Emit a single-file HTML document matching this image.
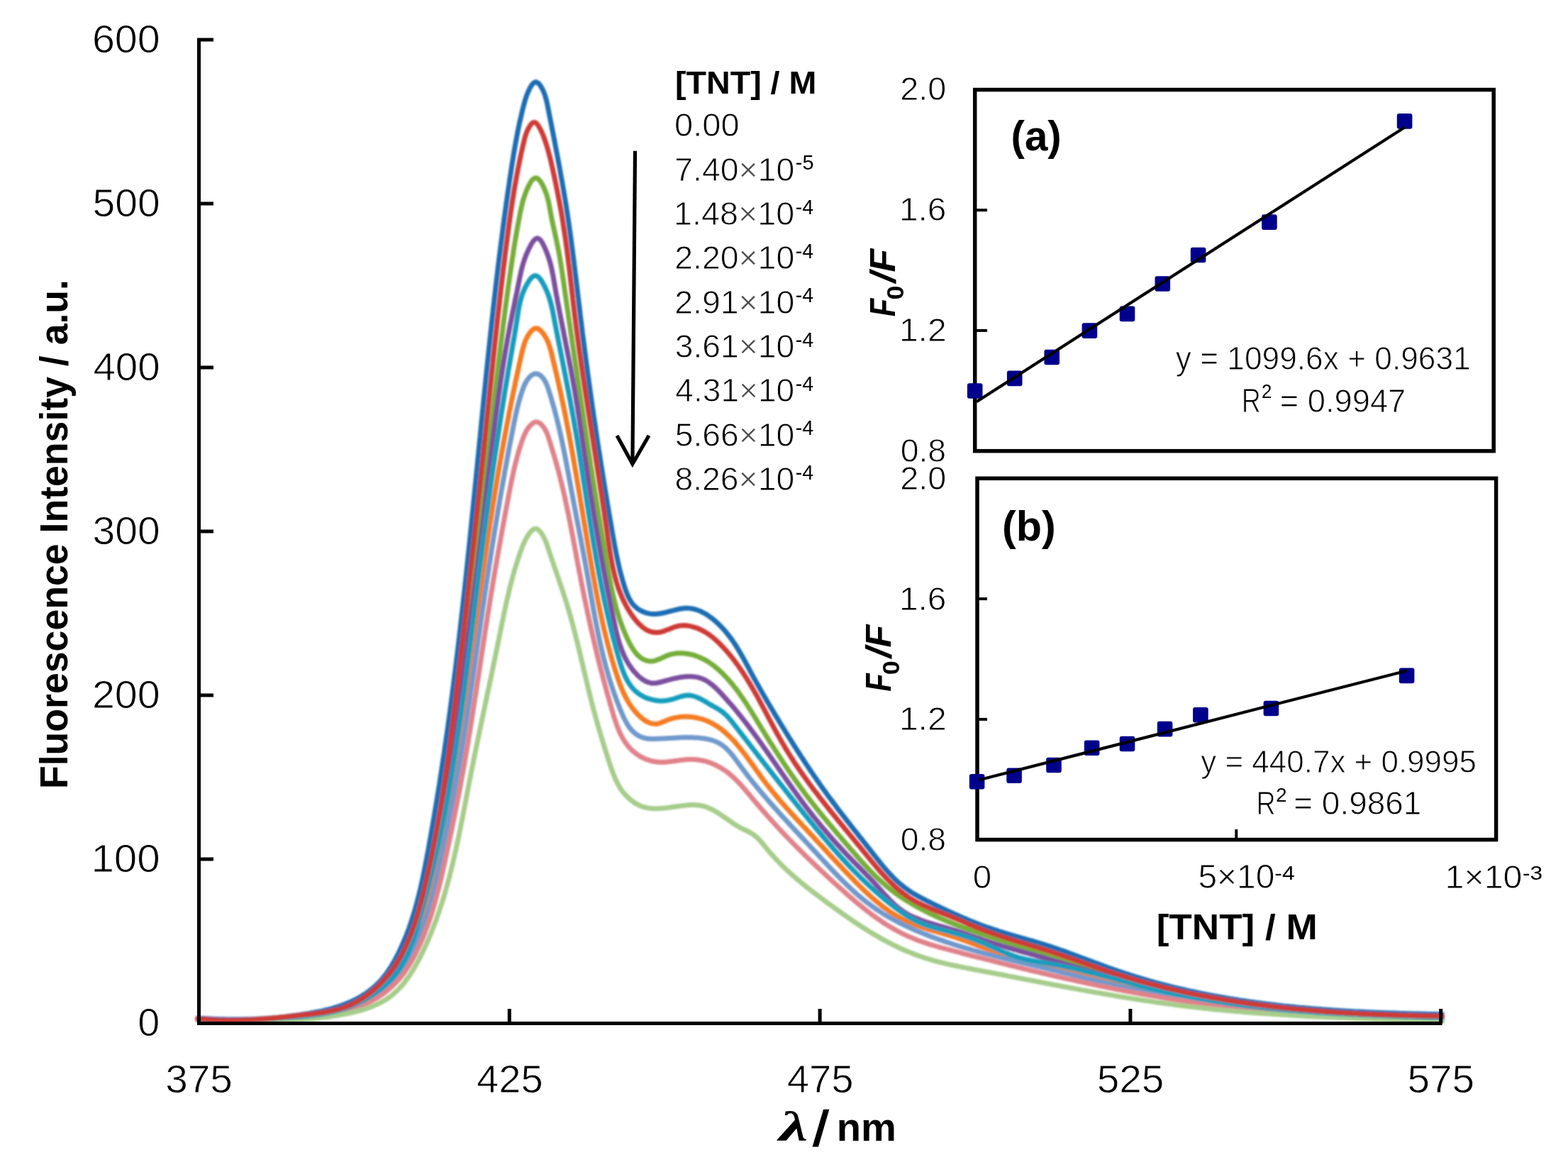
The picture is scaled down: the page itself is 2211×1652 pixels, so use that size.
<!DOCTYPE html><html><head><meta charset="utf-8"><title>Fluorescence quenching by TNT</title>
<style>html,body{margin:0;padding:0;background:#fff;}svg{display:block;}</style></head><body>
<svg xmlns="http://www.w3.org/2000/svg" width="2211" height="1652" viewBox="0 0 2211 1652" font-family="'Liberation Sans', Arial, sans-serif">
<defs><filter id="soft" x="-2%" y="-2%" width="104%" height="104%"><feGaussianBlur stdDeviation="0.8"/></filter><filter id="soft2" x="-2%" y="-2%" width="104%" height="104%"><feGaussianBlur stdDeviation="0.8"/></filter></defs>
<rect width="2211" height="1652" fill="#fff"/>
<g fill="none" stroke-width="7" stroke-linejoin="round" stroke-linecap="round" filter="url(#soft)">
<path d="M279.0,1435.1C280.3,1435.2 281.6,1435.3 283.0,1435.4C284.3,1435.5 285.6,1435.5 286.9,1435.6C288.3,1435.7 289.6,1435.8 290.9,1435.9C292.3,1436.0 293.6,1436.0 294.9,1436.1C296.3,1436.2 297.6,1436.2 298.9,1436.3C300.3,1436.4 301.6,1436.4 302.9,1436.5C304.3,1436.5 305.6,1436.6 306.9,1436.6C308.3,1436.7 309.6,1436.7 310.9,1436.7C312.3,1436.8 313.6,1436.8 314.9,1436.8C316.3,1436.9 317.6,1436.9 318.9,1436.9C320.3,1437.0 321.6,1437.0 322.9,1437.0C324.3,1437.0 325.6,1437.0 326.9,1437.0C328.3,1437.0 329.6,1437.0 331.0,1437.0C332.3,1437.0 333.6,1437.0 335.0,1437.0C336.3,1437.0 337.6,1437.0 339.0,1437.0C340.3,1436.9 341.6,1436.9 343.0,1436.9C344.3,1436.9 345.6,1436.8 347.0,1436.8C348.3,1436.8 349.6,1436.7 351.0,1436.7C352.3,1436.6 353.6,1436.6 355.0,1436.6C356.3,1436.5 357.6,1436.4 359.0,1436.4C360.3,1436.3 361.6,1436.3 363.0,1436.2C364.3,1436.1 365.6,1436.1 367.0,1436.0C368.3,1435.9 369.6,1435.8 371.0,1435.7C372.3,1435.7 373.6,1435.6 375.0,1435.5C376.3,1435.4 377.6,1435.3 378.9,1435.2C380.3,1435.1 381.6,1435.0 382.9,1434.9C384.3,1434.8 385.6,1434.7 386.9,1434.6C388.3,1434.4 389.6,1434.3 390.9,1434.2C392.2,1434.1 393.6,1433.9 394.9,1433.8C396.2,1433.7 397.6,1433.5 398.9,1433.4C400.2,1433.3 401.5,1433.1 402.9,1433.0C404.2,1432.8 405.5,1432.7 406.8,1432.5C408.2,1432.3 409.5,1432.2 410.8,1432.0C412.1,1431.9 413.5,1431.7 414.8,1431.5C416.1,1431.3 417.4,1431.2 418.7,1431.0C420.1,1430.8 421.4,1430.6 422.7,1430.4C424.0,1430.2 425.4,1430.0 426.7,1429.8C428.0,1429.6 429.3,1429.4 430.6,1429.2C431.9,1429.0 433.3,1428.8 434.6,1428.6C435.9,1428.4 437.2,1428.2 438.5,1427.9C439.8,1427.7 441.2,1427.5 442.5,1427.2C443.8,1427.0 445.1,1426.8 446.4,1426.5C447.7,1426.3 449.0,1426.0 450.3,1425.7C451.6,1425.5 452.9,1425.2 454.3,1424.9C455.6,1424.6 456.9,1424.3 458.2,1424.0C459.5,1423.7 460.8,1423.4 462.0,1423.1C463.3,1422.8 464.6,1422.4 465.9,1422.1C467.2,1421.8 468.5,1421.4 469.8,1421.0C471.1,1420.7 472.4,1420.3 473.6,1419.9C474.9,1419.5 476.2,1419.1 477.4,1418.7C478.7,1418.3 480.0,1417.9 481.2,1417.4C482.5,1417.0 483.8,1416.5 485.0,1416.1C486.2,1415.6 487.5,1415.1 488.7,1414.6C490.0,1414.1 491.2,1413.6 492.4,1413.1C493.6,1412.5 494.9,1412.0 496.1,1411.4C497.3,1410.9 498.5,1410.3 499.7,1409.7C500.9,1409.1 502.1,1408.5 503.2,1407.9C504.4,1407.2 505.6,1406.6 506.7,1405.9C507.9,1405.3 509.0,1404.6 510.2,1403.9C511.3,1403.2 512.5,1402.5 513.6,1401.7C514.7,1401.0 515.8,1400.3 516.9,1399.5C518.0,1398.7 519.1,1398.0 520.1,1397.2C521.2,1396.4 522.3,1395.5 523.3,1394.7C524.3,1393.9 525.4,1393.0 526.4,1392.2C527.4,1391.3 528.4,1390.4 529.4,1389.5C530.4,1388.6 531.4,1387.7 532.3,1386.8C533.3,1385.8 534.2,1384.9 535.1,1383.9C536.0,1383.0 536.9,1382.0 537.8,1381.0C538.7,1380.0 539.6,1379.0 540.4,1377.9C541.3,1376.9 542.1,1375.9 542.9,1374.8C543.8,1373.8 544.5,1372.7 545.3,1371.6C546.1,1370.5 546.9,1369.4 547.6,1368.3C548.4,1367.2 549.1,1366.1 549.8,1365.0C550.6,1363.9 551.3,1362.7 552.0,1361.6C552.7,1360.5 553.3,1359.3 554.0,1358.2C554.7,1357.0 555.3,1355.8 556.0,1354.7C556.6,1353.5 557.3,1352.3 557.9,1351.2C558.5,1350.0 559.2,1348.8 559.8,1347.6C560.4,1346.4 561.0,1345.2 561.6,1344.1C562.2,1342.9 562.8,1341.7 563.3,1340.5C563.9,1339.3 564.5,1338.1 565.1,1336.8C565.6,1335.6 566.2,1334.4 566.7,1333.2C567.3,1332.0 567.8,1330.8 568.4,1329.5C568.9,1328.3 569.4,1327.1 569.9,1325.9C570.4,1324.6 571.0,1323.4 571.5,1322.2C572.0,1320.9 572.5,1319.7 573.0,1318.5C573.4,1317.2 573.9,1316.0 574.4,1314.7C574.9,1313.5 575.3,1312.2 575.8,1311.0C576.3,1309.7 576.7,1308.5 577.2,1307.2C577.6,1306.0 578.1,1304.7 578.5,1303.4C578.9,1302.2 579.4,1300.9 579.8,1299.6C580.2,1298.4 580.6,1297.1 581.0,1295.8C581.4,1294.6 581.8,1293.3 582.2,1292.0C582.6,1290.7 583.0,1289.5 583.4,1288.2C583.8,1286.9 584.2,1285.6 584.6,1284.4C584.9,1283.1 585.3,1281.8 585.7,1280.5C586.0,1279.2 586.4,1277.9 586.8,1276.7C587.1,1275.4 587.5,1274.1 587.8,1272.8C588.2,1271.5 588.5,1270.2 588.8,1268.9C589.2,1267.6 589.5,1266.3 589.8,1265.1C590.2,1263.8 590.5,1262.5 590.8,1261.2C591.1,1259.9 591.4,1258.6 591.7,1257.3C592.1,1256.0 592.4,1254.7 592.7,1253.4C593.0,1252.1 593.3,1250.8 593.6,1249.5C593.9,1248.2 594.1,1246.9 594.4,1245.6C594.7,1244.3 595.0,1243.0 595.3,1241.7C595.6,1240.4 595.9,1239.1 596.1,1237.7C596.4,1236.4 596.7,1235.1 597.0,1233.8C597.2,1232.5 597.5,1231.2 597.8,1229.9C598.0,1228.6 598.3,1227.3 598.5,1226.0C598.8,1224.7 599.1,1223.4 599.3,1222.1C599.6,1220.7 599.8,1219.4 600.1,1218.1C600.3,1216.8 600.6,1215.5 600.8,1214.2C601.1,1212.9 601.3,1211.6 601.6,1210.3C601.8,1209.0 602.1,1207.6 602.3,1206.3C602.6,1205.0 602.8,1203.7 603.1,1202.4C603.3,1201.1 603.5,1199.8 603.8,1198.5C604.0,1197.1 604.3,1195.8 604.5,1194.5C604.7,1193.2 605.0,1191.9 605.2,1190.6C605.5,1189.3 605.7,1188.0 605.9,1186.6C606.2,1185.3 606.4,1184.0 606.6,1182.7C606.9,1181.4 607.1,1180.1 607.3,1178.8C607.6,1177.4 607.8,1176.1 608.0,1174.8C608.3,1173.5 608.5,1172.2 608.7,1170.9C609.0,1169.6 609.2,1168.2 609.4,1166.9C609.7,1165.6 609.9,1164.3 610.1,1163.0C610.3,1161.7 610.6,1160.4 610.8,1159.0C611.0,1157.7 611.2,1156.4 611.5,1155.1C611.7,1153.8 611.9,1152.5 612.1,1151.2C612.4,1149.8 612.6,1148.5 612.8,1147.2C613.0,1145.9 613.2,1144.6 613.5,1143.3C613.7,1141.9 613.9,1140.6 614.1,1139.3C614.3,1138.0 614.6,1136.7 614.8,1135.4C615.0,1134.0 615.2,1132.7 615.4,1131.4C615.6,1130.1 615.9,1128.8 616.1,1127.5C616.3,1126.1 616.5,1124.8 616.7,1123.5C616.9,1122.2 617.1,1120.9 617.4,1119.6C617.6,1118.2 617.8,1116.9 618.0,1115.6C618.2,1114.3 618.4,1113.0 618.6,1111.6C618.8,1110.3 619.0,1109.0 619.3,1107.7C619.5,1106.4 619.7,1105.1 619.9,1103.7C620.1,1102.4 620.3,1101.1 620.5,1099.8C620.7,1098.5 620.9,1097.1 621.1,1095.8C621.3,1094.5 621.5,1093.2 621.7,1091.9C621.9,1090.6 622.1,1089.2 622.3,1087.9C622.5,1086.6 622.7,1085.3 622.9,1084.0C623.1,1082.6 623.3,1081.3 623.5,1080.0C623.7,1078.7 623.9,1077.4 624.1,1076.0C624.3,1074.7 624.5,1073.4 624.7,1072.1C624.9,1070.8 625.1,1069.4 625.3,1068.1C625.5,1066.8 625.7,1065.5 625.9,1064.2C626.1,1062.8 626.3,1061.5 626.5,1060.2C626.7,1058.9 626.9,1057.6 627.1,1056.2C627.2,1054.9 627.4,1053.6 627.6,1052.3C627.8,1051.0 628.0,1049.6 628.2,1048.3C628.4,1047.0 628.6,1045.7 628.8,1044.4C629.0,1043.0 629.1,1041.7 629.3,1040.4C629.5,1039.1 629.7,1037.8 629.9,1036.4C630.1,1035.1 630.3,1033.8 630.5,1032.5C630.6,1031.1 630.8,1029.8 631.0,1028.5C631.2,1027.2 631.4,1025.9 631.6,1024.5C631.7,1023.2 631.9,1021.9 632.1,1020.6C632.3,1019.2 632.5,1017.9 632.7,1016.6C632.8,1015.3 633.0,1014.0 633.2,1012.6C633.4,1011.3 633.6,1010.0 633.7,1008.7C633.9,1007.4 634.1,1006.0 634.3,1004.7C634.4,1003.4 634.6,1002.1 634.8,1000.7C635.0,999.4 635.2,998.1 635.3,996.8C635.5,995.4 635.7,994.1 635.9,992.8C636.0,991.5 636.2,990.2 636.4,988.8C636.6,987.5 636.7,986.2 636.9,984.9C637.1,983.5 637.2,982.2 637.4,980.9C637.6,979.6 637.8,978.2 637.9,976.9C638.1,975.6 638.3,974.3 638.4,973.0C638.6,971.6 638.8,970.3 639.0,969.0C639.1,967.7 639.3,966.3 639.5,965.0C639.6,963.7 639.8,962.4 640.0,961.0C640.1,959.7 640.3,958.4 640.5,957.1C640.6,955.7 640.8,954.4 641.0,953.1C641.1,951.8 641.3,950.5 641.5,949.1C641.6,947.8 641.8,946.5 642.0,945.2C642.1,943.8 642.3,942.5 642.4,941.2C642.6,939.9 642.8,938.5 642.9,937.2C643.1,935.9 643.3,934.6 643.4,933.2C643.6,931.9 643.7,930.6 643.9,929.3C644.1,927.9 644.2,926.6 644.4,925.3C644.5,924.0 644.7,922.6 644.9,921.3C645.0,920.0 645.2,918.7 645.3,917.3C645.5,916.0 645.6,914.7 645.8,913.4C646.0,912.0 646.1,910.7 646.3,909.4C646.4,908.1 646.6,906.7 646.7,905.4C646.9,904.1 647.1,902.8 647.2,901.4C647.4,900.1 647.5,898.8 647.7,897.5C647.8,896.1 648.0,894.8 648.1,893.5C648.3,892.2 648.4,890.8 648.6,889.5C648.8,888.2 648.9,886.9 649.1,885.5C649.2,884.2 649.4,882.9 649.5,881.6C649.7,880.2 649.8,878.9 650.0,877.6C650.1,876.2 650.3,874.9 650.4,873.6C650.6,872.3 650.7,870.9 650.9,869.6C651.0,868.3 651.2,867.0 651.3,865.6C651.5,864.3 651.6,863.0 651.8,861.7C651.9,860.3 652.1,859.0 652.2,857.7C652.4,856.4 652.5,855.0 652.6,853.7C652.8,852.4 652.9,851.1 653.1,849.7C653.2,848.4 653.4,847.1 653.5,845.7C653.7,844.4 653.8,843.1 654.0,841.8C654.1,840.4 654.3,839.1 654.4,837.8C654.5,836.5 654.7,835.1 654.8,833.8C655.0,832.5 655.1,831.2 655.3,829.8C655.4,828.5 655.6,827.2 655.7,825.9C655.8,824.5 656.0,823.2 656.1,821.9C656.3,820.5 656.4,819.2 656.6,817.9C656.7,816.6 656.8,815.2 657.0,813.9C657.1,812.6 657.3,811.3 657.4,809.9C657.5,808.6 657.7,807.3 657.8,805.9C658.0,804.6 658.1,803.3 658.2,802.0C658.4,800.6 658.5,799.3 658.7,798.0C658.8,796.7 658.9,795.3 659.1,794.0C659.2,792.7 659.4,791.4 659.5,790.0C659.6,788.7 659.8,787.4 659.9,786.0C660.1,784.7 660.2,783.4 660.3,782.1C660.5,780.7 660.6,779.4 660.7,778.1C660.9,776.8 661.0,775.4 661.2,774.1C661.3,772.8 661.4,771.4 661.6,770.1C661.7,768.8 661.8,767.5 662.0,766.1C662.1,764.8 662.3,763.5 662.4,762.2C662.5,760.8 662.7,759.5 662.8,758.2C662.9,756.8 663.1,755.5 663.2,754.2C663.3,752.9 663.5,751.5 663.6,750.2C663.7,748.9 663.9,747.5 664.0,746.2C664.2,744.9 664.3,743.6 664.4,742.2C664.6,740.9 664.7,739.6 664.8,738.3C665.0,736.9 665.1,735.6 665.2,734.3C665.4,732.9 665.5,731.6 665.6,730.3C665.8,729.0 665.9,727.6 666.0,726.3C666.2,725.0 666.3,723.7 666.4,722.3C666.6,721.0 666.7,719.7 666.8,718.3C667.0,717.0 667.1,715.7 667.2,714.4C667.4,713.0 667.5,711.7 667.6,710.4C667.8,709.0 667.9,707.7 668.0,706.4C668.2,705.1 668.3,703.7 668.4,702.4C668.6,701.1 668.7,699.8 668.8,698.4C668.9,697.1 669.1,695.8 669.2,694.4C669.3,693.1 669.5,691.8 669.6,690.5C669.7,689.1 669.9,687.8 670.0,686.5C670.1,685.1 670.3,683.8 670.4,682.5C670.5,681.2 670.7,679.8 670.8,678.5C670.9,677.2 671.1,675.9 671.2,674.5C671.3,673.2 671.4,671.9 671.6,670.5C671.7,669.2 671.8,667.9 672.0,666.6C672.1,665.2 672.2,663.9 672.4,662.6C672.5,661.2 672.6,659.9 672.8,658.6C672.9,657.3 673.0,655.9 673.1,654.6C673.3,653.3 673.4,651.9 673.5,650.6C673.7,649.3 673.8,648.0 673.9,646.6C674.1,645.3 674.2,644.0 674.3,642.7C674.5,641.3 674.6,640.0 674.7,638.7C674.8,637.3 675.0,636.0 675.1,634.7C675.2,633.4 675.4,632.0 675.5,630.7C675.6,629.4 675.8,628.0 675.9,626.7C676.0,625.4 676.2,624.1 676.3,622.7C676.4,621.4 676.5,620.1 676.7,618.7C676.8,617.4 676.9,616.1 677.1,614.8C677.2,613.4 677.3,612.1 677.5,610.8C677.6,609.5 677.7,608.1 677.9,606.8C678.0,605.5 678.1,604.1 678.2,602.8C678.4,601.5 678.5,600.2 678.6,598.8C678.8,597.5 678.9,596.2 679.0,594.8C679.2,593.5 679.3,592.2 679.4,590.9C679.6,589.5 679.7,588.2 679.8,586.9C680.0,585.6 680.1,584.2 680.2,582.9C680.3,581.6 680.5,580.2 680.6,578.9C680.7,577.6 680.9,576.3 681.0,574.9C681.1,573.6 681.3,572.3 681.4,570.9C681.5,569.6 681.7,568.3 681.8,567.0C681.9,565.6 682.1,564.3 682.2,563.0C682.3,561.7 682.5,560.3 682.6,559.0C682.7,557.7 682.9,556.3 683.0,555.0C683.1,553.7 683.3,552.4 683.4,551.0C683.5,549.7 683.7,548.4 683.8,547.0C683.9,545.7 684.1,544.4 684.2,543.1C684.3,541.7 684.5,540.4 684.6,539.1C684.7,537.8 684.9,536.4 685.0,535.1C685.1,533.8 685.3,532.4 685.4,531.1C685.5,529.8 685.7,528.5 685.8,527.1C686.0,525.8 686.1,524.5 686.2,523.2C686.4,521.8 686.5,520.5 686.6,519.2C686.8,517.8 686.9,516.5 687.0,515.2C687.2,513.9 687.3,512.5 687.4,511.2C687.6,509.9 687.7,508.5 687.9,507.2C688.0,505.9 688.1,504.6 688.3,503.2C688.4,501.9 688.5,500.6 688.7,499.3C688.8,497.9 689.0,496.6 689.1,495.3C689.2,493.9 689.4,492.6 689.5,491.3C689.7,490.0 689.8,488.6 689.9,487.3C690.1,486.0 690.2,484.7 690.4,483.3C690.5,482.0 690.6,480.7 690.8,479.4C690.9,478.0 691.1,476.7 691.2,475.4C691.3,474.0 691.5,472.7 691.6,471.4C691.8,470.1 691.9,468.7 692.1,467.4C692.2,466.1 692.3,464.8 692.5,463.4C692.6,462.1 692.8,460.8 692.9,459.5C693.1,458.1 693.2,456.8 693.3,455.5C693.5,454.1 693.6,452.8 693.8,451.5C693.9,450.2 694.1,448.8 694.2,447.5C694.4,446.2 694.5,444.9 694.7,443.5C694.8,442.2 694.9,440.9 695.1,439.6C695.2,438.2 695.4,436.9 695.5,435.6C695.7,434.2 695.8,432.9 696.0,431.6C696.1,430.3 696.3,428.9 696.4,427.6C696.6,426.3 696.7,425.0 696.9,423.6C697.0,422.3 697.2,421.0 697.3,419.7C697.5,418.3 697.6,417.0 697.8,415.7C697.9,414.4 698.1,413.0 698.2,411.7C698.4,410.4 698.5,409.1 698.7,407.7C698.8,406.4 699.0,405.1 699.1,403.8C699.3,402.4 699.5,401.1 699.6,399.8C699.8,398.5 699.9,397.1 700.1,395.8C700.2,394.5 700.4,393.2 700.5,391.8C700.7,390.5 700.9,389.2 701.0,387.9C701.2,386.5 701.3,385.2 701.5,383.9C701.6,382.6 701.8,381.2 702.0,379.9C702.1,378.6 702.3,377.3 702.4,375.9C702.6,374.6 702.8,373.3 702.9,372.0C703.1,370.6 703.2,369.3 703.4,368.0C703.6,366.7 703.7,365.3 703.9,364.0C704.0,362.7 704.2,361.4 704.4,360.0C704.5,358.7 704.7,357.4 704.9,356.1C705.0,354.7 705.2,353.4 705.4,352.1C705.5,350.8 705.7,349.4 705.9,348.1C706.0,346.8 706.2,345.5 706.4,344.1C706.5,342.8 706.7,341.5 706.9,340.2C707.0,338.8 707.2,337.5 707.4,336.2C707.5,334.9 707.7,333.6 707.9,332.2C708.1,330.9 708.2,329.6 708.4,328.3C708.6,326.9 708.7,325.6 708.9,324.3C709.1,323.0 709.3,321.6 709.4,320.3C709.6,319.0 709.8,317.7 710.0,316.4C710.1,315.0 710.3,313.7 710.5,312.4C710.7,311.1 710.8,309.7 711.0,308.4C711.2,307.1 711.4,305.8 711.5,304.5C711.7,303.1 711.9,301.8 712.1,300.5C712.3,299.2 712.4,297.8 712.6,296.5C712.8,295.2 713.0,293.9 713.2,292.6C713.4,291.2 713.5,289.9 713.7,288.6C713.9,287.3 714.1,285.9 714.3,284.6C714.5,283.3 714.6,282.0 714.8,280.7C715.0,279.3 715.2,278.0 715.4,276.7C715.6,275.4 715.8,274.1 715.9,272.7C716.1,271.4 716.3,270.1 716.5,268.8C716.7,267.4 716.9,266.1 717.1,264.8C717.3,263.5 717.5,262.2 717.7,260.8C717.9,259.5 718.0,258.2 718.2,256.9C718.4,255.6 718.6,254.2 718.8,252.9C719.0,251.6 719.2,250.3 719.4,249.0C719.6,247.6 719.8,246.3 720.0,245.0C720.2,243.7 720.4,242.4 720.6,241.0C720.8,239.7 721.0,238.4 721.2,237.1C721.4,235.8 721.6,234.4 721.8,233.1C722.0,231.8 722.2,230.5 722.4,229.2C722.6,227.9 722.8,226.5 723.1,225.2C723.3,223.9 723.5,222.6 723.7,221.3C723.9,220.0 724.1,218.6 724.3,217.3C724.6,216.0 724.8,214.7 725.0,213.4C725.2,212.1 725.4,210.7 725.7,209.4C725.9,208.1 726.1,206.8 726.4,205.5C726.6,204.2 726.8,202.9 727.1,201.5C727.3,200.2 727.5,198.9 727.8,197.6C728.0,196.3 728.3,195.0 728.5,193.7C728.7,192.4 729.0,191.0 729.3,189.7C729.5,188.4 729.8,187.1 730.0,185.8C730.3,184.5 730.5,183.2 730.8,181.9C731.1,180.6 731.3,179.3 731.6,178.0C731.9,176.7 732.2,175.3 732.4,174.0C732.7,172.7 733.0,171.4 733.3,170.1C733.6,168.8 733.9,167.5 734.2,166.2C734.5,164.9 734.8,163.6 735.1,162.3C735.4,161.0 735.7,159.7 736.0,158.4C736.3,157.1 736.6,155.8 736.9,154.5C737.2,153.2 737.6,151.9 737.9,150.7C738.2,149.4 738.6,148.1 738.9,146.8C739.3,145.5 739.6,144.2 740.0,142.9C740.3,141.6 740.7,140.4 741.1,139.1C741.5,137.8 742.0,136.6 742.4,135.3C742.9,134.0 743.4,132.8 743.9,131.6C744.4,130.3 744.9,129.1 745.5,127.9C746.0,126.7 746.6,125.5 747.2,124.3C747.9,123.1 748.5,121.9 749.2,120.8C750.0,119.7 750.7,118.5 751.7,117.7C752.6,116.8 753.9,115.8 755.0,115.6C756.2,115.5 757.6,116.3 758.7,117.0C759.8,117.7 760.6,118.9 761.4,119.9C762.2,121.0 762.9,122.1 763.5,123.3C764.2,124.4 764.8,125.6 765.4,126.8C766.0,128.0 766.5,129.3 767.0,130.5C767.5,131.7 768.0,133.0 768.4,134.2C768.9,135.5 769.3,136.8 769.6,138.1C770.0,139.3 770.3,140.6 770.6,141.9C770.9,143.2 771.2,144.5 771.5,145.8C771.8,147.1 772.0,148.5 772.3,149.8C772.5,151.1 772.8,152.4 773.1,153.7C773.3,155.0 773.6,156.3 773.8,157.6C774.1,158.9 774.4,160.2 774.6,161.5C774.9,162.9 775.1,164.2 775.4,165.5C775.6,166.8 775.9,168.1 776.2,169.4C776.4,170.7 776.7,172.0 776.9,173.3C777.2,174.6 777.5,175.9 777.7,177.3C778.0,178.6 778.2,179.9 778.5,181.2C778.7,182.5 779.0,183.8 779.3,185.1C779.5,186.4 779.8,187.7 780.0,189.0C780.3,190.4 780.5,191.7 780.8,193.0C781.0,194.3 781.3,195.6 781.6,196.9C781.8,198.2 782.1,199.5 782.3,200.8C782.6,202.1 782.8,203.5 783.1,204.8C783.3,206.1 783.6,207.4 783.8,208.7C784.1,210.0 784.3,211.3 784.6,212.6C784.8,213.9 785.1,215.2 785.3,216.6C785.6,217.9 785.8,219.2 786.1,220.5C786.3,221.8 786.6,223.1 786.8,224.4C787.1,225.7 787.3,227.0 787.5,228.4C787.8,229.7 788.0,231.0 788.3,232.3C788.5,233.6 788.8,234.9 789.0,236.2C789.2,237.5 789.5,238.9 789.7,240.2C790.0,241.5 790.2,242.8 790.4,244.1C790.7,245.4 790.9,246.7 791.1,248.1C791.4,249.4 791.6,250.7 791.8,252.0C792.1,253.3 792.3,254.6 792.5,255.9C792.8,257.2 793.0,258.6 793.2,259.9C793.5,261.2 793.7,262.5 793.9,263.8C794.1,265.1 794.4,266.5 794.6,267.8C794.8,269.1 795.0,270.4 795.3,271.7C795.5,273.0 795.7,274.3 795.9,275.7C796.1,277.0 796.4,278.3 796.6,279.6C796.8,280.9 797.0,282.2 797.2,283.6C797.4,284.9 797.6,286.2 797.9,287.5C798.1,288.8 798.3,290.1 798.5,291.5C798.7,292.8 798.9,294.1 799.1,295.4C799.3,296.7 799.5,298.1 799.7,299.4C799.9,300.7 800.1,302.0 800.3,303.3C800.5,304.7 800.7,306.0 800.9,307.3C801.1,308.6 801.3,309.9 801.5,311.3C801.7,312.6 801.9,313.9 802.1,315.2C802.3,316.5 802.5,317.9 802.6,319.2C802.8,320.5 803.0,321.8 803.2,323.1C803.4,324.5 803.6,325.8 803.8,327.1C803.9,328.4 804.1,329.7 804.3,331.1C804.5,332.4 804.7,333.7 804.9,335.0C805.0,336.4 805.2,337.7 805.4,339.0C805.6,340.3 805.7,341.7 805.9,343.0C806.1,344.3 806.3,345.6 806.4,346.9C806.6,348.3 806.8,349.6 806.9,350.9C807.1,352.2 807.3,353.6 807.5,354.9C807.6,356.2 807.8,357.5 808.0,358.9C808.1,360.2 808.3,361.5 808.5,362.8C808.6,364.1 808.8,365.5 809.0,366.8C809.1,368.1 809.3,369.4 809.5,370.8C809.6,372.1 809.8,373.4 809.9,374.7C810.1,376.1 810.3,377.4 810.4,378.7C810.6,380.0 810.8,381.4 810.9,382.7C811.1,384.0 811.2,385.3 811.4,386.7C811.6,388.0 811.7,389.3 811.9,390.6C812.0,392.0 812.2,393.3 812.4,394.6C812.5,395.9 812.7,397.3 812.8,398.6C813.0,399.9 813.1,401.2 813.3,402.6C813.5,403.9 813.6,405.2 813.8,406.5C813.9,407.9 814.1,409.2 814.2,410.5C814.4,411.8 814.6,413.2 814.7,414.5C814.9,415.8 815.0,417.1 815.2,418.5C815.3,419.8 815.5,421.1 815.7,422.4C815.8,423.8 816.0,425.1 816.1,426.4C816.3,427.7 816.4,429.1 816.6,430.4C816.8,431.7 816.9,433.0 817.1,434.4C817.2,435.7 817.4,437.0 817.6,438.3C817.7,439.7 817.9,441.0 818.0,442.3C818.2,443.6 818.3,445.0 818.5,446.3C818.7,447.6 818.8,448.9 819.0,450.3C819.2,451.6 819.3,452.9 819.5,454.2C819.6,455.6 819.8,456.9 820.0,458.2C820.1,459.5 820.3,460.9 820.5,462.2C820.6,463.5 820.8,464.8 820.9,466.2C821.1,467.5 821.3,468.8 821.4,470.1C821.6,471.5 821.8,472.8 821.9,474.1C822.1,475.4 822.3,476.7 822.4,478.1C822.6,479.4 822.8,480.7 822.9,482.0C823.1,483.4 823.3,484.7 823.5,486.0C823.6,487.3 823.8,488.7 824.0,490.0C824.1,491.3 824.3,492.6 824.5,494.0C824.6,495.3 824.8,496.6 825.0,497.9C825.2,499.2 825.3,500.6 825.5,501.9C825.7,503.2 825.9,504.5 826.0,505.9C826.2,507.2 826.4,508.5 826.6,509.8C826.7,511.2 826.9,512.5 827.1,513.8C827.3,515.1 827.4,516.4 827.6,517.8C827.8,519.1 828.0,520.4 828.1,521.7C828.3,523.1 828.5,524.4 828.7,525.7C828.9,527.0 829.0,528.3 829.2,529.7C829.4,531.0 829.6,532.3 829.8,533.6C829.9,535.0 830.1,536.3 830.3,537.6C830.5,538.9 830.7,540.2 830.8,541.6C831.0,542.9 831.2,544.2 831.4,545.5C831.6,546.9 831.8,548.2 831.9,549.5C832.1,550.8 832.3,552.1 832.5,553.5C832.7,554.8 832.9,556.1 833.1,557.4C833.2,558.7 833.4,560.1 833.6,561.4C833.8,562.7 834.0,564.0 834.2,565.4C834.4,566.7 834.6,568.0 834.7,569.3C834.9,570.6 835.1,572.0 835.3,573.3C835.5,574.6 835.7,575.9 835.9,577.2C836.1,578.6 836.3,579.9 836.5,581.2C836.6,582.5 836.8,583.8 837.0,585.2C837.2,586.5 837.4,587.8 837.6,589.1C837.8,590.4 838.0,591.8 838.2,593.1C838.4,594.4 838.6,595.7 838.8,597.0C839.0,598.4 839.2,599.7 839.4,601.0C839.6,602.3 839.7,603.6 839.9,605.0C840.1,606.3 840.3,607.6 840.5,608.9C840.7,610.2 840.9,611.6 841.1,612.9C841.3,614.2 841.5,615.5 841.7,616.8C841.9,618.2 842.1,619.5 842.3,620.8C842.5,622.1 842.7,623.4 842.9,624.8C843.1,626.1 843.3,627.4 843.5,628.7C843.7,630.0 843.9,631.4 844.1,632.7C844.3,634.0 844.5,635.3 844.8,636.6C845.0,637.9 845.2,639.3 845.4,640.6C845.6,641.9 845.8,643.2 846.0,644.5C846.2,645.9 846.4,647.2 846.6,648.5C846.8,649.8 847.0,651.1 847.2,652.4C847.4,653.8 847.6,655.1 847.8,656.4C848.0,657.7 848.3,659.0 848.5,660.4C848.7,661.7 848.9,663.0 849.1,664.3C849.3,665.6 849.5,666.9 849.7,668.3C849.9,669.6 850.1,670.9 850.4,672.2C850.6,673.5 850.8,674.9 851.0,676.2C851.2,677.5 851.4,678.8 851.6,680.1C851.8,681.4 852.1,682.8 852.3,684.1C852.5,685.4 852.7,686.7 852.9,688.0C853.1,689.3 853.3,690.7 853.6,692.0C853.8,693.3 854.0,694.6 854.2,695.9C854.4,697.2 854.6,698.6 854.9,699.9C855.1,701.2 855.3,702.5 855.5,703.8C855.7,705.1 856.0,706.5 856.2,707.8C856.4,709.1 856.6,710.4 856.8,711.7C857.1,713.0 857.3,714.4 857.5,715.7C857.7,717.0 857.9,718.3 858.2,719.6C858.4,720.9 858.6,722.2 858.8,723.6C859.1,724.9 859.3,726.2 859.5,727.5C859.7,728.8 860.0,730.1 860.2,731.5C860.4,732.8 860.6,734.1 860.9,735.4C861.1,736.7 861.3,738.0 861.5,739.3C861.8,740.7 862.0,742.0 862.2,743.3C862.4,744.6 862.7,745.9 862.9,747.2C863.1,748.6 863.3,749.9 863.6,751.2C863.8,752.5 864.0,753.8 864.3,755.1C864.5,756.4 864.7,757.8 865.0,759.1C865.2,760.4 865.4,761.7 865.7,763.0C865.9,764.3 866.1,765.6 866.4,766.9C866.6,768.3 866.9,769.6 867.1,770.9C867.4,772.2 867.6,773.5 867.9,774.8C868.1,776.1 868.4,777.4 868.6,778.7C868.9,780.1 869.1,781.4 869.4,782.7C869.7,784.0 869.9,785.3 870.2,786.6C870.5,787.9 870.8,789.2 871.1,790.5C871.3,791.8 871.6,793.1 871.9,794.4C872.2,795.7 872.5,797.0 872.8,798.3C873.1,799.6 873.4,800.9 873.7,802.2C874.1,803.5 874.4,804.8 874.7,806.1C875.0,807.4 875.4,808.7 875.7,810.0C876.1,811.3 876.4,812.5 876.8,813.8C877.1,815.1 877.5,816.4 877.8,817.7C878.2,819.0 878.6,820.3 879.0,821.5C879.3,822.8 879.7,824.1 880.1,825.4C880.5,826.6 880.9,827.9 881.3,829.2C881.8,830.4 882.2,831.7 882.6,833.0C883.1,834.2 883.6,835.5 884.1,836.7C884.6,837.9 885.1,839.2 885.6,840.4C886.2,841.6 886.8,842.8 887.4,844.0C888.0,845.2 888.7,846.3 889.4,847.4C890.1,848.6 890.9,849.7 891.7,850.7C892.5,851.8 893.4,852.8 894.3,853.8C895.2,854.7 896.2,855.6 897.2,856.5C898.2,857.3 899.3,858.1 900.4,858.9C901.5,859.6 902.7,860.3 903.9,860.9C905.0,861.5 906.3,862.1 907.5,862.6C908.7,863.1 910.0,863.6 911.3,863.9C912.6,864.3 913.9,864.6 915.2,864.9C916.5,865.1 917.8,865.3 919.1,865.4C920.5,865.5 921.8,865.6 923.1,865.5C924.5,865.5 925.8,865.4 927.1,865.3C928.4,865.2 929.8,865.0 931.1,864.8C932.4,864.6 933.7,864.3 935.0,864.0C936.3,863.8 937.6,863.5 938.9,863.1C940.2,862.8 941.5,862.5 942.8,862.2C944.1,861.8 945.4,861.5 946.7,861.1C948.0,860.8 949.2,860.4 950.5,860.1C951.8,859.8 953.1,859.4 954.4,859.2C955.7,858.9 957.0,858.6 958.3,858.3C959.7,858.1 961.0,857.9 962.3,857.7C963.6,857.5 965.0,857.4 966.3,857.3C967.6,857.3 969.0,857.2 970.3,857.3C971.6,857.3 972.9,857.5 974.3,857.7C975.6,857.8 976.9,858.1 978.2,858.4C979.5,858.7 980.8,859.1 982.1,859.5C983.3,859.9 984.6,860.3 985.8,860.8C987.1,861.3 988.3,861.9 989.5,862.5C990.7,863.0 991.9,863.7 993.0,864.3C994.2,865.0 995.3,865.6 996.5,866.3C997.6,867.1 998.7,867.8 999.8,868.6C1000.9,869.3 1002.0,870.1 1003.0,870.9C1004.1,871.7 1005.1,872.6 1006.2,873.4C1007.2,874.2 1008.2,875.1 1009.2,876.0C1010.2,876.9 1011.2,877.8 1012.2,878.7C1013.1,879.6 1014.1,880.5 1015.0,881.5C1016.0,882.4 1016.9,883.4 1017.8,884.4C1018.8,885.3 1019.7,886.3 1020.6,887.3C1021.4,888.3 1022.3,889.3 1023.2,890.3C1024.0,891.3 1024.9,892.4 1025.7,893.4C1026.6,894.4 1027.4,895.5 1028.2,896.6C1029.0,897.6 1029.8,898.7 1030.6,899.8C1031.4,900.8 1032.2,901.9 1032.9,903.0C1033.7,904.1 1034.4,905.2 1035.2,906.3C1035.9,907.4 1036.7,908.5 1037.4,909.7C1038.1,910.8 1038.8,911.9 1039.5,913.1C1040.2,914.2 1040.9,915.3 1041.6,916.5C1042.3,917.6 1043.0,918.8 1043.6,919.9C1044.3,921.1 1045.0,922.2 1045.6,923.4C1046.3,924.5 1047.0,925.7 1047.6,926.9C1048.3,928.0 1048.9,929.2 1049.5,930.4C1050.2,931.5 1050.8,932.7 1051.5,933.9C1052.1,935.1 1052.7,936.2 1053.4,937.4C1054.0,938.6 1054.6,939.8 1055.3,940.9C1055.9,942.1 1056.5,943.3 1057.1,944.5C1057.8,945.6 1058.4,946.8 1059.0,948.0C1059.7,949.2 1060.3,950.4 1060.9,951.5C1061.6,952.7 1062.2,953.9 1062.8,955.0C1063.5,956.2 1064.1,957.4 1064.8,958.6C1065.4,959.7 1066.1,960.9 1066.7,962.1C1067.4,963.2 1068.0,964.4 1068.7,965.5C1069.3,966.7 1070.0,967.9 1070.6,969.0C1071.3,970.2 1071.9,971.4 1072.6,972.5C1073.2,973.7 1073.9,974.8 1074.6,976.0C1075.2,977.2 1075.9,978.3 1076.6,979.5C1077.2,980.6 1077.9,981.8 1078.6,982.9C1079.2,984.1 1079.9,985.3 1080.6,986.4C1081.2,987.6 1081.9,988.7 1082.6,989.9C1083.3,991.0 1083.9,992.2 1084.6,993.3C1085.3,994.5 1086.0,995.6 1086.7,996.8C1087.3,997.9 1088.0,999.1 1088.7,1000.2C1089.4,1001.3 1090.1,1002.5 1090.8,1003.6C1091.4,1004.8 1092.1,1005.9 1092.8,1007.1C1093.5,1008.2 1094.2,1009.4 1094.9,1010.5C1095.6,1011.6 1096.3,1012.8 1097.0,1013.9C1097.6,1015.1 1098.3,1016.2 1099.0,1017.3C1099.7,1018.5 1100.4,1019.6 1101.1,1020.8C1101.8,1021.9 1102.5,1023.0 1103.2,1024.2C1103.9,1025.3 1104.6,1026.4 1105.3,1027.6C1106.0,1028.7 1106.7,1029.9 1107.4,1031.0C1108.1,1032.1 1108.8,1033.3 1109.5,1034.4C1110.2,1035.5 1110.9,1036.7 1111.6,1037.8C1112.3,1038.9 1113.0,1040.1 1113.7,1041.2C1114.4,1042.3 1115.2,1043.5 1115.9,1044.6C1116.6,1045.7 1117.3,1046.8 1118.0,1048.0C1118.7,1049.1 1119.4,1050.2 1120.1,1051.4C1120.9,1052.5 1121.6,1053.6 1122.3,1054.7C1123.0,1055.9 1123.7,1057.0 1124.4,1058.1C1125.2,1059.2 1125.9,1060.4 1126.6,1061.5C1127.3,1062.6 1128.1,1063.7 1128.8,1064.8C1129.5,1066.0 1130.2,1067.1 1131.0,1068.2C1131.7,1069.3 1132.4,1070.4 1133.1,1071.5C1133.9,1072.7 1134.6,1073.8 1135.3,1074.9C1136.1,1076.0 1136.8,1077.1 1137.6,1078.2C1138.3,1079.3 1139.0,1080.5 1139.8,1081.6C1140.5,1082.7 1141.3,1083.8 1142.0,1084.9C1142.7,1086.0 1143.5,1087.1 1144.2,1088.2C1145.0,1089.3 1145.7,1090.4 1146.5,1091.5C1147.2,1092.6 1148.0,1093.7 1148.7,1094.8C1149.5,1095.9 1150.3,1097.0 1151.0,1098.1C1151.8,1099.2 1152.5,1100.3 1153.3,1101.4C1154.1,1102.5 1154.8,1103.6 1155.6,1104.7C1156.4,1105.8 1157.1,1106.9 1157.9,1108.0C1158.7,1109.1 1159.4,1110.1 1160.2,1111.2C1161.0,1112.3 1161.8,1113.4 1162.5,1114.5C1163.3,1115.6 1164.1,1116.7 1164.9,1117.7C1165.7,1118.8 1166.4,1119.9 1167.2,1121.0C1168.0,1122.1 1168.8,1123.1 1169.6,1124.2C1170.4,1125.3 1171.2,1126.4 1172.0,1127.4C1172.8,1128.5 1173.6,1129.6 1174.4,1130.6C1175.2,1131.7 1176.0,1132.8 1176.8,1133.8C1177.6,1134.9 1178.4,1136.0 1179.2,1137.0C1180.0,1138.1 1180.8,1139.2 1181.6,1140.2C1182.4,1141.3 1183.2,1142.3 1184.0,1143.4C1184.9,1144.5 1185.7,1145.5 1186.5,1146.6C1187.3,1147.6 1188.1,1148.7 1188.9,1149.7C1189.7,1150.8 1190.6,1151.8 1191.4,1152.9C1192.2,1153.9 1193.0,1155.0 1193.8,1156.1C1194.7,1157.1 1195.5,1158.2 1196.3,1159.2C1197.1,1160.3 1198.0,1161.3 1198.8,1162.4C1199.6,1163.4 1200.4,1164.5 1201.3,1165.5C1202.1,1166.5 1202.9,1167.6 1203.7,1168.6C1204.6,1169.7 1205.4,1170.7 1206.2,1171.8C1207.0,1172.8 1207.9,1173.9 1208.7,1174.9C1209.5,1176.0 1210.4,1177.0 1211.2,1178.1C1212.0,1179.1 1212.8,1180.2 1213.7,1181.2C1214.5,1182.2 1215.3,1183.3 1216.2,1184.3C1217.0,1185.4 1217.8,1186.4 1218.6,1187.5C1219.5,1188.5 1220.3,1189.6 1221.1,1190.6C1221.9,1191.7 1222.8,1192.7 1223.6,1193.8C1224.4,1194.8 1225.3,1195.9 1226.1,1196.9C1226.9,1198.0 1227.7,1199.0 1228.6,1200.1C1229.4,1201.1 1230.2,1202.2 1231.0,1203.2C1231.8,1204.3 1232.7,1205.3 1233.5,1206.4C1234.3,1207.4 1235.1,1208.5 1236.0,1209.5C1236.8,1210.5 1237.6,1211.6 1238.5,1212.6C1239.3,1213.7 1240.1,1214.7 1241.0,1215.8C1241.8,1216.8 1242.6,1217.8 1243.5,1218.9C1244.3,1219.9 1245.2,1220.9 1246.0,1221.9C1246.9,1223.0 1247.8,1224.0 1248.6,1225.0C1249.5,1226.0 1250.4,1227.0 1251.3,1228.0C1252.2,1229.0 1253.0,1230.0 1254.0,1231.0C1254.9,1232.0 1255.8,1232.9 1256.7,1233.9C1257.6,1234.9 1258.5,1235.8 1259.5,1236.8C1260.4,1237.7 1261.3,1238.7 1262.3,1239.6C1263.3,1240.5 1264.2,1241.5 1265.2,1242.4C1266.2,1243.3 1267.2,1244.2 1268.2,1245.0C1269.2,1245.9 1270.2,1246.8 1271.2,1247.6C1272.3,1248.5 1273.3,1249.3 1274.4,1250.1C1275.4,1251.0 1276.5,1251.8 1277.6,1252.5C1278.6,1253.3 1279.7,1254.1 1280.8,1254.8C1281.9,1255.6 1283.0,1256.3 1284.2,1257.1C1285.3,1257.8 1286.4,1258.5 1287.6,1259.2C1288.7,1259.9 1289.8,1260.6 1291.0,1261.2C1292.2,1261.9 1293.3,1262.6 1294.5,1263.2C1295.6,1263.9 1296.8,1264.5 1298.0,1265.1C1299.2,1265.8 1300.3,1266.4 1301.5,1267.0C1302.7,1267.6 1303.9,1268.2 1305.1,1268.8C1306.3,1269.4 1307.5,1270.0 1308.7,1270.6C1309.9,1271.2 1311.1,1271.8 1312.2,1272.4C1313.4,1273.0 1314.6,1273.6 1315.8,1274.2C1317.0,1274.8 1318.2,1275.4 1319.4,1276.0C1320.6,1276.5 1321.8,1277.1 1323.0,1277.7C1324.2,1278.3 1325.4,1278.9 1326.6,1279.4C1327.9,1280.0 1329.1,1280.6 1330.3,1281.1C1331.5,1281.7 1332.7,1282.3 1333.9,1282.8C1335.1,1283.4 1336.3,1284.0 1337.5,1284.5C1338.7,1285.1 1339.9,1285.7 1341.2,1286.2C1342.4,1286.8 1343.6,1287.3 1344.8,1287.9C1346.0,1288.4 1347.2,1289.0 1348.5,1289.5C1349.7,1290.0 1350.9,1290.6 1352.1,1291.1C1353.3,1291.7 1354.6,1292.2 1355.8,1292.7C1357.0,1293.2 1358.2,1293.8 1359.5,1294.3C1360.7,1294.8 1361.9,1295.3 1363.2,1295.8C1364.4,1296.4 1365.6,1296.9 1366.9,1297.4C1368.1,1297.9 1369.3,1298.4 1370.6,1298.9C1371.8,1299.4 1373.0,1299.9 1374.3,1300.4C1375.5,1300.9 1376.8,1301.3 1378.0,1301.8C1379.3,1302.3 1380.5,1302.8 1381.7,1303.3C1383.0,1303.7 1384.2,1304.2 1385.5,1304.7C1386.7,1305.1 1388.0,1305.6 1389.3,1306.0C1390.5,1306.5 1391.8,1306.9 1393.0,1307.4C1394.3,1307.8 1395.5,1308.3 1396.8,1308.7C1398.1,1309.1 1399.3,1309.6 1400.6,1310.0C1401.9,1310.4 1403.1,1310.8 1404.4,1311.2C1405.7,1311.6 1406.9,1312.0 1408.2,1312.5C1409.5,1312.9 1410.8,1313.3 1412.0,1313.7C1413.3,1314.0 1414.6,1314.4 1415.9,1314.8C1417.1,1315.2 1418.4,1315.6 1419.7,1316.0C1421.0,1316.4 1422.2,1316.7 1423.5,1317.1C1424.8,1317.5 1426.1,1317.9 1427.4,1318.2C1428.6,1318.6 1429.9,1319.0 1431.2,1319.4C1432.5,1319.7 1433.8,1320.1 1435.1,1320.5C1436.3,1320.8 1437.6,1321.2 1438.9,1321.6C1440.2,1321.9 1441.5,1322.3 1442.8,1322.7C1444.0,1323.0 1445.3,1323.4 1446.6,1323.8C1447.9,1324.1 1449.2,1324.5 1450.5,1324.9C1451.7,1325.2 1453.0,1325.6 1454.3,1326.0C1455.6,1326.3 1456.9,1326.7 1458.1,1327.1C1459.4,1327.5 1460.7,1327.9 1462.0,1328.2C1463.3,1328.6 1464.5,1329.0 1465.8,1329.4C1467.1,1329.8 1468.4,1330.2 1469.6,1330.5C1470.9,1330.9 1472.2,1331.3 1473.5,1331.7C1474.7,1332.1 1476.0,1332.5 1477.3,1332.9C1478.6,1333.4 1479.8,1333.8 1481.1,1334.2C1482.4,1334.6 1483.6,1335.0 1484.9,1335.4C1486.2,1335.9 1487.4,1336.3 1488.7,1336.7C1489.9,1337.2 1491.2,1337.6 1492.5,1338.0C1493.7,1338.5 1495.0,1338.9 1496.2,1339.4C1497.5,1339.8 1498.8,1340.2 1500.0,1340.7C1501.3,1341.1 1502.5,1341.6 1503.8,1342.0C1505.0,1342.5 1506.3,1343.0 1507.6,1343.4C1508.8,1343.9 1510.1,1344.3 1511.3,1344.8C1512.6,1345.2 1513.8,1345.7 1515.1,1346.2C1516.3,1346.6 1517.6,1347.1 1518.8,1347.6C1520.1,1348.0 1521.3,1348.5 1522.6,1349.0C1523.8,1349.4 1525.1,1349.9 1526.3,1350.4C1527.6,1350.8 1528.8,1351.3 1530.1,1351.8C1531.3,1352.3 1532.6,1352.7 1533.8,1353.2C1535.1,1353.7 1536.3,1354.1 1537.6,1354.6C1538.8,1355.1 1540.1,1355.5 1541.3,1356.0C1542.6,1356.5 1543.8,1356.9 1545.1,1357.4C1546.3,1357.9 1547.6,1358.3 1548.8,1358.8C1550.1,1359.3 1551.3,1359.7 1552.6,1360.2C1553.8,1360.7 1555.1,1361.1 1556.3,1361.6C1557.6,1362.0 1558.8,1362.5 1560.1,1362.9C1561.3,1363.4 1562.6,1363.9 1563.8,1364.3C1565.1,1364.8 1566.4,1365.2 1567.6,1365.6C1568.9,1366.1 1570.1,1366.5 1571.4,1367.0C1572.7,1367.4 1573.9,1367.9 1575.2,1368.3C1576.4,1368.7 1577.7,1369.2 1579.0,1369.6C1580.2,1370.0 1581.5,1370.4 1582.8,1370.9C1584.0,1371.3 1585.3,1371.7 1586.6,1372.1C1587.8,1372.5 1589.1,1372.9 1590.4,1373.3C1591.6,1373.8 1592.9,1374.2 1594.2,1374.6C1595.4,1375.0 1596.7,1375.4 1598.0,1375.8C1599.3,1376.2 1600.5,1376.6 1601.8,1377.0C1603.1,1377.4 1604.4,1377.7 1605.6,1378.1C1606.9,1378.5 1608.2,1378.9 1609.5,1379.3C1610.8,1379.7 1612.0,1380.0 1613.3,1380.4C1614.6,1380.8 1615.9,1381.2 1617.2,1381.5C1618.4,1381.9 1619.7,1382.3 1621.0,1382.6C1622.3,1383.0 1623.6,1383.4 1624.9,1383.7C1626.2,1384.1 1627.4,1384.4 1628.7,1384.8C1630.0,1385.1 1631.3,1385.5 1632.6,1385.8C1633.9,1386.2 1635.2,1386.5 1636.5,1386.9C1637.7,1387.2 1639.0,1387.5 1640.3,1387.9C1641.6,1388.2 1642.9,1388.5 1644.2,1388.9C1645.5,1389.2 1646.8,1389.5 1648.1,1389.9C1649.4,1390.2 1650.7,1390.5 1652.0,1390.8C1653.3,1391.1 1654.6,1391.5 1655.9,1391.8C1657.2,1392.1 1658.5,1392.4 1659.8,1392.7C1661.1,1393.0 1662.3,1393.3 1663.6,1393.6C1664.9,1393.9 1666.2,1394.2 1667.5,1394.5C1668.8,1394.8 1670.2,1395.1 1671.5,1395.4C1672.8,1395.7 1674.1,1396.0 1675.4,1396.3C1676.7,1396.6 1678.0,1396.9 1679.3,1397.2C1680.6,1397.4 1681.9,1397.7 1683.2,1398.0C1684.5,1398.3 1685.8,1398.6 1687.1,1398.8C1688.4,1399.1 1689.7,1399.4 1691.0,1399.6C1692.3,1399.9 1693.6,1400.2 1694.9,1400.4C1696.2,1400.7 1697.6,1401.0 1698.9,1401.2C1700.2,1401.5 1701.5,1401.7 1702.8,1402.0C1704.1,1402.2 1705.4,1402.5 1706.7,1402.7C1708.0,1403.0 1709.3,1403.2 1710.7,1403.5C1712.0,1403.7 1713.3,1404.0 1714.6,1404.2C1715.9,1404.5 1717.2,1404.7 1718.5,1404.9C1719.8,1405.2 1721.2,1405.4 1722.5,1405.6C1723.8,1405.9 1725.1,1406.1 1726.4,1406.3C1727.7,1406.5 1729.0,1406.8 1730.4,1407.0C1731.7,1407.2 1733.0,1407.4 1734.3,1407.7C1735.6,1407.9 1736.9,1408.1 1738.3,1408.3C1739.6,1408.5 1740.9,1408.7 1742.2,1408.9C1743.5,1409.1 1744.9,1409.3 1746.2,1409.6C1747.5,1409.8 1748.8,1410.0 1750.1,1410.2C1751.4,1410.4 1752.8,1410.6 1754.1,1410.8C1755.4,1411.0 1756.7,1411.1 1758.0,1411.3C1759.4,1411.5 1760.7,1411.7 1762.0,1411.9C1763.3,1412.1 1764.7,1412.3 1766.0,1412.5C1767.3,1412.7 1768.6,1412.8 1769.9,1413.0C1771.3,1413.2 1772.6,1413.4 1773.9,1413.6C1775.2,1413.7 1776.6,1413.9 1777.9,1414.1C1779.2,1414.2 1780.5,1414.4 1781.8,1414.6C1783.2,1414.8 1784.5,1414.9 1785.8,1415.1C1787.1,1415.3 1788.5,1415.4 1789.8,1415.6C1791.1,1415.7 1792.4,1415.9 1793.8,1416.1C1795.1,1416.2 1796.4,1416.4 1797.7,1416.5C1799.1,1416.7 1800.4,1416.8 1801.7,1417.0C1803.0,1417.1 1804.4,1417.3 1805.7,1417.4C1807.0,1417.6 1808.3,1417.7 1809.7,1417.9C1811.0,1418.0 1812.3,1418.1 1813.7,1418.3C1815.0,1418.4 1816.3,1418.6 1817.6,1418.7C1819.0,1418.8 1820.3,1419.0 1821.6,1419.1C1822.9,1419.2 1824.3,1419.4 1825.6,1419.5C1826.9,1419.6 1828.3,1419.8 1829.6,1419.9C1830.9,1420.0 1832.2,1420.1 1833.6,1420.3C1834.9,1420.4 1836.2,1420.5 1837.6,1420.6C1838.9,1420.7 1840.2,1420.9 1841.5,1421.0C1842.9,1421.1 1844.2,1421.2 1845.5,1421.3C1846.9,1421.4 1848.2,1421.6 1849.5,1421.7C1850.9,1421.8 1852.2,1421.9 1853.5,1422.0C1854.8,1422.1 1856.2,1422.2 1857.5,1422.3C1858.8,1422.4 1860.2,1422.5 1861.5,1422.6C1862.8,1422.7 1864.2,1422.8 1865.5,1422.9C1866.8,1423.0 1868.1,1423.1 1869.5,1423.2C1870.8,1423.3 1872.1,1423.4 1873.5,1423.5C1874.8,1423.6 1876.1,1423.7 1877.5,1423.8C1878.8,1423.9 1880.1,1424.0 1881.5,1424.1C1882.8,1424.1 1884.1,1424.2 1885.5,1424.3C1886.8,1424.4 1888.1,1424.5 1889.4,1424.6C1890.8,1424.7 1892.1,1424.7 1893.4,1424.8C1894.8,1424.9 1896.1,1425.0 1897.4,1425.1C1898.8,1425.1 1900.1,1425.2 1901.4,1425.3C1902.8,1425.4 1904.1,1425.4 1905.4,1425.5C1906.8,1425.6 1908.1,1425.7 1909.4,1425.7C1910.8,1425.8 1912.1,1425.9 1913.4,1425.9C1914.8,1426.0 1916.1,1426.1 1917.4,1426.1C1918.8,1426.2 1920.1,1426.3 1921.4,1426.3C1922.8,1426.4 1924.1,1426.5 1925.4,1426.5C1926.8,1426.6 1928.1,1426.7 1929.4,1426.7C1930.8,1426.8 1932.1,1426.8 1933.4,1426.9C1934.8,1427.0 1936.1,1427.0 1937.4,1427.1C1938.8,1427.1 1940.1,1427.2 1941.4,1427.2C1942.8,1427.3 1944.1,1427.3 1945.4,1427.4C1946.8,1427.4 1948.1,1427.5 1949.4,1427.5C1950.8,1427.6 1952.1,1427.7 1953.4,1427.7C1954.8,1427.7 1956.1,1427.8 1957.4,1427.8C1958.8,1427.9 1960.1,1427.9 1961.4,1428.0C1962.8,1428.0 1964.1,1428.1 1965.4,1428.1C1966.8,1428.2 1968.1,1428.2 1969.4,1428.2C1970.8,1428.3 1972.1,1428.3 1973.4,1428.4C1974.8,1428.4 1976.1,1428.5 1977.4,1428.5C1978.8,1428.5 1980.1,1428.6 1981.4,1428.6C1982.8,1428.6 1984.1,1428.7 1985.4,1428.7C1986.8,1428.8 1988.1,1428.8 1989.4,1428.8C1990.8,1428.9 1992.1,1428.9 1993.4,1428.9C1994.8,1429.0 1996.1,1429.0 1997.4,1429.0C1998.8,1429.1 2000.1,1429.1 2001.4,1429.1C2002.8,1429.1 2004.1,1429.2 2005.4,1429.2C2006.8,1429.2 2008.1,1429.3 2009.4,1429.3C2010.8,1429.3 2012.1,1429.4 2013.4,1429.4C2014.8,1429.4 2016.1,1429.4 2017.4,1429.5C2018.8,1429.5 2020.1,1429.5 2021.4,1429.5C2022.8,1429.6 2024.1,1429.6 2025.4,1429.6C2026.8,1429.6 2028.1,1429.7 2029.5,1429.7C2030.8,1429.7 2032.1,1429.7 2033.5,1429.8" stroke="#1b6db4"/>
<path d="M278.9,1436.2C280.2,1436.4 281.5,1436.6 282.9,1436.8C284.2,1437.0 285.5,1437.1 286.8,1437.3C288.1,1437.5 289.5,1437.6 290.8,1437.7C292.1,1437.9 293.5,1438.0 294.8,1438.1C296.1,1438.2 297.4,1438.3 298.8,1438.4C300.1,1438.5 301.4,1438.6 302.8,1438.7C304.1,1438.8 305.4,1438.8 306.8,1438.9C308.1,1438.9 309.4,1439.0 310.8,1439.0C312.1,1439.0 313.4,1439.1 314.8,1439.1C316.1,1439.1 317.4,1439.1 318.8,1439.1C320.1,1439.1 321.4,1439.1 322.8,1439.1C324.1,1439.1 325.4,1439.0 326.8,1439.0C328.1,1439.0 329.4,1439.0 330.8,1438.9C332.1,1438.9 333.4,1438.8 334.8,1438.8C336.1,1438.7 337.4,1438.6 338.7,1438.6C340.1,1438.5 341.4,1438.4 342.7,1438.4C344.1,1438.3 345.4,1438.2 346.7,1438.1C348.1,1438.0 349.4,1437.9 350.7,1437.9C352.1,1437.8 353.4,1437.7 354.7,1437.6C356.0,1437.5 357.4,1437.4 358.7,1437.3C360.0,1437.2 361.4,1437.0 362.7,1436.9C364.0,1436.8 365.3,1436.7 366.7,1436.6C368.0,1436.5 369.3,1436.4 370.7,1436.3C372.0,1436.1 373.3,1436.0 374.6,1435.9C376.0,1435.8 377.3,1435.7 378.6,1435.6C380.0,1435.4 381.3,1435.3 382.6,1435.2C383.9,1435.1 385.3,1435.0 386.6,1434.9C387.9,1434.8 389.3,1434.6 390.6,1434.5C391.9,1434.4 393.2,1434.3 394.6,1434.2C395.9,1434.1 397.2,1434.0 398.6,1433.9C399.9,1433.8 401.2,1433.7 402.6,1433.6C403.9,1433.5 405.2,1433.4 406.5,1433.3C407.9,1433.3 409.2,1433.2 410.5,1433.1C411.9,1433.0 413.2,1432.9 414.5,1432.8C415.9,1432.7 417.2,1432.6 418.5,1432.5C419.9,1432.5 421.2,1432.4 422.5,1432.3C423.8,1432.2 425.2,1432.1 426.5,1432.0C427.8,1431.9 429.2,1431.8 430.5,1431.6C431.8,1431.5 433.1,1431.4 434.5,1431.3C435.8,1431.2 437.1,1431.0 438.5,1430.9C439.8,1430.8 441.1,1430.6 442.4,1430.5C443.8,1430.3 445.1,1430.2 446.4,1430.0C447.7,1429.8 449.0,1429.6 450.4,1429.4C451.7,1429.3 453.0,1429.1 454.3,1428.8C455.6,1428.6 457.0,1428.4 458.3,1428.2C459.6,1427.9 460.9,1427.7 462.2,1427.4C463.5,1427.1 464.8,1426.9 466.1,1426.6C467.4,1426.3 468.7,1426.0 470.0,1425.6C471.3,1425.3 472.6,1425.0 473.9,1424.6C475.1,1424.3 476.4,1423.9 477.7,1423.5C479.0,1423.1 480.2,1422.7 481.5,1422.3C482.8,1421.8 484.0,1421.4 485.3,1420.9C486.5,1420.5 487.8,1420.0 489.0,1419.5C490.2,1419.0 491.5,1418.5 492.7,1417.9C493.9,1417.4 495.1,1416.8 496.3,1416.3C497.5,1415.7 498.7,1415.1 499.9,1414.5C501.1,1413.9 502.3,1413.3 503.5,1412.7C504.6,1412.0 505.8,1411.4 507.0,1410.7C508.1,1410.0 509.3,1409.4 510.4,1408.7C511.5,1408.0 512.7,1407.3 513.8,1406.6C514.9,1405.8 516.0,1405.1 517.1,1404.3C518.2,1403.6 519.3,1402.8 520.4,1402.1C521.5,1401.3 522.6,1400.5 523.6,1399.7C524.7,1398.9 525.7,1398.1 526.8,1397.2C527.8,1396.4 528.9,1395.5 529.9,1394.7C530.9,1393.8 531.9,1393.0 532.9,1392.1C533.9,1391.2 534.9,1390.3 535.9,1389.4C536.9,1388.5 537.8,1387.6 538.8,1386.6C539.7,1385.7 540.7,1384.8 541.6,1383.8C542.5,1382.8 543.4,1381.9 544.4,1380.9C545.3,1379.9 546.2,1378.9 547.0,1377.9C547.9,1376.9 548.8,1375.9 549.6,1374.9C550.5,1373.9 551.3,1372.8 552.2,1371.8C553.0,1370.7 553.8,1369.7 554.6,1368.6C555.4,1367.5 556.2,1366.5 557.0,1365.4C557.7,1364.3 558.5,1363.2 559.2,1362.1C560.0,1361.0 560.7,1359.9 561.5,1358.8C562.2,1357.7 562.9,1356.5 563.6,1355.4C564.3,1354.3 565.0,1353.1 565.7,1352.0C566.3,1350.8 567.0,1349.7 567.6,1348.5C568.3,1347.3 568.9,1346.2 569.6,1345.0C570.2,1343.8 570.8,1342.6 571.4,1341.4C572.0,1340.3 572.6,1339.1 573.2,1337.9C573.8,1336.7 574.4,1335.5 574.9,1334.2C575.5,1333.0 576.0,1331.8 576.6,1330.6C577.1,1329.4 577.7,1328.2 578.2,1326.9C578.7,1325.7 579.2,1324.5 579.7,1323.3C580.2,1322.0 580.7,1320.8 581.2,1319.5C581.7,1318.3 582.2,1317.1 582.7,1315.8C583.1,1314.6 583.6,1313.3 584.1,1312.1C584.5,1310.8 585.0,1309.6 585.4,1308.3C585.8,1307.0 586.3,1305.8 586.7,1304.5C587.1,1303.2 587.5,1302.0 588.0,1300.7C588.4,1299.4 588.8,1298.2 589.2,1296.9C589.6,1295.6 590.0,1294.4 590.3,1293.1C590.7,1291.8 591.1,1290.5 591.5,1289.2C591.9,1288.0 592.2,1286.7 592.6,1285.4C593.0,1284.1 593.3,1282.8 593.7,1281.5C594.0,1280.3 594.4,1279.0 594.7,1277.7C595.1,1276.4 595.4,1275.1 595.8,1273.8C596.1,1272.5 596.4,1271.2 596.8,1270.0C597.1,1268.7 597.4,1267.4 597.7,1266.1C598.1,1264.8 598.4,1263.5 598.7,1262.2C599.0,1260.9 599.3,1259.6 599.7,1258.3C600.0,1257.0 600.3,1255.7 600.6,1254.4C600.9,1253.1 601.2,1251.8 601.5,1250.5C601.8,1249.2 602.1,1247.9 602.4,1246.6C602.7,1245.3 603.0,1244.0 603.3,1242.7C603.6,1241.4 603.9,1240.1 604.2,1238.8C604.5,1237.5 604.8,1236.2 605.1,1234.9C605.4,1233.6 605.7,1232.3 606.0,1231.0C606.3,1229.7 606.5,1228.4 606.8,1227.1C607.1,1225.8 607.4,1224.5 607.7,1223.2C608.0,1221.9 608.2,1220.6 608.5,1219.3C608.8,1218.0 609.1,1216.7 609.4,1215.4C609.6,1214.1 609.9,1212.8 610.2,1211.5C610.4,1210.2 610.7,1208.9 611.0,1207.6C611.3,1206.2 611.5,1204.9 611.8,1203.6C612.1,1202.3 612.3,1201.0 612.6,1199.7C612.9,1198.4 613.1,1197.1 613.4,1195.8C613.6,1194.5 613.9,1193.2 614.2,1191.9C614.4,1190.6 614.7,1189.3 614.9,1187.9C615.2,1186.6 615.4,1185.3 615.7,1184.0C616.0,1182.7 616.2,1181.4 616.5,1180.1C616.7,1178.8 617.0,1177.5 617.2,1176.2C617.4,1174.8 617.7,1173.5 617.9,1172.2C618.2,1170.9 618.4,1169.6 618.7,1168.3C618.9,1167.0 619.2,1165.7 619.4,1164.4C619.6,1163.0 619.9,1161.7 620.1,1160.4C620.3,1159.1 620.6,1157.8 620.8,1156.5C621.1,1155.2 621.3,1153.9 621.5,1152.5C621.8,1151.2 622.0,1149.9 622.2,1148.6C622.4,1147.3 622.7,1146.0 622.9,1144.7C623.1,1143.4 623.4,1142.0 623.6,1140.7C623.8,1139.4 624.0,1138.1 624.3,1136.8C624.5,1135.5 624.7,1134.2 624.9,1132.8C625.1,1131.5 625.4,1130.2 625.6,1128.9C625.8,1127.6 626.0,1126.3 626.2,1124.9C626.4,1123.6 626.7,1122.3 626.9,1121.0C627.1,1119.7 627.3,1118.4 627.5,1117.1C627.7,1115.7 627.9,1114.4 628.2,1113.1C628.4,1111.8 628.6,1110.5 628.8,1109.2C629.0,1107.8 629.2,1106.5 629.4,1105.2C629.6,1103.9 629.8,1102.6 630.0,1101.2C630.2,1099.9 630.4,1098.6 630.6,1097.3C630.8,1096.0 631.0,1094.7 631.2,1093.3C631.4,1092.0 631.6,1090.7 631.8,1089.4C632.0,1088.1 632.2,1086.7 632.4,1085.4C632.6,1084.1 632.8,1082.8 633.0,1081.5C633.2,1080.2 633.4,1078.8 633.6,1077.5C633.8,1076.2 634.0,1074.9 634.2,1073.6C634.4,1072.2 634.6,1070.9 634.8,1069.6C635.0,1068.3 635.2,1067.0 635.3,1065.6C635.5,1064.3 635.7,1063.0 635.9,1061.7C636.1,1060.4 636.3,1059.0 636.5,1057.7C636.7,1056.4 636.8,1055.1 637.0,1053.8C637.2,1052.4 637.4,1051.1 637.6,1049.8C637.8,1048.5 638.0,1047.2 638.1,1045.8C638.3,1044.5 638.5,1043.2 638.7,1041.9C638.9,1040.6 639.1,1039.2 639.2,1037.9C639.4,1036.6 639.6,1035.3 639.8,1033.9C640.0,1032.6 640.1,1031.3 640.3,1030.0C640.5,1028.7 640.7,1027.3 640.9,1026.0C641.0,1024.7 641.2,1023.4 641.4,1022.1C641.6,1020.7 641.7,1019.4 641.9,1018.1C642.1,1016.8 642.3,1015.4 642.4,1014.1C642.6,1012.8 642.8,1011.5 643.0,1010.2C643.1,1008.8 643.3,1007.5 643.5,1006.2C643.7,1004.9 643.8,1003.5 644.0,1002.2C644.2,1000.9 644.4,999.6 644.5,998.3C644.7,996.9 644.9,995.6 645.0,994.3C645.2,993.0 645.4,991.6 645.6,990.3C645.7,989.0 645.9,987.7 646.1,986.4C646.2,985.0 646.4,983.7 646.6,982.4C646.8,981.1 646.9,979.7 647.1,978.4C647.3,977.1 647.4,975.8 647.6,974.5C647.8,973.1 647.9,971.8 648.1,970.5C648.3,969.2 648.5,967.8 648.6,966.5C648.8,965.2 649.0,963.9 649.1,962.6C649.3,961.2 649.5,959.9 649.6,958.6C649.8,957.3 650.0,955.9 650.1,954.6C650.3,953.3 650.5,952.0 650.6,950.6C650.8,949.3 651.0,948.0 651.1,946.7C651.3,945.4 651.5,944.0 651.7,942.7C651.8,941.4 652.0,940.1 652.2,938.7C652.3,937.4 652.5,936.1 652.7,934.8C652.8,933.5 653.0,932.1 653.2,930.8C653.3,929.5 653.5,928.2 653.7,926.8C653.8,925.5 654.0,924.2 654.2,922.9C654.3,921.5 654.5,920.2 654.7,918.9C654.8,917.6 655.0,916.3 655.2,914.9C655.3,913.6 655.5,912.3 655.7,911.0C655.9,909.6 656.0,908.3 656.2,907.0C656.4,905.7 656.5,904.3 656.7,903.0C656.9,901.7 657.0,900.4 657.2,899.1C657.4,897.7 657.5,896.4 657.7,895.1C657.9,893.8 658.0,892.4 658.2,891.1C658.4,889.8 658.5,888.5 658.7,887.2C658.9,885.8 659.0,884.5 659.2,883.2C659.4,881.9 659.5,880.5 659.7,879.2C659.9,877.9 660.0,876.6 660.2,875.2C660.4,873.9 660.5,872.6 660.7,871.3C660.9,870.0 661.0,868.6 661.2,867.3C661.4,866.0 661.5,864.7 661.7,863.3C661.9,862.0 662.0,860.7 662.2,859.4C662.3,858.0 662.5,856.7 662.7,855.4C662.8,854.1 663.0,852.8 663.2,851.4C663.3,850.1 663.5,848.8 663.7,847.5C663.8,846.1 664.0,844.8 664.2,843.5C664.3,842.2 664.5,840.8 664.7,839.5C664.8,838.2 665.0,836.9 665.2,835.6C665.3,834.2 665.5,832.9 665.6,831.6C665.8,830.3 666.0,828.9 666.1,827.6C666.3,826.3 666.5,825.0 666.6,823.6C666.8,822.3 667.0,821.0 667.1,819.7C667.3,818.3 667.4,817.0 667.6,815.7C667.8,814.4 667.9,813.1 668.1,811.7C668.3,810.4 668.4,809.1 668.6,807.8C668.7,806.4 668.9,805.1 669.1,803.8C669.2,802.5 669.4,801.1 669.6,799.8C669.7,798.5 669.9,797.2 670.0,795.8C670.2,794.5 670.4,793.2 670.5,791.9C670.7,790.6 670.9,789.2 671.0,787.9C671.2,786.6 671.3,785.3 671.5,783.9C671.7,782.6 671.8,781.3 672.0,780.0C672.1,778.6 672.3,777.3 672.5,776.0C672.6,774.7 672.8,773.3 672.9,772.0C673.1,770.7 673.3,769.4 673.4,768.1C673.6,766.7 673.7,765.4 673.9,764.1C674.1,762.8 674.2,761.4 674.4,760.1C674.5,758.8 674.7,757.5 674.9,756.1C675.0,754.8 675.2,753.5 675.3,752.2C675.5,750.8 675.6,749.5 675.8,748.2C676.0,746.9 676.1,745.5 676.3,744.2C676.4,742.9 676.6,741.6 676.7,740.2C676.9,738.9 677.1,737.6 677.2,736.3C677.4,735.0 677.5,733.6 677.7,732.3C677.8,731.0 678.0,729.7 678.2,728.3C678.3,727.0 678.5,725.7 678.6,724.4C678.8,723.0 678.9,721.7 679.1,720.4C679.2,719.1 679.4,717.7 679.6,716.4C679.7,715.1 679.9,713.8 680.0,712.4C680.2,711.1 680.3,709.8 680.5,708.5C680.6,707.1 680.8,705.8 680.9,704.5C681.1,703.2 681.3,701.8 681.4,700.5C681.6,699.2 681.7,697.9 681.9,696.5C682.0,695.2 682.2,693.9 682.3,692.6C682.5,691.2 682.6,689.9 682.8,688.6C682.9,687.3 683.1,685.9 683.2,684.6C683.4,683.3 683.5,682.0 683.7,680.6C683.8,679.3 684.0,678.0 684.1,676.7C684.3,675.3 684.4,674.0 684.6,672.7C684.7,671.4 684.9,670.0 685.1,668.7C685.2,667.4 685.4,666.1 685.5,664.7C685.7,663.4 685.8,662.1 686.0,660.8C686.1,659.4 686.3,658.1 686.4,656.8C686.6,655.5 686.7,654.1 686.9,652.8C687.0,651.5 687.2,650.2 687.3,648.8C687.5,647.5 687.6,646.2 687.7,644.9C687.9,643.5 688.0,642.2 688.2,640.9C688.3,639.6 688.5,638.2 688.6,636.9C688.8,635.6 688.9,634.3 689.1,632.9C689.2,631.6 689.4,630.3 689.5,629.0C689.7,627.6 689.8,626.3 690.0,625.0C690.1,623.7 690.3,622.3 690.4,621.0C690.6,619.7 690.7,618.4 690.9,617.0C691.0,615.7 691.2,614.4 691.3,613.1C691.5,611.7 691.6,610.4 691.8,609.1C691.9,607.8 692.1,606.4 692.2,605.1C692.4,603.8 692.5,602.5 692.7,601.1C692.8,599.8 693.0,598.5 693.1,597.2C693.3,595.8 693.4,594.5 693.6,593.2C693.7,591.9 693.9,590.5 694.0,589.2C694.2,587.9 694.3,586.6 694.5,585.2C694.6,583.9 694.8,582.6 694.9,581.3C695.1,579.9 695.2,578.6 695.4,577.3C695.5,576.0 695.7,574.6 695.8,573.3C696.0,572.0 696.1,570.7 696.3,569.3C696.4,568.0 696.6,566.7 696.7,565.4C696.9,564.0 697.0,562.7 697.2,561.4C697.3,560.1 697.5,558.8 697.6,557.4C697.8,556.1 697.9,554.8 698.1,553.5C698.3,552.1 698.4,550.8 698.6,549.5C698.7,548.2 698.9,546.8 699.0,545.5C699.2,544.2 699.3,542.9 699.5,541.5C699.6,540.2 699.8,538.9 699.9,537.6C700.1,536.2 700.3,534.9 700.4,533.6C700.6,532.3 700.7,530.9 700.9,529.6C701.0,528.3 701.2,527.0 701.3,525.6C701.5,524.3 701.7,523.0 701.8,521.7C702.0,520.3 702.1,519.0 702.3,517.7C702.4,516.4 702.6,515.0 702.8,513.7C702.9,512.4 703.1,511.1 703.2,509.7C703.4,508.4 703.5,507.1 703.7,505.8C703.9,504.5 704.0,503.1 704.2,501.8C704.3,500.5 704.5,499.2 704.7,497.8C704.8,496.5 705.0,495.2 705.1,493.9C705.3,492.5 705.5,491.2 705.6,489.9C705.8,488.6 705.9,487.2 706.1,485.9C706.3,484.6 706.4,483.3 706.6,482.0C706.8,480.6 706.9,479.3 707.1,478.0C707.3,476.7 707.4,475.3 707.6,474.0C707.8,472.7 707.9,471.4 708.1,470.0C708.2,468.7 708.4,467.4 708.6,466.1C708.7,464.7 708.9,463.4 709.1,462.1C709.2,460.8 709.4,459.5 709.6,458.1C709.8,456.8 709.9,455.5 710.1,454.2C710.3,452.8 710.4,451.5 710.6,450.2C710.8,448.9 710.9,447.6 711.1,446.2C711.3,444.9 711.5,443.6 711.6,442.3C711.8,440.9 712.0,439.6 712.1,438.3C712.3,437.0 712.5,435.7 712.7,434.3C712.8,433.0 713.0,431.7 713.2,430.4C713.4,429.0 713.5,427.7 713.7,426.4C713.9,425.1 714.1,423.8 714.3,422.4C714.4,421.1 714.6,419.8 714.8,418.5C715.0,417.2 715.1,415.8 715.3,414.5C715.5,413.2 715.7,411.9 715.9,410.5C716.0,409.2 716.2,407.9 716.4,406.6C716.6,405.3 716.8,403.9 717.0,402.6C717.1,401.3 717.3,400.0 717.5,398.7C717.7,397.3 717.9,396.0 718.1,394.7C718.2,393.4 718.4,392.1 718.6,390.7C718.8,389.4 719.0,388.1 719.2,386.8C719.4,385.5 719.6,384.1 719.8,382.8C719.9,381.5 720.1,380.2 720.3,378.9C720.5,377.5 720.7,376.2 720.9,374.9C721.1,373.6 721.3,372.3 721.5,370.9C721.7,369.6 721.9,368.3 722.1,367.0C722.3,365.7 722.5,364.3 722.7,363.0C722.9,361.7 723.1,360.4 723.3,359.1C723.5,357.8 723.7,356.4 723.9,355.1C724.1,353.8 724.3,352.5 724.5,351.2C724.7,349.9 724.9,348.5 725.1,347.2C725.4,345.9 725.6,344.6 725.8,343.3C726.0,342.0 726.2,340.6 726.4,339.3C726.7,338.0 726.9,336.7 727.1,335.4C727.3,334.1 727.5,332.7 727.8,331.4C728.0,330.1 728.2,328.8 728.4,327.5C728.7,326.2 728.9,324.9 729.1,323.5C729.4,322.2 729.6,320.9 729.8,319.6C730.1,318.3 730.3,317.0 730.5,315.7C730.8,314.4 731.0,313.1 731.3,311.7C731.5,310.4 731.8,309.1 732.0,307.8C732.3,306.5 732.5,305.2 732.8,303.9C733.0,302.6 733.3,301.3 733.5,300.0C733.8,298.7 734.1,297.3 734.3,296.0C734.6,294.7 734.9,293.4 735.2,292.1C735.5,290.8 735.8,289.5 736.1,288.2C736.4,286.9 736.8,285.6 737.1,284.4C737.5,283.1 737.8,281.8 738.2,280.5C738.6,279.2 739.0,278.0 739.4,276.7C739.9,275.4 740.3,274.2 740.8,272.9C741.2,271.7 741.7,270.4 742.2,269.2C742.7,268.0 743.2,266.7 743.8,265.5C744.3,264.3 744.9,263.1 745.5,261.9C746.1,260.7 746.7,259.5 747.3,258.4C748.0,257.2 748.7,256.1 749.5,255.0C750.3,254.0 751.2,252.8 752.2,252.1C753.3,251.4 754.7,250.7 755.9,250.8C757.1,250.9 758.4,251.8 759.4,252.7C760.4,253.5 761.2,254.6 762.0,255.7C762.8,256.7 763.5,257.9 764.1,259.1C764.8,260.2 765.4,261.4 766.0,262.6C766.6,263.8 767.1,265.0 767.6,266.2C768.2,267.5 768.7,268.7 769.1,269.9C769.6,271.2 770.1,272.5 770.5,273.7C770.9,275.0 771.3,276.3 771.7,277.5C772.1,278.8 772.4,280.1 772.7,281.4C773.1,282.7 773.4,284.0 773.7,285.3C773.9,286.6 774.2,287.9 774.5,289.2C774.7,290.5 774.9,291.8 775.2,293.1C775.4,294.5 775.6,295.8 775.9,297.1C776.1,298.4 776.3,299.7 776.6,301.0C776.8,302.3 777.1,303.6 777.3,304.9C777.6,306.3 777.8,307.6 778.1,308.9C778.4,310.2 778.6,311.5 778.9,312.8C779.2,314.1 779.5,315.4 779.7,316.7C780.0,318.0 780.3,319.3 780.6,320.6C780.9,321.9 781.2,323.2 781.5,324.5C781.8,325.8 782.0,327.1 782.3,328.4C782.6,329.7 782.9,331.0 783.2,332.3C783.5,333.6 783.8,334.9 784.1,336.2C784.3,337.5 784.6,338.8 784.9,340.1C785.2,341.4 785.5,342.7 785.7,344.1C786.0,345.4 786.3,346.7 786.5,348.0C786.8,349.3 787.1,350.6 787.3,351.9C787.6,353.2 787.8,354.5 788.1,355.8C788.3,357.1 788.5,358.5 788.8,359.8C789.0,361.1 789.2,362.4 789.5,363.7C789.7,365.0 789.9,366.3 790.1,367.6C790.3,369.0 790.5,370.3 790.8,371.6C791.0,372.9 791.2,374.2 791.4,375.5C791.6,376.9 791.8,378.2 792.0,379.5C792.2,380.8 792.4,382.1 792.6,383.5C792.8,384.8 793.0,386.1 793.2,387.4C793.4,388.7 793.5,390.1 793.7,391.4C793.9,392.7 794.1,394.0 794.3,395.3C794.5,396.7 794.7,398.0 794.9,399.3C795.1,400.6 795.3,401.9 795.4,403.3C795.6,404.6 795.8,405.9 796.0,407.2C796.2,408.5 796.4,409.9 796.6,411.2C796.8,412.5 797.0,413.8 797.1,415.1C797.3,416.5 797.5,417.8 797.7,419.1C797.9,420.4 798.1,421.7 798.3,423.1C798.5,424.4 798.7,425.7 798.9,427.0C799.1,428.3 799.2,429.7 799.4,431.0C799.6,432.3 799.8,433.6 800.0,434.9C800.2,436.2 800.4,437.6 800.6,438.9C800.8,440.2 801.0,441.5 801.2,442.8C801.3,444.2 801.5,445.5 801.7,446.8C801.9,448.1 802.1,449.4 802.3,450.8C802.5,452.1 802.7,453.4 802.9,454.7C803.1,456.0 803.3,457.4 803.5,458.7C803.7,460.0 803.8,461.3 804.0,462.6C804.2,464.0 804.4,465.3 804.6,466.6C804.8,467.9 805.0,469.2 805.2,470.6C805.4,471.9 805.6,473.2 805.8,474.5C806.0,475.8 806.2,477.2 806.4,478.5C806.5,479.8 806.7,481.1 806.9,482.4C807.1,483.7 807.3,485.1 807.5,486.4C807.7,487.7 807.9,489.0 808.1,490.3C808.3,491.7 808.5,493.0 808.7,494.3C808.9,495.6 809.1,496.9 809.3,498.3C809.5,499.6 809.7,500.9 809.8,502.2C810.0,503.5 810.2,504.9 810.4,506.2C810.6,507.5 810.8,508.8 811.0,510.1C811.2,511.5 811.4,512.8 811.6,514.1C811.8,515.4 812.0,516.7 812.2,518.0C812.4,519.4 812.6,520.7 812.8,522.0C813.0,523.3 813.2,524.6 813.4,526.0C813.6,527.3 813.7,528.6 813.9,529.9C814.1,531.2 814.3,532.6 814.5,533.9C814.7,535.2 814.9,536.5 815.1,537.8C815.3,539.2 815.5,540.5 815.7,541.8C815.9,543.1 816.1,544.4 816.3,545.7C816.5,547.1 816.7,548.4 816.9,549.7C817.1,551.0 817.3,552.3 817.5,553.7C817.7,555.0 817.9,556.3 818.1,557.6C818.3,558.9 818.5,560.3 818.7,561.6C818.8,562.9 819.0,564.2 819.2,565.5C819.4,566.8 819.6,568.2 819.8,569.5C820.0,570.8 820.2,572.1 820.4,573.4C820.6,574.8 820.8,576.1 821.0,577.4C821.2,578.7 821.4,580.0 821.6,581.4C821.8,582.7 822.0,584.0 822.2,585.3C822.4,586.6 822.6,587.9 822.8,589.3C823.0,590.6 823.2,591.9 823.4,593.2C823.6,594.5 823.8,595.9 824.0,597.2C824.2,598.5 824.4,599.8 824.6,601.1C824.8,602.5 825.0,603.8 825.2,605.1C825.4,606.4 825.6,607.7 825.8,609.0C826.0,610.4 826.2,611.7 826.4,613.0C826.6,614.3 826.8,615.6 827.0,617.0C827.2,618.3 827.4,619.6 827.6,620.9C827.8,622.2 828.0,623.5 828.2,624.9C828.4,626.2 828.6,627.5 828.8,628.8C829.0,630.1 829.2,631.5 829.4,632.8C829.6,634.1 829.8,635.4 830.0,636.7C830.2,638.0 830.4,639.4 830.6,640.7C830.8,642.0 831.0,643.3 831.2,644.6C831.4,646.0 831.6,647.3 831.8,648.6C832.0,649.9 832.2,651.2 832.4,652.5C832.6,653.9 832.8,655.2 833.0,656.5C833.3,657.8 833.5,659.1 833.7,660.4C833.9,661.8 834.1,663.1 834.3,664.4C834.5,665.7 834.7,667.0 834.9,668.4C835.1,669.7 835.3,671.0 835.5,672.3C835.7,673.6 835.9,674.9 836.1,676.3C836.3,677.6 836.6,678.9 836.8,680.2C837.0,681.5 837.2,682.8 837.4,684.2C837.6,685.5 837.8,686.8 838.0,688.1C838.2,689.4 838.4,690.7 838.6,692.1C838.8,693.4 839.1,694.7 839.3,696.0C839.5,697.3 839.7,698.6 839.9,700.0C840.1,701.3 840.3,702.6 840.5,703.9C840.7,705.2 841.0,706.5 841.2,707.9C841.4,709.2 841.6,710.5 841.8,711.8C842.0,713.1 842.2,714.4 842.5,715.8C842.7,717.1 842.9,718.4 843.1,719.7C843.3,721.0 843.5,722.3 843.7,723.7C844.0,725.0 844.2,726.3 844.4,727.6C844.6,728.9 844.8,730.2 845.0,731.5C845.3,732.9 845.5,734.2 845.7,735.5C845.9,736.8 846.1,738.1 846.4,739.4C846.6,740.8 846.8,742.1 847.0,743.4C847.2,744.7 847.4,746.0 847.7,747.3C847.9,748.6 848.1,750.0 848.3,751.3C848.6,752.6 848.8,753.9 849.0,755.2C849.2,756.5 849.4,757.8 849.7,759.2C849.9,760.5 850.1,761.8 850.3,763.1C850.6,764.4 850.8,765.7 851.0,767.0C851.2,768.4 851.5,769.7 851.7,771.0C851.9,772.3 852.1,773.6 852.4,774.9C852.6,776.2 852.8,777.6 853.1,778.9C853.3,780.2 853.5,781.5 853.7,782.8C854.0,784.1 854.2,785.4 854.4,786.8C854.7,788.1 854.9,789.4 855.1,790.7C855.4,792.0 855.6,793.3 855.8,794.6C856.0,795.9 856.3,797.3 856.5,798.6C856.7,799.9 857.0,801.2 857.2,802.5C857.4,803.8 857.7,805.1 857.9,806.5C858.2,807.8 858.4,809.1 858.6,810.4C858.9,811.7 859.1,813.0 859.4,814.3C859.6,815.6 859.9,816.9 860.1,818.3C860.4,819.6 860.6,820.9 860.9,822.2C861.1,823.5 861.4,824.8 861.6,826.1C861.9,827.4 862.2,828.7 862.5,830.0C862.7,831.3 863.0,832.6 863.3,833.9C863.6,835.2 863.8,836.5 864.1,837.8C864.4,839.1 864.7,840.4 865.0,841.7C865.3,843.0 865.6,844.3 866.0,845.6C866.3,846.9 866.6,848.2 866.9,849.5C867.2,850.8 867.6,852.1 867.9,853.4C868.3,854.7 868.6,856.0 869.0,857.2C869.3,858.5 869.7,859.8 870.1,861.1C870.4,862.4 870.8,863.7 871.2,864.9C871.6,866.2 872.0,867.5 872.4,868.8C872.8,870.0 873.2,871.3 873.6,872.6C874.0,873.8 874.5,875.1 874.9,876.3C875.4,877.6 875.8,878.9 876.3,880.1C876.7,881.4 877.2,882.6 877.7,883.9C878.1,885.1 878.6,886.3 879.1,887.6C879.6,888.8 880.1,890.0 880.6,891.3C881.2,892.5 881.7,893.7 882.2,895.0C882.8,896.2 883.3,897.4 883.9,898.6C884.4,899.8 885.0,901.0 885.6,902.2C886.1,903.4 886.7,904.6 887.3,905.8C887.9,907.0 888.6,908.2 889.2,909.3C889.9,910.5 890.5,911.7 891.2,912.8C891.9,913.9 892.6,915.1 893.4,916.2C894.1,917.3 894.9,918.4 895.7,919.4C896.5,920.5 897.4,921.5 898.3,922.5C899.2,923.4 900.2,924.4 901.2,925.3C902.2,926.1 903.2,927.0 904.3,927.7C905.4,928.5 906.6,929.2 907.8,929.7C909.0,930.3 910.2,930.8 911.5,931.2C912.8,931.5 914.1,931.8 915.4,932.0C916.7,932.1 918.1,932.1 919.4,932.0C920.7,931.9 922.0,931.6 923.3,931.3C924.6,931.0 925.9,930.6 927.1,930.1C928.4,929.6 929.6,929.1 930.8,928.5C932.0,928.0 933.2,927.4 934.5,926.9C935.7,926.3 936.9,925.7 938.1,925.2C939.3,924.7 940.5,924.1 941.8,923.7C943.1,923.2 944.3,922.8 945.6,922.5C946.9,922.1 948.2,921.8 949.5,921.6C950.8,921.3 952.1,921.1 953.5,921.0C954.8,920.8 956.1,920.8 957.4,920.7C958.8,920.7 960.1,920.7 961.4,920.7C962.8,920.8 964.1,920.9 965.4,921.0C966.8,921.1 968.1,921.3 969.4,921.5C970.7,921.7 972.0,922.0 973.3,922.3C974.6,922.5 975.9,922.9 977.2,923.2C978.5,923.6 979.8,924.0 981.0,924.4C982.3,924.8 983.6,925.3 984.8,925.8C986.0,926.3 987.3,926.8 988.5,927.4C989.7,927.9 990.9,928.5 992.1,929.1C993.2,929.7 994.4,930.4 995.6,931.0C996.7,931.7 997.9,932.4 999.0,933.1C1000.1,933.8 1001.2,934.6 1002.3,935.4C1003.4,936.1 1004.5,936.9 1005.5,937.7C1006.6,938.5 1007.6,939.3 1008.7,940.2C1009.7,941.0 1010.7,941.9 1011.7,942.8C1012.7,943.6 1013.7,944.5 1014.7,945.4C1015.7,946.3 1016.7,947.2 1017.6,948.2C1018.6,949.1 1019.5,950.0 1020.5,951.0C1021.4,951.9 1022.3,952.9 1023.2,953.9C1024.2,954.8 1025.1,955.8 1026.0,956.8C1026.9,957.8 1027.7,958.8 1028.6,959.8C1029.5,960.8 1030.4,961.8 1031.2,962.8C1032.1,963.9 1032.9,964.9 1033.7,965.9C1034.6,967.0 1035.4,968.0 1036.2,969.1C1037.1,970.1 1037.9,971.2 1038.7,972.2C1039.5,973.3 1040.3,974.4 1041.1,975.5C1041.8,976.5 1042.6,977.6 1043.4,978.7C1044.2,979.8 1044.9,980.9 1045.7,982.0C1046.5,983.1 1047.2,984.2 1048.0,985.3C1048.7,986.4 1049.5,987.5 1050.2,988.6C1050.9,989.7 1051.7,990.8 1052.4,991.9C1053.1,993.0 1053.9,994.2 1054.6,995.3C1055.3,996.4 1056.0,997.5 1056.7,998.7C1057.4,999.8 1058.1,1000.9 1058.9,1002.0C1059.6,1003.2 1060.3,1004.3 1061.0,1005.4C1061.7,1006.6 1062.4,1007.7 1063.1,1008.8C1063.8,1010.0 1064.5,1011.1 1065.2,1012.3C1065.9,1013.4 1066.5,1014.5 1067.2,1015.7C1067.9,1016.8 1068.6,1017.9 1069.3,1019.1C1070.0,1020.2 1070.7,1021.4 1071.4,1022.5C1072.1,1023.6 1072.8,1024.8 1073.5,1025.9C1074.2,1027.1 1074.9,1028.2 1075.6,1029.3C1076.3,1030.5 1077.0,1031.6 1077.7,1032.7C1078.4,1033.9 1079.1,1035.0 1079.8,1036.1C1080.5,1037.3 1081.2,1038.4 1081.9,1039.5C1082.6,1040.7 1083.3,1041.8 1084.0,1042.9C1084.7,1044.1 1085.4,1045.2 1086.1,1046.3C1086.8,1047.4 1087.6,1048.6 1088.3,1049.7C1089.0,1050.8 1089.7,1051.9 1090.4,1053.1C1091.1,1054.2 1091.8,1055.3 1092.6,1056.4C1093.3,1057.6 1094.0,1058.7 1094.7,1059.8C1095.5,1060.9 1096.2,1062.1 1096.9,1063.2C1097.6,1064.3 1098.4,1065.4 1099.1,1066.5C1099.8,1067.6 1100.5,1068.8 1101.3,1069.9C1102.0,1071.0 1102.7,1072.1 1103.5,1073.2C1104.2,1074.3 1105.0,1075.4 1105.7,1076.5C1106.4,1077.7 1107.2,1078.8 1107.9,1079.9C1108.7,1081.0 1109.4,1082.1 1110.2,1083.2C1110.9,1084.3 1111.7,1085.4 1112.4,1086.5C1113.2,1087.6 1113.9,1088.7 1114.7,1089.8C1115.4,1090.9 1116.2,1092.0 1116.9,1093.1C1117.7,1094.2 1118.5,1095.3 1119.2,1096.4C1120.0,1097.5 1120.8,1098.5 1121.5,1099.6C1122.3,1100.7 1123.1,1101.8 1123.8,1102.9C1124.6,1104.0 1125.4,1105.1 1126.2,1106.1C1127.0,1107.2 1127.7,1108.3 1128.5,1109.4C1129.3,1110.5 1130.1,1111.5 1130.9,1112.6C1131.7,1113.7 1132.5,1114.8 1133.2,1115.8C1134.0,1116.9 1134.8,1118.0 1135.6,1119.1C1136.4,1120.1 1137.2,1121.2 1138.0,1122.3C1138.8,1123.3 1139.6,1124.4 1140.5,1125.4C1141.3,1126.5 1142.1,1127.6 1142.9,1128.6C1143.7,1129.7 1144.5,1130.7 1145.3,1131.8C1146.2,1132.8 1147.0,1133.9 1147.8,1134.9C1148.6,1136.0 1149.5,1137.0 1150.3,1138.1C1151.1,1139.1 1151.9,1140.2 1152.8,1141.2C1153.6,1142.2 1154.4,1143.3 1155.3,1144.3C1156.1,1145.4 1157.0,1146.4 1157.8,1147.4C1158.6,1148.5 1159.5,1149.5 1160.3,1150.5C1161.2,1151.6 1162.0,1152.6 1162.9,1153.6C1163.7,1154.6 1164.6,1155.7 1165.4,1156.7C1166.3,1157.7 1167.1,1158.8 1168.0,1159.8C1168.8,1160.8 1169.7,1161.8 1170.5,1162.8C1171.4,1163.9 1172.2,1164.9 1173.1,1165.9C1174.0,1166.9 1174.8,1167.9 1175.7,1169.0C1176.5,1170.0 1177.4,1171.0 1178.3,1172.0C1179.1,1173.0 1180.0,1174.1 1180.9,1175.1C1181.7,1176.1 1182.6,1177.1 1183.5,1178.1C1184.3,1179.1 1185.2,1180.1 1186.1,1181.1C1186.9,1182.2 1187.8,1183.2 1188.7,1184.2C1189.5,1185.2 1190.4,1186.2 1191.3,1187.2C1192.2,1188.2 1193.0,1189.2 1193.9,1190.2C1194.8,1191.2 1195.6,1192.3 1196.5,1193.3C1197.4,1194.3 1198.3,1195.3 1199.1,1196.3C1200.0,1197.3 1200.9,1198.3 1201.8,1199.3C1202.6,1200.3 1203.5,1201.3 1204.4,1202.3C1205.3,1203.3 1206.1,1204.3 1207.0,1205.3C1207.9,1206.3 1208.8,1207.3 1209.6,1208.3C1210.5,1209.3 1211.4,1210.3 1212.3,1211.3C1213.2,1212.3 1214.1,1213.3 1215.0,1214.3C1215.9,1215.3 1216.8,1216.3 1217.6,1217.3C1218.5,1218.3 1219.4,1219.3 1220.3,1220.2C1221.3,1221.2 1222.2,1222.2 1223.1,1223.2C1224.0,1224.1 1224.9,1225.1 1225.8,1226.1C1226.7,1227.0 1227.7,1228.0 1228.6,1229.0C1229.5,1229.9 1230.5,1230.9 1231.4,1231.8C1232.3,1232.8 1233.3,1233.7 1234.2,1234.6C1235.2,1235.6 1236.1,1236.5 1237.1,1237.4C1238.1,1238.3 1239.0,1239.3 1240.0,1240.2C1241.0,1241.1 1242.0,1242.0 1243.0,1242.9C1244.0,1243.8 1244.9,1244.6 1246.0,1245.5C1247.0,1246.4 1248.0,1247.3 1249.0,1248.1C1250.0,1249.0 1251.0,1249.9 1252.1,1250.7C1253.1,1251.5 1254.1,1252.4 1255.2,1253.2C1256.2,1254.0 1257.3,1254.9 1258.3,1255.7C1259.4,1256.5 1260.5,1257.3 1261.5,1258.1C1262.6,1258.9 1263.7,1259.6 1264.8,1260.4C1265.9,1261.2 1266.9,1262.0 1268.0,1262.7C1269.1,1263.5 1270.2,1264.2 1271.3,1265.0C1272.5,1265.7 1273.6,1266.4 1274.7,1267.2C1275.8,1267.9 1276.9,1268.6 1278.1,1269.3C1279.2,1270.0 1280.3,1270.7 1281.5,1271.4C1282.6,1272.1 1283.7,1272.8 1284.9,1273.5C1286.0,1274.2 1287.2,1274.8 1288.3,1275.5C1289.5,1276.2 1290.7,1276.8 1291.8,1277.5C1293.0,1278.1 1294.1,1278.8 1295.3,1279.4C1296.5,1280.1 1297.7,1280.7 1298.8,1281.3C1300.0,1281.9 1301.2,1282.6 1302.4,1283.2C1303.6,1283.8 1304.8,1284.4 1306.0,1285.0C1307.1,1285.6 1308.3,1286.2 1309.5,1286.8C1310.7,1287.3 1311.9,1287.9 1313.1,1288.5C1314.3,1289.1 1315.5,1289.6 1316.8,1290.2C1318.0,1290.8 1319.2,1291.3 1320.4,1291.9C1321.6,1292.4 1322.8,1293.0 1324.0,1293.5C1325.3,1294.1 1326.5,1294.6 1327.7,1295.1C1328.9,1295.7 1330.1,1296.2 1331.4,1296.7C1332.6,1297.2 1333.8,1297.8 1335.1,1298.3C1336.3,1298.8 1337.5,1299.3 1338.8,1299.8C1340.0,1300.3 1341.2,1300.8 1342.5,1301.3C1343.7,1301.8 1344.9,1302.3 1346.2,1302.8C1347.4,1303.3 1348.7,1303.8 1349.9,1304.2C1351.1,1304.7 1352.4,1305.2 1353.6,1305.7C1354.9,1306.1 1356.1,1306.6 1357.4,1307.1C1358.6,1307.5 1359.9,1308.0 1361.1,1308.5C1362.4,1308.9 1363.6,1309.4 1364.9,1309.8C1366.1,1310.3 1367.4,1310.7 1368.7,1311.2C1369.9,1311.6 1371.2,1312.1 1372.4,1312.5C1373.7,1313.0 1374.9,1313.4 1376.2,1313.8C1377.5,1314.3 1378.7,1314.7 1380.0,1315.1C1381.2,1315.6 1382.5,1316.0 1383.8,1316.4C1385.0,1316.9 1386.3,1317.3 1387.6,1317.7C1388.8,1318.1 1390.1,1318.6 1391.4,1319.0C1392.6,1319.4 1393.9,1319.8 1395.2,1320.2C1396.4,1320.6 1397.7,1321.1 1399.0,1321.5C1400.2,1321.9 1401.5,1322.3 1402.8,1322.7C1404.0,1323.1 1405.3,1323.5 1406.6,1323.9C1407.8,1324.3 1409.1,1324.8 1410.4,1325.2C1411.7,1325.6 1412.9,1326.0 1414.2,1326.4C1415.5,1326.8 1416.7,1327.2 1418.0,1327.6C1419.3,1328.0 1420.5,1328.4 1421.8,1328.8C1423.1,1329.2 1424.4,1329.6 1425.6,1330.0C1426.9,1330.4 1428.2,1330.8 1429.4,1331.2C1430.7,1331.6 1432.0,1332.0 1433.3,1332.4C1434.5,1332.8 1435.8,1333.2 1437.1,1333.6C1438.3,1334.0 1439.6,1334.4 1440.9,1334.8C1442.2,1335.2 1443.4,1335.6 1444.7,1336.1C1446.0,1336.5 1447.2,1336.9 1448.5,1337.3C1449.8,1337.7 1451.0,1338.1 1452.3,1338.5C1453.6,1338.9 1454.9,1339.3 1456.1,1339.7C1457.4,1340.1 1458.7,1340.5 1459.9,1341.0C1461.2,1341.4 1462.5,1341.8 1463.7,1342.2C1465.0,1342.6 1466.3,1343.0 1467.5,1343.4C1468.8,1343.8 1470.1,1344.2 1471.3,1344.7C1472.6,1345.1 1473.9,1345.5 1475.1,1345.9C1476.4,1346.3 1477.7,1346.7 1479.0,1347.1C1480.2,1347.5 1481.5,1347.9 1482.8,1348.4C1484.0,1348.8 1485.3,1349.2 1486.6,1349.6C1487.8,1350.0 1489.1,1350.4 1490.4,1350.8C1491.6,1351.2 1492.9,1351.7 1494.2,1352.1C1495.4,1352.5 1496.7,1352.9 1498.0,1353.3C1499.2,1353.7 1500.5,1354.1 1501.8,1354.5C1503.1,1354.9 1504.3,1355.4 1505.6,1355.8C1506.9,1356.2 1508.1,1356.6 1509.4,1357.0C1510.7,1357.4 1511.9,1357.8 1513.2,1358.2C1514.5,1358.6 1515.7,1359.0 1517.0,1359.4C1518.3,1359.8 1519.6,1360.2 1520.8,1360.6C1522.1,1361.1 1523.4,1361.5 1524.6,1361.9C1525.9,1362.3 1527.2,1362.7 1528.5,1363.1C1529.7,1363.5 1531.0,1363.9 1532.3,1364.3C1533.5,1364.7 1534.8,1365.1 1536.1,1365.5C1537.4,1365.9 1538.6,1366.3 1539.9,1366.7C1541.2,1367.1 1542.4,1367.4 1543.7,1367.8C1545.0,1368.2 1546.3,1368.6 1547.5,1369.0C1548.8,1369.4 1550.1,1369.8 1551.4,1370.2C1552.6,1370.6 1553.9,1371.0 1555.2,1371.4C1556.5,1371.7 1557.8,1372.1 1559.0,1372.5C1560.3,1372.9 1561.6,1373.3 1562.9,1373.7C1564.1,1374.0 1565.4,1374.4 1566.7,1374.8C1568.0,1375.2 1569.3,1375.5 1570.5,1375.9C1571.8,1376.3 1573.1,1376.7 1574.4,1377.0C1575.7,1377.4 1576.9,1377.8 1578.2,1378.1C1579.5,1378.5 1580.8,1378.9 1582.1,1379.2C1583.4,1379.6 1584.6,1380.0 1585.9,1380.3C1587.2,1380.7 1588.5,1381.0 1589.8,1381.4C1591.1,1381.8 1592.3,1382.1 1593.6,1382.5C1594.9,1382.8 1596.2,1383.2 1597.5,1383.5C1598.8,1383.9 1600.1,1384.2 1601.4,1384.5C1602.6,1384.9 1603.9,1385.2 1605.2,1385.6C1606.5,1385.9 1607.8,1386.2 1609.1,1386.6C1610.4,1386.9 1611.7,1387.2 1613.0,1387.6C1614.3,1387.9 1615.5,1388.2 1616.8,1388.6C1618.1,1388.9 1619.4,1389.2 1620.7,1389.5C1622.0,1389.8 1623.3,1390.2 1624.6,1390.5C1625.9,1390.8 1627.2,1391.1 1628.5,1391.4C1629.8,1391.7 1631.1,1392.0 1632.4,1392.4C1633.7,1392.7 1635.0,1393.0 1636.3,1393.3C1637.6,1393.6 1638.9,1393.9 1640.2,1394.2C1641.5,1394.5 1642.8,1394.8 1644.1,1395.1C1645.4,1395.3 1646.7,1395.6 1648.0,1395.9C1649.3,1396.2 1650.6,1396.5 1651.9,1396.8C1653.2,1397.1 1654.5,1397.4 1655.8,1397.6C1657.1,1397.9 1658.4,1398.2 1659.7,1398.5C1661.0,1398.8 1662.3,1399.0 1663.6,1399.3C1664.9,1399.6 1666.2,1399.8 1667.5,1400.1C1668.8,1400.4 1670.2,1400.6 1671.5,1400.9C1672.8,1401.2 1674.1,1401.4 1675.4,1401.7C1676.7,1402.0 1678.0,1402.2 1679.3,1402.5C1680.6,1402.7 1681.9,1403.0 1683.2,1403.2C1684.5,1403.5 1685.9,1403.7 1687.2,1404.0C1688.5,1404.2 1689.8,1404.5 1691.1,1404.7C1692.4,1405.0 1693.7,1405.2 1695.0,1405.4C1696.3,1405.7 1697.7,1405.9 1699.0,1406.2C1700.3,1406.4 1701.6,1406.6 1702.9,1406.9C1704.2,1407.1 1705.5,1407.3 1706.8,1407.6C1708.2,1407.8 1709.5,1408.0 1710.8,1408.2C1712.1,1408.5 1713.4,1408.7 1714.7,1408.9C1716.0,1409.1 1717.4,1409.3 1718.7,1409.6C1720.0,1409.8 1721.3,1410.0 1722.6,1410.2C1723.9,1410.4 1725.3,1410.6 1726.6,1410.8C1727.9,1411.0 1729.2,1411.2 1730.5,1411.5C1731.8,1411.7 1733.2,1411.9 1734.5,1412.1C1735.8,1412.3 1737.1,1412.5 1738.4,1412.7C1739.8,1412.9 1741.1,1413.1 1742.4,1413.3C1743.7,1413.4 1745.0,1413.6 1746.4,1413.8C1747.7,1414.0 1749.0,1414.2 1750.3,1414.4C1751.6,1414.6 1753.0,1414.8 1754.3,1415.0C1755.6,1415.1 1756.9,1415.3 1758.2,1415.5C1759.6,1415.7 1760.9,1415.9 1762.2,1416.0C1763.5,1416.2 1764.8,1416.4 1766.2,1416.6C1767.5,1416.7 1768.8,1416.9 1770.1,1417.1C1771.5,1417.2 1772.8,1417.4 1774.1,1417.6C1775.4,1417.7 1776.7,1417.9 1778.1,1418.1C1779.4,1418.2 1780.7,1418.4 1782.0,1418.6C1783.4,1418.7 1784.7,1418.9 1786.0,1419.0C1787.3,1419.2 1788.7,1419.3 1790.0,1419.5C1791.3,1419.6 1792.6,1419.8 1794.0,1420.0C1795.3,1420.1 1796.6,1420.2 1797.9,1420.4C1799.3,1420.5 1800.6,1420.7 1801.9,1420.8C1803.2,1421.0 1804.6,1421.1 1805.9,1421.3C1807.2,1421.4 1808.5,1421.5 1809.9,1421.7C1811.2,1421.8 1812.5,1422.0 1813.8,1422.1C1815.2,1422.2 1816.5,1422.4 1817.8,1422.5C1819.2,1422.6 1820.5,1422.7 1821.8,1422.9C1823.1,1423.0 1824.5,1423.1 1825.8,1423.3C1827.1,1423.4 1828.4,1423.5 1829.8,1423.6C1831.1,1423.8 1832.4,1423.9 1833.8,1424.0C1835.1,1424.1 1836.4,1424.2 1837.7,1424.3C1839.1,1424.5 1840.4,1424.6 1841.7,1424.7C1843.1,1424.8 1844.4,1424.9 1845.7,1425.0C1847.0,1425.1 1848.4,1425.3 1849.7,1425.4C1851.0,1425.5 1852.4,1425.6 1853.7,1425.7C1855.0,1425.8 1856.3,1425.9 1857.7,1426.0C1859.0,1426.1 1860.3,1426.2 1861.7,1426.3C1863.0,1426.4 1864.3,1426.5 1865.7,1426.6C1867.0,1426.7 1868.3,1426.8 1869.6,1426.9C1871.0,1427.0 1872.3,1427.1 1873.6,1427.2C1875.0,1427.3 1876.3,1427.4 1877.6,1427.4C1879.0,1427.5 1880.3,1427.6 1881.6,1427.7C1882.9,1427.8 1884.3,1427.9 1885.6,1428.0C1886.9,1428.1 1888.3,1428.1 1889.6,1428.2C1890.9,1428.3 1892.3,1428.4 1893.6,1428.5C1894.9,1428.5 1896.3,1428.6 1897.6,1428.7C1898.9,1428.8 1900.2,1428.9 1901.6,1428.9C1902.9,1429.0 1904.2,1429.1 1905.6,1429.2C1906.9,1429.2 1908.2,1429.3 1909.6,1429.4C1910.9,1429.4 1912.2,1429.5 1913.6,1429.6C1914.9,1429.6 1916.2,1429.7 1917.6,1429.8C1918.9,1429.8 1920.2,1429.9 1921.6,1430.0C1922.9,1430.0 1924.2,1430.1 1925.5,1430.2C1926.9,1430.2 1928.2,1430.3 1929.5,1430.4C1930.9,1430.4 1932.2,1430.5 1933.5,1430.5C1934.9,1430.6 1936.2,1430.6 1937.5,1430.7C1938.9,1430.8 1940.2,1430.8 1941.5,1430.9C1942.9,1430.9 1944.2,1431.0 1945.5,1431.0C1946.9,1431.1 1948.2,1431.1 1949.5,1431.2C1950.9,1431.2 1952.2,1431.3 1953.5,1431.3C1954.9,1431.4 1956.2,1431.4 1957.5,1431.5C1958.9,1431.5 1960.2,1431.5 1961.5,1431.6C1962.9,1431.6 1964.2,1431.7 1965.5,1431.7C1966.9,1431.8 1968.2,1431.8 1969.5,1431.8C1970.9,1431.9 1972.2,1431.9 1973.5,1432.0C1974.8,1432.0 1976.2,1432.0 1977.5,1432.1C1978.8,1432.1 1980.2,1432.1 1981.5,1432.2C1982.8,1432.2 1984.2,1432.2 1985.5,1432.3C1986.8,1432.3 1988.2,1432.3 1989.5,1432.4C1990.8,1432.4 1992.2,1432.4 1993.5,1432.5C1994.8,1432.5 1996.2,1432.5 1997.5,1432.6C1998.8,1432.6 2000.2,1432.6 2001.5,1432.6C2002.8,1432.7 2004.2,1432.7 2005.5,1432.7C2006.8,1432.7 2008.2,1432.8 2009.5,1432.8C2010.8,1432.8 2012.2,1432.8 2013.5,1432.9C2014.8,1432.9 2016.2,1432.9 2017.5,1432.9C2018.8,1432.9 2020.2,1433.0 2021.5,1433.0C2022.8,1433.0 2024.2,1433.0 2025.5,1433.0C2026.8,1433.1 2028.2,1433.1 2029.5,1433.1C2030.8,1433.1 2032.2,1433.1 2033.5,1433.1" stroke="#76ae3a"/>
<path d="M279.0,1436.5C280.3,1436.7 281.6,1436.9 283.0,1437.0C284.3,1437.2 285.6,1437.3 286.9,1437.5C288.3,1437.6 289.6,1437.7 290.9,1437.9C292.2,1438.0 293.6,1438.1 294.9,1438.2C296.2,1438.3 297.6,1438.4 298.9,1438.5C300.2,1438.5 301.6,1438.6 302.9,1438.7C304.2,1438.7 305.6,1438.8 306.9,1438.8C308.2,1438.9 309.6,1438.9 310.9,1439.0C312.2,1439.0 313.6,1439.0 314.9,1439.0C316.2,1439.1 317.6,1439.1 318.9,1439.1C320.2,1439.1 321.6,1439.1 322.9,1439.1C324.2,1439.1 325.6,1439.0 326.9,1439.0C328.3,1439.0 329.6,1439.0 330.9,1438.9C332.3,1438.9 333.6,1438.9 334.9,1438.8C336.3,1438.8 337.6,1438.7 338.9,1438.7C340.3,1438.6 341.6,1438.6 342.9,1438.5C344.3,1438.5 345.6,1438.4 346.9,1438.3C348.3,1438.3 349.6,1438.2 350.9,1438.1C352.3,1438.0 353.6,1437.9 354.9,1437.9C356.2,1437.8 357.6,1437.7 358.9,1437.6C360.2,1437.5 361.6,1437.4 362.9,1437.3C364.2,1437.2 365.6,1437.1 366.9,1437.0C368.2,1436.9 369.6,1436.8 370.9,1436.7C372.2,1436.6 373.6,1436.5 374.9,1436.4C376.2,1436.3 377.5,1436.2 378.9,1436.1C380.2,1436.0 381.5,1435.9 382.9,1435.8C384.2,1435.7 385.5,1435.6 386.9,1435.5C388.2,1435.4 389.5,1435.2 390.8,1435.1C392.2,1435.0 393.5,1434.9 394.8,1434.8C396.2,1434.7 397.5,1434.6 398.8,1434.5C400.2,1434.4 401.5,1434.3 402.8,1434.2C404.2,1434.1 405.5,1434.0 406.8,1433.9C408.1,1433.8 409.5,1433.7 410.8,1433.6C412.1,1433.5 413.5,1433.4 414.8,1433.3C416.1,1433.2 417.5,1433.1 418.8,1433.0C420.1,1432.9 421.4,1432.8 422.8,1432.7C424.1,1432.5 425.4,1432.4 426.8,1432.3C428.1,1432.2 429.4,1432.1 430.8,1431.9C432.1,1431.8 433.4,1431.7 434.7,1431.5C436.1,1431.4 437.4,1431.2 438.7,1431.1C440.0,1430.9 441.4,1430.8 442.7,1430.6C444.0,1430.4 445.3,1430.2 446.7,1430.1C448.0,1429.9 449.3,1429.7 450.6,1429.5C451.9,1429.3 453.3,1429.1 454.6,1428.8C455.9,1428.6 457.2,1428.4 458.5,1428.1C459.8,1427.9 461.1,1427.6 462.4,1427.4C463.7,1427.1 465.1,1426.8 466.4,1426.5C467.7,1426.2 469.0,1425.9 470.3,1425.6C471.5,1425.3 472.8,1425.0 474.1,1424.6C475.4,1424.3 476.7,1423.9 478.0,1423.5C479.3,1423.1 480.5,1422.8 481.8,1422.4C483.1,1421.9 484.3,1421.5 485.6,1421.1C486.9,1420.7 488.1,1420.2 489.4,1419.7C490.6,1419.3 491.9,1418.8 493.1,1418.3C494.4,1417.8 495.6,1417.3 496.8,1416.8C498.0,1416.2 499.3,1415.7 500.5,1415.1C501.7,1414.6 502.9,1414.0 504.1,1413.4C505.3,1412.9 506.5,1412.3 507.7,1411.6C508.9,1411.0 510.0,1410.4 511.2,1409.8C512.4,1409.1 513.5,1408.5 514.7,1407.8C515.9,1407.1 517.0,1406.4 518.1,1405.8C519.3,1405.1 520.4,1404.3 521.5,1403.6C522.6,1402.9 523.7,1402.1 524.8,1401.4C525.9,1400.6 527.0,1399.9 528.1,1399.1C529.2,1398.3 530.3,1397.5 531.3,1396.7C532.4,1395.8 533.4,1395.0 534.5,1394.2C535.5,1393.3 536.5,1392.5 537.5,1391.6C538.5,1390.7 539.5,1389.8 540.5,1388.9C541.5,1388.0 542.4,1387.1 543.4,1386.2C544.4,1385.2 545.3,1384.3 546.2,1383.3C547.1,1382.4 548.1,1381.4 548.9,1380.4C549.8,1379.4 550.7,1378.4 551.6,1377.4C552.4,1376.4 553.3,1375.3 554.1,1374.3C554.9,1373.2 555.8,1372.2 556.5,1371.1C557.3,1370.0 558.1,1368.9 558.9,1367.9C559.7,1366.8 560.4,1365.7 561.1,1364.5C561.9,1363.4 562.6,1362.3 563.3,1361.2C564.0,1360.0 564.7,1358.9 565.4,1357.7C566.0,1356.6 566.7,1355.4 567.3,1354.3C568.0,1353.1 568.6,1351.9 569.2,1350.7C569.9,1349.6 570.5,1348.4 571.1,1347.2C571.7,1346.0 572.3,1344.8 572.8,1343.6C573.4,1342.4 574.0,1341.2 574.5,1339.9C575.1,1338.7 575.6,1337.5 576.1,1336.3C576.7,1335.1 577.2,1333.8 577.7,1332.6C578.2,1331.4 578.7,1330.1 579.2,1328.9C579.7,1327.7 580.2,1326.4 580.7,1325.2C581.2,1323.9 581.6,1322.7 582.1,1321.4C582.6,1320.2 583.0,1318.9 583.5,1317.7C583.9,1316.4 584.4,1315.2 584.8,1313.9C585.3,1312.6 585.7,1311.4 586.1,1310.1C586.6,1308.8 587.0,1307.6 587.4,1306.3C587.8,1305.0 588.2,1303.8 588.6,1302.5C589.1,1301.2 589.5,1300.0 589.9,1298.7C590.3,1297.4 590.7,1296.2 591.1,1294.9C591.5,1293.6 591.9,1292.3 592.3,1291.1C592.7,1289.8 593.1,1288.5 593.4,1287.2C593.8,1286.0 594.2,1284.7 594.6,1283.4C595.0,1282.1 595.4,1280.8 595.7,1279.6C596.1,1278.3 596.5,1277.0 596.9,1275.7C597.2,1274.4 597.6,1273.1 598.0,1271.9C598.3,1270.6 598.7,1269.3 599.0,1268.0C599.4,1266.7 599.8,1265.4 600.1,1264.2C600.5,1262.9 600.8,1261.6 601.2,1260.3C601.5,1259.0 601.9,1257.7 602.2,1256.4C602.5,1255.1 602.9,1253.8 603.2,1252.5C603.6,1251.3 603.9,1250.0 604.2,1248.7C604.6,1247.4 604.9,1246.1 605.2,1244.8C605.5,1243.5 605.9,1242.2 606.2,1240.9C606.5,1239.6 606.8,1238.3 607.1,1237.0C607.5,1235.7 607.8,1234.4 608.1,1233.1C608.4,1231.8 608.7,1230.5 609.0,1229.2C609.3,1227.9 609.6,1226.6 609.9,1225.3C610.2,1224.0 610.5,1222.7 610.8,1221.4C611.1,1220.1 611.4,1218.8 611.7,1217.5C612.0,1216.2 612.3,1214.9 612.6,1213.6C612.9,1212.3 613.1,1211.0 613.4,1209.7C613.7,1208.4 614.0,1207.1 614.3,1205.8C614.6,1204.5 614.8,1203.2 615.1,1201.9C615.4,1200.6 615.7,1199.3 615.9,1198.0C616.2,1196.7 616.5,1195.3 616.7,1194.0C617.0,1192.7 617.3,1191.4 617.5,1190.1C617.8,1188.8 618.0,1187.5 618.3,1186.2C618.6,1184.9 618.8,1183.6 619.1,1182.3C619.3,1180.9 619.6,1179.6 619.8,1178.3C620.1,1177.0 620.3,1175.7 620.6,1174.4C620.8,1173.1 621.1,1171.8 621.3,1170.5C621.6,1169.1 621.8,1167.8 622.0,1166.5C622.3,1165.2 622.5,1163.9 622.8,1162.6C623.0,1161.3 623.2,1160.0 623.5,1158.6C623.7,1157.3 623.9,1156.0 624.2,1154.7C624.4,1153.4 624.6,1152.1 624.8,1150.8C625.1,1149.4 625.3,1148.1 625.5,1146.8C625.7,1145.5 626.0,1144.2 626.2,1142.9C626.4,1141.5 626.6,1140.2 626.8,1138.9C627.1,1137.6 627.3,1136.3 627.5,1135.0C627.7,1133.6 627.9,1132.3 628.1,1131.0C628.3,1129.7 628.6,1128.4 628.8,1127.1C629.0,1125.7 629.2,1124.4 629.4,1123.1C629.6,1121.8 629.8,1120.5 630.0,1119.1C630.2,1117.8 630.4,1116.5 630.6,1115.2C630.8,1113.9 631.0,1112.5 631.2,1111.2C631.4,1109.9 631.6,1108.6 631.8,1107.3C632.0,1106.0 632.2,1104.6 632.4,1103.3C632.6,1102.0 632.8,1100.7 633.0,1099.4C633.2,1098.0 633.4,1096.7 633.6,1095.4C633.8,1094.1 634.0,1092.7 634.2,1091.4C634.3,1090.1 634.5,1088.8 634.7,1087.5C634.9,1086.1 635.1,1084.8 635.3,1083.5C635.5,1082.2 635.7,1080.9 635.8,1079.5C636.0,1078.2 636.2,1076.9 636.4,1075.6C636.6,1074.2 636.8,1072.9 637.0,1071.6C637.1,1070.3 637.3,1069.0 637.5,1067.6C637.7,1066.3 637.9,1065.0 638.0,1063.7C638.2,1062.3 638.4,1061.0 638.6,1059.7C638.8,1058.4 638.9,1057.1 639.1,1055.7C639.3,1054.4 639.5,1053.1 639.7,1051.8C639.8,1050.4 640.0,1049.1 640.2,1047.8C640.4,1046.5 640.5,1045.2 640.7,1043.8C640.9,1042.5 641.1,1041.2 641.2,1039.9C641.4,1038.5 641.6,1037.2 641.8,1035.9C641.9,1034.6 642.1,1033.2 642.3,1031.9C642.5,1030.6 642.6,1029.3 642.8,1028.0C643.0,1026.6 643.2,1025.3 643.3,1024.0C643.5,1022.7 643.7,1021.3 643.9,1020.0C644.0,1018.7 644.2,1017.4 644.4,1016.0C644.6,1014.7 644.7,1013.4 644.9,1012.1C645.1,1010.8 645.2,1009.4 645.4,1008.1C645.6,1006.8 645.8,1005.5 645.9,1004.1C646.1,1002.8 646.3,1001.5 646.5,1000.2C646.6,998.8 646.8,997.5 647.0,996.2C647.2,994.9 647.3,993.6 647.5,992.2C647.7,990.9 647.9,989.6 648.0,988.3C648.2,986.9 648.4,985.6 648.6,984.3C648.7,983.0 648.9,981.6 649.1,980.3C649.3,979.0 649.4,977.7 649.6,976.4C649.8,975.0 650.0,973.7 650.2,972.4C650.3,971.1 650.5,969.7 650.7,968.4C650.9,967.1 651.0,965.8 651.2,964.4C651.4,963.1 651.6,961.8 651.7,960.5C651.9,959.2 652.1,957.8 652.3,956.5C652.5,955.2 652.6,953.9 652.8,952.5C653.0,951.2 653.2,949.9 653.3,948.6C653.5,947.3 653.7,945.9 653.9,944.6C654.1,943.3 654.2,942.0 654.4,940.6C654.6,939.3 654.8,938.0 654.9,936.7C655.1,935.3 655.3,934.0 655.5,932.7C655.7,931.4 655.8,930.1 656.0,928.7C656.2,927.4 656.4,926.1 656.5,924.8C656.7,923.4 656.9,922.1 657.1,920.8C657.3,919.5 657.4,918.2 657.6,916.8C657.8,915.5 658.0,914.2 658.1,912.9C658.3,911.5 658.5,910.2 658.7,908.9C658.9,907.6 659.0,906.3 659.2,904.9C659.4,903.6 659.6,902.3 659.7,901.0C659.9,899.6 660.1,898.3 660.3,897.0C660.5,895.7 660.6,894.3 660.8,893.0C661.0,891.7 661.2,890.4 661.3,889.1C661.5,887.7 661.7,886.4 661.9,885.1C662.1,883.8 662.2,882.4 662.4,881.1C662.6,879.8 662.8,878.5 662.9,877.2C663.1,875.8 663.3,874.5 663.5,873.2C663.6,871.9 663.8,870.5 664.0,869.2C664.2,867.9 664.4,866.6 664.5,865.2C664.7,863.9 664.9,862.6 665.1,861.3C665.2,860.0 665.4,858.6 665.6,857.3C665.8,856.0 665.9,854.7 666.1,853.3C666.3,852.0 666.5,850.7 666.6,849.4C666.8,848.0 667.0,846.7 667.2,845.4C667.3,844.1 667.5,842.8 667.7,841.4C667.9,840.1 668.0,838.8 668.2,837.5C668.4,836.1 668.6,834.8 668.7,833.5C668.9,832.2 669.1,830.8 669.2,829.5C669.4,828.2 669.6,826.9 669.8,825.6C669.9,824.2 670.1,822.9 670.3,821.6C670.5,820.3 670.6,818.9 670.8,817.6C671.0,816.3 671.1,815.0 671.3,813.6C671.5,812.3 671.7,811.0 671.8,809.7C672.0,808.3 672.2,807.0 672.3,805.7C672.5,804.4 672.7,803.1 672.8,801.7C673.0,800.4 673.2,799.1 673.4,797.8C673.5,796.4 673.7,795.1 673.9,793.8C674.0,792.5 674.2,791.1 674.4,789.8C674.5,788.5 674.7,787.2 674.9,785.8C675.0,784.5 675.2,783.2 675.4,781.9C675.5,780.5 675.7,779.2 675.9,777.9C676.0,776.6 676.2,775.2 676.4,773.9C676.5,772.6 676.7,771.3 676.9,769.9C677.0,768.6 677.2,767.3 677.3,766.0C677.5,764.7 677.7,763.3 677.8,762.0C678.0,760.7 678.2,759.4 678.3,758.0C678.5,756.7 678.7,755.4 678.8,754.1C679.0,752.7 679.1,751.4 679.3,750.1C679.5,748.8 679.6,747.4 679.8,746.1C679.9,744.8 680.1,743.5 680.3,742.1C680.4,740.8 680.6,739.5 680.7,738.2C680.9,736.8 681.0,735.5 681.2,734.2C681.4,732.9 681.5,731.5 681.7,730.2C681.8,728.9 682.0,727.6 682.1,726.2C682.3,724.9 682.5,723.6 682.6,722.3C682.8,720.9 682.9,719.6 683.1,718.3C683.2,717.0 683.4,715.6 683.6,714.3C683.7,713.0 683.9,711.6 684.0,710.3C684.2,709.0 684.3,707.7 684.5,706.3C684.6,705.0 684.8,703.7 685.0,702.4C685.1,701.0 685.3,699.7 685.4,698.4C685.6,697.1 685.7,695.7 685.9,694.4C686.0,693.1 686.2,691.8 686.3,690.4C686.5,689.1 686.7,687.8 686.8,686.5C687.0,685.1 687.1,683.8 687.3,682.5C687.4,681.2 687.6,679.8 687.7,678.5C687.9,677.2 688.1,675.9 688.2,674.5C688.4,673.2 688.5,671.9 688.7,670.6C688.8,669.2 689.0,667.9 689.1,666.6C689.3,665.3 689.5,663.9 689.6,662.6C689.8,661.3 689.9,660.0 690.1,658.6C690.2,657.3 690.4,656.0 690.6,654.7C690.7,653.3 690.9,652.0 691.0,650.7C691.2,649.4 691.3,648.0 691.5,646.7C691.7,645.4 691.8,644.1 692.0,642.7C692.1,641.4 692.3,640.1 692.5,638.8C692.6,637.4 692.8,636.1 692.9,634.8C693.1,633.5 693.3,632.1 693.4,630.8C693.6,629.5 693.7,628.2 693.9,626.8C694.1,625.5 694.2,624.2 694.4,622.9C694.6,621.5 694.7,620.2 694.9,618.9C695.1,617.6 695.2,616.2 695.4,614.9C695.6,613.6 695.7,612.3 695.9,610.9C696.1,609.6 696.2,608.3 696.4,607.0C696.6,605.6 696.7,604.3 696.9,603.0C697.1,601.7 697.2,600.3 697.4,599.0C697.6,597.7 697.7,596.4 697.9,595.1C698.1,593.7 698.3,592.4 698.4,591.1C698.6,589.8 698.8,588.4 699.0,587.1C699.1,585.8 699.3,584.5 699.5,583.1C699.7,581.8 699.8,580.5 700.0,579.2C700.2,577.9 700.4,576.5 700.5,575.2C700.7,573.9 700.9,572.6 701.1,571.2C701.3,569.9 701.5,568.6 701.6,567.3C701.8,566.0 702.0,564.6 702.2,563.3C702.4,562.0 702.6,560.7 702.7,559.3C702.9,558.0 703.1,556.7 703.3,555.4C703.5,554.1 703.7,552.7 703.9,551.4C704.1,550.1 704.3,548.8 704.5,547.5C704.6,546.1 704.8,544.8 705.0,543.5C705.2,542.2 705.4,540.9 705.6,539.5C705.8,538.2 706.0,536.9 706.2,535.6C706.4,534.3 706.6,532.9 706.8,531.6C707.0,530.3 707.2,529.0 707.4,527.7C707.6,526.3 707.8,525.0 708.0,523.7C708.2,522.4 708.4,521.1 708.7,519.7C708.9,518.4 709.1,517.1 709.3,515.8C709.5,514.5 709.7,513.2 709.9,511.8C710.1,510.5 710.3,509.2 710.6,507.9C710.8,506.6 711.0,505.3 711.2,503.9C711.4,502.6 711.7,501.3 711.9,500.0C712.1,498.7 712.3,497.4 712.5,496.0C712.8,494.7 713.0,493.4 713.2,492.1C713.4,490.8 713.7,489.5 713.9,488.1C714.1,486.8 714.4,485.5 714.6,484.2C714.8,482.9 715.1,481.6 715.3,480.3C715.5,478.9 715.8,477.6 716.0,476.3C716.2,475.0 716.5,473.7 716.7,472.4C717.0,471.1 717.2,469.8 717.4,468.4C717.7,467.1 717.9,465.8 718.2,464.5C718.4,463.2 718.7,461.9 718.9,460.6C719.2,459.3 719.4,458.0 719.7,456.6C719.9,455.3 720.2,454.0 720.5,452.7C720.7,451.4 721.0,450.1 721.2,448.8C721.5,447.5 721.8,446.2 722.0,444.9C722.3,443.6 722.5,442.2 722.8,440.9C723.1,439.6 723.3,438.3 723.6,437.0C723.9,435.7 724.1,434.4 724.4,433.1C724.7,431.8 725.0,430.5 725.2,429.2C725.5,427.9 725.8,426.6 726.0,425.2C726.3,423.9 726.6,422.6 726.8,421.3C727.1,420.0 727.4,418.7 727.6,417.4C727.9,416.1 728.2,414.8 728.5,413.5C728.7,412.2 729.0,410.9 729.3,409.6C729.5,408.3 729.8,406.9 730.0,405.6C730.3,404.3 730.6,403.0 730.8,401.7C731.1,400.4 731.3,399.1 731.6,397.8C731.9,396.5 732.1,395.2 732.4,393.9C732.6,392.5 732.9,391.2 733.2,389.9C733.4,388.6 733.7,387.3 734.0,386.0C734.3,384.7 734.6,383.4 734.9,382.1C735.2,380.8 735.5,379.5 735.8,378.2C736.2,376.9 736.5,375.6 736.9,374.4C737.2,373.1 737.6,371.8 738.0,370.5C738.4,369.2 738.8,368.0 739.2,366.7C739.7,365.4 740.1,364.2 740.6,362.9C741.0,361.7 741.5,360.4 742.0,359.2C742.5,358.0 743.0,356.7 743.6,355.5C744.1,354.3 744.7,353.1 745.2,351.9C745.8,350.7 746.4,349.5 747.0,348.3C747.6,347.1 748.2,345.9 748.9,344.7C749.5,343.6 750.2,342.4 751.0,341.3C751.7,340.2 752.5,339.1 753.4,338.2C754.4,337.3 755.5,336.2 756.7,335.9C757.9,335.7 759.4,336.3 760.4,336.9C761.5,337.6 762.3,338.8 763.1,339.8C763.9,340.9 764.6,342.1 765.2,343.2C765.9,344.4 766.4,345.6 767.0,346.8C767.6,348.0 768.2,349.2 768.7,350.5C769.2,351.7 769.7,352.9 770.2,354.1C770.8,355.4 771.2,356.6 771.7,357.9C772.2,359.1 772.6,360.4 773.1,361.6C773.5,362.9 773.9,364.2 774.3,365.4C774.7,366.7 775.1,368.0 775.5,369.3C775.8,370.6 776.2,371.9 776.5,373.1C776.8,374.4 777.1,375.7 777.5,377.0C777.8,378.3 778.0,379.6 778.3,380.9C778.6,382.2 778.9,383.6 779.1,384.9C779.4,386.2 779.6,387.5 779.9,388.8C780.1,390.1 780.3,391.4 780.6,392.7C780.8,394.1 781.0,395.4 781.3,396.7C781.5,398.0 781.7,399.3 781.9,400.6C782.2,401.9 782.4,403.3 782.6,404.6C782.9,405.9 783.1,407.2 783.3,408.5C783.5,409.8 783.8,411.1 784.0,412.5C784.3,413.8 784.5,415.1 784.7,416.4C785.0,417.7 785.2,419.0 785.5,420.3C785.7,421.6 785.9,423.0 786.2,424.3C786.4,425.6 786.7,426.9 786.9,428.2C787.2,429.5 787.4,430.8 787.7,432.1C787.9,433.5 788.2,434.8 788.4,436.1C788.7,437.4 788.9,438.7 789.2,440.0C789.4,441.3 789.7,442.6 789.9,443.9C790.2,445.2 790.4,446.6 790.7,447.9C791.0,449.2 791.2,450.5 791.5,451.8C791.7,453.1 792.0,454.4 792.2,455.7C792.5,457.0 792.7,458.3 793.0,459.7C793.3,461.0 793.5,462.3 793.8,463.6C794.0,464.9 794.3,466.2 794.6,467.5C794.8,468.8 795.1,470.1 795.3,471.4C795.6,472.7 795.8,474.1 796.1,475.4C796.4,476.7 796.6,478.0 796.9,479.3C797.1,480.6 797.4,481.9 797.7,483.2C797.9,484.5 798.2,485.8 798.4,487.2C798.7,488.5 798.9,489.8 799.2,491.1C799.5,492.4 799.7,493.7 800.0,495.0C800.2,496.3 800.5,497.6 800.7,498.9C801.0,500.2 801.3,501.6 801.5,502.9C801.8,504.2 802.0,505.5 802.3,506.8C802.5,508.1 802.8,509.4 803.0,510.7C803.3,512.0 803.5,513.4 803.8,514.7C804.0,516.0 804.3,517.3 804.5,518.6C804.8,519.9 805.0,521.2 805.3,522.5C805.5,523.8 805.8,525.2 806.0,526.5C806.2,527.8 806.5,529.1 806.7,530.4C807.0,531.7 807.2,533.0 807.5,534.3C807.7,535.7 807.9,537.0 808.2,538.3C808.4,539.6 808.6,540.9 808.9,542.2C809.1,543.5 809.3,544.9 809.6,546.2C809.8,547.5 810.0,548.8 810.3,550.1C810.5,551.4 810.7,552.7 810.9,554.1C811.2,555.4 811.4,556.7 811.6,558.0C811.8,559.3 812.0,560.6 812.3,562.0C812.5,563.3 812.7,564.6 812.9,565.9C813.1,567.2 813.3,568.5 813.6,569.9C813.8,571.2 814.0,572.5 814.2,573.8C814.4,575.1 814.6,576.4 814.8,577.8C815.0,579.1 815.2,580.4 815.4,581.7C815.7,583.0 815.9,584.4 816.1,585.7C816.3,587.0 816.5,588.3 816.7,589.6C816.9,590.9 817.1,592.3 817.3,593.6C817.5,594.9 817.7,596.2 817.9,597.5C818.1,598.9 818.3,600.2 818.5,601.5C818.7,602.8 818.9,604.1 819.1,605.5C819.3,606.8 819.5,608.1 819.7,609.4C819.9,610.7 820.1,612.1 820.3,613.4C820.4,614.7 820.6,616.0 820.8,617.3C821.0,618.7 821.2,620.0 821.4,621.3C821.6,622.6 821.8,623.9 822.0,625.3C822.2,626.6 822.4,627.9 822.6,629.2C822.8,630.5 823.0,631.9 823.2,633.2C823.4,634.5 823.6,635.8 823.8,637.1C824.0,638.5 824.1,639.8 824.3,641.1C824.5,642.4 824.7,643.7 824.9,645.1C825.1,646.4 825.3,647.7 825.5,649.0C825.7,650.3 825.9,651.7 826.1,653.0C826.3,654.3 826.5,655.6 826.7,656.9C826.9,658.3 827.1,659.6 827.3,660.9C827.5,662.2 827.7,663.5 827.9,664.9C828.1,666.2 828.3,667.5 828.5,668.8C828.7,670.1 828.9,671.5 829.1,672.8C829.3,674.1 829.5,675.4 829.7,676.7C829.9,678.1 830.1,679.4 830.3,680.7C830.5,682.0 830.7,683.3 831.0,684.7C831.2,686.0 831.4,687.3 831.6,688.6C831.8,689.9 832.0,691.2 832.2,692.6C832.4,693.9 832.6,695.2 832.8,696.5C833.0,697.8 833.2,699.2 833.5,700.5C833.7,701.8 833.9,703.1 834.1,704.4C834.3,705.7 834.5,707.1 834.7,708.4C834.9,709.7 835.1,711.0 835.4,712.3C835.6,713.6 835.8,715.0 836.0,716.3C836.2,717.6 836.4,718.9 836.7,720.2C836.9,721.5 837.1,722.9 837.3,724.2C837.5,725.5 837.7,726.8 838.0,728.1C838.2,729.4 838.4,730.8 838.6,732.1C838.8,733.4 839.1,734.7 839.3,736.0C839.5,737.3 839.7,738.7 840.0,740.0C840.2,741.3 840.4,742.6 840.6,743.9C840.9,745.2 841.1,746.6 841.3,747.9C841.5,749.2 841.8,750.5 842.0,751.8C842.2,753.1 842.4,754.4 842.7,755.8C842.9,757.1 843.1,758.4 843.4,759.7C843.6,761.0 843.8,762.3 844.0,763.6C844.3,765.0 844.5,766.3 844.7,767.6C845.0,768.9 845.2,770.2 845.4,771.5C845.7,772.8 845.9,774.2 846.2,775.5C846.4,776.8 846.6,778.1 846.9,779.4C847.1,780.7 847.3,782.0 847.6,783.4C847.8,784.7 848.1,786.0 848.3,787.3C848.5,788.6 848.8,789.9 849.0,791.2C849.3,792.5 849.5,793.9 849.8,795.2C850.0,796.5 850.2,797.8 850.5,799.1C850.7,800.4 851.0,801.7 851.2,803.0C851.5,804.3 851.7,805.7 852.0,807.0C852.2,808.3 852.5,809.6 852.7,810.9C853.0,812.2 853.2,813.5 853.5,814.8C853.7,816.1 854.0,817.5 854.2,818.8C854.5,820.1 854.7,821.4 855.0,822.7C855.2,824.0 855.5,825.3 855.8,826.6C856.0,827.9 856.3,829.2 856.5,830.6C856.8,831.9 857.0,833.2 857.3,834.5C857.6,835.8 857.8,837.1 858.1,838.4C858.4,839.7 858.6,841.0 858.9,842.3C859.1,843.6 859.4,844.9 859.7,846.3C859.9,847.6 860.2,848.9 860.5,850.2C860.7,851.5 861.0,852.8 861.3,854.1C861.5,855.4 861.8,856.7 862.1,858.0C862.4,859.3 862.6,860.6 862.9,861.9C863.2,863.3 863.4,864.6 863.7,865.9C864.0,867.2 864.3,868.5 864.5,869.8C864.8,871.1 865.1,872.4 865.4,873.7C865.7,875.0 865.9,876.3 866.2,877.6C866.5,878.9 866.8,880.2 867.1,881.5C867.4,882.8 867.6,884.1 867.9,885.4C868.2,886.7 868.5,888.0 868.8,889.3C869.1,890.6 869.5,891.9 869.8,893.2C870.1,894.5 870.4,895.8 870.8,897.1C871.1,898.4 871.5,899.7 871.8,901.0C872.2,902.3 872.5,903.5 872.9,904.8C873.3,906.1 873.7,907.4 874.1,908.6C874.5,909.9 875.0,911.2 875.4,912.4C875.8,913.7 876.3,914.9 876.8,916.2C877.2,917.4 877.7,918.7 878.2,919.9C878.8,921.1 879.3,922.4 879.8,923.6C880.4,924.8 881.0,926.0 881.5,927.2C882.1,928.4 882.8,929.6 883.4,930.8C884.0,931.9 884.7,933.1 885.4,934.2C886.1,935.4 886.8,936.5 887.5,937.6C888.2,938.8 889.0,939.9 889.8,940.9C890.5,942.0 891.3,943.1 892.2,944.1C893.0,945.2 893.9,946.2 894.7,947.2C895.6,948.2 896.5,949.2 897.5,950.1C898.4,951.1 899.3,952.0 900.3,953.0C901.3,953.9 902.3,954.7 903.3,955.6C904.4,956.4 905.4,957.2 906.6,958.0C907.7,958.7 908.8,959.4 910.0,960.0C911.2,960.6 912.4,961.2 913.6,961.6C914.9,962.1 916.2,962.5 917.5,962.7C918.8,962.9 920.1,963.0 921.5,963.0C922.8,963.1 924.1,962.9 925.5,962.7C926.8,962.6 928.1,962.3 929.4,962.0C930.7,961.7 932.0,961.3 933.3,961.0C934.6,960.7 935.8,960.3 937.1,959.9C938.4,959.5 939.7,959.2 941.0,958.8C942.3,958.5 943.6,958.1 944.9,957.8C946.1,957.5 947.4,957.1 948.7,956.8C950.0,956.5 951.3,956.2 952.6,956.0C954.0,955.7 955.3,955.4 956.6,955.2C957.9,954.9 959.2,954.7 960.5,954.5C961.8,954.3 963.2,954.2 964.5,954.0C965.8,953.9 967.2,953.8 968.5,953.7C969.8,953.6 971.2,953.6 972.5,953.6C973.8,953.6 975.2,953.6 976.5,953.7C977.8,953.8 979.1,953.9 980.5,954.1C981.8,954.3 983.1,954.6 984.4,954.9C985.7,955.2 987.0,955.6 988.2,956.0C989.5,956.5 990.7,957.0 991.9,957.5C993.2,958.1 994.3,958.7 995.5,959.3C996.7,960.0 997.8,960.7 998.9,961.4C1000.0,962.2 1001.1,963.0 1002.2,963.8C1003.2,964.6 1004.3,965.4 1005.3,966.3C1006.3,967.1 1007.3,968.0 1008.3,968.9C1009.3,969.8 1010.3,970.7 1011.2,971.7C1012.2,972.6 1013.1,973.5 1014.0,974.5C1015.0,975.5 1015.9,976.4 1016.8,977.4C1017.7,978.4 1018.6,979.3 1019.5,980.3C1020.4,981.3 1021.3,982.3 1022.2,983.3C1023.1,984.3 1024.0,985.3 1024.9,986.3C1025.8,987.3 1026.7,988.3 1027.5,989.3C1028.4,990.3 1029.3,991.3 1030.2,992.3C1031.0,993.3 1031.9,994.3 1032.8,995.3C1033.6,996.4 1034.5,997.4 1035.4,998.4C1036.2,999.4 1037.1,1000.5 1037.9,1001.5C1038.8,1002.5 1039.6,1003.5 1040.4,1004.6C1041.3,1005.6 1042.1,1006.6 1043.0,1007.7C1043.8,1008.7 1044.6,1009.8 1045.5,1010.8C1046.3,1011.9 1047.1,1012.9 1047.9,1014.0C1048.8,1015.0 1049.6,1016.1 1050.4,1017.1C1051.2,1018.2 1052.0,1019.2 1052.9,1020.3C1053.7,1021.3 1054.5,1022.4 1055.3,1023.5C1056.1,1024.5 1056.9,1025.6 1057.7,1026.7C1058.5,1027.7 1059.3,1028.8 1060.1,1029.9C1060.9,1030.9 1061.7,1032.0 1062.5,1033.1C1063.3,1034.2 1064.1,1035.2 1064.8,1036.3C1065.6,1037.4 1066.4,1038.5 1067.2,1039.5C1068.0,1040.6 1068.8,1041.7 1069.6,1042.8C1070.3,1043.9 1071.1,1045.0 1071.9,1046.0C1072.7,1047.1 1073.4,1048.2 1074.2,1049.3C1075.0,1050.4 1075.8,1051.5 1076.5,1052.6C1077.3,1053.7 1078.1,1054.7 1078.8,1055.8C1079.6,1056.9 1080.4,1058.0 1081.1,1059.1C1081.9,1060.2 1082.7,1061.3 1083.4,1062.4C1084.2,1063.5 1085.0,1064.6 1085.7,1065.7C1086.5,1066.8 1087.3,1067.9 1088.0,1069.0C1088.8,1070.1 1089.5,1071.2 1090.3,1072.2C1091.1,1073.3 1091.8,1074.4 1092.6,1075.5C1093.4,1076.6 1094.1,1077.7 1094.9,1078.8C1095.6,1079.9 1096.4,1081.0 1097.2,1082.1C1097.9,1083.2 1098.7,1084.3 1099.4,1085.4C1100.2,1086.5 1101.0,1087.6 1101.7,1088.7C1102.5,1089.8 1103.2,1090.9 1104.0,1092.0C1104.8,1093.1 1105.5,1094.2 1106.3,1095.3C1107.0,1096.4 1107.8,1097.5 1108.6,1098.6C1109.3,1099.7 1110.1,1100.7 1110.9,1101.8C1111.6,1102.9 1112.4,1104.0 1113.2,1105.1C1113.9,1106.2 1114.7,1107.3 1115.5,1108.4C1116.3,1109.5 1117.0,1110.6 1117.8,1111.7C1118.6,1112.7 1119.3,1113.8 1120.1,1114.9C1120.9,1116.0 1121.7,1117.1 1122.5,1118.2C1123.2,1119.2 1124.0,1120.3 1124.8,1121.4C1125.6,1122.5 1126.4,1123.6 1127.2,1124.6C1127.9,1125.7 1128.7,1126.8 1129.5,1127.9C1130.3,1128.9 1131.1,1130.0 1131.9,1131.1C1132.7,1132.2 1133.5,1133.2 1134.3,1134.3C1135.1,1135.4 1135.9,1136.4 1136.7,1137.5C1137.5,1138.6 1138.3,1139.6 1139.1,1140.7C1140.0,1141.7 1140.8,1142.8 1141.6,1143.9C1142.4,1144.9 1143.2,1146.0 1144.0,1147.0C1144.9,1148.1 1145.7,1149.1 1146.5,1150.2C1147.3,1151.2 1148.2,1152.2 1149.0,1153.3C1149.9,1154.3 1150.7,1155.4 1151.5,1156.4C1152.4,1157.4 1153.2,1158.5 1154.1,1159.5C1154.9,1160.5 1155.8,1161.6 1156.6,1162.6C1157.5,1163.6 1158.3,1164.6 1159.2,1165.7C1160.0,1166.7 1160.9,1167.7 1161.8,1168.7C1162.6,1169.7 1163.5,1170.8 1164.4,1171.8C1165.2,1172.8 1166.1,1173.8 1167.0,1174.8C1167.8,1175.8 1168.7,1176.8 1169.6,1177.8C1170.5,1178.8 1171.4,1179.8 1172.2,1180.8C1173.1,1181.8 1174.0,1182.8 1174.9,1183.8C1175.8,1184.8 1176.7,1185.8 1177.6,1186.8C1178.5,1187.8 1179.4,1188.8 1180.3,1189.8C1181.2,1190.8 1182.1,1191.7 1183.0,1192.7C1183.9,1193.7 1184.8,1194.7 1185.7,1195.7C1186.6,1196.6 1187.5,1197.6 1188.4,1198.6C1189.3,1199.6 1190.2,1200.5 1191.2,1201.5C1192.1,1202.5 1193.0,1203.5 1193.9,1204.4C1194.8,1205.4 1195.8,1206.4 1196.7,1207.3C1197.6,1208.3 1198.5,1209.2 1199.5,1210.2C1200.4,1211.2 1201.3,1212.1 1202.2,1213.1C1203.2,1214.0 1204.1,1215.0 1205.0,1215.9C1206.0,1216.9 1206.9,1217.8 1207.9,1218.8C1208.8,1219.7 1209.7,1220.7 1210.7,1221.6C1211.6,1222.6 1212.5,1223.5 1213.5,1224.5C1214.4,1225.4 1215.3,1226.4 1216.3,1227.3C1217.2,1228.3 1218.2,1229.2 1219.1,1230.2C1220.0,1231.2 1221.0,1232.1 1221.9,1233.1C1222.8,1234.0 1223.7,1235.0 1224.7,1235.9C1225.6,1236.9 1226.5,1237.9 1227.5,1238.8C1228.4,1239.8 1229.3,1240.7 1230.2,1241.7C1231.1,1242.7 1232.0,1243.7 1233.0,1244.6C1233.9,1245.6 1234.8,1246.6 1235.7,1247.6C1236.6,1248.6 1237.5,1249.5 1238.4,1250.5C1239.3,1251.5 1240.2,1252.5 1241.1,1253.5C1241.9,1254.5 1242.8,1255.5 1243.7,1256.5C1244.6,1257.5 1245.5,1258.5 1246.4,1259.5C1247.3,1260.5 1248.2,1261.5 1249.1,1262.4C1250.0,1263.4 1250.9,1264.4 1251.8,1265.4C1252.7,1266.4 1253.6,1267.3 1254.5,1268.3C1255.5,1269.2 1256.4,1270.2 1257.4,1271.1C1258.3,1272.1 1259.3,1273.0 1260.2,1273.9C1261.2,1274.8 1262.2,1275.7 1263.2,1276.6C1264.2,1277.5 1265.2,1278.4 1266.2,1279.2C1267.3,1280.1 1268.3,1280.9 1269.4,1281.7C1270.5,1282.5 1271.5,1283.3 1272.6,1284.0C1273.7,1284.8 1274.9,1285.5 1276.0,1286.2C1277.1,1286.9 1278.3,1287.6 1279.4,1288.3C1280.6,1288.9 1281.8,1289.5 1283.0,1290.2C1284.1,1290.8 1285.3,1291.4 1286.5,1291.9C1287.8,1292.5 1289.0,1293.1 1290.2,1293.6C1291.4,1294.1 1292.6,1294.6 1293.9,1295.1C1295.1,1295.6 1296.4,1296.1 1297.6,1296.6C1298.9,1297.1 1300.1,1297.5 1301.4,1298.0C1302.6,1298.4 1303.9,1298.8 1305.2,1299.3C1306.4,1299.7 1307.7,1300.1 1309.0,1300.5C1310.2,1300.9 1311.5,1301.3 1312.8,1301.7C1314.1,1302.1 1315.4,1302.4 1316.6,1302.8C1317.9,1303.2 1319.2,1303.5 1320.5,1303.9C1321.8,1304.3 1323.1,1304.6 1324.3,1305.0C1325.6,1305.4 1326.9,1305.7 1328.2,1306.1C1329.5,1306.4 1330.8,1306.8 1332.1,1307.2C1333.3,1307.5 1334.6,1307.9 1335.9,1308.3C1337.2,1308.6 1338.5,1309.0 1339.7,1309.4C1341.0,1309.7 1342.3,1310.1 1343.6,1310.5C1344.9,1310.9 1346.1,1311.3 1347.4,1311.7C1348.7,1312.1 1349.9,1312.5 1351.2,1312.9C1352.5,1313.4 1353.7,1313.8 1355.0,1314.2C1356.3,1314.6 1357.5,1315.1 1358.8,1315.5C1360.1,1316.0 1361.3,1316.4 1362.6,1316.8C1363.8,1317.3 1365.1,1317.7 1366.4,1318.2C1367.6,1318.6 1368.9,1319.1 1370.1,1319.5C1371.4,1319.9 1372.6,1320.4 1373.9,1320.8C1375.2,1321.3 1376.4,1321.7 1377.7,1322.1C1379.0,1322.6 1380.2,1323.0 1381.5,1323.4C1382.7,1323.8 1384.0,1324.3 1385.3,1324.7C1386.5,1325.1 1387.8,1325.5 1389.1,1325.9C1390.4,1326.3 1391.6,1326.7 1392.9,1327.1C1394.2,1327.5 1395.4,1328.0 1396.7,1328.3C1398.0,1328.7 1399.3,1329.1 1400.5,1329.5C1401.8,1329.9 1403.1,1330.3 1404.4,1330.7C1405.6,1331.1 1406.9,1331.5 1408.2,1331.9C1409.5,1332.3 1410.8,1332.6 1412.0,1333.0C1413.3,1333.4 1414.6,1333.8 1415.9,1334.1C1417.2,1334.5 1418.4,1334.9 1419.7,1335.3C1421.0,1335.6 1422.3,1336.0 1423.6,1336.4C1424.9,1336.7 1426.1,1337.1 1427.4,1337.5C1428.7,1337.8 1430.0,1338.2 1431.3,1338.6C1432.6,1338.9 1433.8,1339.3 1435.1,1339.7C1436.4,1340.0 1437.7,1340.4 1439.0,1340.8C1440.3,1341.1 1441.5,1341.5 1442.8,1341.8C1444.1,1342.2 1445.4,1342.6 1446.7,1342.9C1448.0,1343.3 1449.3,1343.6 1450.5,1344.0C1451.8,1344.4 1453.1,1344.7 1454.4,1345.1C1455.7,1345.5 1457.0,1345.8 1458.2,1346.2C1459.5,1346.5 1460.8,1346.9 1462.1,1347.3C1463.4,1347.6 1464.7,1348.0 1465.9,1348.4C1467.2,1348.7 1468.5,1349.1 1469.8,1349.5C1471.1,1349.8 1472.4,1350.2 1473.6,1350.6C1474.9,1350.9 1476.2,1351.3 1477.5,1351.7C1478.8,1352.0 1480.1,1352.4 1481.3,1352.8C1482.6,1353.2 1483.9,1353.5 1485.2,1353.9C1486.5,1354.3 1487.7,1354.7 1489.0,1355.0C1490.3,1355.4 1491.6,1355.8 1492.9,1356.1C1494.2,1356.5 1495.4,1356.9 1496.7,1357.3C1498.0,1357.6 1499.3,1358.0 1500.6,1358.4C1501.8,1358.8 1503.1,1359.1 1504.4,1359.5C1505.7,1359.9 1507.0,1360.3 1508.2,1360.6C1509.5,1361.0 1510.8,1361.4 1512.1,1361.8C1513.4,1362.2 1514.6,1362.5 1515.9,1362.9C1517.2,1363.3 1518.5,1363.7 1519.8,1364.0C1521.0,1364.4 1522.3,1364.8 1523.6,1365.2C1524.9,1365.5 1526.2,1365.9 1527.5,1366.3C1528.7,1366.7 1530.0,1367.0 1531.3,1367.4C1532.6,1367.8 1533.9,1368.1 1535.1,1368.5C1536.4,1368.9 1537.7,1369.3 1539.0,1369.6C1540.3,1370.0 1541.5,1370.4 1542.8,1370.8C1544.1,1371.1 1545.4,1371.5 1546.7,1371.9C1548.0,1372.2 1549.2,1372.6 1550.5,1373.0C1551.8,1373.3 1553.1,1373.7 1554.4,1374.1C1555.7,1374.4 1556.9,1374.8 1558.2,1375.2C1559.5,1375.5 1560.8,1375.9 1562.1,1376.3C1563.4,1376.6 1564.6,1377.0 1565.9,1377.3C1567.2,1377.7 1568.5,1378.1 1569.8,1378.4C1571.1,1378.8 1572.4,1379.1 1573.6,1379.5C1574.9,1379.9 1576.2,1380.2 1577.5,1380.6C1578.8,1380.9 1580.1,1381.3 1581.4,1381.6C1582.6,1382.0 1583.9,1382.3 1585.2,1382.7C1586.5,1383.0 1587.8,1383.4 1589.1,1383.7C1590.4,1384.1 1591.7,1384.4 1593.0,1384.8C1594.2,1385.1 1595.5,1385.4 1596.8,1385.8C1598.1,1386.1 1599.4,1386.5 1600.7,1386.8C1602.0,1387.1 1603.3,1387.5 1604.6,1387.8C1605.9,1388.1 1607.2,1388.5 1608.5,1388.8C1609.7,1389.1 1611.0,1389.5 1612.3,1389.8C1613.6,1390.1 1614.9,1390.4 1616.2,1390.8C1617.5,1391.1 1618.8,1391.4 1620.1,1391.7C1621.4,1392.0 1622.7,1392.3 1624.0,1392.7C1625.3,1393.0 1626.6,1393.3 1627.9,1393.6C1629.2,1393.9 1630.5,1394.2 1631.8,1394.5C1633.1,1394.8 1634.4,1395.1 1635.7,1395.4C1637.0,1395.7 1638.3,1396.0 1639.6,1396.3C1640.9,1396.6 1642.2,1396.9 1643.5,1397.2C1644.8,1397.5 1646.1,1397.8 1647.4,1398.1C1648.7,1398.4 1650.0,1398.6 1651.3,1398.9C1652.6,1399.2 1653.9,1399.5 1655.2,1399.8C1656.5,1400.0 1657.8,1400.3 1659.1,1400.6C1660.5,1400.9 1661.8,1401.1 1663.1,1401.4C1664.4,1401.7 1665.7,1401.9 1667.0,1402.2C1668.3,1402.5 1669.6,1402.7 1670.9,1403.0C1672.2,1403.2 1673.5,1403.5 1674.8,1403.7C1676.2,1404.0 1677.5,1404.3 1678.8,1404.5C1680.1,1404.8 1681.4,1405.0 1682.7,1405.2C1684.0,1405.5 1685.3,1405.7 1686.6,1406.0C1688.0,1406.2 1689.3,1406.5 1690.6,1406.7C1691.9,1406.9 1693.2,1407.2 1694.5,1407.4C1695.8,1407.6 1697.2,1407.9 1698.5,1408.1C1699.8,1408.3 1701.1,1408.5 1702.4,1408.8C1703.7,1409.0 1705.1,1409.2 1706.4,1409.4C1707.7,1409.6 1709.0,1409.9 1710.3,1410.1C1711.6,1410.3 1713.0,1410.5 1714.3,1410.7C1715.6,1410.9 1716.9,1411.1 1718.2,1411.3C1719.5,1411.5 1720.9,1411.8 1722.2,1412.0C1723.5,1412.2 1724.8,1412.4 1726.1,1412.6C1727.5,1412.8 1728.8,1413.0 1730.1,1413.1C1731.4,1413.3 1732.7,1413.5 1734.1,1413.7C1735.4,1413.9 1736.7,1414.1 1738.0,1414.3C1739.3,1414.5 1740.7,1414.7 1742.0,1414.9C1743.3,1415.0 1744.6,1415.2 1746.0,1415.4C1747.3,1415.6 1748.6,1415.8 1749.9,1415.9C1751.2,1416.1 1752.6,1416.3 1753.9,1416.5C1755.2,1416.6 1756.5,1416.8 1757.9,1417.0C1759.2,1417.1 1760.5,1417.3 1761.8,1417.5C1763.2,1417.6 1764.5,1417.8 1765.8,1418.0C1767.1,1418.1 1768.5,1418.3 1769.8,1418.4C1771.1,1418.6 1772.4,1418.8 1773.8,1418.9C1775.1,1419.1 1776.4,1419.2 1777.7,1419.4C1779.1,1419.5 1780.4,1419.7 1781.7,1419.8C1783.0,1420.0 1784.4,1420.1 1785.7,1420.3C1787.0,1420.4 1788.3,1420.6 1789.7,1420.7C1791.0,1420.8 1792.3,1421.0 1793.7,1421.1C1795.0,1421.3 1796.3,1421.4 1797.6,1421.5C1799.0,1421.7 1800.3,1421.8 1801.6,1421.9C1802.9,1422.1 1804.3,1422.2 1805.6,1422.3C1806.9,1422.5 1808.3,1422.6 1809.6,1422.7C1810.9,1422.8 1812.2,1423.0 1813.6,1423.1C1814.9,1423.2 1816.2,1423.3 1817.6,1423.5C1818.9,1423.6 1820.2,1423.7 1821.6,1423.8C1822.9,1423.9 1824.2,1424.1 1825.5,1424.2C1826.9,1424.3 1828.2,1424.4 1829.5,1424.5C1830.9,1424.6 1832.2,1424.7 1833.5,1424.8C1834.8,1425.0 1836.2,1425.1 1837.5,1425.2C1838.8,1425.3 1840.2,1425.4 1841.5,1425.5C1842.8,1425.6 1844.2,1425.7 1845.5,1425.8C1846.8,1425.9 1848.2,1426.0 1849.5,1426.1C1850.8,1426.2 1852.1,1426.3 1853.5,1426.4C1854.8,1426.5 1856.1,1426.6 1857.5,1426.7C1858.8,1426.8 1860.1,1426.9 1861.5,1427.0C1862.8,1427.1 1864.1,1427.1 1865.5,1427.2C1866.8,1427.3 1868.1,1427.4 1869.5,1427.5C1870.8,1427.6 1872.1,1427.7 1873.4,1427.8C1874.8,1427.9 1876.1,1427.9 1877.4,1428.0C1878.8,1428.1 1880.1,1428.2 1881.4,1428.3C1882.8,1428.3 1884.1,1428.4 1885.4,1428.5C1886.8,1428.6 1888.1,1428.7 1889.4,1428.7C1890.8,1428.8 1892.1,1428.9 1893.4,1429.0C1894.8,1429.0 1896.1,1429.1 1897.4,1429.2C1898.8,1429.3 1900.1,1429.3 1901.4,1429.4C1902.8,1429.5 1904.1,1429.5 1905.4,1429.6C1906.8,1429.7 1908.1,1429.8 1909.4,1429.8C1910.8,1429.9 1912.1,1430.0 1913.4,1430.0C1914.8,1430.1 1916.1,1430.1 1917.4,1430.2C1918.8,1430.3 1920.1,1430.3 1921.4,1430.4C1922.8,1430.5 1924.1,1430.5 1925.4,1430.6C1926.8,1430.6 1928.1,1430.7 1929.4,1430.8C1930.8,1430.8 1932.1,1430.9 1933.4,1430.9C1934.8,1431.0 1936.1,1431.1 1937.4,1431.1C1938.8,1431.2 1940.1,1431.2 1941.4,1431.3C1942.8,1431.3 1944.1,1431.4 1945.4,1431.4C1946.8,1431.5 1948.1,1431.5 1949.4,1431.6C1950.8,1431.6 1952.1,1431.7 1953.4,1431.7C1954.8,1431.8 1956.1,1431.8 1957.4,1431.9C1958.8,1431.9 1960.1,1432.0 1961.4,1432.0C1962.8,1432.1 1964.1,1432.1 1965.4,1432.2C1966.8,1432.2 1968.1,1432.3 1969.4,1432.3C1970.8,1432.4 1972.1,1432.4 1973.4,1432.4C1974.8,1432.5 1976.1,1432.5 1977.4,1432.6C1978.8,1432.6 1980.1,1432.7 1981.4,1432.7C1982.8,1432.7 1984.1,1432.8 1985.4,1432.8C1986.8,1432.9 1988.1,1432.9 1989.4,1433.0C1990.8,1433.0 1992.1,1433.0 1993.4,1433.1C1994.8,1433.1 1996.1,1433.2 1997.4,1433.2C1998.8,1433.2 2000.1,1433.3 2001.4,1433.3C2002.8,1433.3 2004.1,1433.4 2005.4,1433.4C2006.8,1433.5 2008.1,1433.5 2009.4,1433.5C2010.8,1433.6 2012.1,1433.6 2013.4,1433.6C2014.8,1433.7 2016.1,1433.7 2017.4,1433.7C2018.8,1433.8 2020.1,1433.8 2021.5,1433.8C2022.8,1433.9 2024.1,1433.9 2025.5,1433.9C2026.8,1434.0 2028.1,1434.0 2029.5,1434.0C2030.8,1434.1 2032.1,1434.1 2033.5,1434.1" stroke="#7b4f9f"/>
<path d="M279.0,1436.9C280.3,1437.1 281.7,1437.3 283.0,1437.4C284.3,1437.6 285.6,1437.7 287.0,1437.9C288.3,1438.0 289.6,1438.2 290.9,1438.3C292.3,1438.4 293.6,1438.5 294.9,1438.6C296.3,1438.7 297.6,1438.8 298.9,1438.9C300.3,1439.0 301.6,1439.1 302.9,1439.1C304.2,1439.2 305.6,1439.2 306.9,1439.3C308.2,1439.3 309.6,1439.4 310.9,1439.4C312.2,1439.4 313.6,1439.5 314.9,1439.5C316.2,1439.5 317.6,1439.5 318.9,1439.5C320.2,1439.5 321.6,1439.5 322.9,1439.5C324.2,1439.5 325.6,1439.5 326.9,1439.4C328.2,1439.4 329.6,1439.4 330.9,1439.3C332.2,1439.3 333.6,1439.3 334.9,1439.2C336.2,1439.2 337.6,1439.1 338.9,1439.1C340.2,1439.0 341.6,1439.0 342.9,1438.9C344.2,1438.8 345.6,1438.8 346.9,1438.7C348.2,1438.6 349.6,1438.5 350.9,1438.5C352.2,1438.4 353.6,1438.3 354.9,1438.2C356.2,1438.1 357.6,1438.0 358.9,1437.9C360.2,1437.9 361.5,1437.8 362.9,1437.7C364.2,1437.6 365.5,1437.5 366.9,1437.4C368.2,1437.3 369.5,1437.2 370.9,1437.1C372.2,1437.0 373.5,1436.9 374.8,1436.8C376.2,1436.7 377.5,1436.6 378.8,1436.5C380.2,1436.4 381.5,1436.3 382.8,1436.2C384.2,1436.1 385.5,1436.0 386.8,1435.9C388.1,1435.8 389.5,1435.7 390.8,1435.6C392.1,1435.5 393.5,1435.4 394.8,1435.3C396.1,1435.2 397.5,1435.1 398.8,1435.0C400.1,1434.9 401.4,1434.8 402.8,1434.7C404.1,1434.6 405.4,1434.5 406.8,1434.5C408.1,1434.4 409.4,1434.3 410.8,1434.2C412.1,1434.1 413.4,1434.0 414.8,1433.9C416.1,1433.9 417.4,1433.8 418.7,1433.7C420.1,1433.6 421.4,1433.5 422.7,1433.4C424.1,1433.3 425.4,1433.2 426.7,1433.1C428.1,1433.0 429.4,1432.9 430.7,1432.8C432.0,1432.7 433.4,1432.6 434.7,1432.5C436.0,1432.3 437.4,1432.2 438.7,1432.1C440.0,1432.0 441.3,1431.8 442.7,1431.7C444.0,1431.5 445.3,1431.4 446.6,1431.2C448.0,1431.1 449.3,1430.9 450.6,1430.7C451.9,1430.5 453.2,1430.3 454.6,1430.1C455.9,1429.9 457.2,1429.7 458.5,1429.5C459.8,1429.3 461.1,1429.1 462.5,1428.8C463.8,1428.6 465.1,1428.3 466.4,1428.0C467.7,1427.8 469.0,1427.5 470.3,1427.2C471.6,1426.9 472.9,1426.6 474.2,1426.3C475.5,1426.0 476.8,1425.6 478.1,1425.3C479.3,1424.9 480.6,1424.5 481.9,1424.2C483.2,1423.8 484.5,1423.4 485.7,1423.0C487.0,1422.6 488.3,1422.1 489.5,1421.7C490.8,1421.3 492.0,1420.8 493.3,1420.3C494.5,1419.9 495.8,1419.4 497.0,1418.9C498.2,1418.4 499.5,1417.9 500.7,1417.3C501.9,1416.8 503.1,1416.3 504.4,1415.7C505.6,1415.2 506.8,1414.6 508.0,1414.0C509.2,1413.4 510.4,1412.8 511.5,1412.2C512.7,1411.6 513.9,1411.0 515.1,1410.3C516.2,1409.7 517.4,1409.0 518.6,1408.4C519.7,1407.7 520.9,1407.0 522.0,1406.3C523.1,1405.6 524.3,1404.9 525.4,1404.2C526.5,1403.4 527.6,1402.7 528.7,1402.0C529.8,1401.2 530.9,1400.4 532.0,1399.6C533.0,1398.9 534.1,1398.1 535.2,1397.2C536.2,1396.4 537.3,1395.6 538.3,1394.8C539.3,1393.9 540.4,1393.1 541.4,1392.2C542.4,1391.3 543.4,1390.4 544.4,1389.5C545.3,1388.6 546.3,1387.7 547.3,1386.8C548.2,1385.8 549.1,1384.9 550.1,1383.9C551.0,1383.0 551.9,1382.0 552.8,1381.0C553.7,1380.0 554.6,1379.0 555.4,1378.0C556.3,1376.9 557.1,1375.9 557.9,1374.9C558.8,1373.8 559.6,1372.8 560.4,1371.7C561.1,1370.6 561.9,1369.5 562.7,1368.4C563.4,1367.3 564.2,1366.2 564.9,1365.1C565.6,1364.0 566.3,1362.8 567.0,1361.7C567.7,1360.6 568.4,1359.4 569.1,1358.3C569.7,1357.1 570.4,1355.9 571.0,1354.8C571.7,1353.6 572.3,1352.4 572.9,1351.2C573.5,1350.0 574.1,1348.9 574.7,1347.7C575.3,1346.5 575.8,1345.3 576.4,1344.0C577.0,1342.8 577.5,1341.6 578.0,1340.4C578.6,1339.2 579.1,1338.0 579.6,1336.7C580.2,1335.5 580.7,1334.3 581.2,1333.0C581.7,1331.8 582.1,1330.5 582.6,1329.3C583.1,1328.1 583.6,1326.8 584.1,1325.6C584.5,1324.3 585.0,1323.1 585.4,1321.8C585.9,1320.6 586.3,1319.3 586.8,1318.0C587.2,1316.8 587.6,1315.5 588.1,1314.3C588.5,1313.0 588.9,1311.7 589.3,1310.5C589.8,1309.2 590.2,1307.9 590.6,1306.7C591.0,1305.4 591.4,1304.1 591.8,1302.9C592.2,1301.6 592.6,1300.3 593.0,1299.0C593.4,1297.8 593.8,1296.5 594.2,1295.2C594.6,1294.0 595.0,1292.7 595.4,1291.4C595.8,1290.1 596.2,1288.9 596.6,1287.6C597.0,1286.3 597.4,1285.0 597.7,1283.7C598.1,1282.5 598.5,1281.2 598.9,1279.9C599.3,1278.6 599.6,1277.4 600.0,1276.1C600.4,1274.8 600.8,1273.5 601.1,1272.2C601.5,1271.0 601.9,1269.7 602.2,1268.4C602.6,1267.1 603.0,1265.8 603.3,1264.5C603.7,1263.3 604.1,1262.0 604.4,1260.7C604.8,1259.4 605.1,1258.1 605.5,1256.8C605.9,1255.6 606.2,1254.3 606.6,1253.0C606.9,1251.7 607.3,1250.4 607.6,1249.1C608.0,1247.8 608.3,1246.5 608.6,1245.3C609.0,1244.0 609.3,1242.7 609.7,1241.4C610.0,1240.1 610.4,1238.8 610.7,1237.5C611.0,1236.2 611.4,1234.9 611.7,1233.6C612.0,1232.4 612.4,1231.1 612.7,1229.8C613.0,1228.5 613.3,1227.2 613.7,1225.9C614.0,1224.6 614.3,1223.3 614.6,1222.0C615.0,1220.7 615.3,1219.4 615.6,1218.1C615.9,1216.8 616.2,1215.5 616.5,1214.2C616.9,1212.9 617.2,1211.6 617.5,1210.4C617.8,1209.1 618.1,1207.8 618.4,1206.5C618.7,1205.2 619.0,1203.9 619.3,1202.6C619.6,1201.3 619.9,1200.0 620.2,1198.7C620.5,1197.4 620.8,1196.1 621.1,1194.8C621.4,1193.5 621.7,1192.2 622.0,1190.9C622.3,1189.6 622.6,1188.3 622.9,1187.0C623.2,1185.7 623.5,1184.4 623.8,1183.1C624.1,1181.8 624.3,1180.5 624.6,1179.2C624.9,1177.8 625.2,1176.5 625.5,1175.2C625.8,1173.9 626.0,1172.6 626.3,1171.3C626.6,1170.0 626.9,1168.7 627.2,1167.4C627.4,1166.1 627.7,1164.8 628.0,1163.5C628.2,1162.2 628.5,1160.9 628.8,1159.6C629.1,1158.3 629.3,1157.0 629.6,1155.7C629.9,1154.4 630.1,1153.1 630.4,1151.7C630.6,1150.4 630.9,1149.1 631.2,1147.8C631.4,1146.5 631.7,1145.2 631.9,1143.9C632.2,1142.6 632.5,1141.3 632.7,1140.0C633.0,1138.7 633.2,1137.4 633.5,1136.0C633.7,1134.7 634.0,1133.4 634.2,1132.1C634.5,1130.8 634.7,1129.5 635.0,1128.2C635.2,1126.9 635.5,1125.6 635.7,1124.3C636.0,1122.9 636.2,1121.6 636.4,1120.3C636.7,1119.0 636.9,1117.7 637.2,1116.4C637.4,1115.1 637.6,1113.8 637.9,1112.4C638.1,1111.1 638.4,1109.8 638.6,1108.5C638.8,1107.2 639.1,1105.9 639.3,1104.6C639.5,1103.3 639.8,1101.9 640.0,1100.6C640.2,1099.3 640.4,1098.0 640.7,1096.7C640.9,1095.4 641.1,1094.1 641.4,1092.7C641.6,1091.4 641.8,1090.1 642.0,1088.8C642.2,1087.5 642.5,1086.2 642.7,1084.9C642.9,1083.5 643.1,1082.2 643.4,1080.9C643.6,1079.6 643.8,1078.3 644.0,1077.0C644.2,1075.6 644.4,1074.3 644.7,1073.0C644.9,1071.7 645.1,1070.4 645.3,1069.1C645.5,1067.7 645.7,1066.4 645.9,1065.1C646.1,1063.8 646.4,1062.5 646.6,1061.2C646.8,1059.8 647.0,1058.5 647.2,1057.2C647.4,1055.9 647.6,1054.6 647.8,1053.3C648.0,1051.9 648.2,1050.6 648.4,1049.3C648.6,1048.0 648.8,1046.7 649.0,1045.4C649.2,1044.0 649.4,1042.7 649.6,1041.4C649.8,1040.1 650.0,1038.8 650.2,1037.4C650.4,1036.1 650.6,1034.8 650.8,1033.5C651.0,1032.2 651.2,1030.8 651.4,1029.5C651.6,1028.2 651.8,1026.9 652.0,1025.6C652.2,1024.2 652.4,1022.9 652.6,1021.6C652.8,1020.3 653.0,1019.0 653.2,1017.7C653.3,1016.3 653.5,1015.0 653.7,1013.7C653.9,1012.4 654.1,1011.1 654.3,1009.7C654.5,1008.4 654.7,1007.1 654.9,1005.8C655.0,1004.5 655.2,1003.1 655.4,1001.8C655.6,1000.5 655.8,999.2 656.0,997.8C656.2,996.5 656.3,995.2 656.5,993.9C656.7,992.6 656.9,991.2 657.1,989.9C657.3,988.6 657.4,987.3 657.6,986.0C657.8,984.6 658.0,983.3 658.2,982.0C658.4,980.7 658.5,979.4 658.7,978.0C658.9,976.7 659.1,975.4 659.2,974.1C659.4,972.7 659.6,971.4 659.8,970.1C660.0,968.8 660.1,967.5 660.3,966.1C660.5,964.8 660.7,963.5 660.8,962.2C661.0,960.8 661.2,959.5 661.4,958.2C661.6,956.9 661.7,955.6 661.9,954.2C662.1,952.9 662.3,951.6 662.4,950.3C662.6,948.9 662.8,947.6 662.9,946.3C663.1,945.0 663.3,943.7 663.5,942.3C663.6,941.0 663.8,939.7 664.0,938.4C664.2,937.0 664.3,935.7 664.5,934.4C664.7,933.1 664.8,931.8 665.0,930.4C665.2,929.1 665.4,927.8 665.5,926.5C665.7,925.1 665.9,923.8 666.0,922.5C666.2,921.2 666.4,919.9 666.6,918.5C666.7,917.2 666.9,915.9 667.1,914.6C667.2,913.2 667.4,911.9 667.6,910.6C667.8,909.3 667.9,908.0 668.1,906.6C668.3,905.3 668.4,904.0 668.6,902.7C668.8,901.3 668.9,900.0 669.1,898.7C669.3,897.4 669.5,896.0 669.6,894.7C669.8,893.4 670.0,892.1 670.1,890.8C670.3,889.4 670.5,888.1 670.6,886.8C670.8,885.5 671.0,884.1 671.2,882.8C671.3,881.5 671.5,880.2 671.7,878.9C671.8,877.5 672.0,876.2 672.2,874.9C672.3,873.6 672.5,872.2 672.7,870.9C672.9,869.6 673.0,868.3 673.2,866.9C673.4,865.6 673.5,864.3 673.7,863.0C673.9,861.7 674.1,860.3 674.2,859.0C674.4,857.7 674.6,856.4 674.7,855.0C674.9,853.7 675.1,852.4 675.3,851.1C675.4,849.8 675.6,848.4 675.8,847.1C675.9,845.8 676.1,844.5 676.3,843.1C676.5,841.8 676.6,840.5 676.8,839.2C677.0,837.9 677.2,836.5 677.3,835.2C677.5,833.9 677.7,832.6 677.9,831.2C678.0,829.9 678.2,828.6 678.4,827.3C678.6,826.0 678.7,824.6 678.9,823.3C679.1,822.0 679.3,820.7 679.5,819.3C679.6,818.0 679.8,816.7 680.0,815.4C680.2,814.1 680.3,812.7 680.5,811.4C680.7,810.1 680.9,808.8 681.1,807.5C681.2,806.1 681.4,804.8 681.6,803.5C681.8,802.2 682.0,800.8 682.2,799.5C682.3,798.2 682.5,796.9 682.7,795.6C682.9,794.2 683.1,792.9 683.3,791.6C683.4,790.3 683.6,789.0 683.8,787.6C684.0,786.3 684.2,785.0 684.4,783.7C684.6,782.4 684.7,781.0 684.9,779.7C685.1,778.4 685.3,777.1 685.5,775.8C685.7,774.4 685.9,773.1 686.1,771.8C686.3,770.5 686.5,769.2 686.6,767.8C686.8,766.5 687.0,765.2 687.2,763.9C687.4,762.6 687.6,761.2 687.8,759.9C688.0,758.6 688.2,757.3 688.4,756.0C688.6,754.6 688.8,753.3 689.0,752.0C689.2,750.7 689.4,749.4 689.6,748.0C689.8,746.7 690.0,745.4 690.2,744.1C690.4,742.8 690.5,741.4 690.7,740.1C690.9,738.8 691.1,737.5 691.3,736.2C691.6,734.9 691.8,733.5 692.0,732.2C692.2,730.9 692.4,729.6 692.6,728.3C692.8,726.9 693.0,725.6 693.2,724.3C693.4,723.0 693.6,721.7 693.8,720.4C694.0,719.0 694.2,717.7 694.4,716.4C694.6,715.1 694.8,713.8 695.0,712.5C695.2,711.1 695.4,709.8 695.7,708.5C695.9,707.2 696.1,705.9 696.3,704.6C696.5,703.2 696.7,701.9 696.9,700.6C697.1,699.3 697.3,698.0 697.6,696.7C697.8,695.3 698.0,694.0 698.2,692.7C698.4,691.4 698.6,690.1 698.9,688.8C699.1,687.4 699.3,686.1 699.5,684.8C699.7,683.5 699.9,682.2 700.2,680.9C700.4,679.5 700.6,678.2 700.8,676.9C701.0,675.6 701.3,674.3 701.5,673.0C701.7,671.7 701.9,670.3 702.1,669.0C702.4,667.7 702.6,666.4 702.8,665.1C703.0,663.8 703.3,662.5 703.5,661.1C703.7,659.8 703.9,658.5 704.2,657.2C704.4,655.9 704.6,654.6 704.9,653.3C705.1,651.9 705.3,650.6 705.5,649.3C705.8,648.0 706.0,646.7 706.2,645.4C706.5,644.1 706.7,642.7 706.9,641.4C707.2,640.1 707.4,638.8 707.6,637.5C707.9,636.2 708.1,634.9 708.3,633.6C708.6,632.2 708.8,630.9 709.1,629.6C709.3,628.3 709.5,627.0 709.8,625.7C710.0,624.4 710.2,623.1 710.5,621.7C710.7,620.4 711.0,619.1 711.2,617.8C711.5,616.5 711.7,615.2 711.9,613.9C712.2,612.6 712.4,611.3 712.7,609.9C712.9,608.6 713.2,607.3 713.4,606.0C713.7,604.7 713.9,603.4 714.2,602.1C714.4,600.8 714.6,599.5 714.9,598.1C715.1,596.8 715.4,595.5 715.7,594.2C715.9,592.9 716.2,591.6 716.4,590.3C716.7,589.0 716.9,587.7 717.2,586.4C717.4,585.1 717.7,583.7 717.9,582.4C718.2,581.1 718.4,579.8 718.7,578.5C719.0,577.2 719.2,575.9 719.5,574.6C719.7,573.3 720.0,572.0 720.3,570.7C720.5,569.4 720.8,568.0 721.0,566.7C721.3,565.4 721.6,564.1 721.8,562.8C722.1,561.5 722.4,560.2 722.6,558.9C722.9,557.6 723.2,556.3 723.4,555.0C723.7,553.7 724.0,552.4 724.2,551.1C724.5,549.7 724.8,548.4 725.1,547.1C725.3,545.8 725.6,544.5 725.9,543.2C726.1,541.9 726.4,540.6 726.7,539.3C727.0,538.0 727.2,536.7 727.5,535.4C727.8,534.1 728.1,532.8 728.3,531.5C728.6,530.2 728.9,528.9 729.2,527.6C729.5,526.3 729.7,525.0 730.0,523.7C730.3,522.3 730.6,521.0 730.9,519.7C731.2,518.4 731.4,517.1 731.7,515.8C732.0,514.5 732.3,513.2 732.6,511.9C732.9,510.6 733.2,509.3 733.4,508.0C733.7,506.7 734.0,505.4 734.3,504.1C734.6,502.8 734.9,501.5 735.2,500.2C735.5,498.9 735.8,497.6 736.1,496.3C736.4,495.0 736.7,493.7 737.0,492.4C737.3,491.1 737.7,489.8 738.1,488.6C738.4,487.3 738.8,486.0 739.3,484.7C739.7,483.5 740.1,482.2 740.6,481.0C741.2,479.8 741.7,478.5 742.3,477.3C742.8,476.1 743.5,474.9 744.1,473.8C744.8,472.6 745.5,471.5 746.3,470.4C747.0,469.3 747.8,468.2 748.7,467.2C749.6,466.2 750.5,465.2 751.6,464.5C752.6,463.7 753.9,462.9 755.1,462.8C756.4,462.6 757.8,463.0 759.0,463.5C760.2,464.0 761.2,465.0 762.2,465.9C763.2,466.7 764.1,467.8 764.9,468.8C765.8,469.8 766.6,470.9 767.3,472.0C768.0,473.1 768.7,474.3 769.4,475.4C770.1,476.6 770.7,477.8 771.3,479.0C771.9,480.2 772.4,481.4 772.9,482.6C773.4,483.9 773.9,485.1 774.3,486.4C774.7,487.6 775.1,488.9 775.5,490.2C775.9,491.5 776.3,492.7 776.6,494.0C776.9,495.3 777.3,496.6 777.6,497.9C777.9,499.2 778.2,500.5 778.5,501.8C778.9,503.1 779.2,504.4 779.5,505.7C779.8,507.0 780.1,508.3 780.4,509.6C780.7,510.9 781.0,512.2 781.4,513.5C781.7,514.8 782.0,516.1 782.3,517.3C782.6,518.6 782.9,519.9 783.2,521.2C783.5,522.5 783.8,523.8 784.1,525.1C784.4,526.4 784.7,527.7 785.0,529.0C785.3,530.3 785.6,531.6 785.9,532.9C786.2,534.2 786.5,535.5 786.8,536.8C787.1,538.1 787.4,539.4 787.7,540.7C788.0,542.0 788.3,543.3 788.5,544.6C788.8,545.9 789.1,547.2 789.4,548.6C789.7,549.9 790.0,551.2 790.3,552.5C790.5,553.8 790.8,555.1 791.1,556.4C791.4,557.7 791.7,559.0 791.9,560.3C792.2,561.6 792.5,562.9 792.8,564.2C793.0,565.5 793.3,566.8 793.6,568.1C793.9,569.4 794.1,570.7 794.4,572.0C794.7,573.3 794.9,574.6 795.2,576.0C795.5,577.3 795.7,578.6 796.0,579.9C796.3,581.2 796.5,582.5 796.8,583.8C797.1,585.1 797.3,586.4 797.6,587.7C797.8,589.0 798.1,590.3 798.3,591.6C798.6,593.0 798.9,594.3 799.1,595.6C799.4,596.9 799.6,598.2 799.9,599.5C800.1,600.8 800.4,602.1 800.6,603.4C800.9,604.7 801.1,606.0 801.4,607.4C801.6,608.7 801.9,610.0 802.1,611.3C802.4,612.6 802.6,613.9 802.9,615.2C803.1,616.5 803.3,617.8 803.6,619.2C803.8,620.5 804.1,621.8 804.3,623.1C804.6,624.4 804.8,625.7 805.0,627.0C805.3,628.3 805.5,629.6 805.7,631.0C806.0,632.3 806.2,633.6 806.5,634.9C806.7,636.2 806.9,637.5 807.2,638.8C807.4,640.1 807.6,641.5 807.9,642.8C808.1,644.1 808.3,645.4 808.6,646.7C808.8,648.0 809.0,649.3 809.3,650.7C809.5,652.0 809.7,653.3 809.9,654.6C810.2,655.9 810.4,657.2 810.6,658.5C810.9,659.9 811.1,661.2 811.3,662.5C811.5,663.8 811.8,665.1 812.0,666.4C812.2,667.7 812.4,669.1 812.7,670.4C812.9,671.7 813.1,673.0 813.3,674.3C813.6,675.6 813.8,676.9 814.0,678.3C814.2,679.6 814.5,680.9 814.7,682.2C814.9,683.5 815.1,684.8 815.3,686.1C815.6,687.5 815.8,688.8 816.0,690.1C816.2,691.4 816.4,692.7 816.7,694.0C816.9,695.4 817.1,696.7 817.3,698.0C817.5,699.3 817.8,700.6 818.0,701.9C818.2,703.2 818.4,704.6 818.6,705.9C818.9,707.2 819.1,708.5 819.3,709.8C819.5,711.1 819.7,712.5 820.0,713.8C820.2,715.1 820.4,716.4 820.6,717.7C820.8,719.0 821.1,720.3 821.3,721.7C821.5,723.0 821.7,724.3 821.9,725.6C822.1,726.9 822.4,728.2 822.6,729.6C822.8,730.9 823.0,732.2 823.2,733.5C823.5,734.8 823.7,736.1 823.9,737.4C824.1,738.8 824.3,740.1 824.6,741.4C824.8,742.7 825.0,744.0 825.2,745.3C825.4,746.7 825.7,748.0 825.9,749.3C826.1,750.6 826.3,751.9 826.5,753.2C826.8,754.5 827.0,755.9 827.2,757.2C827.4,758.5 827.6,759.8 827.9,761.1C828.1,762.4 828.3,763.8 828.5,765.1C828.7,766.4 829.0,767.7 829.2,769.0C829.4,770.3 829.6,771.6 829.9,773.0C830.1,774.3 830.3,775.6 830.5,776.9C830.8,778.2 831.0,779.5 831.2,780.8C831.4,782.2 831.7,783.5 831.9,784.8C832.1,786.1 832.3,787.4 832.6,788.7C832.8,790.0 833.0,791.4 833.3,792.7C833.5,794.0 833.7,795.3 833.9,796.6C834.2,797.9 834.4,799.2 834.6,800.6C834.9,801.9 835.1,803.2 835.3,804.5C835.6,805.8 835.8,807.1 836.0,808.4C836.3,809.7 836.5,811.1 836.7,812.4C837.0,813.7 837.2,815.0 837.5,816.3C837.7,817.6 837.9,818.9 838.2,820.2C838.4,821.6 838.7,822.9 838.9,824.2C839.1,825.5 839.4,826.8 839.6,828.1C839.9,829.4 840.1,830.7 840.4,832.0C840.6,833.4 840.9,834.7 841.1,836.0C841.4,837.3 841.6,838.6 841.9,839.9C842.1,841.2 842.4,842.5 842.6,843.8C842.9,845.1 843.1,846.4 843.4,847.8C843.7,849.1 843.9,850.4 844.2,851.7C844.5,853.0 844.7,854.3 845.0,855.6C845.3,856.9 845.5,858.2 845.8,859.5C846.1,860.8 846.3,862.1 846.6,863.4C846.9,864.7 847.2,866.0 847.5,867.3C847.7,868.6 848.0,870.0 848.3,871.3C848.6,872.6 848.9,873.9 849.2,875.2C849.4,876.5 849.7,877.8 850.0,879.1C850.3,880.4 850.6,881.7 850.9,883.0C851.2,884.3 851.5,885.6 851.8,886.9C852.1,888.2 852.4,889.5 852.7,890.8C853.0,892.1 853.4,893.4 853.7,894.7C854.0,895.9 854.3,897.2 854.6,898.5C854.9,899.8 855.3,901.1 855.6,902.4C855.9,903.7 856.3,905.0 856.6,906.3C856.9,907.6 857.2,908.9 857.6,910.2C857.9,911.5 858.3,912.7 858.6,914.0C859.0,915.3 859.3,916.6 859.7,917.9C860.0,919.2 860.4,920.5 860.7,921.8C861.1,923.0 861.4,924.3 861.8,925.6C862.2,926.9 862.5,928.2 862.9,929.5C863.3,930.7 863.7,932.0 864.0,933.3C864.4,934.6 864.8,935.8 865.2,937.1C865.6,938.4 866.0,939.7 866.3,941.0C866.7,942.2 867.1,943.5 867.5,944.8C867.9,946.0 868.3,947.3 868.8,948.6C869.2,949.9 869.6,951.1 870.0,952.4C870.4,953.7 870.8,954.9 871.3,956.2C871.7,957.4 872.1,958.7 872.6,960.0C873.0,961.2 873.5,962.5 873.9,963.7C874.4,965.0 874.9,966.2 875.4,967.5C875.8,968.7 876.3,969.9 876.9,971.2C877.4,972.4 877.9,973.6 878.4,974.8C879.0,976.1 879.5,977.3 880.1,978.5C880.7,979.7 881.3,980.9 881.9,982.1C882.5,983.3 883.1,984.4 883.7,985.6C884.4,986.8 885.1,987.9 885.7,989.1C886.4,990.2 887.1,991.4 887.8,992.5C888.6,993.6 889.3,994.7 890.1,995.8C890.9,996.9 891.6,998.0 892.5,999.0C893.3,1000.1 894.1,1001.1 895.0,1002.1C895.8,1003.2 896.7,1004.2 897.6,1005.1C898.5,1006.1 899.4,1007.1 900.4,1008.0C901.3,1009.0 902.3,1009.9 903.3,1010.8C904.3,1011.7 905.3,1012.5 906.3,1013.3C907.4,1014.2 908.5,1014.9 909.6,1015.7C910.7,1016.4 911.9,1017.1 913.1,1017.6C914.3,1018.2 915.5,1018.8 916.8,1019.2C918.0,1019.6 919.3,1019.9 920.6,1020.1C921.9,1020.3 923.3,1020.4 924.6,1020.4C925.9,1020.3 927.3,1020.1 928.6,1019.8C929.9,1019.5 931.1,1019.0 932.4,1018.6C933.6,1018.1 934.9,1017.6 936.1,1017.1C937.3,1016.5 938.5,1016.0 939.8,1015.5C941.0,1015.0 942.2,1014.5 943.5,1014.0C944.7,1013.6 946.0,1013.2 947.3,1012.8C948.6,1012.4 949.9,1012.1 951.2,1011.8C952.5,1011.5 953.8,1011.3 955.1,1011.1C956.4,1010.8 957.7,1010.7 959.1,1010.5C960.4,1010.4 961.7,1010.3 963.1,1010.2C964.4,1010.1 965.7,1010.1 967.1,1010.1C968.4,1010.1 969.7,1010.2 971.1,1010.2C972.4,1010.3 973.7,1010.4 975.0,1010.6C976.4,1010.7 977.7,1010.9 979.0,1011.1C980.3,1011.3 981.6,1011.6 982.9,1011.8C984.2,1012.1 985.5,1012.4 986.8,1012.8C988.1,1013.1 989.4,1013.5 990.7,1013.9C991.9,1014.3 993.2,1014.7 994.4,1015.2C995.7,1015.7 996.9,1016.2 998.2,1016.7C999.4,1017.2 1000.6,1017.8 1001.8,1018.4C1003.0,1019.0 1004.2,1019.6 1005.3,1020.3C1006.5,1020.9 1007.6,1021.6 1008.8,1022.3C1009.9,1023.0 1011.0,1023.7 1012.1,1024.4C1013.2,1025.2 1014.3,1025.9 1015.4,1026.7C1016.5,1027.5 1017.6,1028.3 1018.6,1029.2C1019.6,1030.0 1020.7,1030.8 1021.7,1031.7C1022.7,1032.6 1023.7,1033.4 1024.7,1034.3C1025.7,1035.2 1026.7,1036.1 1027.6,1037.1C1028.6,1038.0 1029.5,1038.9 1030.5,1039.9C1031.4,1040.8 1032.3,1041.8 1033.3,1042.7C1034.2,1043.7 1035.1,1044.7 1036.0,1045.7C1036.9,1046.7 1037.7,1047.7 1038.6,1048.7C1039.5,1049.7 1040.3,1050.7 1041.2,1051.7C1042.1,1052.8 1042.9,1053.8 1043.7,1054.8C1044.6,1055.9 1045.4,1056.9 1046.2,1058.0C1047.1,1059.0 1047.9,1060.1 1048.7,1061.1C1049.5,1062.2 1050.3,1063.2 1051.1,1064.3C1051.9,1065.4 1052.7,1066.4 1053.5,1067.5C1054.3,1068.6 1055.1,1069.6 1055.9,1070.7C1056.7,1071.8 1057.4,1072.9 1058.2,1074.0C1059.0,1075.0 1059.8,1076.1 1060.6,1077.2C1061.3,1078.3 1062.1,1079.4 1062.9,1080.5C1063.7,1081.6 1064.4,1082.6 1065.2,1083.7C1066.0,1084.8 1066.8,1085.9 1067.5,1087.0C1068.3,1088.1 1069.1,1089.2 1069.9,1090.2C1070.6,1091.3 1071.4,1092.4 1072.2,1093.5C1073.0,1094.6 1073.8,1095.6 1074.6,1096.7C1075.4,1097.8 1076.2,1098.9 1076.9,1099.9C1077.7,1101.0 1078.5,1102.1 1079.4,1103.1C1080.2,1104.2 1081.0,1105.2 1081.8,1106.3C1082.6,1107.4 1083.4,1108.4 1084.3,1109.5C1085.1,1110.5 1085.9,1111.5 1086.7,1112.6C1087.6,1113.6 1088.4,1114.7 1089.3,1115.7C1090.1,1116.7 1090.9,1117.8 1091.8,1118.8C1092.6,1119.8 1093.5,1120.8 1094.3,1121.9C1095.2,1122.9 1096.1,1123.9 1096.9,1124.9C1097.8,1125.9 1098.7,1127.0 1099.5,1128.0C1100.4,1129.0 1101.3,1130.0 1102.1,1131.0C1103.0,1132.0 1103.9,1133.0 1104.8,1134.0C1105.7,1135.0 1106.5,1136.0 1107.4,1137.0C1108.3,1138.0 1109.2,1139.0 1110.1,1140.0C1111.0,1141.0 1111.9,1142.0 1112.8,1143.0C1113.7,1144.0 1114.6,1144.9 1115.4,1145.9C1116.3,1146.9 1117.2,1147.9 1118.1,1148.9C1119.0,1149.9 1119.9,1150.9 1120.9,1151.8C1121.8,1152.8 1122.7,1153.8 1123.6,1154.8C1124.5,1155.8 1125.4,1156.7 1126.3,1157.7C1127.2,1158.7 1128.1,1159.7 1129.0,1160.6C1129.9,1161.6 1130.8,1162.6 1131.7,1163.6C1132.6,1164.5 1133.6,1165.5 1134.5,1166.5C1135.4,1167.5 1136.3,1168.4 1137.2,1169.4C1138.1,1170.4 1139.0,1171.4 1139.9,1172.3C1140.8,1173.3 1141.7,1174.3 1142.6,1175.3C1143.6,1176.2 1144.5,1177.2 1145.4,1178.2C1146.3,1179.2 1147.2,1180.2 1148.1,1181.1C1149.0,1182.1 1149.9,1183.1 1150.8,1184.1C1151.7,1185.1 1152.6,1186.0 1153.5,1187.0C1154.4,1188.0 1155.3,1189.0 1156.2,1190.0C1157.1,1190.9 1158.0,1191.9 1159.0,1192.9C1159.9,1193.9 1160.8,1194.8 1161.7,1195.8C1162.6,1196.8 1163.5,1197.8 1164.4,1198.8C1165.3,1199.7 1166.2,1200.7 1167.1,1201.7C1168.0,1202.7 1168.9,1203.7 1169.8,1204.6C1170.7,1205.6 1171.6,1206.6 1172.5,1207.6C1173.5,1208.5 1174.4,1209.5 1175.3,1210.5C1176.2,1211.5 1177.1,1212.4 1178.0,1213.4C1178.9,1214.4 1179.8,1215.4 1180.7,1216.3C1181.7,1217.3 1182.6,1218.3 1183.5,1219.2C1184.4,1220.2 1185.3,1221.2 1186.2,1222.2C1187.1,1223.1 1188.1,1224.1 1189.0,1225.1C1189.9,1226.0 1190.8,1227.0 1191.7,1228.0C1192.7,1228.9 1193.6,1229.9 1194.5,1230.8C1195.4,1231.8 1196.4,1232.8 1197.3,1233.7C1198.2,1234.7 1199.1,1235.6 1200.1,1236.6C1201.0,1237.6 1201.9,1238.5 1202.9,1239.5C1203.8,1240.4 1204.7,1241.4 1205.7,1242.3C1206.6,1243.3 1207.5,1244.2 1208.5,1245.2C1209.4,1246.1 1210.4,1247.1 1211.3,1248.0C1212.3,1248.9 1213.2,1249.9 1214.2,1250.8C1215.1,1251.7 1216.1,1252.7 1217.0,1253.6C1218.0,1254.5 1219.0,1255.4 1219.9,1256.3C1220.9,1257.3 1221.9,1258.2 1222.8,1259.1C1223.8,1260.0 1224.8,1260.9 1225.8,1261.8C1226.8,1262.7 1227.8,1263.6 1228.8,1264.5C1229.8,1265.4 1230.8,1266.2 1231.8,1267.1C1232.8,1268.0 1233.8,1268.9 1234.8,1269.7C1235.8,1270.6 1236.8,1271.4 1237.9,1272.3C1238.9,1273.1 1239.9,1274.0 1241.0,1274.8C1242.0,1275.6 1243.1,1276.5 1244.1,1277.3C1245.2,1278.1 1246.2,1278.9 1247.3,1279.7C1248.4,1280.5 1249.5,1281.3 1250.5,1282.0C1251.6,1282.8 1252.7,1283.6 1253.8,1284.4C1254.9,1285.1 1256.0,1285.9 1257.1,1286.6C1258.3,1287.3 1259.4,1288.0 1260.5,1288.8C1261.6,1289.5 1262.8,1290.2 1263.9,1290.8C1265.1,1291.5 1266.2,1292.2 1267.4,1292.9C1268.5,1293.5 1269.7,1294.2 1270.9,1294.8C1272.0,1295.4 1273.2,1296.0 1274.4,1296.6C1275.6,1297.2 1276.8,1297.8 1278.0,1298.4C1279.2,1299.0 1280.4,1299.5 1281.6,1300.1C1282.9,1300.6 1284.1,1301.1 1285.3,1301.6C1286.6,1302.1 1287.8,1302.6 1289.0,1303.1C1290.3,1303.6 1291.5,1304.1 1292.8,1304.5C1294.0,1305.0 1295.3,1305.4 1296.6,1305.9C1297.8,1306.3 1299.1,1306.7 1300.3,1307.2C1301.6,1307.6 1302.9,1308.0 1304.1,1308.4C1305.4,1308.8 1306.7,1309.2 1308.0,1309.6C1309.2,1310.0 1310.5,1310.4 1311.8,1310.8C1313.1,1311.1 1314.3,1311.5 1315.6,1311.9C1316.9,1312.3 1318.2,1312.6 1319.5,1313.0C1320.8,1313.4 1322.0,1313.8 1323.3,1314.1C1324.6,1314.5 1325.9,1314.9 1327.2,1315.2C1328.4,1315.6 1329.7,1316.0 1331.0,1316.3C1332.3,1316.7 1333.6,1317.1 1334.8,1317.5C1336.1,1317.9 1337.4,1318.2 1338.7,1318.6C1340.0,1319.0 1341.2,1319.4 1342.5,1319.8C1343.8,1320.2 1345.0,1320.6 1346.3,1321.0C1347.6,1321.4 1348.8,1321.8 1350.1,1322.3C1351.4,1322.7 1352.6,1323.1 1353.9,1323.6C1355.2,1324.0 1356.4,1324.4 1357.7,1324.9C1358.9,1325.3 1360.2,1325.8 1361.4,1326.2C1362.7,1326.7 1363.9,1327.1 1365.2,1327.6C1366.4,1328.1 1367.7,1328.5 1368.9,1329.0C1370.2,1329.5 1371.4,1329.9 1372.7,1330.4C1373.9,1330.9 1375.2,1331.3 1376.4,1331.8C1377.7,1332.3 1378.9,1332.8 1380.2,1333.2C1381.4,1333.7 1382.7,1334.2 1383.9,1334.7C1385.2,1335.1 1386.4,1335.6 1387.7,1336.1C1388.9,1336.5 1390.2,1337.0 1391.4,1337.5C1392.7,1337.9 1393.9,1338.4 1395.2,1338.9C1396.4,1339.3 1397.7,1339.8 1398.9,1340.2C1400.2,1340.7 1401.4,1341.1 1402.7,1341.6C1403.9,1342.0 1405.2,1342.5 1406.5,1342.9C1407.7,1343.3 1409.0,1343.8 1410.2,1344.2C1411.5,1344.6 1412.8,1345.0 1414.0,1345.4C1415.3,1345.8 1416.6,1346.2 1417.9,1346.6C1419.1,1347.0 1420.4,1347.4 1421.7,1347.8C1423.0,1348.2 1424.3,1348.5 1425.5,1348.9C1426.8,1349.3 1428.1,1349.6 1429.4,1350.0C1430.7,1350.3 1432.0,1350.7 1433.3,1351.0C1434.6,1351.3 1435.8,1351.7 1437.1,1352.0C1438.4,1352.3 1439.7,1352.6 1441.0,1352.9C1442.3,1353.2 1443.6,1353.6 1444.9,1353.9C1446.2,1354.2 1447.5,1354.5 1448.8,1354.8C1450.1,1355.1 1451.4,1355.4 1452.7,1355.7C1454.0,1355.9 1455.3,1356.2 1456.6,1356.5C1457.9,1356.8 1459.2,1357.1 1460.5,1357.4C1461.8,1357.7 1463.1,1358.0 1464.4,1358.3C1465.7,1358.5 1467.0,1358.8 1468.3,1359.1C1469.6,1359.4 1470.9,1359.7 1472.2,1360.0C1473.5,1360.3 1474.8,1360.6 1476.2,1360.9C1477.5,1361.1 1478.8,1361.4 1480.1,1361.7C1481.4,1362.0 1482.7,1362.3 1484.0,1362.6C1485.3,1362.9 1486.6,1363.2 1487.8,1363.5C1489.1,1363.8 1490.4,1364.1 1491.7,1364.5C1493.0,1364.8 1494.3,1365.1 1495.6,1365.4C1496.9,1365.7 1498.2,1366.0 1499.5,1366.3C1500.8,1366.6 1502.1,1366.9 1503.4,1367.2C1504.7,1367.6 1506.0,1367.9 1507.3,1368.2C1508.6,1368.5 1509.9,1368.8 1511.2,1369.2C1512.5,1369.5 1513.8,1369.8 1515.1,1370.1C1516.4,1370.4 1517.7,1370.8 1519.0,1371.1C1520.2,1371.4 1521.5,1371.7 1522.8,1372.0C1524.1,1372.4 1525.4,1372.7 1526.7,1373.0C1528.0,1373.3 1529.3,1373.7 1530.6,1374.0C1531.9,1374.3 1533.2,1374.7 1534.5,1375.0C1535.8,1375.3 1537.1,1375.6 1538.4,1376.0C1539.6,1376.3 1540.9,1376.6 1542.2,1377.0C1543.5,1377.3 1544.8,1377.6 1546.1,1377.9C1547.4,1378.3 1548.7,1378.6 1550.0,1378.9C1551.3,1379.3 1552.6,1379.6 1553.9,1379.9C1555.2,1380.2 1556.4,1380.6 1557.7,1380.9C1559.0,1381.2 1560.3,1381.6 1561.6,1381.9C1562.9,1382.2 1564.2,1382.5 1565.5,1382.9C1566.8,1383.2 1568.1,1383.5 1569.4,1383.8C1570.7,1384.2 1572.0,1384.5 1573.3,1384.8C1574.5,1385.2 1575.8,1385.5 1577.1,1385.8C1578.4,1386.1 1579.7,1386.4 1581.0,1386.8C1582.3,1387.1 1583.6,1387.4 1584.9,1387.7C1586.2,1388.1 1587.5,1388.4 1588.8,1388.7C1590.1,1389.0 1591.4,1389.3 1592.7,1389.7C1594.0,1390.0 1595.3,1390.3 1596.6,1390.6C1597.8,1390.9 1599.1,1391.2 1600.4,1391.5C1601.7,1391.9 1603.0,1392.2 1604.3,1392.5C1605.6,1392.8 1606.9,1393.1 1608.2,1393.4C1609.5,1393.7 1610.8,1394.0 1612.1,1394.3C1613.4,1394.6 1614.7,1394.9 1616.0,1395.2C1617.3,1395.5 1618.6,1395.8 1619.9,1396.1C1621.2,1396.4 1622.5,1396.7 1623.8,1397.0C1625.1,1397.3 1626.4,1397.6 1627.7,1397.9C1629.0,1398.1 1630.3,1398.4 1631.6,1398.7C1632.9,1399.0 1634.2,1399.3 1635.5,1399.6C1636.8,1399.8 1638.2,1400.1 1639.5,1400.4C1640.8,1400.7 1642.1,1400.9 1643.4,1401.2C1644.7,1401.5 1646.0,1401.8 1647.3,1402.0C1648.6,1402.3 1649.9,1402.6 1651.2,1402.8C1652.5,1403.1 1653.8,1403.3 1655.1,1403.6C1656.4,1403.8 1657.8,1404.1 1659.1,1404.4C1660.4,1404.6 1661.7,1404.9 1663.0,1405.1C1664.3,1405.3 1665.6,1405.6 1666.9,1405.8C1668.2,1406.1 1669.6,1406.3 1670.9,1406.6C1672.2,1406.8 1673.5,1407.0 1674.8,1407.3C1676.1,1407.5 1677.4,1407.7 1678.7,1408.0C1680.1,1408.2 1681.4,1408.4 1682.7,1408.6C1684.0,1408.9 1685.3,1409.1 1686.6,1409.3C1687.9,1409.5 1689.3,1409.8 1690.6,1410.0C1691.9,1410.2 1693.2,1410.4 1694.5,1410.6C1695.8,1410.8 1697.2,1411.0 1698.5,1411.2C1699.8,1411.5 1701.1,1411.7 1702.4,1411.9C1703.7,1412.1 1705.1,1412.3 1706.4,1412.5C1707.7,1412.7 1709.0,1412.9 1710.3,1413.1C1711.7,1413.3 1713.0,1413.5 1714.3,1413.7C1715.6,1413.8 1716.9,1414.0 1718.3,1414.2C1719.6,1414.4 1720.9,1414.6 1722.2,1414.8C1723.5,1415.0 1724.9,1415.2 1726.2,1415.3C1727.5,1415.5 1728.8,1415.7 1730.1,1415.9C1731.5,1416.1 1732.8,1416.2 1734.1,1416.4C1735.4,1416.6 1736.8,1416.8 1738.1,1416.9C1739.4,1417.1 1740.7,1417.3 1742.0,1417.4C1743.4,1417.6 1744.7,1417.8 1746.0,1417.9C1747.3,1418.1 1748.7,1418.2 1750.0,1418.4C1751.3,1418.6 1752.6,1418.7 1754.0,1418.9C1755.3,1419.0 1756.6,1419.2 1757.9,1419.3C1759.3,1419.5 1760.6,1419.7 1761.9,1419.8C1763.2,1420.0 1764.6,1420.1 1765.9,1420.2C1767.2,1420.4 1768.5,1420.5 1769.9,1420.7C1771.2,1420.8 1772.5,1421.0 1773.8,1421.1C1775.2,1421.2 1776.5,1421.4 1777.8,1421.5C1779.1,1421.7 1780.5,1421.8 1781.8,1421.9C1783.1,1422.1 1784.5,1422.2 1785.8,1422.3C1787.1,1422.5 1788.4,1422.6 1789.8,1422.7C1791.1,1422.8 1792.4,1423.0 1793.7,1423.1C1795.1,1423.2 1796.4,1423.3 1797.7,1423.5C1799.1,1423.6 1800.4,1423.7 1801.7,1423.8C1803.0,1423.9 1804.4,1424.1 1805.7,1424.2C1807.0,1424.3 1808.4,1424.4 1809.7,1424.5C1811.0,1424.6 1812.3,1424.8 1813.7,1424.9C1815.0,1425.0 1816.3,1425.1 1817.7,1425.2C1819.0,1425.3 1820.3,1425.4 1821.6,1425.5C1823.0,1425.6 1824.3,1425.7 1825.6,1425.8C1827.0,1425.9 1828.3,1426.0 1829.6,1426.1C1831.0,1426.2 1832.3,1426.3 1833.6,1426.4C1834.9,1426.5 1836.3,1426.6 1837.6,1426.7C1838.9,1426.8 1840.3,1426.9 1841.6,1427.0C1842.9,1427.1 1844.3,1427.2 1845.6,1427.3C1846.9,1427.4 1848.2,1427.5 1849.6,1427.6C1850.9,1427.7 1852.2,1427.8 1853.6,1427.8C1854.9,1427.9 1856.2,1428.0 1857.6,1428.1C1858.9,1428.2 1860.2,1428.3 1861.6,1428.4C1862.9,1428.4 1864.2,1428.5 1865.5,1428.6C1866.9,1428.7 1868.2,1428.8 1869.5,1428.9C1870.9,1428.9 1872.2,1429.0 1873.5,1429.1C1874.9,1429.2 1876.2,1429.2 1877.5,1429.3C1878.9,1429.4 1880.2,1429.5 1881.5,1429.5C1882.9,1429.6 1884.2,1429.7 1885.5,1429.8C1886.8,1429.8 1888.2,1429.9 1889.5,1430.0C1890.8,1430.1 1892.2,1430.1 1893.5,1430.2C1894.8,1430.3 1896.2,1430.3 1897.5,1430.4C1898.8,1430.5 1900.2,1430.5 1901.5,1430.6C1902.8,1430.7 1904.2,1430.7 1905.5,1430.8C1906.8,1430.9 1908.2,1430.9 1909.5,1431.0C1910.8,1431.1 1912.2,1431.1 1913.5,1431.2C1914.8,1431.2 1916.2,1431.3 1917.5,1431.4C1918.8,1431.4 1920.1,1431.5 1921.5,1431.5C1922.8,1431.6 1924.1,1431.7 1925.5,1431.7C1926.8,1431.8 1928.1,1431.8 1929.5,1431.9C1930.8,1431.9 1932.1,1432.0 1933.5,1432.1C1934.8,1432.1 1936.1,1432.2 1937.5,1432.2C1938.8,1432.3 1940.1,1432.3 1941.5,1432.4C1942.8,1432.4 1944.1,1432.5 1945.5,1432.5C1946.8,1432.6 1948.1,1432.7 1949.5,1432.7C1950.8,1432.8 1952.1,1432.8 1953.5,1432.9C1954.8,1432.9 1956.1,1433.0 1957.5,1433.0C1958.8,1433.1 1960.1,1433.1 1961.5,1433.2C1962.8,1433.2 1964.1,1433.3 1965.5,1433.3C1966.8,1433.4 1968.1,1433.4 1969.5,1433.4C1970.8,1433.5 1972.1,1433.5 1973.5,1433.6C1974.8,1433.6 1976.1,1433.7 1977.4,1433.7C1978.8,1433.8 1980.1,1433.8 1981.4,1433.9C1982.8,1433.9 1984.1,1434.0 1985.4,1434.0C1986.8,1434.1 1988.1,1434.1 1989.4,1434.1C1990.8,1434.2 1992.1,1434.2 1993.4,1434.3C1994.8,1434.3 1996.1,1434.4 1997.4,1434.4C1998.8,1434.5 2000.1,1434.5 2001.4,1434.5C2002.8,1434.6 2004.1,1434.6 2005.4,1434.7C2006.8,1434.7 2008.1,1434.8 2009.4,1434.8C2010.8,1434.9 2012.1,1434.9 2013.4,1434.9C2014.8,1435.0 2016.1,1435.0 2017.4,1435.1C2018.8,1435.1 2020.1,1435.2 2021.4,1435.2C2022.8,1435.2 2024.1,1435.3 2025.4,1435.3C2026.8,1435.4 2028.1,1435.4 2029.4,1435.5C2030.8,1435.5 2032.1,1435.5 2033.4,1435.6" stroke="#f57b20"/>
<path d="M278.9,1437.8C280.3,1437.8 281.6,1437.9 282.9,1437.9C284.3,1437.9 285.6,1437.9 286.9,1437.9C288.3,1438.0 289.6,1438.0 290.9,1438.0C292.3,1438.0 293.6,1438.1 294.9,1438.1C296.3,1438.1 297.6,1438.1 298.9,1438.1C300.3,1438.2 301.6,1438.2 302.9,1438.2C304.3,1438.2 305.6,1438.2 307.0,1438.3C308.3,1438.3 309.6,1438.3 311.0,1438.3C312.3,1438.3 313.6,1438.3 315.0,1438.4C316.3,1438.4 317.6,1438.4 319.0,1438.4C320.3,1438.4 321.6,1438.4 323.0,1438.4C324.3,1438.4 325.6,1438.4 327.0,1438.5C328.3,1438.5 329.6,1438.5 331.0,1438.5C332.3,1438.5 333.7,1438.5 335.0,1438.5C336.3,1438.5 337.7,1438.5 339.0,1438.5C340.3,1438.5 341.7,1438.5 343.0,1438.5C344.3,1438.4 345.7,1438.4 347.0,1438.4C348.3,1438.4 349.7,1438.4 351.0,1438.4C352.3,1438.4 353.7,1438.3 355.0,1438.3C356.3,1438.3 357.7,1438.3 359.0,1438.3C360.4,1438.2 361.7,1438.2 363.0,1438.2C364.4,1438.1 365.7,1438.1 367.0,1438.1C368.4,1438.0 369.7,1438.0 371.0,1437.9C372.4,1437.9 373.7,1437.9 375.0,1437.8C376.4,1437.8 377.7,1437.7 379.0,1437.7C380.4,1437.6 381.7,1437.5 383.0,1437.5C384.4,1437.4 385.7,1437.4 387.0,1437.3C388.4,1437.2 389.7,1437.1 391.0,1437.1C392.4,1437.0 393.7,1436.9 395.0,1436.8C396.4,1436.7 397.7,1436.7 399.0,1436.6C400.4,1436.5 401.7,1436.4 403.0,1436.3C404.4,1436.2 405.7,1436.1 407.0,1436.0C408.3,1435.9 409.7,1435.8 411.0,1435.6C412.3,1435.5 413.7,1435.4 415.0,1435.3C416.3,1435.2 417.7,1435.0 419.0,1434.9C420.3,1434.8 421.6,1434.6 423.0,1434.5C424.3,1434.3 425.6,1434.2 427.0,1434.0C428.3,1433.9 429.6,1433.7 430.9,1433.6C432.3,1433.4 433.6,1433.2 434.9,1433.1C436.2,1432.9 437.5,1432.7 438.9,1432.5C440.2,1432.4 441.5,1432.2 442.8,1432.0C444.2,1431.8 445.5,1431.6 446.8,1431.4C448.1,1431.2 449.4,1431.0 450.8,1430.8C452.1,1430.6 453.4,1430.3 454.7,1430.1C456.0,1429.9 457.3,1429.7 458.7,1429.4C460.0,1429.2 461.3,1429.0 462.6,1428.7C463.9,1428.5 465.2,1428.2 466.5,1428.0C467.8,1427.7 469.1,1427.4 470.5,1427.2C471.8,1426.9 473.1,1426.6 474.4,1426.3C475.7,1426.0 477.0,1425.7 478.3,1425.4C479.6,1425.1 480.9,1424.8 482.2,1424.5C483.5,1424.1 484.8,1423.8 486.0,1423.5C487.3,1423.1 488.6,1422.8 489.9,1422.4C491.2,1422.0 492.5,1421.6 493.7,1421.2C495.0,1420.8 496.3,1420.4 497.5,1420.0C498.8,1419.6 500.1,1419.2 501.3,1418.7C502.6,1418.3 503.8,1417.8 505.1,1417.3C506.3,1416.8 507.6,1416.3 508.8,1415.8C510.0,1415.3 511.3,1414.8 512.5,1414.2C513.7,1413.7 514.9,1413.1 516.1,1412.5C517.3,1412.0 518.5,1411.4 519.7,1410.7C520.9,1410.1 522.0,1409.5 523.2,1408.8C524.4,1408.2 525.5,1407.5 526.7,1406.8C527.8,1406.1 528.9,1405.4 530.0,1404.6C531.1,1403.9 532.2,1403.1 533.3,1402.4C534.4,1401.6 535.5,1400.8 536.5,1400.0C537.6,1399.1 538.6,1398.3 539.6,1397.4C540.7,1396.6 541.7,1395.7 542.7,1394.8C543.6,1393.9 544.6,1393.0 545.6,1392.1C546.5,1391.1 547.5,1390.2 548.4,1389.2C549.3,1388.3 550.3,1387.3 551.2,1386.3C552.1,1385.3 552.9,1384.3 553.8,1383.3C554.7,1382.3 555.5,1381.3 556.4,1380.2C557.2,1379.2 558.1,1378.2 558.9,1377.1C559.7,1376.1 560.5,1375.0 561.3,1373.9C562.1,1372.8 562.9,1371.8 563.6,1370.7C564.4,1369.6 565.2,1368.5 565.9,1367.4C566.7,1366.3 567.4,1365.2 568.1,1364.0C568.8,1362.9 569.6,1361.8 570.3,1360.6C571.0,1359.5 571.7,1358.4 572.3,1357.2C573.0,1356.1 573.7,1354.9 574.4,1353.8C575.0,1352.6 575.7,1351.4 576.3,1350.3C577.0,1349.1 577.6,1347.9 578.3,1346.8C578.9,1345.6 579.5,1344.4 580.1,1343.2C580.7,1342.0 581.4,1340.8 581.9,1339.7C582.5,1338.5 583.1,1337.3 583.7,1336.1C584.3,1334.9 584.9,1333.7 585.4,1332.4C586.0,1331.2 586.6,1330.0 587.1,1328.8C587.7,1327.6 588.2,1326.4 588.8,1325.2C589.3,1323.9 589.8,1322.7 590.3,1321.5C590.9,1320.2 591.4,1319.0 591.9,1317.8C592.4,1316.5 592.9,1315.3 593.4,1314.1C593.9,1312.8 594.4,1311.6 594.8,1310.3C595.3,1309.1 595.8,1307.8 596.3,1306.6C596.7,1305.3 597.2,1304.1 597.6,1302.8C598.1,1301.6 598.5,1300.3 599.0,1299.1C599.4,1297.8 599.9,1296.5 600.3,1295.3C600.7,1294.0 601.1,1292.7 601.5,1291.5C602.0,1290.2 602.4,1288.9 602.8,1287.7C603.2,1286.4 603.6,1285.1 604.0,1283.8C604.4,1282.6 604.8,1281.3 605.1,1280.0C605.5,1278.7 605.9,1277.4 606.3,1276.2C606.6,1274.9 607.0,1273.6 607.4,1272.3C607.7,1271.0 608.1,1269.7 608.4,1268.5C608.8,1267.2 609.2,1265.9 609.5,1264.6C609.8,1263.3 610.2,1262.0 610.5,1260.7C610.9,1259.4 611.2,1258.1 611.5,1256.8C611.8,1255.5 612.2,1254.2 612.5,1253.0C612.8,1251.7 613.1,1250.4 613.4,1249.1C613.8,1247.8 614.1,1246.5 614.4,1245.2C614.7,1243.9 615.0,1242.6 615.3,1241.3C615.6,1240.0 615.9,1238.7 616.2,1237.4C616.5,1236.1 616.8,1234.8 617.1,1233.5C617.4,1232.2 617.7,1230.9 618.0,1229.5C618.2,1228.2 618.5,1226.9 618.8,1225.6C619.1,1224.3 619.4,1223.0 619.7,1221.7C619.9,1220.4 620.2,1219.1 620.5,1217.8C620.8,1216.5 621.0,1215.2 621.3,1213.9C621.6,1212.6 621.9,1211.3 622.1,1210.0C622.4,1208.7 622.7,1207.3 623.0,1206.0C623.2,1204.7 623.5,1203.4 623.8,1202.1C624.0,1200.8 624.3,1199.5 624.6,1198.2C624.8,1196.9 625.1,1195.6 625.4,1194.3C625.6,1193.0 625.9,1191.7 626.2,1190.3C626.4,1189.0 626.7,1187.7 627.0,1186.4C627.2,1185.1 627.5,1183.8 627.8,1182.5C628.0,1181.2 628.3,1179.9 628.6,1178.6C628.8,1177.3 629.1,1176.0 629.4,1174.6C629.6,1173.3 629.9,1172.0 630.2,1170.7C630.4,1169.4 630.7,1168.1 630.9,1166.8C631.2,1165.5 631.5,1164.2 631.7,1162.9C632.0,1161.6 632.2,1160.2 632.5,1158.9C632.8,1157.6 633.0,1156.3 633.3,1155.0C633.5,1153.7 633.8,1152.4 634.1,1151.1C634.3,1149.8 634.6,1148.5 634.8,1147.1C635.1,1145.8 635.3,1144.5 635.6,1143.2C635.8,1141.9 636.1,1140.6 636.4,1139.3C636.6,1138.0 636.9,1136.7 637.1,1135.4C637.4,1134.0 637.6,1132.7 637.9,1131.4C638.1,1130.1 638.4,1128.8 638.6,1127.5C638.9,1126.2 639.1,1124.9 639.3,1123.5C639.6,1122.2 639.8,1120.9 640.1,1119.6C640.3,1118.3 640.6,1117.0 640.8,1115.7C641.1,1114.4 641.3,1113.0 641.5,1111.7C641.8,1110.4 642.0,1109.1 642.3,1107.8C642.5,1106.5 642.7,1105.2 643.0,1103.9C643.2,1102.5 643.5,1101.2 643.7,1099.9C643.9,1098.6 644.2,1097.3 644.4,1096.0C644.6,1094.7 644.9,1093.3 645.1,1092.0C645.3,1090.7 645.6,1089.4 645.8,1088.1C646.0,1086.8 646.3,1085.5 646.5,1084.1C646.7,1082.8 646.9,1081.5 647.2,1080.2C647.4,1078.9 647.6,1077.6 647.8,1076.2C648.1,1074.9 648.3,1073.6 648.5,1072.3C648.7,1071.0 649.0,1069.7 649.2,1068.3C649.4,1067.0 649.6,1065.7 649.8,1064.4C650.1,1063.1 650.3,1061.8 650.5,1060.4C650.7,1059.1 650.9,1057.8 651.2,1056.5C651.4,1055.2 651.6,1053.9 651.8,1052.5C652.0,1051.2 652.2,1049.9 652.5,1048.6C652.7,1047.3 652.9,1046.0 653.1,1044.6C653.3,1043.3 653.5,1042.0 653.7,1040.7C653.9,1039.4 654.2,1038.0 654.4,1036.7C654.6,1035.4 654.8,1034.1 655.0,1032.8C655.2,1031.4 655.4,1030.1 655.6,1028.8C655.8,1027.5 656.0,1026.2 656.2,1024.9C656.4,1023.5 656.6,1022.2 656.9,1020.9C657.1,1019.6 657.3,1018.3 657.5,1016.9C657.7,1015.6 657.9,1014.3 658.1,1013.0C658.3,1011.7 658.5,1010.3 658.7,1009.0C658.9,1007.7 659.1,1006.4 659.3,1005.1C659.5,1003.7 659.7,1002.4 659.9,1001.1C660.1,999.8 660.3,998.5 660.5,997.1C660.7,995.8 660.9,994.5 661.1,993.2C661.3,991.9 661.5,990.5 661.7,989.2C661.9,987.9 662.1,986.6 662.3,985.3C662.5,983.9 662.7,982.6 662.9,981.3C663.1,980.0 663.2,978.7 663.4,977.3C663.6,976.0 663.8,974.7 664.0,973.4C664.2,972.1 664.4,970.7 664.6,969.4C664.8,968.1 665.0,966.8 665.2,965.4C665.4,964.1 665.6,962.8 665.8,961.5C666.0,960.2 666.2,958.8 666.3,957.5C666.5,956.2 666.7,954.9 666.9,953.6C667.1,952.2 667.3,950.9 667.5,949.6C667.7,948.3 667.9,947.0 668.1,945.6C668.3,944.3 668.5,943.0 668.6,941.7C668.8,940.3 669.0,939.0 669.2,937.7C669.4,936.4 669.6,935.1 669.8,933.7C670.0,932.4 670.2,931.1 670.4,929.8C670.5,928.5 670.7,927.1 670.9,925.8C671.1,924.5 671.3,923.2 671.5,921.8C671.7,920.5 671.9,919.2 672.1,917.9C672.2,916.6 672.4,915.2 672.6,913.9C672.8,912.6 673.0,911.3 673.2,910.0C673.4,908.6 673.6,907.3 673.8,906.0C674.0,904.7 674.1,903.3 674.3,902.0C674.5,900.7 674.7,899.4 674.9,898.1C675.1,896.7 675.3,895.4 675.5,894.1C675.7,892.8 675.8,891.4 676.0,890.1C676.2,888.8 676.4,887.5 676.6,886.2C676.8,884.8 677.0,883.5 677.2,882.2C677.4,880.9 677.6,879.6 677.8,878.2C677.9,876.9 678.1,875.6 678.3,874.3C678.5,872.9 678.7,871.6 678.9,870.3C679.1,869.0 679.3,867.7 679.5,866.3C679.7,865.0 679.9,863.7 680.0,862.4C680.2,861.1 680.4,859.7 680.6,858.4C680.8,857.1 681.0,855.8 681.2,854.5C681.4,853.1 681.6,851.8 681.8,850.5C682.0,849.2 682.2,847.8 682.4,846.5C682.6,845.2 682.8,843.9 683.0,842.6C683.2,841.2 683.3,839.9 683.5,838.6C683.7,837.3 683.9,836.0 684.1,834.6C684.3,833.3 684.5,832.0 684.7,830.7C684.9,829.4 685.1,828.0 685.3,826.7C685.5,825.4 685.7,824.1 685.9,822.8C686.1,821.4 686.3,820.1 686.5,818.8C686.7,817.5 686.9,816.2 687.1,814.8C687.3,813.5 687.5,812.2 687.7,810.9C687.9,809.6 688.1,808.2 688.3,806.9C688.5,805.6 688.7,804.3 688.9,803.0C689.1,801.6 689.3,800.3 689.5,799.0C689.7,797.7 689.9,796.4 690.1,795.0C690.3,793.7 690.5,792.4 690.8,791.1C691.0,789.8 691.2,788.4 691.4,787.1C691.6,785.8 691.8,784.5 692.0,783.2C692.2,781.9 692.4,780.5 692.6,779.2C692.8,777.9 693.0,776.6 693.2,775.3C693.4,773.9 693.6,772.6 693.9,771.3C694.1,770.0 694.3,768.7 694.5,767.3C694.7,766.0 694.9,764.7 695.1,763.4C695.3,762.1 695.5,760.8 695.8,759.4C696.0,758.1 696.2,756.8 696.4,755.5C696.6,754.2 696.8,752.8 697.0,751.5C697.2,750.2 697.5,748.9 697.7,747.6C697.9,746.3 698.1,744.9 698.3,743.6C698.5,742.3 698.7,741.0 699.0,739.7C699.2,738.4 699.4,737.0 699.6,735.7C699.8,734.4 700.0,733.1 700.3,731.8C700.5,730.4 700.7,729.1 700.9,727.8C701.1,726.5 701.4,725.2 701.6,723.9C701.8,722.5 702.0,721.2 702.2,719.9C702.5,718.6 702.7,717.3 702.9,716.0C703.1,714.6 703.4,713.3 703.6,712.0C703.8,710.7 704.0,709.4 704.3,708.1C704.5,706.8 704.7,705.4 704.9,704.1C705.2,702.8 705.4,701.5 705.6,700.2C705.8,698.9 706.1,697.5 706.3,696.2C706.5,694.9 706.7,693.6 707.0,692.3C707.2,691.0 707.4,689.6 707.7,688.3C707.9,687.0 708.1,685.7 708.4,684.4C708.6,683.1 708.8,681.8 709.1,680.4C709.3,679.1 709.5,677.8 709.8,676.5C710.0,675.2 710.2,673.9 710.5,672.6C710.7,671.2 710.9,669.9 711.2,668.6C711.4,667.3 711.6,666.0 711.9,664.7C712.1,663.4 712.3,662.0 712.6,660.7C712.8,659.4 713.1,658.1 713.3,656.8C713.5,655.5 713.8,654.2 714.0,652.9C714.3,651.5 714.5,650.2 714.8,648.9C715.0,647.6 715.2,646.3 715.5,645.0C715.7,643.7 716.0,642.3 716.2,641.0C716.5,639.7 716.7,638.4 716.9,637.1C717.2,635.8 717.4,634.5 717.7,633.2C717.9,631.9 718.2,630.5 718.4,629.2C718.7,627.9 718.9,626.6 719.2,625.3C719.4,624.0 719.7,622.7 719.9,621.4C720.2,620.0 720.4,618.7 720.7,617.4C720.9,616.1 721.2,614.8 721.5,613.5C721.7,612.2 722.0,610.9 722.2,609.6C722.5,608.3 722.7,606.9 723.0,605.6C723.2,604.3 723.5,603.0 723.8,601.7C724.0,600.4 724.3,599.1 724.5,597.8C724.8,596.5 725.1,595.2 725.3,593.8C725.6,592.5 725.9,591.2 726.1,589.9C726.4,588.6 726.7,587.3 727.0,586.0C727.2,584.7 727.5,583.4 727.8,582.1C728.1,580.8 728.4,579.5 728.7,578.2C729.0,576.9 729.3,575.6 729.6,574.3C729.9,573.0 730.3,571.7 730.6,570.4C730.9,569.1 731.3,567.8 731.6,566.5C732.0,565.2 732.3,564.0 732.7,562.7C733.1,561.4 733.4,560.1 733.8,558.8C734.2,557.6 734.6,556.3 735.0,555.0C735.4,553.7 735.9,552.5 736.3,551.2C736.7,549.9 737.2,548.7 737.6,547.4C738.1,546.2 738.6,544.9 739.1,543.7C739.6,542.5 740.2,541.3 740.8,540.1C741.4,538.9 742.1,537.7 742.8,536.6C743.5,535.5 744.3,534.4 745.2,533.4C746.0,532.3 746.9,531.3 747.9,530.4C748.9,529.6 749.9,528.7 751.1,528.0C752.2,527.4 753.5,526.8 754.8,526.7C756.1,526.6 757.5,526.8 758.7,527.3C760.0,527.7 761.1,528.5 762.1,529.4C763.2,530.2 764.1,531.2 765.0,532.2C765.9,533.2 766.7,534.3 767.4,535.4C768.1,536.5 768.8,537.6 769.4,538.8C770.0,540.0 770.5,541.2 771.0,542.5C771.6,543.7 772.0,545.0 772.5,546.2C772.9,547.5 773.3,548.8 773.7,550.0C774.1,551.3 774.5,552.6 774.9,553.8C775.3,555.1 775.7,556.4 776.1,557.7C776.5,559.0 776.9,560.2 777.3,561.5C777.6,562.8 778.0,564.1 778.4,565.4C778.8,566.6 779.1,567.9 779.5,569.2C779.9,570.5 780.2,571.8 780.6,573.1C781.0,574.3 781.3,575.6 781.7,576.9C782.0,578.2 782.3,579.5 782.7,580.8C783.0,582.1 783.4,583.4 783.7,584.7C784.0,586.0 784.4,587.2 784.7,588.5C785.0,589.8 785.4,591.1 785.7,592.4C786.0,593.7 786.3,595.0 786.6,596.3C786.9,597.6 787.3,598.9 787.6,600.2C787.9,601.5 788.2,602.8 788.5,604.1C788.8,605.4 789.1,606.7 789.4,608.0C789.7,609.3 790.0,610.6 790.2,611.9C790.5,613.2 790.8,614.5 791.1,615.8C791.4,617.1 791.7,618.4 792.0,619.7C792.2,621.1 792.5,622.4 792.8,623.7C793.1,625.0 793.3,626.3 793.6,627.6C793.9,628.9 794.2,630.2 794.4,631.5C794.7,632.8 795.0,634.1 795.2,635.4C795.5,636.7 795.7,638.1 796.0,639.4C796.3,640.7 796.5,642.0 796.8,643.3C797.0,644.6 797.3,645.9 797.5,647.2C797.8,648.5 798.0,649.8 798.3,651.2C798.5,652.5 798.8,653.8 799.0,655.1C799.3,656.4 799.5,657.7 799.8,659.0C800.0,660.3 800.3,661.6 800.5,663.0C800.8,664.3 801.0,665.6 801.3,666.9C801.5,668.2 801.8,669.5 802.0,670.8C802.2,672.1 802.5,673.5 802.7,674.8C803.0,676.1 803.2,677.4 803.4,678.7C803.7,680.0 803.9,681.3 804.2,682.7C804.4,684.0 804.7,685.3 804.9,686.6C805.1,687.9 805.4,689.2 805.6,690.5C805.9,691.8 806.1,693.2 806.4,694.5C806.6,695.8 806.8,697.1 807.1,698.4C807.3,699.7 807.6,701.0 807.8,702.3C808.1,703.7 808.3,705.0 808.6,706.3C808.8,707.6 809.1,708.9 809.3,710.2C809.6,711.5 809.8,712.8 810.1,714.1C810.3,715.5 810.6,716.8 810.8,718.1C811.1,719.4 811.3,720.7 811.6,722.0C811.8,723.3 812.1,724.6 812.3,726.0C812.6,727.3 812.8,728.6 813.1,729.9C813.3,731.2 813.6,732.5 813.8,733.8C814.1,735.1 814.3,736.4 814.6,737.8C814.8,739.1 815.1,740.4 815.3,741.7C815.6,743.0 815.8,744.3 816.1,745.6C816.4,746.9 816.6,748.2 816.9,749.5C817.1,750.9 817.4,752.2 817.6,753.5C817.9,754.8 818.1,756.1 818.4,757.4C818.6,758.7 818.9,760.0 819.1,761.3C819.4,762.7 819.6,764.0 819.9,765.3C820.1,766.6 820.4,767.9 820.6,769.2C820.9,770.5 821.1,771.8 821.4,773.2C821.6,774.5 821.9,775.8 822.1,777.1C822.4,778.4 822.6,779.7 822.9,781.0C823.1,782.3 823.3,783.6 823.6,785.0C823.8,786.3 824.1,787.6 824.3,788.9C824.6,790.2 824.8,791.5 825.0,792.8C825.3,794.2 825.5,795.5 825.8,796.8C826.0,798.1 826.2,799.4 826.5,800.7C826.7,802.0 827.0,803.3 827.2,804.7C827.4,806.0 827.7,807.3 827.9,808.6C828.1,809.9 828.4,811.2 828.6,812.5C828.8,813.9 829.1,815.2 829.3,816.5C829.5,817.8 829.8,819.1 830.0,820.4C830.2,821.7 830.5,823.1 830.7,824.4C830.9,825.7 831.2,827.0 831.4,828.3C831.6,829.6 831.8,831.0 832.1,832.3C832.3,833.6 832.5,834.9 832.8,836.2C833.0,837.5 833.2,838.8 833.5,840.2C833.7,841.5 833.9,842.8 834.2,844.1C834.4,845.4 834.6,846.7 834.9,848.0C835.1,849.4 835.3,850.7 835.6,852.0C835.8,853.3 836.1,854.6 836.3,855.9C836.5,857.2 836.8,858.6 837.0,859.9C837.2,861.2 837.5,862.5 837.7,863.8C838.0,865.1 838.2,866.4 838.5,867.7C838.7,869.1 839.0,870.4 839.2,871.7C839.5,873.0 839.7,874.3 840.0,875.6C840.2,876.9 840.5,878.2 840.7,879.5C841.0,880.9 841.2,882.2 841.5,883.5C841.8,884.8 842.0,886.1 842.3,887.4C842.6,888.7 842.8,890.0 843.1,891.3C843.4,892.6 843.6,893.9 843.9,895.2C844.2,896.6 844.5,897.9 844.7,899.2C845.0,900.5 845.3,901.8 845.6,903.1C845.9,904.4 846.2,905.7 846.4,907.0C846.7,908.3 847.0,909.6 847.3,910.9C847.6,912.2 847.9,913.5 848.2,914.8C848.5,916.1 848.8,917.4 849.1,918.7C849.5,920.0 849.8,921.3 850.1,922.6C850.4,923.9 850.7,925.2 851.0,926.5C851.4,927.8 851.7,929.1 852.0,930.4C852.4,931.7 852.7,933.0 853.0,934.2C853.4,935.5 853.7,936.8 854.0,938.1C854.4,939.4 854.7,940.7 855.1,942.0C855.5,943.3 855.8,944.6 856.2,945.8C856.5,947.1 856.9,948.4 857.3,949.7C857.6,951.0 858.0,952.3 858.4,953.5C858.8,954.8 859.2,956.1 859.5,957.4C859.9,958.6 860.3,959.9 860.7,961.2C861.1,962.5 861.5,963.7 861.9,965.0C862.3,966.3 862.8,967.6 863.2,968.8C863.6,970.1 864.0,971.4 864.4,972.6C864.9,973.9 865.3,975.2 865.7,976.4C866.2,977.7 866.6,978.9 867.1,980.2C867.5,981.5 868.0,982.7 868.4,984.0C868.9,985.2 869.3,986.5 869.8,987.7C870.3,989.0 870.7,990.2 871.2,991.5C871.7,992.7 872.2,994.0 872.7,995.2C873.2,996.4 873.6,997.7 874.1,998.9C874.6,1000.2 875.1,1001.4 875.7,1002.6C876.2,1003.9 876.7,1005.1 877.2,1006.3C877.8,1007.5 878.3,1008.8 878.9,1010.0C879.4,1011.2 880.0,1012.4 880.6,1013.6C881.2,1014.8 881.8,1016.0 882.4,1017.1C883.1,1018.3 883.7,1019.5 884.4,1020.6C885.1,1021.7 885.9,1022.9 886.6,1024.0C887.4,1025.1 888.2,1026.1 889.0,1027.2C889.9,1028.2 890.7,1029.2 891.7,1030.2C892.6,1031.1 893.6,1032.1 894.6,1032.9C895.6,1033.8 896.6,1034.6 897.7,1035.4C898.8,1036.1 900.0,1036.8 901.2,1037.5C902.3,1038.1 903.6,1038.6 904.8,1039.1C906.1,1039.6 907.3,1040.0 908.6,1040.3C909.9,1040.6 911.3,1040.8 912.6,1041.0C913.9,1041.2 915.2,1041.3 916.6,1041.4C917.9,1041.5 919.2,1041.5 920.6,1041.5C921.9,1041.5 923.2,1041.5 924.6,1041.4C925.9,1041.4 927.2,1041.3 928.6,1041.3C929.9,1041.2 931.2,1041.2 932.6,1041.1C933.9,1041.0 935.2,1041.0 936.6,1040.9C937.9,1040.8 939.2,1040.8 940.6,1040.7C941.9,1040.6 943.2,1040.6 944.6,1040.5C945.9,1040.4 947.2,1040.3 948.6,1040.3C949.9,1040.2 951.2,1040.1 952.6,1040.0C953.9,1040.0 955.2,1039.9 956.6,1039.8C957.9,1039.8 959.2,1039.7 960.6,1039.6C961.9,1039.6 963.2,1039.5 964.6,1039.5C965.9,1039.5 967.2,1039.4 968.6,1039.4C969.9,1039.4 971.2,1039.4 972.6,1039.4C973.9,1039.4 975.2,1039.4 976.6,1039.5C977.9,1039.5 979.3,1039.6 980.6,1039.7C981.9,1039.7 983.2,1039.8 984.6,1039.9C985.9,1040.1 987.2,1040.2 988.6,1040.4C989.9,1040.5 991.2,1040.7 992.5,1040.9C993.8,1041.1 995.2,1041.3 996.5,1041.6C997.8,1041.8 999.1,1042.1 1000.4,1042.4C1001.7,1042.8 1003.0,1043.1 1004.3,1043.5C1005.5,1043.9 1006.8,1044.3 1008.0,1044.8C1009.3,1045.3 1010.5,1045.8 1011.7,1046.4C1012.9,1047.0 1014.1,1047.6 1015.2,1048.3C1016.4,1049.0 1017.5,1049.7 1018.6,1050.5C1019.7,1051.3 1020.7,1052.1 1021.7,1053.0C1022.8,1053.8 1023.8,1054.7 1024.7,1055.6C1025.7,1056.5 1026.6,1057.5 1027.5,1058.5C1028.5,1059.4 1029.4,1060.4 1030.2,1061.4C1031.1,1062.5 1032.0,1063.5 1032.8,1064.5C1033.6,1065.6 1034.4,1066.6 1035.3,1067.7C1036.1,1068.7 1036.9,1069.8 1037.7,1070.9C1038.5,1071.9 1039.2,1073.0 1040.0,1074.1C1040.8,1075.2 1041.6,1076.3 1042.4,1077.4C1043.2,1078.4 1044.0,1079.5 1044.7,1080.6C1045.5,1081.7 1046.3,1082.7 1047.1,1083.8C1047.9,1084.9 1048.7,1085.9 1049.5,1087.0C1050.3,1088.1 1051.1,1089.1 1052.0,1090.2C1052.8,1091.3 1053.6,1092.3 1054.4,1093.4C1055.2,1094.4 1056.0,1095.5 1056.9,1096.5C1057.7,1097.6 1058.5,1098.6 1059.3,1099.7C1060.2,1100.7 1061.0,1101.8 1061.8,1102.8C1062.7,1103.8 1063.5,1104.9 1064.4,1105.9C1065.2,1106.9 1066.1,1108.0 1066.9,1109.0C1067.7,1110.0 1068.6,1111.1 1069.4,1112.1C1070.3,1113.1 1071.2,1114.2 1072.0,1115.2C1072.9,1116.2 1073.7,1117.2 1074.6,1118.2C1075.5,1119.3 1076.3,1120.3 1077.2,1121.3C1078.1,1122.3 1078.9,1123.3 1079.8,1124.3C1080.7,1125.3 1081.5,1126.4 1082.4,1127.4C1083.3,1128.4 1084.2,1129.4 1085.0,1130.4C1085.9,1131.4 1086.8,1132.4 1087.7,1133.4C1088.6,1134.4 1089.5,1135.4 1090.3,1136.4C1091.2,1137.4 1092.1,1138.4 1093.0,1139.4C1093.9,1140.4 1094.8,1141.4 1095.7,1142.4C1096.6,1143.4 1097.5,1144.4 1098.4,1145.4C1099.2,1146.3 1100.1,1147.3 1101.0,1148.3C1101.9,1149.3 1102.8,1150.3 1103.7,1151.3C1104.6,1152.3 1105.5,1153.3 1106.4,1154.2C1107.3,1155.2 1108.2,1156.2 1109.1,1157.2C1110.0,1158.2 1111.0,1159.2 1111.9,1160.1C1112.8,1161.1 1113.7,1162.1 1114.6,1163.1C1115.5,1164.1 1116.4,1165.0 1117.3,1166.0C1118.2,1167.0 1119.1,1168.0 1120.0,1169.0C1120.9,1169.9 1121.8,1170.9 1122.8,1171.9C1123.7,1172.9 1124.6,1173.8 1125.5,1174.8C1126.4,1175.8 1127.3,1176.8 1128.2,1177.7C1129.1,1178.7 1130.0,1179.7 1130.9,1180.7C1131.9,1181.6 1132.8,1182.6 1133.7,1183.6C1134.6,1184.6 1135.5,1185.6 1136.4,1186.5C1137.3,1187.5 1138.2,1188.5 1139.1,1189.5C1140.1,1190.4 1141.0,1191.4 1141.9,1192.4C1142.8,1193.4 1143.7,1194.3 1144.6,1195.3C1145.5,1196.3 1146.4,1197.3 1147.3,1198.3C1148.2,1199.2 1149.1,1200.2 1150.1,1201.2C1151.0,1202.2 1151.9,1203.2 1152.8,1204.1C1153.7,1205.1 1154.6,1206.1 1155.5,1207.1C1156.4,1208.1 1157.3,1209.0 1158.2,1210.0C1159.1,1211.0 1160.0,1212.0 1160.9,1213.0C1161.8,1213.9 1162.7,1214.9 1163.7,1215.9C1164.6,1216.9 1165.5,1217.8 1166.4,1218.8C1167.3,1219.8 1168.2,1220.8 1169.1,1221.7C1170.0,1222.7 1171.0,1223.7 1171.9,1224.7C1172.8,1225.6 1173.7,1226.6 1174.6,1227.6C1175.6,1228.5 1176.5,1229.5 1177.4,1230.4C1178.3,1231.4 1179.3,1232.4 1180.2,1233.3C1181.1,1234.3 1182.1,1235.2 1183.0,1236.2C1183.9,1237.1 1184.9,1238.1 1185.8,1239.0C1186.7,1240.0 1187.7,1240.9 1188.6,1241.9C1189.6,1242.8 1190.5,1243.7 1191.5,1244.7C1192.5,1245.6 1193.4,1246.5 1194.4,1247.5C1195.3,1248.4 1196.3,1249.3 1197.3,1250.2C1198.2,1251.1 1199.2,1252.0 1200.2,1253.0C1201.2,1253.9 1202.2,1254.8 1203.2,1255.7C1204.1,1256.6 1205.1,1257.5 1206.1,1258.3C1207.1,1259.2 1208.1,1260.1 1209.1,1261.0C1210.2,1261.9 1211.2,1262.7 1212.2,1263.6C1213.2,1264.5 1214.2,1265.3 1215.3,1266.2C1216.3,1267.0 1217.3,1267.9 1218.4,1268.7C1219.4,1269.5 1220.4,1270.4 1221.5,1271.2C1222.5,1272.0 1223.6,1272.8 1224.7,1273.6C1225.7,1274.4 1226.8,1275.2 1227.9,1276.0C1229.0,1276.8 1230.0,1277.6 1231.1,1278.4C1232.2,1279.1 1233.3,1279.9 1234.4,1280.7C1235.5,1281.4 1236.6,1282.2 1237.7,1282.9C1238.8,1283.7 1239.9,1284.4 1241.1,1285.1C1242.2,1285.8 1243.3,1286.5 1244.5,1287.3C1245.6,1288.0 1246.7,1288.7 1247.9,1289.4C1249.0,1290.0 1250.2,1290.7 1251.3,1291.4C1252.5,1292.1 1253.6,1292.8 1254.8,1293.4C1255.9,1294.1 1257.1,1294.7 1258.3,1295.4C1259.4,1296.0 1260.6,1296.7 1261.8,1297.3C1263.0,1297.9 1264.1,1298.5 1265.3,1299.2C1266.5,1299.8 1267.7,1300.4 1268.9,1301.0C1270.1,1301.6 1271.3,1302.2 1272.5,1302.8C1273.7,1303.4 1274.9,1304.0 1276.1,1304.5C1277.3,1305.1 1278.5,1305.7 1279.7,1306.3C1280.9,1306.8 1282.1,1307.4 1283.3,1307.9C1284.5,1308.5 1285.8,1309.0 1287.0,1309.6C1288.2,1310.1 1289.4,1310.7 1290.6,1311.2C1291.9,1311.7 1293.1,1312.2 1294.3,1312.8C1295.6,1313.3 1296.8,1313.8 1298.0,1314.3C1299.3,1314.8 1300.5,1315.3 1301.7,1315.8C1303.0,1316.3 1304.2,1316.8 1305.5,1317.3C1306.7,1317.8 1307.9,1318.3 1309.2,1318.7C1310.4,1319.2 1311.7,1319.7 1312.9,1320.2C1314.2,1320.6 1315.4,1321.1 1316.7,1321.6C1317.9,1322.0 1319.2,1322.5 1320.4,1322.9C1321.7,1323.4 1323.0,1323.8 1324.2,1324.3C1325.5,1324.7 1326.7,1325.2 1328.0,1325.6C1329.3,1326.1 1330.5,1326.5 1331.8,1326.9C1333.0,1327.4 1334.3,1327.8 1335.6,1328.2C1336.8,1328.6 1338.1,1329.0 1339.4,1329.5C1340.6,1329.9 1341.9,1330.3 1343.2,1330.7C1344.5,1331.1 1345.7,1331.5 1347.0,1331.9C1348.3,1332.3 1349.5,1332.7 1350.8,1333.1C1352.1,1333.5 1353.4,1333.9 1354.7,1334.3C1355.9,1334.7 1357.2,1335.1 1358.5,1335.5C1359.8,1335.8 1361.0,1336.2 1362.3,1336.6C1363.6,1337.0 1364.9,1337.3 1366.2,1337.7C1367.5,1338.1 1368.7,1338.5 1370.0,1338.8C1371.3,1339.2 1372.6,1339.6 1373.9,1339.9C1375.2,1340.3 1376.4,1340.6 1377.7,1341.0C1379.0,1341.3 1380.3,1341.7 1381.6,1342.1C1382.9,1342.4 1384.2,1342.8 1385.5,1343.1C1386.7,1343.5 1388.0,1343.8 1389.3,1344.1C1390.6,1344.5 1391.9,1344.8 1393.2,1345.2C1394.5,1345.5 1395.8,1345.8 1397.1,1346.2C1398.4,1346.5 1399.7,1346.8 1401.0,1347.2C1402.2,1347.5 1403.5,1347.8 1404.8,1348.2C1406.1,1348.5 1407.4,1348.8 1408.7,1349.1C1410.0,1349.5 1411.3,1349.8 1412.6,1350.1C1413.9,1350.4 1415.2,1350.8 1416.5,1351.1C1417.8,1351.4 1419.1,1351.7 1420.4,1352.0C1421.7,1352.4 1423.0,1352.7 1424.3,1353.0C1425.6,1353.3 1426.9,1353.6 1428.2,1353.9C1429.5,1354.3 1430.8,1354.6 1432.1,1354.9C1433.3,1355.2 1434.6,1355.5 1435.9,1355.8C1437.2,1356.1 1438.5,1356.4 1439.8,1356.8C1441.1,1357.1 1442.4,1357.4 1443.7,1357.7C1445.0,1358.0 1446.3,1358.3 1447.6,1358.6C1448.9,1358.9 1450.2,1359.2 1451.5,1359.5C1452.8,1359.9 1454.1,1360.2 1455.4,1360.5C1456.7,1360.8 1458.0,1361.1 1459.3,1361.4C1460.6,1361.7 1461.9,1362.0 1463.2,1362.3C1464.5,1362.6 1465.8,1362.9 1467.1,1363.2C1468.4,1363.6 1469.7,1363.9 1471.0,1364.2C1472.3,1364.5 1473.6,1364.8 1474.9,1365.1C1476.2,1365.4 1477.5,1365.7 1478.8,1366.0C1480.1,1366.4 1481.4,1366.7 1482.7,1367.0C1484.0,1367.3 1485.3,1367.6 1486.6,1367.9C1487.9,1368.2 1489.2,1368.6 1490.5,1368.9C1491.8,1369.2 1493.1,1369.5 1494.4,1369.8C1495.7,1370.1 1497.0,1370.5 1498.3,1370.8C1499.6,1371.1 1500.9,1371.4 1502.1,1371.7C1503.4,1372.0 1504.7,1372.4 1506.0,1372.7C1507.3,1373.0 1508.6,1373.3 1509.9,1373.6C1511.2,1374.0 1512.5,1374.3 1513.8,1374.6C1515.1,1374.9 1516.4,1375.2 1517.7,1375.5C1519.0,1375.9 1520.3,1376.2 1521.6,1376.5C1522.9,1376.8 1524.2,1377.1 1525.5,1377.5C1526.8,1377.8 1528.1,1378.1 1529.4,1378.4C1530.7,1378.7 1532.0,1379.0 1533.3,1379.4C1534.6,1379.7 1535.9,1380.0 1537.2,1380.3C1538.5,1380.6 1539.8,1380.9 1541.1,1381.2C1542.4,1381.6 1543.6,1381.9 1544.9,1382.2C1546.2,1382.5 1547.5,1382.8 1548.8,1383.1C1550.1,1383.4 1551.4,1383.8 1552.7,1384.1C1554.0,1384.4 1555.3,1384.7 1556.6,1385.0C1557.9,1385.3 1559.2,1385.6 1560.5,1385.9C1561.8,1386.2 1563.1,1386.5 1564.4,1386.9C1565.7,1387.2 1567.0,1387.5 1568.3,1387.8C1569.6,1388.1 1570.9,1388.4 1572.2,1388.7C1573.5,1389.0 1574.8,1389.3 1576.1,1389.6C1577.4,1389.9 1578.7,1390.2 1580.0,1390.5C1581.3,1390.8 1582.6,1391.1 1583.9,1391.4C1585.2,1391.7 1586.5,1392.0 1587.8,1392.3C1589.1,1392.6 1590.4,1392.9 1591.7,1393.2C1593.0,1393.5 1594.3,1393.7 1595.6,1394.0C1597.0,1394.3 1598.3,1394.6 1599.6,1394.9C1600.9,1395.2 1602.2,1395.5 1603.5,1395.8C1604.8,1396.0 1606.1,1396.3 1607.4,1396.6C1608.7,1396.9 1610.0,1397.2 1611.3,1397.5C1612.6,1397.7 1613.9,1398.0 1615.2,1398.3C1616.5,1398.6 1617.8,1398.8 1619.1,1399.1C1620.4,1399.4 1621.8,1399.6 1623.1,1399.9C1624.4,1400.2 1625.7,1400.4 1627.0,1400.7C1628.3,1401.0 1629.6,1401.2 1630.9,1401.5C1632.2,1401.8 1633.5,1402.0 1634.8,1402.3C1636.2,1402.5 1637.5,1402.8 1638.8,1403.0C1640.1,1403.3 1641.4,1403.5 1642.7,1403.8C1644.0,1404.0 1645.3,1404.3 1646.6,1404.5C1648.0,1404.8 1649.3,1405.0 1650.6,1405.3C1651.9,1405.5 1653.2,1405.7 1654.5,1406.0C1655.8,1406.2 1657.2,1406.4 1658.5,1406.7C1659.8,1406.9 1661.1,1407.1 1662.4,1407.4C1663.7,1407.6 1665.0,1407.8 1666.4,1408.0C1667.7,1408.3 1669.0,1408.5 1670.3,1408.7C1671.6,1408.9 1672.9,1409.1 1674.3,1409.4C1675.6,1409.6 1676.9,1409.8 1678.2,1410.0C1679.5,1410.2 1680.8,1410.4 1682.2,1410.6C1683.5,1410.9 1684.8,1411.1 1686.1,1411.3C1687.4,1411.5 1688.8,1411.7 1690.1,1411.9C1691.4,1412.1 1692.7,1412.3 1694.0,1412.5C1695.4,1412.7 1696.7,1412.9 1698.0,1413.1C1699.3,1413.3 1700.6,1413.4 1702.0,1413.6C1703.3,1413.8 1704.6,1414.0 1705.9,1414.2C1707.3,1414.4 1708.6,1414.6 1709.9,1414.8C1711.2,1414.9 1712.5,1415.1 1713.9,1415.3C1715.2,1415.5 1716.5,1415.7 1717.8,1415.8C1719.2,1416.0 1720.5,1416.2 1721.8,1416.4C1723.1,1416.5 1724.5,1416.7 1725.8,1416.9C1727.1,1417.1 1728.4,1417.2 1729.8,1417.4C1731.1,1417.6 1732.4,1417.7 1733.7,1417.9C1735.1,1418.0 1736.4,1418.2 1737.7,1418.4C1739.0,1418.5 1740.4,1418.7 1741.7,1418.8C1743.0,1419.0 1744.3,1419.2 1745.7,1419.3C1747.0,1419.5 1748.3,1419.6 1749.6,1419.8C1751.0,1419.9 1752.3,1420.1 1753.6,1420.2C1754.9,1420.4 1756.3,1420.5 1757.6,1420.7C1758.9,1420.8 1760.3,1420.9 1761.6,1421.1C1762.9,1421.2 1764.2,1421.4 1765.6,1421.5C1766.9,1421.7 1768.2,1421.8 1769.5,1421.9C1770.9,1422.1 1772.2,1422.2 1773.5,1422.3C1774.9,1422.5 1776.2,1422.6 1777.5,1422.7C1778.8,1422.9 1780.2,1423.0 1781.5,1423.1C1782.8,1423.2 1784.2,1423.4 1785.5,1423.5C1786.8,1423.6 1788.1,1423.7 1789.5,1423.9C1790.8,1424.0 1792.1,1424.1 1793.5,1424.2C1794.8,1424.4 1796.1,1424.5 1797.5,1424.6C1798.8,1424.7 1800.1,1424.8 1801.4,1424.9C1802.8,1425.1 1804.1,1425.2 1805.4,1425.3C1806.8,1425.4 1808.1,1425.5 1809.4,1425.6C1810.8,1425.7 1812.1,1425.8 1813.4,1425.9C1814.8,1426.0 1816.1,1426.2 1817.4,1426.3C1818.7,1426.4 1820.1,1426.5 1821.4,1426.6C1822.7,1426.7 1824.1,1426.8 1825.4,1426.9C1826.7,1427.0 1828.1,1427.1 1829.4,1427.2C1830.7,1427.3 1832.1,1427.4 1833.4,1427.5C1834.7,1427.6 1836.1,1427.7 1837.4,1427.8C1838.7,1427.8 1840.0,1427.9 1841.4,1428.0C1842.7,1428.1 1844.0,1428.2 1845.4,1428.3C1846.7,1428.4 1848.0,1428.5 1849.4,1428.6C1850.7,1428.7 1852.0,1428.7 1853.4,1428.8C1854.7,1428.9 1856.0,1429.0 1857.4,1429.1C1858.7,1429.2 1860.0,1429.3 1861.4,1429.3C1862.7,1429.4 1864.0,1429.5 1865.4,1429.6C1866.7,1429.7 1868.0,1429.7 1869.4,1429.8C1870.7,1429.9 1872.0,1430.0 1873.4,1430.1C1874.7,1430.1 1876.0,1430.2 1877.4,1430.3C1878.7,1430.4 1880.0,1430.4 1881.4,1430.5C1882.7,1430.6 1884.0,1430.6 1885.4,1430.7C1886.7,1430.8 1888.0,1430.9 1889.4,1430.9C1890.7,1431.0 1892.0,1431.1 1893.4,1431.1C1894.7,1431.2 1896.0,1431.3 1897.4,1431.3C1898.7,1431.4 1900.0,1431.5 1901.4,1431.5C1902.7,1431.6 1904.0,1431.7 1905.4,1431.7C1906.7,1431.8 1908.0,1431.9 1909.4,1431.9C1910.7,1432.0 1912.0,1432.1 1913.4,1432.1C1914.7,1432.2 1916.0,1432.2 1917.4,1432.3C1918.7,1432.4 1920.0,1432.4 1921.4,1432.5C1922.7,1432.5 1924.0,1432.6 1925.4,1432.6C1926.7,1432.7 1928.0,1432.8 1929.4,1432.8C1930.7,1432.9 1932.0,1432.9 1933.4,1433.0C1934.7,1433.0 1936.0,1433.1 1937.4,1433.1C1938.7,1433.2 1940.0,1433.3 1941.4,1433.3C1942.7,1433.4 1944.0,1433.4 1945.4,1433.5C1946.7,1433.5 1948.0,1433.6 1949.4,1433.6C1950.7,1433.7 1952.0,1433.7 1953.4,1433.8C1954.7,1433.8 1956.0,1433.9 1957.4,1433.9C1958.7,1434.0 1960.0,1434.0 1961.4,1434.1C1962.7,1434.1 1964.0,1434.2 1965.4,1434.2C1966.7,1434.3 1968.0,1434.3 1969.4,1434.3C1970.7,1434.4 1972.1,1434.4 1973.4,1434.5C1974.7,1434.5 1976.1,1434.6 1977.4,1434.6C1978.7,1434.7 1980.1,1434.7 1981.4,1434.8C1982.7,1434.8 1984.1,1434.8 1985.4,1434.9C1986.7,1434.9 1988.1,1435.0 1989.4,1435.0C1990.7,1435.1 1992.1,1435.1 1993.4,1435.2C1994.7,1435.2 1996.1,1435.2 1997.4,1435.3C1998.7,1435.3 2000.1,1435.4 2001.4,1435.4C2002.7,1435.4 2004.1,1435.5 2005.4,1435.5C2006.7,1435.6 2008.1,1435.6 2009.4,1435.7C2010.7,1435.7 2012.1,1435.7 2013.4,1435.8C2014.8,1435.8 2016.1,1435.9 2017.4,1435.9C2018.8,1435.9 2020.1,1436.0 2021.4,1436.0C2022.8,1436.1 2024.1,1436.1 2025.4,1436.1C2026.8,1436.2 2028.1,1436.2 2029.4,1436.3C2030.8,1436.3 2032.1,1436.3 2033.4,1436.4" stroke="#7099cc"/>
<path d="M279.1,1438.0C280.4,1438.0 281.7,1438.0 283.1,1438.1C284.4,1438.1 285.8,1438.1 287.1,1438.2C288.4,1438.2 289.8,1438.2 291.1,1438.2C292.4,1438.3 293.8,1438.3 295.1,1438.3C296.4,1438.3 297.8,1438.3 299.1,1438.4C300.4,1438.4 301.8,1438.4 303.1,1438.4C304.4,1438.5 305.8,1438.5 307.1,1438.5C308.4,1438.5 309.8,1438.5 311.1,1438.5C312.4,1438.6 313.8,1438.6 315.1,1438.6C316.4,1438.6 317.8,1438.6 319.1,1438.6C320.4,1438.6 321.8,1438.6 323.1,1438.7C324.4,1438.7 325.8,1438.7 327.1,1438.7C328.4,1438.7 329.8,1438.7 331.1,1438.7C332.5,1438.7 333.8,1438.7 335.1,1438.7C336.5,1438.7 337.8,1438.7 339.1,1438.7C340.5,1438.7 341.8,1438.7 343.1,1438.7C344.5,1438.6 345.8,1438.6 347.1,1438.6C348.5,1438.6 349.8,1438.6 351.1,1438.6C352.5,1438.6 353.8,1438.5 355.1,1438.5C356.5,1438.5 357.8,1438.5 359.1,1438.4C360.5,1438.4 361.8,1438.4 363.1,1438.4C364.5,1438.3 365.8,1438.3 367.1,1438.3C368.5,1438.2 369.8,1438.2 371.1,1438.1C372.5,1438.1 373.8,1438.0 375.1,1438.0C376.5,1438.0 377.8,1437.9 379.1,1437.9C380.5,1437.8 381.8,1437.7 383.1,1437.7C384.5,1437.6 385.8,1437.6 387.1,1437.5C388.5,1437.4 389.8,1437.4 391.1,1437.3C392.5,1437.2 393.8,1437.1 395.1,1437.1C396.5,1437.0 397.8,1436.9 399.1,1436.8C400.5,1436.7 401.8,1436.6 403.1,1436.5C404.5,1436.5 405.8,1436.4 407.1,1436.3C408.5,1436.2 409.8,1436.1 411.1,1435.9C412.4,1435.8 413.8,1435.7 415.1,1435.6C416.4,1435.5 417.8,1435.4 419.1,1435.3C420.4,1435.1 421.7,1435.0 423.1,1434.9C424.4,1434.7 425.7,1434.6 427.1,1434.5C428.4,1434.3 429.7,1434.2 431.0,1434.0C432.4,1433.9 433.7,1433.7 435.0,1433.6C436.3,1433.4 437.7,1433.3 439.0,1433.1C440.3,1432.9 441.6,1432.7 443.0,1432.6C444.3,1432.4 445.6,1432.2 446.9,1432.0C448.2,1431.8 449.6,1431.6 450.9,1431.5C452.2,1431.3 453.5,1431.1 454.8,1430.9C456.2,1430.6 457.5,1430.4 458.8,1430.2C460.1,1430.0 461.4,1429.8 462.7,1429.6C464.1,1429.3 465.4,1429.1 466.7,1428.9C468.0,1428.6 469.3,1428.4 470.6,1428.1C471.9,1427.9 473.2,1427.6 474.5,1427.3C475.9,1427.1 477.2,1426.8 478.5,1426.5C479.8,1426.2 481.1,1425.9 482.4,1425.6C483.7,1425.3 485.0,1425.0 486.3,1424.7C487.5,1424.3 488.8,1424.0 490.1,1423.7C491.4,1423.3 492.7,1422.9 494.0,1422.6C495.3,1422.2 496.5,1421.8 497.8,1421.4C499.1,1421.0 500.4,1420.6 501.6,1420.2C502.9,1419.8 504.1,1419.3 505.4,1418.9C506.7,1418.4 507.9,1417.9 509.2,1417.5C510.4,1417.0 511.6,1416.5 512.9,1416.0C514.1,1415.5 515.3,1414.9 516.5,1414.4C517.8,1413.8 519.0,1413.3 520.2,1412.7C521.4,1412.1 522.6,1411.5 523.8,1410.9C524.9,1410.3 526.1,1409.7 527.3,1409.0C528.4,1408.4 529.6,1407.7 530.7,1407.0C531.9,1406.3 533.0,1405.6 534.2,1404.9C535.3,1404.2 536.4,1403.5 537.5,1402.7C538.6,1401.9 539.7,1401.2 540.8,1400.4C541.8,1399.6 542.9,1398.8 543.9,1398.0C545.0,1397.1 546.0,1396.3 547.1,1395.5C548.1,1394.6 549.1,1393.7 550.1,1392.8C551.1,1392.0 552.1,1391.1 553.1,1390.2C554.0,1389.2 555.0,1388.3 555.9,1387.4C556.9,1386.4 557.8,1385.5 558.7,1384.5C559.7,1383.5 560.6,1382.6 561.4,1381.6C562.3,1380.6 563.2,1379.6 564.1,1378.5C564.9,1377.5 565.8,1376.5 566.6,1375.4C567.4,1374.4 568.2,1373.3 569.0,1372.2C569.8,1371.2 570.6,1370.1 571.3,1369.0C572.1,1367.9 572.9,1366.8 573.6,1365.7C574.3,1364.6 575.1,1363.4 575.8,1362.3C576.5,1361.2 577.2,1360.0 577.9,1358.9C578.5,1357.8 579.2,1356.6 579.9,1355.4C580.5,1354.3 581.2,1353.1 581.8,1352.0C582.5,1350.8 583.1,1349.6 583.7,1348.4C584.4,1347.2 585.0,1346.1 585.6,1344.9C586.2,1343.7 586.8,1342.5 587.4,1341.3C588.0,1340.1 588.6,1338.9 589.1,1337.7C589.7,1336.5 590.3,1335.3 590.8,1334.1C591.4,1332.9 591.9,1331.6 592.5,1330.4C593.0,1329.2 593.6,1328.0 594.1,1326.8C594.6,1325.5 595.2,1324.3 595.7,1323.1C596.2,1321.9 596.7,1320.6 597.2,1319.4C597.7,1318.2 598.2,1316.9 598.7,1315.7C599.2,1314.4 599.7,1313.2 600.1,1311.9C600.6,1310.7 601.1,1309.4 601.5,1308.2C602.0,1306.9 602.5,1305.7 602.9,1304.4C603.4,1303.2 603.8,1301.9 604.3,1300.7C604.7,1299.4 605.1,1298.1 605.6,1296.9C606.0,1295.6 606.4,1294.3 606.8,1293.1C607.2,1291.8 607.6,1290.5 608.1,1289.3C608.5,1288.0 608.9,1286.7 609.3,1285.4C609.7,1284.2 610.0,1282.9 610.4,1281.6C610.8,1280.3 611.2,1279.1 611.6,1277.8C612.0,1276.5 612.3,1275.2 612.7,1273.9C613.1,1272.7 613.4,1271.4 613.8,1270.1C614.1,1268.8 614.5,1267.5 614.8,1266.2C615.2,1264.9 615.5,1263.6 615.9,1262.4C616.2,1261.1 616.6,1259.8 616.9,1258.5C617.2,1257.2 617.6,1255.9 617.9,1254.6C618.2,1253.3 618.6,1252.0 618.9,1250.7C619.2,1249.4 619.5,1248.1 619.9,1246.8C620.2,1245.5 620.5,1244.3 620.8,1243.0C621.1,1241.7 621.4,1240.4 621.7,1239.1C622.0,1237.8 622.3,1236.5 622.6,1235.2C622.9,1233.9 623.2,1232.6 623.5,1231.3C623.8,1230.0 624.1,1228.7 624.4,1227.4C624.7,1226.1 625.0,1224.8 625.3,1223.5C625.6,1222.2 625.9,1220.8 626.2,1219.5C626.5,1218.2 626.7,1216.9 627.0,1215.6C627.3,1214.3 627.6,1213.0 627.9,1211.7C628.2,1210.4 628.4,1209.1 628.7,1207.8C629.0,1206.5 629.3,1205.2 629.6,1203.9C629.8,1202.6 630.1,1201.3 630.4,1200.0C630.7,1198.7 631.0,1197.4 631.2,1196.1C631.5,1194.8 631.8,1193.5 632.1,1192.1C632.3,1190.8 632.6,1189.5 632.9,1188.2C633.2,1186.9 633.4,1185.6 633.7,1184.3C634.0,1183.0 634.3,1181.7 634.5,1180.4C634.8,1179.1 635.1,1177.8 635.4,1176.5C635.6,1175.2 635.9,1173.9 636.2,1172.6C636.5,1171.3 636.7,1169.9 637.0,1168.6C637.3,1167.3 637.5,1166.0 637.8,1164.7C638.1,1163.4 638.3,1162.1 638.6,1160.8C638.9,1159.5 639.2,1158.2 639.4,1156.9C639.7,1155.6 640.0,1154.3 640.2,1153.0C640.5,1151.6 640.8,1150.3 641.0,1149.0C641.3,1147.7 641.5,1146.4 641.8,1145.1C642.1,1143.8 642.3,1142.5 642.6,1141.2C642.9,1139.9 643.1,1138.6 643.4,1137.3C643.6,1135.9 643.9,1134.6 644.2,1133.3C644.4,1132.0 644.7,1130.7 644.9,1129.4C645.2,1128.1 645.4,1126.8 645.7,1125.5C645.9,1124.2 646.2,1122.9 646.5,1121.5C646.7,1120.2 647.0,1118.9 647.2,1117.6C647.5,1116.3 647.7,1115.0 648.0,1113.7C648.2,1112.4 648.5,1111.1 648.7,1109.7C649.0,1108.4 649.2,1107.1 649.4,1105.8C649.7,1104.5 649.9,1103.2 650.2,1101.9C650.4,1100.6 650.7,1099.3 650.9,1097.9C651.2,1096.6 651.4,1095.3 651.6,1094.0C651.9,1092.7 652.1,1091.4 652.3,1090.1C652.6,1088.8 652.8,1087.4 653.1,1086.1C653.3,1084.8 653.5,1083.5 653.8,1082.2C654.0,1080.9 654.2,1079.6 654.5,1078.2C654.7,1076.9 654.9,1075.6 655.2,1074.3C655.4,1073.0 655.6,1071.7 655.8,1070.4C656.1,1069.0 656.3,1067.7 656.5,1066.4C656.7,1065.1 657.0,1063.8 657.2,1062.5C657.4,1061.1 657.6,1059.8 657.9,1058.5C658.1,1057.2 658.3,1055.9 658.5,1054.6C658.8,1053.3 659.0,1051.9 659.2,1050.6C659.4,1049.3 659.6,1048.0 659.9,1046.7C660.1,1045.4 660.3,1044.0 660.5,1042.7C660.7,1041.4 660.9,1040.1 661.2,1038.8C661.4,1037.5 661.6,1036.1 661.8,1034.8C662.0,1033.5 662.2,1032.2 662.5,1030.9C662.7,1029.6 662.9,1028.2 663.1,1026.9C663.3,1025.6 663.5,1024.3 663.7,1023.0C663.9,1021.7 664.2,1020.3 664.4,1019.0C664.6,1017.7 664.8,1016.4 665.0,1015.1C665.2,1013.7 665.4,1012.4 665.6,1011.1C665.8,1009.8 666.0,1008.5 666.2,1007.2C666.5,1005.8 666.7,1004.5 666.9,1003.2C667.1,1001.9 667.3,1000.6 667.5,999.2C667.7,997.9 667.9,996.6 668.1,995.3C668.3,994.0 668.5,992.7 668.7,991.3C668.9,990.0 669.1,988.7 669.3,987.4C669.5,986.1 669.7,984.7 669.9,983.4C670.1,982.1 670.3,980.8 670.6,979.5C670.8,978.1 671.0,976.8 671.2,975.5C671.4,974.2 671.6,972.9 671.8,971.6C672.0,970.2 672.2,968.9 672.4,967.6C672.6,966.3 672.8,965.0 673.0,963.6C673.2,962.3 673.4,961.0 673.6,959.7C673.8,958.4 674.0,957.0 674.2,955.7C674.4,954.4 674.6,953.1 674.8,951.8C675.0,950.4 675.2,949.1 675.4,947.8C675.6,946.5 675.8,945.2 676.0,943.8C676.2,942.5 676.4,941.2 676.6,939.9C676.8,938.6 677.0,937.3 677.2,935.9C677.4,934.6 677.6,933.3 677.8,932.0C678.0,930.7 678.2,929.3 678.4,928.0C678.6,926.7 678.8,925.4 679.0,924.1C679.2,922.7 679.4,921.4 679.6,920.1C679.8,918.8 680.0,917.5 680.2,916.1C680.4,914.8 680.6,913.5 680.8,912.2C681.0,910.9 681.2,909.5 681.4,908.2C681.6,906.9 681.8,905.6 682.0,904.3C682.2,903.0 682.4,901.6 682.6,900.3C682.8,899.0 683.0,897.7 683.2,896.4C683.4,895.0 683.6,893.7 683.8,892.4C684.0,891.1 684.2,889.8 684.4,888.4C684.6,887.1 684.8,885.8 685.0,884.5C685.2,883.2 685.4,881.8 685.7,880.5C685.9,879.2 686.1,877.9 686.3,876.6C686.5,875.3 686.7,873.9 686.9,872.6C687.1,871.3 687.3,870.0 687.5,868.7C687.7,867.3 687.9,866.0 688.1,864.7C688.3,863.4 688.6,862.1 688.8,860.8C689.0,859.4 689.2,858.1 689.4,856.8C689.6,855.5 689.8,854.2 690.0,852.9C690.2,851.5 690.5,850.2 690.7,848.9C690.9,847.6 691.1,846.3 691.3,844.9C691.5,843.6 691.7,842.3 691.9,841.0C692.2,839.7 692.4,838.4 692.6,837.0C692.8,835.7 693.0,834.4 693.2,833.1C693.5,831.8 693.7,830.5 693.9,829.1C694.1,827.8 694.3,826.5 694.6,825.2C694.8,823.9 695.0,822.6 695.2,821.2C695.4,819.9 695.7,818.6 695.9,817.3C696.1,816.0 696.3,814.7 696.5,813.4C696.8,812.0 697.0,810.7 697.2,809.4C697.4,808.1 697.7,806.8 697.9,805.5C698.1,804.1 698.3,802.8 698.6,801.5C698.8,800.2 699.0,798.9 699.2,797.6C699.5,796.3 699.7,794.9 699.9,793.6C700.2,792.3 700.4,791.0 700.6,789.7C700.8,788.4 701.1,787.1 701.3,785.7C701.5,784.4 701.8,783.1 702.0,781.8C702.2,780.5 702.5,779.2 702.7,777.9C702.9,776.5 703.2,775.2 703.4,773.9C703.6,772.6 703.9,771.3 704.1,770.0C704.3,768.7 704.6,767.3 704.8,766.0C705.0,764.7 705.3,763.4 705.5,762.1C705.7,760.8 706.0,759.5 706.2,758.1C706.4,756.8 706.7,755.5 706.9,754.2C707.2,752.9 707.4,751.6 707.6,750.3C707.9,749.0 708.1,747.6 708.3,746.3C708.6,745.0 708.8,743.7 709.1,742.4C709.3,741.1 709.5,739.8 709.8,738.5C710.0,737.1 710.3,735.8 710.5,734.5C710.8,733.2 711.0,731.9 711.2,730.6C711.5,729.3 711.7,728.0 712.0,726.6C712.2,725.3 712.5,724.0 712.7,722.7C713.0,721.4 713.2,720.1 713.4,718.8C713.7,717.5 713.9,716.2 714.2,714.8C714.4,713.5 714.7,712.2 714.9,710.9C715.2,709.6 715.4,708.3 715.7,707.0C715.9,705.7 716.2,704.4 716.4,703.0C716.7,701.7 716.9,700.4 717.2,699.1C717.4,697.8 717.7,696.5 717.9,695.2C718.2,693.9 718.4,692.6 718.7,691.2C718.9,689.9 719.2,688.6 719.4,687.3C719.7,686.0 720.0,684.7 720.2,683.4C720.5,682.1 720.7,680.8 721.0,679.5C721.3,678.2 721.5,676.8 721.8,675.5C722.1,674.2 722.3,672.9 722.6,671.6C722.9,670.3 723.2,669.0 723.5,667.7C723.8,666.4 724.0,665.1 724.3,663.8C724.6,662.5 724.9,661.2 725.2,659.9C725.5,658.6 725.8,657.3 726.2,656.0C726.5,654.7 726.8,653.4 727.1,652.1C727.4,650.8 727.8,649.5 728.1,648.2C728.4,646.9 728.8,645.7 729.1,644.4C729.5,643.1 729.8,641.8 730.2,640.5C730.5,639.2 730.9,637.9 731.3,636.7C731.7,635.4 732.1,634.1 732.4,632.8C732.8,631.6 733.2,630.3 733.6,629.0C734.1,627.7 734.5,626.5 734.9,625.2C735.3,623.9 735.8,622.7 736.2,621.4C736.6,620.2 737.1,618.9 737.6,617.7C738.0,616.4 738.5,615.2 739.0,613.9C739.6,612.7 740.1,611.5 740.7,610.3C741.3,609.1 742.0,607.9 742.6,606.8C743.3,605.6 744.1,604.5 744.8,603.4C745.6,602.4 746.4,601.3 747.3,600.3C748.2,599.3 749.1,598.3 750.2,597.5C751.2,596.7 752.3,595.8 753.5,595.3C754.7,594.9 756.2,594.7 757.4,594.9C758.7,595.1 759.9,595.8 761.0,596.6C762.2,597.3 763.1,598.2 764.0,599.2C765.0,600.1 765.8,601.2 766.6,602.3C767.4,603.3 768.1,604.5 768.8,605.6C769.4,606.8 770.0,608.0 770.6,609.2C771.2,610.4 771.7,611.6 772.1,612.9C772.6,614.1 773.0,615.4 773.4,616.7C773.8,617.9 774.2,619.2 774.6,620.5C775.0,621.8 775.4,623.0 775.8,624.3C776.2,625.6 776.6,626.9 777.0,628.1C777.4,629.4 777.8,630.7 778.2,632.0C778.6,633.3 778.9,634.5 779.3,635.8C779.7,637.1 780.1,638.4 780.5,639.6C780.9,640.9 781.3,642.2 781.6,643.5C782.0,644.7 782.4,646.0 782.8,647.3C783.1,648.6 783.5,649.9 783.9,651.2C784.2,652.4 784.6,653.7 785.0,655.0C785.3,656.3 785.7,657.6 786.0,658.9C786.4,660.2 786.7,661.4 787.1,662.7C787.4,664.0 787.8,665.3 788.1,666.6C788.4,667.9 788.8,669.2 789.1,670.5C789.4,671.8 789.8,673.1 790.1,674.4C790.4,675.6 790.7,676.9 791.1,678.2C791.4,679.5 791.7,680.8 792.0,682.1C792.3,683.4 792.6,684.7 793.0,686.0C793.3,687.3 793.6,688.6 793.9,689.9C794.2,691.2 794.5,692.5 794.8,693.8C795.1,695.1 795.4,696.4 795.7,697.7C796.0,699.0 796.3,700.3 796.5,701.6C796.8,702.9 797.1,704.2 797.4,705.5C797.7,706.8 798.0,708.1 798.2,709.4C798.5,710.8 798.8,712.1 799.1,713.4C799.4,714.7 799.6,716.0 799.9,717.3C800.2,718.6 800.4,719.9 800.7,721.2C801.0,722.5 801.3,723.8 801.5,725.1C801.8,726.4 802.0,727.7 802.3,729.0C802.6,730.4 802.8,731.7 803.1,733.0C803.4,734.3 803.6,735.6 803.9,736.9C804.1,738.2 804.4,739.5 804.6,740.8C804.9,742.1 805.2,743.4 805.4,744.8C805.7,746.1 805.9,747.4 806.2,748.7C806.4,750.0 806.7,751.3 806.9,752.6C807.2,753.9 807.4,755.2 807.7,756.6C807.9,757.9 808.2,759.2 808.4,760.5C808.7,761.8 808.9,763.1 809.1,764.4C809.4,765.7 809.6,767.0 809.9,768.4C810.1,769.7 810.4,771.0 810.6,772.3C810.9,773.6 811.1,774.9 811.4,776.2C811.6,777.5 811.8,778.9 812.1,780.2C812.3,781.5 812.6,782.8 812.8,784.1C813.1,785.4 813.3,786.7 813.6,788.0C813.8,789.3 814.1,790.7 814.3,792.0C814.6,793.3 814.8,794.6 815.0,795.9C815.3,797.2 815.5,798.5 815.8,799.8C816.0,801.1 816.3,802.5 816.5,803.8C816.8,805.1 817.0,806.4 817.3,807.7C817.6,809.0 817.8,810.3 818.1,811.6C818.3,812.9 818.6,814.2 818.8,815.6C819.1,816.9 819.3,818.2 819.6,819.5C819.8,820.8 820.1,822.1 820.4,823.4C820.6,824.7 820.9,826.0 821.1,827.3C821.4,828.6 821.7,830.0 821.9,831.3C822.2,832.6 822.4,833.9 822.7,835.2C823.0,836.5 823.2,837.8 823.5,839.1C823.8,840.4 824.0,841.7 824.3,843.0C824.6,844.3 824.8,845.7 825.1,847.0C825.4,848.3 825.6,849.6 825.9,850.9C826.2,852.2 826.5,853.5 826.7,854.8C827.0,856.1 827.3,857.4 827.6,858.7C827.8,860.0 828.1,861.3 828.4,862.6C828.7,863.9 828.9,865.2 829.2,866.5C829.5,867.9 829.8,869.2 830.1,870.5C830.3,871.8 830.6,873.1 830.9,874.4C831.2,875.7 831.5,877.0 831.8,878.3C832.0,879.6 832.3,880.9 832.6,882.2C832.9,883.5 833.2,884.8 833.5,886.1C833.8,887.4 834.1,888.7 834.4,890.0C834.7,891.3 835.0,892.6 835.3,893.9C835.5,895.2 835.8,896.5 836.1,897.8C836.4,899.1 836.7,900.4 837.0,901.7C837.3,903.0 837.6,904.3 837.9,905.6C838.3,906.9 838.6,908.2 838.9,909.5C839.2,910.8 839.5,912.1 839.8,913.4C840.1,914.7 840.4,916.0 840.7,917.3C841.0,918.6 841.3,919.9 841.7,921.2C842.0,922.5 842.3,923.8 842.6,925.1C842.9,926.4 843.2,927.7 843.6,929.0C843.9,930.3 844.2,931.6 844.5,932.9C844.9,934.2 845.2,935.4 845.5,936.7C845.8,938.0 846.2,939.3 846.5,940.6C846.8,941.9 847.2,943.2 847.5,944.5C847.8,945.8 848.2,947.1 848.5,948.4C848.8,949.7 849.2,951.0 849.5,952.2C849.8,953.5 850.2,954.8 850.5,956.1C850.9,957.4 851.2,958.7 851.5,960.0C851.9,961.3 852.2,962.6 852.6,963.9C852.9,965.1 853.3,966.4 853.6,967.7C854.0,969.0 854.3,970.3 854.7,971.6C855.0,972.9 855.4,974.2 855.7,975.4C856.1,976.7 856.5,978.0 856.8,979.3C857.2,980.6 857.5,981.9 857.9,983.2C858.3,984.4 858.6,985.7 859.0,987.0C859.3,988.3 859.7,989.6 860.1,990.9C860.4,992.1 860.8,993.4 861.2,994.7C861.6,996.0 861.9,997.3 862.3,998.5C862.7,999.8 863.0,1001.1 863.4,1002.4C863.8,1003.7 864.2,1004.9 864.6,1006.2C864.9,1007.5 865.3,1008.8 865.7,1010.1C866.1,1011.3 866.5,1012.6 866.9,1013.9C867.3,1015.1 867.8,1016.4 868.2,1017.7C868.6,1018.9 869.1,1020.2 869.5,1021.5C870.0,1022.7 870.4,1024.0 870.9,1025.2C871.4,1026.4 871.9,1027.7 872.4,1028.9C872.9,1030.1 873.5,1031.4 874.0,1032.6C874.6,1033.8 875.2,1035.0 875.8,1036.2C876.4,1037.4 877.0,1038.6 877.6,1039.7C878.3,1040.9 878.9,1042.1 879.6,1043.2C880.3,1044.3 881.1,1045.5 881.8,1046.6C882.6,1047.6 883.3,1048.7 884.2,1049.8C885.0,1050.8 885.8,1051.9 886.7,1052.9C887.6,1053.9 888.5,1054.9 889.4,1055.8C890.4,1056.8 891.3,1057.7 892.3,1058.6C893.3,1059.5 894.4,1060.3 895.4,1061.1C896.5,1062.0 897.5,1062.8 898.6,1063.5C899.7,1064.3 900.8,1065.0 902.0,1065.7C903.1,1066.4 904.3,1067.0 905.5,1067.6C906.7,1068.2 907.9,1068.8 909.1,1069.4C910.3,1069.9 911.6,1070.4 912.8,1070.8C914.1,1071.3 915.3,1071.7 916.6,1072.1C917.9,1072.4 919.2,1072.8 920.5,1073.0C921.8,1073.3 923.1,1073.6 924.4,1073.7C925.8,1073.9 927.1,1074.1 928.4,1074.2C929.8,1074.3 931.1,1074.3 932.4,1074.4C933.8,1074.4 935.1,1074.3 936.4,1074.3C937.8,1074.2 939.1,1074.1 940.4,1074.0C941.7,1073.9 943.1,1073.7 944.4,1073.6C945.7,1073.4 947.0,1073.3 948.4,1073.1C949.7,1072.9 951.0,1072.7 952.3,1072.5C953.7,1072.3 955.0,1072.1 956.3,1071.9C957.6,1071.8 958.9,1071.6 960.3,1071.4C961.6,1071.2 962.9,1071.1 964.2,1070.9C965.6,1070.8 966.9,1070.7 968.2,1070.6C969.6,1070.5 970.9,1070.4 972.2,1070.4C973.6,1070.3 974.9,1070.3 976.2,1070.4C977.6,1070.4 978.9,1070.5 980.2,1070.6C981.6,1070.7 982.9,1070.8 984.2,1071.0C985.5,1071.2 986.8,1071.4 988.2,1071.6C989.5,1071.9 990.8,1072.1 992.1,1072.4C993.4,1072.7 994.7,1073.1 995.9,1073.4C997.2,1073.8 998.5,1074.2 999.8,1074.6C1001.0,1075.1 1002.3,1075.5 1003.5,1076.0C1004.8,1076.5 1006.0,1077.0 1007.2,1077.6C1008.4,1078.1 1009.6,1078.7 1010.8,1079.3C1012.0,1079.9 1013.2,1080.5 1014.4,1081.2C1015.5,1081.8 1016.7,1082.5 1017.8,1083.2C1019.0,1083.9 1020.1,1084.6 1021.2,1085.4C1022.3,1086.1 1023.4,1086.9 1024.5,1087.7C1025.5,1088.4 1026.6,1089.3 1027.6,1090.1C1028.7,1090.9 1029.7,1091.8 1030.7,1092.6C1031.7,1093.5 1032.7,1094.4 1033.7,1095.3C1034.7,1096.2 1035.7,1097.1 1036.7,1098.0C1037.6,1099.0 1038.6,1099.9 1039.5,1100.8C1040.4,1101.8 1041.4,1102.8 1042.3,1103.7C1043.2,1104.7 1044.1,1105.7 1045.0,1106.7C1045.9,1107.7 1046.8,1108.7 1047.7,1109.7C1048.5,1110.7 1049.4,1111.7 1050.3,1112.7C1051.2,1113.7 1052.0,1114.7 1052.9,1115.7C1053.7,1116.7 1054.6,1117.8 1055.5,1118.8C1056.3,1119.8 1057.2,1120.8 1058.0,1121.9C1058.9,1122.9 1059.7,1123.9 1060.6,1124.9C1061.4,1126.0 1062.3,1127.0 1063.1,1128.0C1064.0,1129.0 1064.9,1130.1 1065.7,1131.1C1066.6,1132.1 1067.5,1133.1 1068.3,1134.1C1069.2,1135.1 1070.1,1136.2 1070.9,1137.2C1071.8,1138.2 1072.7,1139.2 1073.5,1140.2C1074.4,1141.2 1075.3,1142.2 1076.2,1143.2C1077.0,1144.2 1077.9,1145.2 1078.8,1146.2C1079.7,1147.2 1080.6,1148.2 1081.5,1149.2C1082.3,1150.2 1083.2,1151.2 1084.1,1152.2C1085.0,1153.2 1085.9,1154.2 1086.8,1155.2C1087.7,1156.2 1088.6,1157.2 1089.5,1158.2C1090.4,1159.1 1091.3,1160.1 1092.2,1161.1C1093.1,1162.1 1094.0,1163.1 1094.9,1164.1C1095.8,1165.0 1096.7,1166.0 1097.6,1167.0C1098.5,1168.0 1099.4,1169.0 1100.3,1169.9C1101.2,1170.9 1102.2,1171.9 1103.1,1172.8C1104.0,1173.8 1104.9,1174.8 1105.8,1175.8C1106.7,1176.7 1107.7,1177.7 1108.6,1178.7C1109.5,1179.6 1110.4,1180.6 1111.4,1181.5C1112.3,1182.5 1113.2,1183.5 1114.1,1184.4C1115.1,1185.4 1116.0,1186.3 1116.9,1187.3C1117.9,1188.2 1118.8,1189.2 1119.7,1190.1C1120.7,1191.1 1121.6,1192.0 1122.6,1193.0C1123.5,1193.9 1124.4,1194.9 1125.4,1195.8C1126.3,1196.8 1127.3,1197.7 1128.2,1198.7C1129.2,1199.6 1130.1,1200.5 1131.1,1201.5C1132.0,1202.4 1133.0,1203.4 1133.9,1204.3C1134.9,1205.2 1135.8,1206.2 1136.8,1207.1C1137.7,1208.0 1138.7,1209.0 1139.6,1209.9C1140.6,1210.8 1141.5,1211.7 1142.5,1212.7C1143.5,1213.6 1144.4,1214.5 1145.4,1215.4C1146.4,1216.4 1147.3,1217.3 1148.3,1218.2C1149.2,1219.1 1150.2,1220.1 1151.2,1221.0C1152.1,1221.9 1153.1,1222.8 1154.1,1223.7C1155.1,1224.6 1156.0,1225.6 1157.0,1226.5C1158.0,1227.4 1159.0,1228.3 1159.9,1229.2C1160.9,1230.1 1161.9,1231.0 1162.9,1231.9C1163.8,1232.8 1164.8,1233.7 1165.8,1234.7C1166.8,1235.6 1167.8,1236.5 1168.7,1237.4C1169.7,1238.3 1170.7,1239.2 1171.7,1240.1C1172.7,1241.0 1173.7,1241.9 1174.6,1242.8C1175.6,1243.7 1176.6,1244.6 1177.6,1245.5C1178.6,1246.4 1179.6,1247.3 1180.6,1248.2C1181.6,1249.0 1182.6,1249.9 1183.5,1250.8C1184.5,1251.7 1185.5,1252.6 1186.5,1253.5C1187.5,1254.4 1188.5,1255.3 1189.5,1256.2C1190.5,1257.1 1191.5,1257.9 1192.5,1258.8C1193.5,1259.7 1194.5,1260.6 1195.5,1261.5C1196.5,1262.3 1197.5,1263.2 1198.5,1264.1C1199.6,1265.0 1200.6,1265.8 1201.6,1266.7C1202.6,1267.6 1203.6,1268.4 1204.6,1269.3C1205.6,1270.2 1206.7,1271.0 1207.7,1271.9C1208.7,1272.7 1209.7,1273.6 1210.8,1274.4C1211.8,1275.3 1212.8,1276.1 1213.9,1277.0C1214.9,1277.8 1215.9,1278.6 1217.0,1279.5C1218.0,1280.3 1219.1,1281.1 1220.1,1282.0C1221.2,1282.8 1222.2,1283.6 1223.3,1284.4C1224.3,1285.2 1225.4,1286.0 1226.5,1286.9C1227.5,1287.7 1228.6,1288.5 1229.7,1289.3C1230.7,1290.0 1231.8,1290.8 1232.9,1291.6C1234.0,1292.4 1235.1,1293.2 1236.1,1294.0C1237.2,1294.7 1238.3,1295.5 1239.4,1296.2C1240.5,1297.0 1241.6,1297.8 1242.7,1298.5C1243.8,1299.2 1245.0,1300.0 1246.1,1300.7C1247.2,1301.4 1248.3,1302.2 1249.4,1302.9C1250.6,1303.6 1251.7,1304.3 1252.8,1305.0C1254.0,1305.7 1255.1,1306.4 1256.3,1307.1C1257.4,1307.8 1258.6,1308.4 1259.7,1309.1C1260.9,1309.8 1262.0,1310.4 1263.2,1311.1C1264.4,1311.7 1265.5,1312.4 1266.7,1313.0C1267.9,1313.6 1269.1,1314.2 1270.3,1314.8C1271.5,1315.4 1272.6,1316.0 1273.8,1316.6C1275.0,1317.2 1276.2,1317.8 1277.5,1318.3C1278.7,1318.9 1279.9,1319.5 1281.1,1320.0C1282.3,1320.5 1283.5,1321.1 1284.8,1321.6C1286.0,1322.1 1287.2,1322.6 1288.5,1323.1C1289.7,1323.6 1291.0,1324.1 1292.2,1324.6C1293.5,1325.0 1294.7,1325.5 1296.0,1326.0C1297.2,1326.4 1298.5,1326.9 1299.7,1327.3C1301.0,1327.8 1302.2,1328.2 1303.5,1328.6C1304.8,1329.0 1306.0,1329.5 1307.3,1329.9C1308.6,1330.3 1309.9,1330.7 1311.1,1331.1C1312.4,1331.5 1313.7,1331.9 1315.0,1332.2C1316.2,1332.6 1317.5,1333.0 1318.8,1333.4C1320.1,1333.7 1321.4,1334.1 1322.6,1334.5C1323.9,1334.8 1325.2,1335.2 1326.5,1335.6C1327.8,1335.9 1329.1,1336.3 1330.4,1336.6C1331.7,1337.0 1332.9,1337.3 1334.2,1337.7C1335.5,1338.0 1336.8,1338.4 1338.1,1338.7C1339.4,1339.0 1340.7,1339.4 1342.0,1339.7C1343.3,1340.0 1344.6,1340.4 1345.8,1340.7C1347.1,1341.1 1348.4,1341.4 1349.7,1341.7C1351.0,1342.1 1352.3,1342.4 1353.6,1342.7C1354.9,1343.1 1356.2,1343.4 1357.5,1343.8C1358.8,1344.1 1360.0,1344.4 1361.3,1344.8C1362.6,1345.1 1363.9,1345.4 1365.2,1345.8C1366.5,1346.1 1367.8,1346.4 1369.1,1346.8C1370.4,1347.1 1371.7,1347.4 1373.0,1347.8C1374.3,1348.1 1375.6,1348.4 1376.8,1348.8C1378.1,1349.1 1379.4,1349.4 1380.7,1349.8C1382.0,1350.1 1383.3,1350.4 1384.6,1350.7C1385.9,1351.1 1387.2,1351.4 1388.5,1351.7C1389.8,1352.1 1391.1,1352.4 1392.4,1352.7C1393.7,1353.0 1394.9,1353.4 1396.2,1353.7C1397.5,1354.0 1398.8,1354.4 1400.1,1354.7C1401.4,1355.0 1402.7,1355.3 1404.0,1355.7C1405.3,1356.0 1406.6,1356.3 1407.9,1356.6C1409.2,1357.0 1410.5,1357.3 1411.8,1357.6C1413.1,1357.9 1414.4,1358.3 1415.7,1358.6C1416.9,1358.9 1418.2,1359.2 1419.5,1359.5C1420.8,1359.9 1422.1,1360.2 1423.4,1360.5C1424.7,1360.8 1426.0,1361.1 1427.3,1361.5C1428.6,1361.8 1429.9,1362.1 1431.2,1362.4C1432.5,1362.7 1433.8,1363.1 1435.1,1363.4C1436.4,1363.7 1437.7,1364.0 1439.0,1364.3C1440.3,1364.6 1441.6,1364.9 1442.9,1365.3C1444.2,1365.6 1445.5,1365.9 1446.8,1366.2C1448.1,1366.5 1449.4,1366.8 1450.7,1367.1C1451.9,1367.4 1453.2,1367.8 1454.5,1368.1C1455.8,1368.4 1457.1,1368.7 1458.4,1369.0C1459.7,1369.3 1461.0,1369.6 1462.3,1369.9C1463.6,1370.2 1464.9,1370.5 1466.2,1370.8C1467.5,1371.1 1468.8,1371.5 1470.1,1371.8C1471.4,1372.1 1472.7,1372.4 1474.0,1372.7C1475.3,1373.0 1476.6,1373.3 1477.9,1373.6C1479.2,1373.9 1480.5,1374.2 1481.8,1374.5C1483.1,1374.8 1484.4,1375.1 1485.7,1375.4C1487.0,1375.7 1488.3,1376.0 1489.6,1376.3C1490.9,1376.6 1492.2,1376.9 1493.5,1377.2C1494.8,1377.5 1496.1,1377.8 1497.4,1378.0C1498.7,1378.3 1500.0,1378.6 1501.3,1378.9C1502.6,1379.2 1503.9,1379.5 1505.2,1379.8C1506.5,1380.1 1507.9,1380.4 1509.2,1380.7C1510.5,1381.0 1511.8,1381.3 1513.1,1381.5C1514.4,1381.8 1515.7,1382.1 1517.0,1382.4C1518.3,1382.7 1519.6,1383.0 1520.9,1383.3C1522.2,1383.5 1523.5,1383.8 1524.8,1384.1C1526.1,1384.4 1527.4,1384.7 1528.7,1384.9C1530.0,1385.2 1531.3,1385.5 1532.6,1385.8C1533.9,1386.1 1535.2,1386.3 1536.5,1386.6C1537.8,1386.9 1539.1,1387.2 1540.5,1387.4C1541.8,1387.7 1543.1,1388.0 1544.4,1388.3C1545.7,1388.5 1547.0,1388.8 1548.3,1389.1C1549.6,1389.4 1550.9,1389.6 1552.2,1389.9C1553.5,1390.2 1554.8,1390.4 1556.1,1390.7C1557.4,1391.0 1558.7,1391.2 1560.1,1391.5C1561.4,1391.8 1562.7,1392.0 1564.0,1392.3C1565.3,1392.5 1566.6,1392.8 1567.9,1393.1C1569.2,1393.3 1570.5,1393.6 1571.8,1393.9C1573.1,1394.1 1574.5,1394.4 1575.8,1394.6C1577.1,1394.9 1578.4,1395.1 1579.7,1395.4C1581.0,1395.6 1582.3,1395.9 1583.6,1396.2C1584.9,1396.4 1586.2,1396.7 1587.6,1396.9C1588.9,1397.2 1590.2,1397.4 1591.5,1397.7C1592.8,1397.9 1594.1,1398.1 1595.4,1398.4C1596.7,1398.6 1598.0,1398.9 1599.4,1399.1C1600.7,1399.4 1602.0,1399.6 1603.3,1399.9C1604.6,1400.1 1605.9,1400.3 1607.2,1400.6C1608.5,1400.8 1609.9,1401.0 1611.2,1401.3C1612.5,1401.5 1613.8,1401.8 1615.1,1402.0C1616.4,1402.2 1617.7,1402.5 1619.1,1402.7C1620.4,1402.9 1621.7,1403.2 1623.0,1403.4C1624.3,1403.6 1625.6,1403.8 1626.9,1404.1C1628.3,1404.3 1629.6,1404.5 1630.9,1404.7C1632.2,1405.0 1633.5,1405.2 1634.8,1405.4C1636.1,1405.6 1637.5,1405.9 1638.8,1406.1C1640.1,1406.3 1641.4,1406.5 1642.7,1406.7C1644.0,1406.9 1645.4,1407.2 1646.7,1407.4C1648.0,1407.6 1649.3,1407.8 1650.6,1408.0C1651.9,1408.2 1653.3,1408.4 1654.6,1408.6C1655.9,1408.8 1657.2,1409.1 1658.5,1409.3C1659.9,1409.5 1661.2,1409.7 1662.5,1409.9C1663.8,1410.1 1665.1,1410.3 1666.5,1410.5C1667.8,1410.7 1669.1,1410.9 1670.4,1411.1C1671.7,1411.3 1673.1,1411.5 1674.4,1411.7C1675.7,1411.9 1677.0,1412.1 1678.3,1412.2C1679.7,1412.4 1681.0,1412.6 1682.3,1412.8C1683.6,1413.0 1684.9,1413.2 1686.3,1413.4C1687.6,1413.6 1688.9,1413.8 1690.2,1413.9C1691.5,1414.1 1692.9,1414.3 1694.2,1414.5C1695.5,1414.7 1696.8,1414.8 1698.2,1415.0C1699.5,1415.2 1700.8,1415.4 1702.1,1415.6C1703.4,1415.7 1704.8,1415.9 1706.1,1416.1C1707.4,1416.3 1708.7,1416.4 1710.1,1416.6C1711.4,1416.8 1712.7,1416.9 1714.0,1417.1C1715.4,1417.3 1716.7,1417.4 1718.0,1417.6C1719.3,1417.8 1720.7,1417.9 1722.0,1418.1C1723.3,1418.2 1724.6,1418.4 1726.0,1418.6C1727.3,1418.7 1728.6,1418.9 1729.9,1419.0C1731.3,1419.2 1732.6,1419.4 1733.9,1419.5C1735.2,1419.7 1736.6,1419.8 1737.9,1420.0C1739.2,1420.1 1740.5,1420.3 1741.9,1420.4C1743.2,1420.6 1744.5,1420.7 1745.8,1420.9C1747.2,1421.0 1748.5,1421.2 1749.8,1421.3C1751.1,1421.4 1752.5,1421.6 1753.8,1421.7C1755.1,1421.9 1756.4,1422.0 1757.8,1422.2C1759.1,1422.3 1760.4,1422.4 1761.8,1422.6C1763.1,1422.7 1764.4,1422.8 1765.7,1423.0C1767.1,1423.1 1768.4,1423.2 1769.7,1423.4C1771.1,1423.5 1772.4,1423.6 1773.7,1423.8C1775.0,1423.9 1776.4,1424.0 1777.7,1424.2C1779.0,1424.3 1780.3,1424.4 1781.7,1424.5C1783.0,1424.7 1784.3,1424.8 1785.7,1424.9C1787.0,1425.0 1788.3,1425.1 1789.6,1425.3C1791.0,1425.4 1792.3,1425.5 1793.6,1425.6C1795.0,1425.7 1796.3,1425.9 1797.6,1426.0C1799.0,1426.1 1800.3,1426.2 1801.6,1426.3C1802.9,1426.4 1804.3,1426.6 1805.6,1426.7C1806.9,1426.8 1808.3,1426.9 1809.6,1427.0C1810.9,1427.1 1812.3,1427.2 1813.6,1427.3C1814.9,1427.4 1816.2,1427.5 1817.6,1427.6C1818.9,1427.7 1820.2,1427.8 1821.6,1428.0C1822.9,1428.1 1824.2,1428.2 1825.6,1428.3C1826.9,1428.4 1828.2,1428.5 1829.5,1428.6C1830.9,1428.7 1832.2,1428.8 1833.5,1428.9C1834.9,1429.0 1836.2,1429.0 1837.5,1429.1C1838.9,1429.2 1840.2,1429.3 1841.5,1429.4C1842.9,1429.5 1844.2,1429.6 1845.5,1429.7C1846.8,1429.8 1848.2,1429.9 1849.5,1430.0C1850.8,1430.1 1852.2,1430.2 1853.5,1430.2C1854.8,1430.3 1856.2,1430.4 1857.5,1430.5C1858.8,1430.6 1860.2,1430.7 1861.5,1430.8C1862.8,1430.8 1864.2,1430.9 1865.5,1431.0C1866.8,1431.1 1868.2,1431.2 1869.5,1431.2C1870.8,1431.3 1872.2,1431.4 1873.5,1431.5C1874.8,1431.6 1876.1,1431.6 1877.5,1431.7C1878.8,1431.8 1880.1,1431.9 1881.5,1431.9C1882.8,1432.0 1884.1,1432.1 1885.5,1432.2C1886.8,1432.2 1888.1,1432.3 1889.5,1432.4C1890.8,1432.4 1892.1,1432.5 1893.5,1432.6C1894.8,1432.7 1896.1,1432.7 1897.5,1432.8C1898.8,1432.9 1900.1,1432.9 1901.5,1433.0C1902.8,1433.1 1904.1,1433.1 1905.5,1433.2C1906.8,1433.3 1908.1,1433.3 1909.5,1433.4C1910.8,1433.4 1912.1,1433.5 1913.5,1433.6C1914.8,1433.6 1916.1,1433.7 1917.5,1433.7C1918.8,1433.8 1920.1,1433.9 1921.5,1433.9C1922.8,1434.0 1924.1,1434.0 1925.5,1434.1C1926.8,1434.2 1928.1,1434.2 1929.5,1434.3C1930.8,1434.3 1932.1,1434.4 1933.5,1434.4C1934.8,1434.5 1936.1,1434.5 1937.5,1434.6C1938.8,1434.6 1940.1,1434.7 1941.5,1434.7C1942.8,1434.8 1944.1,1434.8 1945.5,1434.9C1946.8,1434.9 1948.1,1435.0 1949.5,1435.0C1950.8,1435.1 1952.1,1435.1 1953.5,1435.2C1954.8,1435.2 1956.1,1435.3 1957.5,1435.3C1958.8,1435.4 1960.1,1435.4 1961.5,1435.5C1962.8,1435.5 1964.1,1435.5 1965.5,1435.6C1966.8,1435.6 1968.1,1435.7 1969.5,1435.7C1970.8,1435.8 1972.1,1435.8 1973.5,1435.8C1974.8,1435.9 1976.1,1435.9 1977.5,1436.0C1978.8,1436.0 1980.1,1436.0 1981.5,1436.1C1982.8,1436.1 1984.1,1436.1 1985.5,1436.2C1986.8,1436.2 1988.1,1436.3 1989.5,1436.3C1990.8,1436.3 1992.1,1436.4 1993.5,1436.4C1994.8,1436.4 1996.1,1436.5 1997.5,1436.5C1998.8,1436.5 2000.1,1436.6 2001.5,1436.6C2002.8,1436.6 2004.1,1436.7 2005.5,1436.7C2006.8,1436.7 2008.1,1436.7 2009.5,1436.8C2010.8,1436.8 2012.2,1436.8 2013.5,1436.9C2014.8,1436.9 2016.2,1436.9 2017.5,1437.0C2018.8,1437.0 2020.2,1437.0 2021.5,1437.0C2022.8,1437.1 2024.2,1437.1 2025.5,1437.1C2026.8,1437.1 2028.2,1437.2 2029.5,1437.2C2030.8,1437.2 2032.2,1437.2 2033.5,1437.3" stroke="#e1828a"/>
<path d="M278.8,1437.7C280.1,1437.7 281.4,1437.7 282.8,1437.8C284.1,1437.8 285.4,1437.8 286.8,1437.8C288.1,1437.9 289.4,1437.9 290.8,1437.9C292.1,1437.9 293.4,1438.0 294.8,1438.0C296.1,1438.0 297.4,1438.0 298.8,1438.1C300.1,1438.1 301.4,1438.1 302.8,1438.2C304.1,1438.2 305.4,1438.2 306.8,1438.2C308.1,1438.3 309.4,1438.3 310.8,1438.3C312.1,1438.4 313.4,1438.4 314.8,1438.4C316.1,1438.4 317.4,1438.5 318.8,1438.5C320.1,1438.5 321.4,1438.6 322.8,1438.6C324.1,1438.6 325.4,1438.6 326.8,1438.7C328.1,1438.7 329.4,1438.7 330.8,1438.8C332.1,1438.8 333.4,1438.8 334.8,1438.8C336.1,1438.9 337.4,1438.9 338.8,1438.9C340.1,1438.9 341.4,1438.9 342.8,1439.0C344.1,1439.0 345.4,1439.0 346.8,1439.0C348.1,1439.0 349.4,1439.1 350.8,1439.1C352.1,1439.1 353.4,1439.1 354.8,1439.1C356.1,1439.1 357.4,1439.1 358.8,1439.1C360.1,1439.2 361.4,1439.2 362.8,1439.2C364.1,1439.2 365.4,1439.2 366.8,1439.2C368.1,1439.2 369.4,1439.2 370.8,1439.2C372.1,1439.2 373.4,1439.2 374.8,1439.1C376.1,1439.1 377.4,1439.1 378.8,1439.1C380.1,1439.1 381.4,1439.1 382.8,1439.1C384.1,1439.0 385.4,1439.0 386.8,1439.0C388.1,1439.0 389.4,1438.9 390.8,1438.9C392.1,1438.9 393.4,1438.8 394.8,1438.8C396.1,1438.8 397.4,1438.7 398.8,1438.7C400.1,1438.6 401.4,1438.6 402.8,1438.5C404.1,1438.5 405.4,1438.4 406.8,1438.4C408.1,1438.3 409.4,1438.2 410.8,1438.2C412.1,1438.1 413.4,1438.0 414.7,1438.0C416.1,1437.9 417.4,1437.8 418.7,1437.7C420.1,1437.6 421.4,1437.6 422.7,1437.5C424.1,1437.4 425.4,1437.3 426.7,1437.2C428.1,1437.1 429.4,1437.0 430.7,1436.9C432.0,1436.8 433.4,1436.6 434.7,1436.5C436.0,1436.4 437.4,1436.3 438.7,1436.2C440.0,1436.0 441.3,1435.9 442.7,1435.8C444.0,1435.6 445.3,1435.5 446.6,1435.3C448.0,1435.2 449.3,1435.0 450.6,1434.9C451.9,1434.7 453.3,1434.6 454.6,1434.4C455.9,1434.2 457.2,1434.1 458.6,1433.9C459.9,1433.7 461.2,1433.5 462.5,1433.3C463.8,1433.1 465.2,1432.9 466.5,1432.7C467.8,1432.5 469.1,1432.3 470.4,1432.1C471.7,1431.9 473.1,1431.7 474.4,1431.5C475.7,1431.3 477.0,1431.0 478.3,1430.8C479.6,1430.6 480.9,1430.3 482.3,1430.1C483.6,1429.9 484.9,1429.6 486.2,1429.3C487.5,1429.1 488.8,1428.8 490.1,1428.6C491.4,1428.3 492.7,1428.0 494.0,1427.7C495.3,1427.4 496.6,1427.1 497.9,1426.8C499.2,1426.5 500.5,1426.2 501.8,1425.9C503.1,1425.5 504.4,1425.2 505.7,1424.9C507.0,1424.5 508.3,1424.1 509.5,1423.8C510.8,1423.4 512.1,1423.0 513.4,1422.6C514.6,1422.2 515.9,1421.8 517.2,1421.4C518.4,1420.9 519.7,1420.5 520.9,1420.0C522.2,1419.6 523.4,1419.1 524.7,1418.6C525.9,1418.1 527.2,1417.6 528.4,1417.1C529.6,1416.6 530.8,1416.0 532.0,1415.5C533.2,1414.9 534.4,1414.3 535.6,1413.7C536.8,1413.1 538.0,1412.5 539.2,1411.8C540.3,1411.2 541.5,1410.5 542.6,1409.8C543.8,1409.1 544.9,1408.4 546.0,1407.7C547.1,1406.9 548.2,1406.2 549.3,1405.4C550.4,1404.6 551.4,1403.8 552.5,1403.0C553.5,1402.1 554.5,1401.3 555.5,1400.4C556.5,1399.5 557.5,1398.6 558.5,1397.7C559.5,1396.8 560.4,1395.9 561.4,1394.9C562.3,1394.0 563.2,1393.0 564.1,1392.0C565.0,1391.1 565.9,1390.1 566.8,1389.1C567.7,1388.0 568.5,1387.0 569.4,1386.0C570.2,1384.9 571.0,1383.9 571.8,1382.8C572.6,1381.8 573.4,1380.7 574.2,1379.6C575.0,1378.5 575.8,1377.5 576.5,1376.4C577.3,1375.3 578.0,1374.1 578.8,1373.0C579.5,1371.9 580.2,1370.8 580.9,1369.7C581.6,1368.5 582.3,1367.4 583.0,1366.2C583.7,1365.1 584.3,1363.9 585.0,1362.8C585.7,1361.6 586.3,1360.5 587.0,1359.3C587.6,1358.1 588.3,1357.0 588.9,1355.8C589.5,1354.6 590.1,1353.4 590.8,1352.3C591.4,1351.1 592.0,1349.9 592.6,1348.7C593.2,1347.5 593.8,1346.3 594.4,1345.1C595.0,1343.9 595.5,1342.7 596.1,1341.5C596.7,1340.3 597.3,1339.1 597.8,1337.9C598.4,1336.7 599.0,1335.5 599.5,1334.3C600.1,1333.1 600.6,1331.8 601.2,1330.6C601.7,1329.4 602.3,1328.2 602.8,1327.0C603.3,1325.8 603.9,1324.5 604.4,1323.3C604.9,1322.1 605.4,1320.9 606.0,1319.6C606.5,1318.4 607.0,1317.2 607.5,1315.9C608.0,1314.7 608.5,1313.5 609.0,1312.2C609.5,1311.0 610.0,1309.7 610.5,1308.5C611.0,1307.3 611.4,1306.0 611.9,1304.8C612.4,1303.5 612.9,1302.3 613.3,1301.0C613.8,1299.8 614.3,1298.5 614.7,1297.3C615.2,1296.0 615.6,1294.8 616.1,1293.5C616.5,1292.3 617.0,1291.0 617.4,1289.7C617.9,1288.5 618.3,1287.2 618.7,1286.0C619.2,1284.7 619.6,1283.4 620.0,1282.2C620.4,1280.9 620.9,1279.6 621.3,1278.4C621.7,1277.1 622.1,1275.8 622.5,1274.6C622.9,1273.3 623.3,1272.0 623.7,1270.8C624.1,1269.5 624.5,1268.2 624.9,1266.9C625.3,1265.7 625.7,1264.4 626.1,1263.1C626.4,1261.8 626.8,1260.5 627.2,1259.3C627.6,1258.0 627.9,1256.7 628.3,1255.4C628.7,1254.1 629.0,1252.9 629.4,1251.6C629.8,1250.3 630.1,1249.0 630.5,1247.7C630.8,1246.4 631.2,1245.1 631.5,1243.9C631.9,1242.6 632.2,1241.3 632.6,1240.0C632.9,1238.7 633.3,1237.4 633.6,1236.1C633.9,1234.8 634.3,1233.5 634.6,1232.3C634.9,1231.0 635.2,1229.7 635.6,1228.4C635.9,1227.1 636.2,1225.8 636.5,1224.5C636.9,1223.2 637.2,1221.9 637.5,1220.6C637.8,1219.3 638.1,1218.0 638.4,1216.7C638.7,1215.4 639.0,1214.1 639.3,1212.8C639.6,1211.5 639.9,1210.2 640.2,1208.9C640.5,1207.6 640.8,1206.3 641.1,1205.0C641.4,1203.7 641.7,1202.4 642.0,1201.1C642.3,1199.8 642.6,1198.5 642.9,1197.2C643.2,1195.9 643.5,1194.6 643.7,1193.3C644.0,1192.0 644.3,1190.7 644.6,1189.4C644.9,1188.1 645.1,1186.8 645.4,1185.5C645.7,1184.2 646.0,1182.9 646.2,1181.6C646.5,1180.3 646.8,1179.0 647.1,1177.6C647.3,1176.3 647.6,1175.0 647.9,1173.7C648.1,1172.4 648.4,1171.1 648.7,1169.8C648.9,1168.5 649.2,1167.2 649.4,1165.9C649.7,1164.6 650.0,1163.3 650.2,1162.0C650.5,1160.7 650.7,1159.3 651.0,1158.0C651.3,1156.7 651.5,1155.4 651.8,1154.1C652.0,1152.8 652.3,1151.5 652.5,1150.2C652.8,1148.9 653.1,1147.6 653.3,1146.3C653.6,1145.0 653.8,1143.6 654.1,1142.3C654.3,1141.0 654.6,1139.7 654.8,1138.4C655.1,1137.1 655.3,1135.8 655.6,1134.5C655.8,1133.2 656.1,1131.9 656.3,1130.5C656.6,1129.2 656.8,1127.9 657.1,1126.6C657.3,1125.3 657.6,1124.0 657.8,1122.7C658.1,1121.4 658.3,1120.1 658.6,1118.8C658.8,1117.4 659.1,1116.1 659.3,1114.8C659.6,1113.5 659.9,1112.2 660.1,1110.9C660.4,1109.6 660.6,1108.3 660.9,1107.0C661.1,1105.7 661.4,1104.4 661.6,1103.0C661.9,1101.7 662.1,1100.4 662.4,1099.1C662.6,1097.8 662.9,1096.5 663.2,1095.2C663.4,1093.9 663.7,1092.6 663.9,1091.3C664.2,1090.0 664.4,1088.6 664.7,1087.3C665.0,1086.0 665.2,1084.7 665.5,1083.4C665.7,1082.1 666.0,1080.8 666.3,1079.5C666.5,1078.2 666.8,1076.9 667.1,1075.6C667.3,1074.3 667.6,1073.0 667.8,1071.6C668.1,1070.3 668.4,1069.0 668.6,1067.7C668.9,1066.4 669.2,1065.1 669.4,1063.8C669.7,1062.5 670.0,1061.2 670.2,1059.9C670.5,1058.6 670.8,1057.3 671.0,1056.0C671.3,1054.7 671.6,1053.3 671.8,1052.0C672.1,1050.7 672.4,1049.4 672.6,1048.1C672.9,1046.8 673.2,1045.5 673.5,1044.2C673.7,1042.9 674.0,1041.6 674.3,1040.3C674.5,1039.0 674.8,1037.7 675.1,1036.4C675.4,1035.1 675.6,1033.8 675.9,1032.5C676.2,1031.1 676.4,1029.8 676.7,1028.5C677.0,1027.2 677.3,1025.9 677.5,1024.6C677.8,1023.3 678.1,1022.0 678.3,1020.7C678.6,1019.4 678.9,1018.1 679.2,1016.8C679.4,1015.5 679.7,1014.2 680.0,1012.9C680.3,1011.6 680.5,1010.3 680.8,1009.0C681.1,1007.7 681.4,1006.3 681.6,1005.0C681.9,1003.7 682.2,1002.4 682.5,1001.1C682.7,999.8 683.0,998.5 683.3,997.2C683.6,995.9 683.8,994.6 684.1,993.3C684.4,992.0 684.7,990.7 684.9,989.4C685.2,988.1 685.5,986.8 685.8,985.5C686.0,984.2 686.3,982.9 686.6,981.6C686.9,980.2 687.1,978.9 687.4,977.6C687.7,976.3 688.0,975.0 688.2,973.7C688.5,972.4 688.8,971.1 689.1,969.8C689.4,968.5 689.6,967.2 689.9,965.9C690.2,964.6 690.5,963.3 690.7,962.0C691.0,960.7 691.3,959.4 691.6,958.1C691.8,956.8 692.1,955.5 692.4,954.1C692.6,952.8 692.9,951.5 693.2,950.2C693.5,948.9 693.7,947.6 694.0,946.3C694.3,945.0 694.6,943.7 694.8,942.4C695.1,941.1 695.4,939.8 695.7,938.5C695.9,937.2 696.2,935.9 696.5,934.6C696.7,933.3 697.0,932.0 697.3,930.7C697.6,929.3 697.8,928.0 698.1,926.7C698.4,925.4 698.6,924.1 698.9,922.8C699.2,921.5 699.4,920.2 699.7,918.9C700.0,917.6 700.3,916.3 700.5,915.0C700.8,913.7 701.1,912.4 701.3,911.1C701.6,909.8 701.9,908.4 702.1,907.1C702.4,905.8 702.7,904.5 702.9,903.2C703.2,901.9 703.5,900.6 703.7,899.3C704.0,898.0 704.3,896.7 704.5,895.4C704.8,894.1 705.0,892.8 705.3,891.5C705.6,890.1 705.8,888.8 706.1,887.5C706.4,886.2 706.6,884.9 706.9,883.6C707.2,882.3 707.4,881.0 707.7,879.7C708.0,878.4 708.2,877.1 708.5,875.8C708.8,874.5 709.0,873.2 709.3,871.8C709.6,870.5 709.8,869.2 710.1,867.9C710.4,866.6 710.7,865.3 710.9,864.0C711.2,862.7 711.5,861.4 711.8,860.1C712.0,858.8 712.3,857.5 712.6,856.2C712.9,854.9 713.2,853.6 713.4,852.3C713.7,851.0 714.0,849.7 714.3,848.4C714.6,847.1 714.9,845.8 715.2,844.5C715.5,843.2 715.8,841.9 716.1,840.6C716.4,839.3 716.7,838.0 717.0,836.7C717.3,835.4 717.6,834.1 717.9,832.8C718.2,831.5 718.5,830.2 718.8,828.9C719.2,827.6 719.5,826.3 719.8,825.0C720.1,823.7 720.5,822.4 720.8,821.1C721.1,819.8 721.5,818.5 721.8,817.3C722.2,816.0 722.5,814.7 722.9,813.4C723.2,812.1 723.6,810.8 723.9,809.5C724.3,808.3 724.6,807.0 725.0,805.7C725.4,804.4 725.7,803.1 726.1,801.8C726.5,800.6 726.9,799.3 727.3,798.0C727.7,796.7 728.1,795.5 728.5,794.2C728.8,792.9 729.3,791.6 729.7,790.4C730.1,789.1 730.5,787.8 730.9,786.6C731.3,785.3 731.8,784.0 732.2,782.8C732.6,781.5 733.1,780.3 733.5,779.0C734.0,777.8 734.4,776.5 734.9,775.2C735.3,774.0 735.8,772.7 736.3,771.5C736.7,770.3 737.2,769.0 737.8,767.8C738.3,766.6 738.8,765.3 739.4,764.1C739.9,762.9 740.5,761.7 741.1,760.5C741.8,759.4 742.4,758.2 743.1,757.0C743.8,755.9 744.5,754.8 745.2,753.7C746.0,752.6 746.7,751.4 747.6,750.4C748.4,749.4 749.3,748.3 750.3,747.5C751.3,746.6 752.4,745.7 753.6,745.4C754.8,745.1 756.4,745.2 757.5,745.7C758.7,746.2 759.7,747.2 760.7,748.2C761.6,749.1 762.4,750.2 763.2,751.3C763.9,752.4 764.6,753.5 765.3,754.6C766.0,755.8 766.6,757.0 767.2,758.2C767.8,759.4 768.4,760.6 768.9,761.8C769.4,763.0 769.9,764.3 770.4,765.5C770.9,766.7 771.3,768.0 771.8,769.3C772.2,770.5 772.6,771.8 773.0,773.1C773.4,774.3 773.8,775.6 774.3,776.9C774.7,778.1 775.1,779.4 775.5,780.7C775.9,781.9 776.4,783.2 776.8,784.5C777.2,785.7 777.6,787.0 778.1,788.2C778.5,789.5 778.9,790.8 779.4,792.0C779.8,793.3 780.2,794.6 780.6,795.8C781.1,797.1 781.5,798.3 781.9,799.6C782.4,800.9 782.8,802.1 783.3,803.4C783.7,804.6 784.1,805.9 784.6,807.2C785.0,808.4 785.4,809.7 785.9,811.0C786.3,812.2 786.7,813.5 787.2,814.7C787.6,816.0 788.0,817.3 788.5,818.5C788.9,819.8 789.3,821.0 789.8,822.3C790.2,823.6 790.6,824.8 791.1,826.1C791.5,827.4 791.9,828.6 792.3,829.9C792.8,831.1 793.2,832.4 793.6,833.7C794.0,834.9 794.4,836.2 794.8,837.5C795.3,838.7 795.7,840.0 796.1,841.3C796.5,842.6 796.9,843.8 797.3,845.1C797.7,846.4 798.1,847.6 798.5,848.9C798.9,850.2 799.3,851.5 799.7,852.7C800.1,854.0 800.4,855.3 800.8,856.6C801.2,857.8 801.6,859.1 802.0,860.4C802.3,861.7 802.7,863.0 803.1,864.2C803.4,865.5 803.8,866.8 804.2,868.1C804.5,869.4 804.9,870.7 805.3,871.9C805.6,873.2 806.0,874.5 806.3,875.8C806.7,877.1 807.0,878.4 807.4,879.7C807.7,881.0 808.1,882.2 808.4,883.5C808.7,884.8 809.1,886.1 809.4,887.4C809.7,888.7 810.1,890.0 810.4,891.3C810.7,892.6 811.1,893.9 811.4,895.2C811.7,896.4 812.1,897.7 812.4,899.0C812.7,900.3 813.0,901.6 813.4,902.9C813.7,904.2 814.0,905.5 814.3,906.8C814.6,908.1 815.0,909.4 815.3,910.7C815.6,912.0 815.9,913.3 816.2,914.6C816.5,915.9 816.8,917.2 817.2,918.5C817.5,919.8 817.8,921.1 818.1,922.3C818.4,923.6 818.7,924.9 819.0,926.2C819.3,927.5 819.6,928.8 819.9,930.1C820.2,931.4 820.6,932.7 820.9,934.0C821.2,935.3 821.5,936.6 821.8,937.9C822.1,939.2 822.4,940.5 822.7,941.8C823.0,943.1 823.3,944.4 823.6,945.7C823.9,947.0 824.2,948.3 824.5,949.6C824.8,950.9 825.2,952.2 825.5,953.5C825.8,954.8 826.1,956.1 826.4,957.4C826.7,958.7 827.0,960.0 827.3,961.3C827.6,962.6 827.9,963.9 828.2,965.2C828.6,966.5 828.9,967.8 829.2,969.1C829.5,970.4 829.8,971.7 830.1,972.9C830.4,974.2 830.8,975.5 831.1,976.8C831.4,978.1 831.7,979.4 832.0,980.7C832.4,982.0 832.7,983.3 833.0,984.6C833.3,985.9 833.7,987.2 834.0,988.5C834.3,989.8 834.6,991.1 835.0,992.4C835.3,993.6 835.6,994.9 836.0,996.2C836.3,997.5 836.7,998.8 837.0,1000.1C837.3,1001.4 837.7,1002.7 838.0,1004.0C838.4,1005.3 838.7,1006.5 839.1,1007.8C839.4,1009.1 839.8,1010.4 840.1,1011.7C840.5,1013.0 840.8,1014.3 841.2,1015.5C841.6,1016.8 841.9,1018.1 842.3,1019.4C842.6,1020.7 843.0,1022.0 843.4,1023.2C843.7,1024.5 844.1,1025.8 844.5,1027.1C844.8,1028.4 845.2,1029.6 845.6,1030.9C846.0,1032.2 846.4,1033.5 846.7,1034.8C847.1,1036.0 847.5,1037.3 847.9,1038.6C848.3,1039.9 848.6,1041.2 849.0,1042.4C849.4,1043.7 849.8,1045.0 850.2,1046.3C850.6,1047.5 851.0,1048.8 851.4,1050.1C851.8,1051.4 852.2,1052.6 852.6,1053.9C852.9,1055.2 853.3,1056.5 853.7,1057.7C854.1,1059.0 854.5,1060.3 855.0,1061.5C855.4,1062.8 855.8,1064.1 856.2,1065.4C856.6,1066.6 857.0,1067.9 857.4,1069.2C857.8,1070.4 858.2,1071.7 858.6,1073.0C859.0,1074.2 859.4,1075.5 859.9,1076.8C860.3,1078.0 860.7,1079.3 861.1,1080.6C861.5,1081.8 862.0,1083.1 862.4,1084.4C862.9,1085.6 863.3,1086.9 863.8,1088.1C864.2,1089.4 864.7,1090.6 865.2,1091.9C865.7,1093.1 866.2,1094.3 866.7,1095.6C867.2,1096.8 867.7,1098.0 868.3,1099.2C868.9,1100.4 869.4,1101.6 870.0,1102.8C870.6,1104.0 871.3,1105.2 871.9,1106.4C872.6,1107.5 873.2,1108.7 873.9,1109.8C874.6,1111.0 875.4,1112.1 876.1,1113.2C876.9,1114.3 877.7,1115.3 878.5,1116.4C879.3,1117.4 880.2,1118.5 881.0,1119.5C881.9,1120.5 882.8,1121.5 883.8,1122.4C884.7,1123.4 885.7,1124.3 886.7,1125.2C887.6,1126.1 888.7,1126.9 889.7,1127.8C890.7,1128.6 891.8,1129.4 892.9,1130.2C894.0,1130.9 895.1,1131.7 896.3,1132.4C897.4,1133.0 898.6,1133.7 899.7,1134.3C900.9,1134.9 902.1,1135.5 903.4,1136.0C904.6,1136.5 905.9,1136.9 907.1,1137.4C908.4,1137.8 909.7,1138.1 911.0,1138.4C912.3,1138.7 913.6,1138.9 914.9,1139.1C916.2,1139.3 917.6,1139.5 918.9,1139.6C920.2,1139.7 921.6,1139.8 922.9,1139.8C924.2,1139.9 925.6,1139.8 926.9,1139.8C928.2,1139.8 929.6,1139.7 930.9,1139.6C932.2,1139.6 933.6,1139.5 934.9,1139.3C936.2,1139.2 937.5,1139.1 938.9,1138.9C940.2,1138.8 941.5,1138.6 942.8,1138.4C944.1,1138.2 945.5,1138.0 946.8,1137.8C948.1,1137.7 949.4,1137.5 950.7,1137.3C952.1,1137.1 953.4,1136.9 954.7,1136.7C956.0,1136.5 957.3,1136.3 958.7,1136.1C960.0,1135.9 961.3,1135.7 962.6,1135.6C964.0,1135.4 965.3,1135.3 966.6,1135.2C967.9,1135.0 969.3,1134.9 970.6,1134.8C971.9,1134.7 973.3,1134.7 974.6,1134.6C975.9,1134.6 977.3,1134.6 978.6,1134.6C979.9,1134.7 981.3,1134.7 982.6,1134.8C983.9,1134.9 985.2,1135.1 986.6,1135.3C987.9,1135.5 989.2,1135.7 990.5,1136.0C991.8,1136.3 993.1,1136.6 994.4,1137.0C995.6,1137.4 996.9,1137.9 998.1,1138.4C999.4,1138.9 1000.6,1139.4 1001.8,1140.0C1003.0,1140.5 1004.2,1141.1 1005.4,1141.7C1006.6,1142.4 1007.7,1143.0 1008.9,1143.7C1010.0,1144.4 1011.2,1145.1 1012.3,1145.8C1013.4,1146.5 1014.5,1147.2 1015.6,1148.0C1016.8,1148.7 1017.9,1149.4 1019.0,1150.2C1020.1,1150.9 1021.2,1151.7 1022.2,1152.5C1023.3,1153.2 1024.4,1154.0 1025.5,1154.8C1026.6,1155.5 1027.7,1156.3 1028.8,1157.1C1029.9,1157.8 1031.0,1158.6 1032.1,1159.3C1033.2,1160.1 1034.3,1160.8 1035.4,1161.6C1036.5,1162.3 1037.7,1163.0 1038.8,1163.7C1039.9,1164.4 1041.1,1165.1 1042.2,1165.7C1043.4,1166.4 1044.6,1167.0 1045.8,1167.6C1046.9,1168.3 1048.2,1168.8 1049.4,1169.4C1050.6,1170.0 1051.8,1170.5 1053.0,1171.1C1054.2,1171.7 1055.4,1172.3 1056.6,1172.9C1057.7,1173.5 1058.9,1174.1 1060.0,1174.8C1061.2,1175.5 1062.3,1176.3 1063.3,1177.1C1064.4,1177.9 1065.4,1178.8 1066.4,1179.6C1067.4,1180.5 1068.4,1181.4 1069.3,1182.4C1070.3,1183.3 1071.2,1184.3 1072.1,1185.3C1073.0,1186.3 1073.9,1187.3 1074.7,1188.3C1075.6,1189.3 1076.4,1190.3 1077.3,1191.4C1078.1,1192.4 1079.0,1193.4 1079.8,1194.5C1080.7,1195.5 1081.5,1196.5 1082.3,1197.6C1083.2,1198.6 1084.0,1199.6 1084.9,1200.7C1085.8,1201.7 1086.6,1202.7 1087.5,1203.7C1088.4,1204.7 1089.3,1205.7 1090.2,1206.7C1091.1,1207.7 1092.0,1208.7 1092.9,1209.6C1093.8,1210.6 1094.7,1211.6 1095.6,1212.6C1096.5,1213.5 1097.4,1214.5 1098.4,1215.5C1099.3,1216.4 1100.2,1217.4 1101.2,1218.3C1102.1,1219.3 1103.1,1220.2 1104.0,1221.1C1105.0,1222.1 1105.9,1223.0 1106.9,1223.9C1107.8,1224.8 1108.8,1225.7 1109.8,1226.7C1110.8,1227.6 1111.7,1228.5 1112.7,1229.4C1113.7,1230.3 1114.7,1231.2 1115.7,1232.1C1116.7,1232.9 1117.7,1233.8 1118.7,1234.7C1119.7,1235.6 1120.7,1236.5 1121.7,1237.3C1122.7,1238.2 1123.7,1239.1 1124.8,1239.9C1125.8,1240.8 1126.8,1241.7 1127.8,1242.5C1128.8,1243.4 1129.9,1244.2 1130.9,1245.1C1131.9,1245.9 1133.0,1246.7 1134.0,1247.6C1135.0,1248.4 1136.1,1249.2 1137.1,1250.1C1138.2,1250.9 1139.2,1251.7 1140.3,1252.6C1141.3,1253.4 1142.4,1254.2 1143.4,1255.0C1144.5,1255.8 1145.5,1256.6 1146.6,1257.5C1147.6,1258.3 1148.7,1259.1 1149.8,1259.9C1150.8,1260.7 1151.9,1261.5 1153.0,1262.3C1154.0,1263.1 1155.1,1263.9 1156.2,1264.7C1157.2,1265.5 1158.3,1266.3 1159.4,1267.1C1160.4,1267.9 1161.5,1268.7 1162.6,1269.5C1163.7,1270.3 1164.7,1271.0 1165.8,1271.8C1166.9,1272.6 1168.0,1273.4 1169.0,1274.2C1170.1,1275.0 1171.2,1275.8 1172.3,1276.6C1173.4,1277.3 1174.4,1278.1 1175.5,1278.9C1176.6,1279.7 1177.7,1280.5 1178.8,1281.2C1179.8,1282.0 1180.9,1282.8 1182.0,1283.6C1183.1,1284.4 1184.2,1285.1 1185.3,1285.9C1186.3,1286.7 1187.4,1287.5 1188.5,1288.2C1189.6,1289.0 1190.7,1289.8 1191.8,1290.5C1192.9,1291.3 1194.0,1292.1 1195.1,1292.8C1196.2,1293.6 1197.3,1294.3 1198.4,1295.1C1199.5,1295.9 1200.6,1296.6 1201.7,1297.4C1202.8,1298.1 1203.9,1298.9 1205.0,1299.6C1206.1,1300.4 1207.2,1301.1 1208.3,1301.8C1209.4,1302.6 1210.5,1303.3 1211.6,1304.0C1212.8,1304.8 1213.9,1305.5 1215.0,1306.2C1216.1,1307.0 1217.2,1307.7 1218.4,1308.4C1219.5,1309.1 1220.6,1309.8 1221.7,1310.5C1222.9,1311.2 1224.0,1311.9 1225.1,1312.7C1226.3,1313.4 1227.4,1314.0 1228.5,1314.7C1229.7,1315.4 1230.8,1316.1 1232.0,1316.8C1233.1,1317.5 1234.3,1318.2 1235.4,1318.8C1236.6,1319.5 1237.7,1320.2 1238.9,1320.8C1240.0,1321.5 1241.2,1322.2 1242.4,1322.8C1243.5,1323.5 1244.7,1324.1 1245.9,1324.7C1247.0,1325.4 1248.2,1326.0 1249.4,1326.6C1250.6,1327.3 1251.7,1327.9 1252.9,1328.5C1254.1,1329.1 1255.3,1329.7 1256.5,1330.3C1257.7,1330.9 1258.9,1331.5 1260.1,1332.1C1261.3,1332.7 1262.5,1333.3 1263.7,1333.9C1264.9,1334.5 1266.1,1335.0 1267.3,1335.6C1268.5,1336.2 1269.7,1336.7 1270.9,1337.3C1272.1,1337.8 1273.3,1338.4 1274.6,1338.9C1275.8,1339.4 1277.0,1340.0 1278.2,1340.5C1279.5,1341.0 1280.7,1341.5 1281.9,1342.0C1283.2,1342.5 1284.4,1343.0 1285.6,1343.5C1286.9,1344.0 1288.1,1344.5 1289.4,1345.0C1290.6,1345.5 1291.8,1345.9 1293.1,1346.4C1294.4,1346.9 1295.6,1347.3 1296.9,1347.8C1298.1,1348.2 1299.4,1348.6 1300.6,1349.1C1301.9,1349.5 1303.2,1349.9 1304.4,1350.3C1305.7,1350.7 1307.0,1351.1 1308.3,1351.5C1309.5,1351.9 1310.8,1352.3 1312.1,1352.7C1313.4,1353.0 1314.7,1353.4 1315.9,1353.8C1317.2,1354.1 1318.5,1354.5 1319.8,1354.8C1321.1,1355.2 1322.4,1355.5 1323.7,1355.8C1325.0,1356.2 1326.3,1356.5 1327.5,1356.8C1328.8,1357.1 1330.1,1357.5 1331.4,1357.8C1332.7,1358.1 1334.0,1358.4 1335.3,1358.7C1336.6,1359.0 1337.9,1359.3 1339.2,1359.6C1340.5,1359.9 1341.8,1360.1 1343.1,1360.4C1344.4,1360.7 1345.8,1361.0 1347.1,1361.3C1348.4,1361.5 1349.7,1361.8 1351.0,1362.1C1352.3,1362.3 1353.6,1362.6 1354.9,1362.9C1356.2,1363.1 1357.5,1363.4 1358.8,1363.6C1360.1,1363.9 1361.4,1364.2 1362.7,1364.4C1364.1,1364.7 1365.4,1364.9 1366.7,1365.2C1368.0,1365.4 1369.3,1365.7 1370.6,1365.9C1371.9,1366.2 1373.2,1366.4 1374.5,1366.7C1375.8,1366.9 1377.2,1367.2 1378.5,1367.4C1379.8,1367.7 1381.1,1367.9 1382.4,1368.2C1383.7,1368.4 1385.0,1368.7 1386.3,1368.9C1387.6,1369.2 1388.9,1369.4 1390.3,1369.7C1391.6,1369.9 1392.9,1370.2 1394.2,1370.4C1395.5,1370.7 1396.8,1370.9 1398.1,1371.2C1399.4,1371.4 1400.7,1371.7 1402.0,1371.9C1403.4,1372.2 1404.7,1372.4 1406.0,1372.7C1407.3,1372.9 1408.6,1373.2 1409.9,1373.4C1411.2,1373.7 1412.5,1373.9 1413.8,1374.2C1415.1,1374.4 1416.4,1374.7 1417.8,1374.9C1419.1,1375.2 1420.4,1375.5 1421.7,1375.7C1423.0,1376.0 1424.3,1376.2 1425.6,1376.5C1426.9,1376.7 1428.2,1377.0 1429.5,1377.2C1430.9,1377.5 1432.2,1377.7 1433.5,1378.0C1434.8,1378.2 1436.1,1378.5 1437.4,1378.7C1438.7,1379.0 1440.0,1379.2 1441.3,1379.5C1442.6,1379.7 1443.9,1380.0 1445.3,1380.3C1446.6,1380.5 1447.9,1380.8 1449.2,1381.0C1450.5,1381.3 1451.8,1381.5 1453.1,1381.8C1454.4,1382.0 1455.7,1382.3 1457.0,1382.5C1458.4,1382.8 1459.7,1383.0 1461.0,1383.3C1462.3,1383.5 1463.6,1383.8 1464.9,1384.0C1466.2,1384.3 1467.5,1384.5 1468.8,1384.8C1470.1,1385.0 1471.5,1385.3 1472.8,1385.5C1474.1,1385.8 1475.4,1386.0 1476.7,1386.3C1478.0,1386.5 1479.3,1386.8 1480.6,1387.0C1481.9,1387.3 1483.2,1387.5 1484.6,1387.8C1485.9,1388.0 1487.2,1388.3 1488.5,1388.5C1489.8,1388.7 1491.1,1389.0 1492.4,1389.2C1493.7,1389.5 1495.0,1389.7 1496.4,1390.0C1497.7,1390.2 1499.0,1390.5 1500.3,1390.7C1501.6,1391.0 1502.9,1391.2 1504.2,1391.4C1505.5,1391.7 1506.8,1391.9 1508.2,1392.2C1509.5,1392.4 1510.8,1392.7 1512.1,1392.9C1513.4,1393.1 1514.7,1393.4 1516.0,1393.6C1517.3,1393.9 1518.6,1394.1 1520.0,1394.3C1521.3,1394.6 1522.6,1394.8 1523.9,1395.1C1525.2,1395.3 1526.5,1395.5 1527.8,1395.8C1529.1,1396.0 1530.5,1396.2 1531.8,1396.5C1533.1,1396.7 1534.4,1397.0 1535.7,1397.2C1537.0,1397.4 1538.3,1397.7 1539.6,1397.9C1541.0,1398.1 1542.3,1398.4 1543.6,1398.6C1544.9,1398.8 1546.2,1399.1 1547.5,1399.3C1548.8,1399.5 1550.2,1399.7 1551.5,1400.0C1552.8,1400.2 1554.1,1400.4 1555.4,1400.7C1556.7,1400.9 1558.0,1401.1 1559.4,1401.3C1560.7,1401.6 1562.0,1401.8 1563.3,1402.0C1564.6,1402.2 1565.9,1402.5 1567.2,1402.7C1568.6,1402.9 1569.9,1403.1 1571.2,1403.4C1572.5,1403.6 1573.8,1403.8 1575.1,1404.0C1576.4,1404.2 1577.8,1404.5 1579.1,1404.7C1580.4,1404.9 1581.7,1405.1 1583.0,1405.3C1584.3,1405.5 1585.7,1405.8 1587.0,1406.0C1588.3,1406.2 1589.6,1406.4 1590.9,1406.6C1592.2,1406.8 1593.6,1407.0 1594.9,1407.2C1596.2,1407.4 1597.5,1407.7 1598.8,1407.9C1600.1,1408.1 1601.5,1408.3 1602.8,1408.5C1604.1,1408.7 1605.4,1408.9 1606.7,1409.1C1608.1,1409.3 1609.4,1409.5 1610.7,1409.7C1612.0,1409.9 1613.3,1410.1 1614.6,1410.3C1616.0,1410.5 1617.3,1410.7 1618.6,1410.9C1619.9,1411.1 1621.2,1411.3 1622.6,1411.5C1623.9,1411.7 1625.2,1411.9 1626.5,1412.1C1627.8,1412.3 1629.2,1412.5 1630.5,1412.7C1631.8,1412.8 1633.1,1413.0 1634.4,1413.2C1635.8,1413.4 1637.1,1413.6 1638.4,1413.8C1639.7,1414.0 1641.0,1414.2 1642.4,1414.3C1643.7,1414.5 1645.0,1414.7 1646.3,1414.9C1647.6,1415.1 1649.0,1415.2 1650.3,1415.4C1651.6,1415.6 1652.9,1415.8 1654.3,1415.9C1655.6,1416.1 1656.9,1416.3 1658.2,1416.5C1659.5,1416.6 1660.9,1416.8 1662.2,1417.0C1663.5,1417.2 1664.8,1417.3 1666.2,1417.5C1667.5,1417.7 1668.8,1417.8 1670.1,1418.0C1671.5,1418.1 1672.8,1418.3 1674.1,1418.5C1675.4,1418.6 1676.7,1418.8 1678.1,1418.9C1679.4,1419.1 1680.7,1419.3 1682.0,1419.4C1683.4,1419.6 1684.7,1419.7 1686.0,1419.9C1687.3,1420.0 1688.7,1420.2 1690.0,1420.3C1691.3,1420.5 1692.6,1420.6 1694.0,1420.8C1695.3,1420.9 1696.6,1421.1 1697.9,1421.2C1699.3,1421.4 1700.6,1421.5 1701.9,1421.6C1703.3,1421.8 1704.6,1421.9 1705.9,1422.1C1707.2,1422.2 1708.6,1422.3 1709.9,1422.5C1711.2,1422.6 1712.5,1422.7 1713.9,1422.9C1715.2,1423.0 1716.5,1423.1 1717.8,1423.3C1719.2,1423.4 1720.5,1423.5 1721.8,1423.6C1723.2,1423.8 1724.5,1423.9 1725.8,1424.0C1727.1,1424.1 1728.5,1424.3 1729.8,1424.4C1731.1,1424.5 1732.5,1424.6 1733.8,1424.7C1735.1,1424.9 1736.4,1425.0 1737.8,1425.1C1739.1,1425.2 1740.4,1425.3 1741.8,1425.5C1743.1,1425.6 1744.4,1425.7 1745.7,1425.8C1747.1,1425.9 1748.4,1426.0 1749.7,1426.1C1751.1,1426.2 1752.4,1426.3 1753.7,1426.5C1755.0,1426.6 1756.4,1426.7 1757.7,1426.8C1759.0,1426.9 1760.4,1427.0 1761.7,1427.1C1763.0,1427.2 1764.3,1427.3 1765.7,1427.4C1767.0,1427.5 1768.3,1427.6 1769.7,1427.7C1771.0,1427.8 1772.3,1427.9 1773.7,1428.0C1775.0,1428.1 1776.3,1428.2 1777.6,1428.3C1779.0,1428.4 1780.3,1428.5 1781.6,1428.6C1783.0,1428.7 1784.3,1428.7 1785.6,1428.8C1787.0,1428.9 1788.3,1429.0 1789.6,1429.1C1791.0,1429.2 1792.3,1429.3 1793.6,1429.4C1794.9,1429.5 1796.3,1429.5 1797.6,1429.6C1798.9,1429.7 1800.3,1429.8 1801.6,1429.9C1802.9,1430.0 1804.3,1430.1 1805.6,1430.1C1806.9,1430.2 1808.3,1430.3 1809.6,1430.4C1810.9,1430.5 1812.3,1430.5 1813.6,1430.6C1814.9,1430.7 1816.2,1430.8 1817.6,1430.9C1818.9,1430.9 1820.2,1431.0 1821.6,1431.1C1822.9,1431.2 1824.2,1431.2 1825.6,1431.3C1826.9,1431.4 1828.2,1431.5 1829.6,1431.5C1830.9,1431.6 1832.2,1431.7 1833.6,1431.8C1834.9,1431.8 1836.2,1431.9 1837.6,1432.0C1838.9,1432.0 1840.2,1432.1 1841.5,1432.2C1842.9,1432.2 1844.2,1432.3 1845.5,1432.4C1846.9,1432.4 1848.2,1432.5 1849.5,1432.6C1850.9,1432.6 1852.2,1432.7 1853.5,1432.8C1854.9,1432.8 1856.2,1432.9 1857.5,1433.0C1858.9,1433.0 1860.2,1433.1 1861.5,1433.2C1862.9,1433.2 1864.2,1433.3 1865.5,1433.3C1866.9,1433.4 1868.2,1433.5 1869.5,1433.5C1870.9,1433.6 1872.2,1433.7 1873.5,1433.7C1874.8,1433.8 1876.2,1433.8 1877.5,1433.9C1878.8,1434.0 1880.2,1434.0 1881.5,1434.1C1882.8,1434.1 1884.2,1434.2 1885.5,1434.2C1886.8,1434.3 1888.2,1434.4 1889.5,1434.4C1890.8,1434.5 1892.2,1434.5 1893.5,1434.6C1894.8,1434.6 1896.2,1434.7 1897.5,1434.8C1898.8,1434.8 1900.2,1434.9 1901.5,1434.9C1902.8,1435.0 1904.2,1435.0 1905.5,1435.1C1906.8,1435.1 1908.2,1435.2 1909.5,1435.2C1910.8,1435.3 1912.2,1435.3 1913.5,1435.4C1914.8,1435.5 1916.2,1435.5 1917.5,1435.6C1918.8,1435.6 1920.2,1435.7 1921.5,1435.7C1922.8,1435.8 1924.2,1435.8 1925.5,1435.9C1926.8,1435.9 1928.1,1436.0 1929.5,1436.0C1930.8,1436.1 1932.1,1436.1 1933.5,1436.2C1934.8,1436.2 1936.1,1436.3 1937.5,1436.3C1938.8,1436.4 1940.1,1436.4 1941.5,1436.5C1942.8,1436.5 1944.1,1436.6 1945.5,1436.6C1946.8,1436.7 1948.1,1436.7 1949.5,1436.8C1950.8,1436.8 1952.1,1436.9 1953.5,1436.9C1954.8,1437.0 1956.1,1437.0 1957.5,1437.1C1958.8,1437.1 1960.1,1437.2 1961.5,1437.2C1962.8,1437.3 1964.1,1437.3 1965.5,1437.4C1966.8,1437.4 1968.1,1437.5 1969.5,1437.5C1970.8,1437.6 1972.1,1437.6 1973.5,1437.7C1974.8,1437.7 1976.1,1437.8 1977.5,1437.8C1978.8,1437.9 1980.1,1437.9 1981.5,1438.0C1982.8,1438.0 1984.1,1438.1 1985.5,1438.1C1986.8,1438.2 1988.1,1438.2 1989.5,1438.3C1990.8,1438.3 1992.1,1438.4 1993.5,1438.4C1994.8,1438.5 1996.1,1438.5 1997.5,1438.6C1998.8,1438.6 2000.1,1438.7 2001.4,1438.7C2002.8,1438.8 2004.1,1438.8 2005.4,1438.9C2006.8,1438.9 2008.1,1439.0 2009.4,1439.1C2010.8,1439.1 2012.1,1439.2 2013.4,1439.2C2014.8,1439.3 2016.1,1439.3 2017.4,1439.4C2018.8,1439.4 2020.1,1439.5 2021.4,1439.5C2022.8,1439.6 2024.1,1439.6 2025.4,1439.7C2026.8,1439.8 2028.1,1439.8 2029.4,1439.9C2030.8,1439.9 2032.1,1440.0 2033.4,1440.0" stroke="#a6cd8b"/>
<path d="M278.9,1436.8C280.2,1436.9 281.6,1437.1 282.9,1437.2C284.2,1437.4 285.5,1437.5 286.9,1437.6C288.2,1437.8 289.5,1437.9 290.9,1438.0C292.2,1438.1 293.5,1438.2 294.8,1438.3C296.2,1438.4 297.5,1438.5 298.8,1438.5C300.2,1438.6 301.5,1438.7 302.8,1438.7C304.2,1438.8 305.5,1438.9 306.8,1438.9C308.2,1439.0 309.5,1439.0 310.8,1439.0C312.2,1439.1 313.5,1439.1 314.8,1439.1C316.2,1439.1 317.5,1439.1 318.8,1439.2C320.2,1439.2 321.5,1439.2 322.8,1439.2C324.2,1439.2 325.5,1439.1 326.8,1439.1C328.2,1439.1 329.5,1439.1 330.8,1439.1C332.2,1439.0 333.5,1439.0 334.8,1439.0C336.2,1438.9 337.5,1438.9 338.8,1438.9C340.2,1438.8 341.5,1438.8 342.8,1438.7C344.2,1438.7 345.5,1438.6 346.8,1438.5C348.2,1438.5 349.5,1438.4 350.8,1438.3C352.1,1438.3 353.5,1438.2 354.8,1438.1C356.1,1438.0 357.5,1438.0 358.8,1437.9C360.1,1437.8 361.5,1437.7 362.8,1437.6C364.1,1437.5 365.5,1437.4 366.8,1437.4C368.1,1437.3 369.4,1437.2 370.8,1437.1C372.1,1437.0 373.4,1436.9 374.8,1436.8C376.1,1436.7 377.4,1436.6 378.8,1436.5C380.1,1436.4 381.4,1436.3 382.7,1436.2C384.1,1436.1 385.4,1436.0 386.7,1435.9C388.1,1435.8 389.4,1435.7 390.7,1435.6C392.1,1435.5 393.4,1435.3 394.7,1435.2C396.0,1435.1 397.4,1435.0 398.7,1434.9C400.0,1434.8 401.4,1434.7 402.7,1434.6C404.0,1434.5 405.4,1434.4 406.7,1434.3C408.0,1434.2 409.3,1434.1 410.7,1434.0C412.0,1433.9 413.3,1433.8 414.7,1433.7C416.0,1433.6 417.3,1433.5 418.6,1433.4C420.0,1433.3 421.3,1433.1 422.6,1433.0C424.0,1432.9 425.3,1432.8 426.6,1432.7C427.9,1432.5 429.3,1432.4 430.6,1432.3C431.9,1432.1 433.2,1432.0 434.6,1431.9C435.9,1431.7 437.2,1431.6 438.6,1431.4C439.9,1431.3 441.2,1431.1 442.5,1430.9C443.8,1430.8 445.2,1430.6 446.5,1430.4C447.8,1430.2 449.1,1430.0 450.4,1429.8C451.8,1429.6 453.1,1429.4 454.4,1429.2C455.7,1429.0 457.0,1428.8 458.3,1428.5C459.7,1428.3 461.0,1428.0 462.3,1427.8C463.6,1427.5 464.9,1427.2 466.2,1427.0C467.5,1426.7 468.8,1426.4 470.1,1426.1C471.4,1425.8 472.7,1425.5 474.0,1425.1C475.3,1424.8 476.6,1424.5 477.8,1424.1C479.1,1423.7 480.4,1423.4 481.7,1423.0C483.0,1422.6 484.2,1422.2 485.5,1421.8C486.8,1421.4 488.0,1420.9 489.3,1420.5C490.5,1420.0 491.8,1419.6 493.0,1419.1C494.3,1418.6 495.5,1418.1 496.8,1417.6C498.0,1417.1 499.2,1416.6 500.4,1416.1C501.7,1415.5 502.9,1415.0 504.1,1414.4C505.3,1413.9 506.5,1413.3 507.7,1412.7C508.9,1412.1 510.1,1411.5 511.3,1410.9C512.4,1410.3 513.6,1409.6 514.8,1409.0C515.9,1408.3 517.1,1407.7 518.2,1407.0C519.4,1406.3 520.5,1405.6 521.7,1404.9C522.8,1404.2 523.9,1403.5 525.0,1402.7C526.1,1402.0 527.2,1401.3 528.3,1400.5C529.4,1399.7 530.5,1399.0 531.6,1398.2C532.7,1397.4 533.7,1396.6 534.8,1395.8C535.9,1395.0 536.9,1394.1 537.9,1393.3C539.0,1392.5 540.0,1391.6 541.0,1390.7C542.0,1389.9 543.0,1389.0 544.0,1388.1C545.0,1387.2 546.0,1386.3 546.9,1385.3C547.9,1384.4 548.8,1383.5 549.8,1382.5C550.7,1381.6 551.6,1380.6 552.5,1379.6C553.4,1378.6 554.3,1377.6 555.1,1376.6C556.0,1375.6 556.8,1374.5 557.6,1373.5C558.5,1372.4 559.3,1371.4 560.1,1370.3C560.8,1369.2 561.6,1368.1 562.4,1367.0C563.1,1365.9 563.8,1364.8 564.6,1363.7C565.3,1362.6 566.0,1361.4 566.7,1360.3C567.3,1359.1 568.0,1358.0 568.7,1356.8C569.3,1355.6 569.9,1354.5 570.6,1353.3C571.2,1352.1 571.8,1350.9 572.4,1349.7C573.0,1348.5 573.5,1347.3 574.1,1346.1C574.7,1344.9 575.2,1343.7 575.8,1342.5C576.3,1341.2 576.8,1340.0 577.3,1338.8C577.8,1337.6 578.3,1336.3 578.8,1335.1C579.3,1333.8 579.8,1332.6 580.3,1331.3C580.7,1330.1 581.2,1328.8 581.6,1327.6C582.1,1326.3 582.5,1325.1 583.0,1323.8C583.4,1322.6 583.8,1321.3 584.3,1320.0C584.7,1318.8 585.1,1317.5 585.5,1316.2C585.9,1315.0 586.3,1313.7 586.7,1312.4C587.1,1311.1 587.5,1309.9 587.9,1308.6C588.3,1307.3 588.7,1306.0 589.0,1304.8C589.4,1303.5 589.8,1302.2 590.2,1300.9C590.6,1299.6 590.9,1298.4 591.3,1297.1C591.7,1295.8 592.0,1294.5 592.4,1293.2C592.8,1292.0 593.2,1290.7 593.5,1289.4C593.9,1288.1 594.3,1286.8 594.6,1285.5C595.0,1284.3 595.3,1283.0 595.7,1281.7C596.1,1280.4 596.4,1279.1 596.8,1277.8C597.1,1276.6 597.5,1275.3 597.8,1274.0C598.2,1272.7 598.5,1271.4 598.9,1270.1C599.2,1268.8 599.6,1267.5 599.9,1266.3C600.3,1265.0 600.6,1263.7 600.9,1262.4C601.3,1261.1 601.6,1259.8 602.0,1258.5C602.3,1257.2 602.6,1255.9 603.0,1254.7C603.3,1253.4 603.6,1252.1 604.0,1250.8C604.3,1249.5 604.6,1248.2 605.0,1246.9C605.3,1245.6 605.6,1244.3 605.9,1243.0C606.3,1241.7 606.6,1240.4 606.9,1239.1C607.2,1237.8 607.5,1236.6 607.9,1235.3C608.2,1234.0 608.5,1232.7 608.8,1231.4C609.1,1230.1 609.4,1228.8 609.8,1227.5C610.1,1226.2 610.4,1224.9 610.7,1223.6C611.0,1222.3 611.3,1221.0 611.6,1219.7C611.9,1218.4 612.2,1217.1 612.5,1215.8C612.8,1214.5 613.1,1213.2 613.4,1211.9C613.7,1210.6 614.0,1209.3 614.3,1208.0C614.6,1206.7 614.9,1205.4 615.2,1204.1C615.5,1202.8 615.8,1201.5 616.1,1200.2C616.4,1198.9 616.6,1197.6 616.9,1196.3C617.2,1195.0 617.5,1193.7 617.8,1192.4C618.1,1191.1 618.4,1189.8 618.6,1188.5C618.9,1187.2 619.2,1185.9 619.5,1184.6C619.8,1183.3 620.0,1182.0 620.3,1180.7C620.6,1179.3 620.9,1178.0 621.1,1176.7C621.4,1175.4 621.7,1174.1 622.0,1172.8C622.2,1171.5 622.5,1170.2 622.8,1168.9C623.0,1167.6 623.3,1166.3 623.6,1165.0C623.8,1163.7 624.1,1162.4 624.4,1161.1C624.6,1159.8 624.9,1158.4 625.1,1157.1C625.4,1155.8 625.7,1154.5 625.9,1153.2C626.2,1151.9 626.4,1150.6 626.7,1149.3C626.9,1148.0 627.2,1146.7 627.4,1145.4C627.7,1144.0 628.0,1142.7 628.2,1141.4C628.5,1140.1 628.7,1138.8 628.9,1137.5C629.2,1136.2 629.4,1134.9 629.7,1133.6C629.9,1132.3 630.2,1130.9 630.4,1129.6C630.7,1128.3 630.9,1127.0 631.1,1125.7C631.4,1124.4 631.6,1123.1 631.9,1121.8C632.1,1120.5 632.3,1119.1 632.6,1117.8C632.8,1116.5 633.0,1115.2 633.3,1113.9C633.5,1112.6 633.7,1111.3 634.0,1109.9C634.2,1108.6 634.4,1107.3 634.7,1106.0C634.9,1104.7 635.1,1103.4 635.4,1102.1C635.6,1100.8 635.8,1099.4 636.0,1098.1C636.3,1096.8 636.5,1095.5 636.7,1094.2C636.9,1092.9 637.2,1091.6 637.4,1090.2C637.6,1088.9 637.8,1087.6 638.0,1086.3C638.3,1085.0 638.5,1083.7 638.7,1082.3C638.9,1081.0 639.1,1079.7 639.3,1078.4C639.6,1077.1 639.8,1075.8 640.0,1074.4C640.2,1073.1 640.4,1071.8 640.6,1070.5C640.8,1069.2 641.0,1067.9 641.3,1066.5C641.5,1065.2 641.7,1063.9 641.9,1062.6C642.1,1061.3 642.3,1060.0 642.5,1058.6C642.7,1057.3 642.9,1056.0 643.1,1054.7C643.3,1053.4 643.5,1052.1 643.7,1050.7C643.9,1049.4 644.1,1048.1 644.3,1046.8C644.5,1045.5 644.7,1044.1 644.9,1042.8C645.1,1041.5 645.3,1040.2 645.5,1038.9C645.7,1037.6 645.9,1036.2 646.1,1034.9C646.3,1033.6 646.5,1032.3 646.7,1031.0C646.9,1029.6 647.1,1028.3 647.3,1027.0C647.5,1025.7 647.7,1024.4 647.9,1023.0C648.1,1021.7 648.3,1020.4 648.4,1019.1C648.6,1017.8 648.8,1016.4 649.0,1015.1C649.2,1013.8 649.4,1012.5 649.6,1011.2C649.8,1009.8 650.0,1008.5 650.1,1007.2C650.3,1005.9 650.5,1004.6 650.7,1003.2C650.9,1001.9 651.1,1000.6 651.3,999.3C651.4,998.0 651.6,996.6 651.8,995.3C652.0,994.0 652.2,992.7 652.4,991.3C652.5,990.0 652.7,988.7 652.9,987.4C653.1,986.1 653.3,984.7 653.4,983.4C653.6,982.1 653.8,980.8 654.0,979.5C654.2,978.1 654.3,976.8 654.5,975.5C654.7,974.2 654.9,972.8 655.0,971.5C655.2,970.2 655.4,968.9 655.6,967.6C655.7,966.2 655.9,964.9 656.1,963.6C656.3,962.3 656.4,961.0 656.6,959.6C656.8,958.3 657.0,957.0 657.1,955.7C657.3,954.3 657.5,953.0 657.7,951.7C657.8,950.4 658.0,949.0 658.2,947.7C658.3,946.4 658.5,945.1 658.7,943.8C658.9,942.4 659.0,941.1 659.2,939.8C659.4,938.5 659.5,937.1 659.7,935.8C659.9,934.5 660.0,933.2 660.2,931.9C660.4,930.5 660.5,929.2 660.7,927.9C660.9,926.6 661.1,925.2 661.2,923.9C661.4,922.6 661.6,921.3 661.7,919.9C661.9,918.6 662.1,917.3 662.2,916.0C662.4,914.7 662.6,913.3 662.7,912.0C662.9,910.7 663.1,909.4 663.2,908.0C663.4,906.7 663.5,905.4 663.7,904.1C663.9,902.7 664.0,901.4 664.2,900.1C664.4,898.8 664.5,897.5 664.7,896.1C664.9,894.8 665.0,893.5 665.2,892.2C665.4,890.8 665.5,889.5 665.7,888.2C665.9,886.9 666.0,885.5 666.2,884.2C666.3,882.9 666.5,881.6 666.7,880.2C666.8,878.9 667.0,877.6 667.2,876.3C667.3,875.0 667.5,873.6 667.6,872.3C667.8,871.0 668.0,869.7 668.1,868.3C668.3,867.0 668.5,865.7 668.6,864.4C668.8,863.0 669.0,861.7 669.1,860.4C669.3,859.1 669.4,857.7 669.6,856.4C669.8,855.1 669.9,853.8 670.1,852.5C670.3,851.1 670.4,849.8 670.6,848.5C670.7,847.2 670.9,845.8 671.1,844.5C671.2,843.2 671.4,841.9 671.6,840.5C671.7,839.2 671.9,837.9 672.1,836.6C672.2,835.2 672.4,833.9 672.5,832.6C672.7,831.3 672.9,830.0 673.0,828.6C673.2,827.3 673.4,826.0 673.5,824.7C673.7,823.3 673.9,822.0 674.0,820.7C674.2,819.4 674.4,818.0 674.5,816.7C674.7,815.4 674.8,814.1 675.0,812.7C675.2,811.4 675.3,810.1 675.5,808.8C675.7,807.5 675.8,806.1 676.0,804.8C676.2,803.5 676.3,802.2 676.5,800.8C676.7,799.5 676.8,798.2 677.0,796.9C677.2,795.5 677.3,794.2 677.5,792.9C677.7,791.6 677.8,790.3 678.0,788.9C678.2,787.6 678.4,786.3 678.5,785.0C678.7,783.6 678.9,782.3 679.0,781.0C679.2,779.7 679.4,778.4 679.5,777.0C679.7,775.7 679.9,774.4 680.1,773.1C680.2,771.7 680.4,770.4 680.6,769.1C680.7,767.8 680.9,766.4 681.1,765.1C681.3,763.8 681.4,762.5 681.6,761.2C681.8,759.8 681.9,758.5 682.1,757.2C682.3,755.9 682.5,754.5 682.6,753.2C682.8,751.9 683.0,750.6 683.2,749.3C683.3,747.9 683.5,746.6 683.7,745.3C683.9,744.0 684.0,742.6 684.2,741.3C684.4,740.0 684.6,738.7 684.7,737.4C684.9,736.0 685.1,734.7 685.3,733.4C685.4,732.1 685.6,730.7 685.8,729.4C686.0,728.1 686.1,726.8 686.3,725.5C686.5,724.1 686.7,722.8 686.9,721.5C687.0,720.2 687.2,718.9 687.4,717.5C687.6,716.2 687.8,714.9 687.9,713.6C688.1,712.2 688.3,710.9 688.5,709.6C688.7,708.3 688.8,707.0 689.0,705.6C689.2,704.3 689.4,703.0 689.6,701.7C689.8,700.4 689.9,699.0 690.1,697.7C690.3,696.4 690.5,695.1 690.7,693.8C690.9,692.4 691.0,691.1 691.2,689.8C691.4,688.5 691.6,687.1 691.8,685.8C692.0,684.5 692.1,683.2 692.3,681.9C692.5,680.5 692.7,679.2 692.9,677.9C693.1,676.6 693.3,675.3 693.5,673.9C693.6,672.6 693.8,671.3 694.0,670.0C694.2,668.7 694.4,667.3 694.6,666.0C694.8,664.7 695.0,663.4 695.1,662.1C695.3,660.7 695.5,659.4 695.7,658.1C695.9,656.8 696.1,655.5 696.3,654.1C696.5,652.8 696.7,651.5 696.9,650.2C697.1,648.9 697.3,647.5 697.4,646.2C697.6,644.9 697.8,643.6 698.0,642.3C698.2,640.9 698.4,639.6 698.6,638.3C698.8,637.0 699.0,635.7 699.2,634.4C699.4,633.0 699.6,631.7 699.8,630.4C700.0,629.1 700.2,627.8 700.4,626.4C700.6,625.1 700.8,623.8 701.0,622.5C701.2,621.2 701.4,619.8 701.6,618.5C701.8,617.2 702.0,615.9 702.2,614.6C702.4,613.2 702.6,611.9 702.8,610.6C703.0,609.3 703.2,608.0 703.4,606.7C703.6,605.3 703.8,604.0 704.0,602.7C704.2,601.4 704.4,600.1 704.6,598.7C704.8,597.4 705.0,596.1 705.2,594.8C705.4,593.5 705.6,592.2 705.8,590.8C706.0,589.5 706.2,588.2 706.4,586.9C706.6,585.6 706.8,584.3 707.0,582.9C707.2,581.6 707.4,580.3 707.6,579.0C707.9,577.7 708.1,576.3 708.3,575.0C708.5,573.7 708.7,572.4 708.9,571.1C709.1,569.8 709.3,568.4 709.5,567.1C709.7,565.8 709.9,564.5 710.2,563.2C710.4,561.9 710.6,560.5 710.8,559.2C711.0,557.9 711.2,556.6 711.4,555.3C711.6,554.0 711.9,552.6 712.1,551.3C712.3,550.0 712.5,548.7 712.7,547.4C712.9,546.1 713.2,544.7 713.4,543.4C713.6,542.1 713.8,540.8 714.0,539.5C714.2,538.2 714.5,536.9 714.7,535.5C714.9,534.2 715.1,532.9 715.3,531.6C715.5,530.3 715.8,529.0 716.0,527.6C716.2,526.3 716.4,525.0 716.6,523.7C716.9,522.4 717.1,521.1 717.3,519.8C717.5,518.4 717.8,517.1 718.0,515.8C718.2,514.5 718.4,513.2 718.7,511.9C718.9,510.6 719.1,509.2 719.3,507.9C719.6,506.6 719.8,505.3 720.0,504.0C720.2,502.7 720.5,501.4 720.7,500.0C720.9,498.7 721.1,497.4 721.4,496.1C721.6,494.8 721.8,493.5 722.1,492.2C722.3,490.8 722.5,489.5 722.7,488.2C723.0,486.9 723.2,485.6 723.4,484.3C723.7,483.0 723.9,481.6 724.1,480.3C724.3,479.0 724.6,477.7 724.8,476.4C725.0,475.1 725.2,473.8 725.5,472.4C725.7,471.1 725.9,469.8 726.1,468.5C726.3,467.2 726.6,465.9 726.8,464.6C727.0,463.2 727.2,461.9 727.4,460.6C727.6,459.3 727.8,458.0 728.1,456.7C728.3,455.3 728.5,454.0 728.7,452.7C728.9,451.4 729.1,450.1 729.3,448.7C729.5,447.4 729.7,446.1 729.9,444.8C730.1,443.5 730.3,442.1 730.5,440.8C730.7,439.5 730.9,438.2 731.1,436.9C731.3,435.6 731.6,434.3 731.8,432.9C732.1,431.6 732.3,430.3 732.6,429.0C732.9,427.7 733.2,426.4 733.5,425.1C733.8,423.8 734.2,422.5 734.5,421.3C734.9,420.0 735.3,418.7 735.7,417.4C736.1,416.2 736.6,414.9 737.0,413.7C737.5,412.4 738.0,411.2 738.5,409.9C739.0,408.7 739.6,407.5 740.1,406.3C740.7,405.1 741.3,403.9 741.9,402.7C742.6,401.5 743.2,400.4 743.9,399.2C744.6,398.1 745.3,396.9 746.0,395.8C746.8,394.7 747.5,393.6 748.4,392.6C749.3,391.6 750.2,390.6 751.3,389.8C752.3,389.1 753.7,388.4 754.9,388.4C756.1,388.4 757.5,389.1 758.5,389.8C759.6,390.6 760.5,391.7 761.3,392.7C762.1,393.7 762.9,394.9 763.6,396.0C764.3,397.1 765.0,398.3 765.6,399.4C766.3,400.6 766.9,401.8 767.5,403.0C768.1,404.1 768.7,405.3 769.3,406.5C769.8,407.8 770.4,409.0 770.9,410.2C771.4,411.4 771.9,412.7 772.4,413.9C772.9,415.2 773.3,416.4 773.8,417.7C774.2,418.9 774.6,420.2 775.0,421.5C775.4,422.8 775.8,424.0 776.1,425.3C776.5,426.6 776.8,427.9 777.2,429.2C777.5,430.5 777.8,431.8 778.1,433.1C778.4,434.4 778.7,435.7 779.0,437.0C779.2,438.3 779.5,439.6 779.8,440.9C780.0,442.2 780.3,443.5 780.5,444.8C780.8,446.1 781.0,447.4 781.3,448.8C781.5,450.1 781.8,451.4 782.0,452.7C782.3,454.0 782.5,455.3 782.8,456.6C783.0,457.9 783.3,459.2 783.5,460.5C783.8,461.8 784.1,463.2 784.3,464.5C784.6,465.8 784.8,467.1 785.1,468.4C785.3,469.7 785.6,471.0 785.8,472.3C786.1,473.6 786.3,474.9 786.6,476.2C786.9,477.6 787.1,478.9 787.4,480.2C787.6,481.5 787.9,482.8 788.2,484.1C788.4,485.4 788.7,486.7 788.9,488.0C789.2,489.3 789.4,490.6 789.7,491.9C790.0,493.3 790.2,494.6 790.5,495.9C790.7,497.2 791.0,498.5 791.3,499.8C791.5,501.1 791.8,502.4 792.0,503.7C792.3,505.0 792.6,506.3 792.8,507.6C793.1,509.0 793.3,510.3 793.6,511.6C793.9,512.9 794.1,514.2 794.4,515.5C794.6,516.8 794.9,518.1 795.2,519.4C795.4,520.7 795.7,522.0 795.9,523.3C796.2,524.6 796.4,526.0 796.7,527.3C797.0,528.6 797.2,529.9 797.5,531.2C797.7,532.5 798.0,533.8 798.2,535.1C798.5,536.4 798.8,537.7 799.0,539.0C799.3,540.4 799.5,541.7 799.8,543.0C800.0,544.3 800.3,545.6 800.5,546.9C800.8,548.2 801.1,549.5 801.3,550.8C801.6,552.1 801.8,553.4 802.1,554.8C802.3,556.1 802.6,557.4 802.8,558.7C803.1,560.0 803.3,561.3 803.6,562.6C803.8,563.9 804.1,565.2 804.3,566.5C804.6,567.9 804.8,569.2 805.0,570.5C805.3,571.8 805.5,573.1 805.8,574.4C806.0,575.7 806.3,577.0 806.5,578.3C806.8,579.7 807.0,581.0 807.2,582.3C807.5,583.6 807.7,584.9 807.9,586.2C808.2,587.5 808.4,588.8 808.7,590.2C808.9,591.5 809.1,592.8 809.4,594.1C809.6,595.4 809.8,596.7 810.1,598.0C810.3,599.3 810.5,600.7 810.7,602.0C811.0,603.3 811.2,604.6 811.4,605.9C811.7,607.2 811.9,608.5 812.1,609.9C812.3,611.2 812.6,612.5 812.8,613.8C813.0,615.1 813.2,616.4 813.4,617.7C813.7,619.1 813.9,620.4 814.1,621.7C814.3,623.0 814.5,624.3 814.7,625.6C815.0,627.0 815.2,628.3 815.4,629.6C815.6,630.9 815.8,632.2 816.0,633.5C816.2,634.9 816.5,636.2 816.7,637.5C816.9,638.8 817.1,640.1 817.3,641.4C817.5,642.8 817.7,644.1 817.9,645.4C818.1,646.7 818.3,648.0 818.5,649.3C818.8,650.7 819.0,652.0 819.2,653.3C819.4,654.6 819.6,655.9 819.8,657.2C820.0,658.6 820.2,659.9 820.4,661.2C820.6,662.5 820.8,663.8 821.0,665.2C821.2,666.5 821.4,667.8 821.6,669.1C821.8,670.4 822.0,671.7 822.2,673.1C822.4,674.4 822.6,675.7 822.8,677.0C823.0,678.3 823.3,679.7 823.5,681.0C823.7,682.3 823.9,683.6 824.1,684.9C824.3,686.2 824.5,687.6 824.7,688.9C824.9,690.2 825.1,691.5 825.3,692.8C825.5,694.1 825.7,695.5 825.9,696.8C826.1,698.1 826.3,699.4 826.5,700.7C826.7,702.1 826.9,703.4 827.1,704.7C827.3,706.0 827.5,707.3 827.7,708.6C827.9,710.0 828.1,711.3 828.3,712.6C828.5,713.9 828.8,715.2 829.0,716.6C829.2,717.9 829.4,719.2 829.6,720.5C829.8,721.8 830.0,723.1 830.2,724.5C830.4,725.8 830.6,727.1 830.8,728.4C831.0,729.7 831.2,731.0 831.5,732.4C831.7,733.7 831.9,735.0 832.1,736.3C832.3,737.6 832.5,738.9 832.7,740.3C832.9,741.6 833.2,742.9 833.4,744.2C833.6,745.5 833.8,746.8 834.0,748.2C834.2,749.5 834.4,750.8 834.7,752.1C834.9,753.4 835.1,754.7 835.3,756.0C835.5,757.4 835.8,758.7 836.0,760.0C836.2,761.3 836.4,762.6 836.6,763.9C836.9,765.3 837.1,766.6 837.3,767.9C837.5,769.2 837.8,770.5 838.0,771.8C838.2,773.1 838.4,774.5 838.7,775.8C838.9,777.1 839.1,778.4 839.4,779.7C839.6,781.0 839.8,782.3 840.1,783.7C840.3,785.0 840.5,786.3 840.8,787.6C841.0,788.9 841.2,790.2 841.5,791.5C841.7,792.8 842.0,794.2 842.2,795.5C842.4,796.8 842.7,798.1 842.9,799.4C843.2,800.7 843.4,802.0 843.7,803.3C843.9,804.6 844.1,806.0 844.4,807.3C844.6,808.6 844.9,809.9 845.1,811.2C845.4,812.5 845.6,813.8 845.9,815.1C846.2,816.4 846.4,817.7 846.7,819.0C846.9,820.4 847.2,821.7 847.4,823.0C847.7,824.3 848.0,825.6 848.2,826.9C848.5,828.2 848.8,829.5 849.0,830.8C849.3,832.1 849.6,833.4 849.8,834.7C850.1,836.0 850.4,837.3 850.6,838.7C850.9,840.0 851.2,841.3 851.5,842.6C851.7,843.9 852.0,845.2 852.3,846.5C852.6,847.8 852.9,849.1 853.1,850.4C853.4,851.7 853.7,853.0 854.0,854.3C854.3,855.6 854.6,856.9 854.9,858.2C855.2,859.5 855.5,860.8 855.8,862.1C856.0,863.4 856.3,864.7 856.6,866.0C856.9,867.3 857.2,868.6 857.5,869.9C857.8,871.2 858.2,872.5 858.5,873.8C858.8,875.1 859.1,876.4 859.4,877.7C859.7,879.0 860.0,880.3 860.3,881.6C860.6,882.9 861.0,884.2 861.3,885.5C861.6,886.8 861.9,888.1 862.2,889.3C862.6,890.6 862.9,891.9 863.2,893.2C863.6,894.5 863.9,895.8 864.2,897.1C864.5,898.4 864.9,899.7 865.2,901.0C865.6,902.3 865.9,903.6 866.2,904.8C866.6,906.1 866.9,907.4 867.3,908.7C867.6,910.0 868.0,911.3 868.3,912.6C868.7,913.9 869.0,915.1 869.4,916.4C869.7,917.7 870.1,919.0 870.4,920.3C870.8,921.6 871.2,922.8 871.5,924.1C871.9,925.4 872.3,926.7 872.6,928.0C873.0,929.3 873.4,930.5 873.8,931.8C874.2,933.1 874.5,934.4 874.9,935.6C875.3,936.9 875.7,938.2 876.2,939.4C876.6,940.7 877.0,942.0 877.5,943.2C877.9,944.5 878.4,945.7 878.9,947.0C879.4,948.2 879.9,949.5 880.4,950.7C880.9,951.9 881.5,953.1 882.0,954.3C882.6,955.5 883.2,956.7 883.8,957.9C884.5,959.1 885.1,960.2 885.8,961.4C886.5,962.5 887.2,963.7 888.0,964.7C888.7,965.8 889.5,966.9 890.3,968.0C891.2,969.0 892.0,970.0 892.9,971.0C893.8,972.0 894.8,973.0 895.7,973.9C896.7,974.8 897.7,975.6 898.8,976.5C899.8,977.3 900.9,978.1 902.0,978.8C903.1,979.5 904.3,980.2 905.4,980.9C906.6,981.5 907.8,982.1 909.0,982.7C910.2,983.2 911.5,983.7 912.7,984.2C914.0,984.6 915.2,985.1 916.5,985.4C917.8,985.8 919.1,986.1 920.4,986.4C921.7,986.7 923.0,987.0 924.3,987.2C925.6,987.4 927.0,987.6 928.3,987.7C929.6,987.8 930.9,987.9 932.3,987.9C933.6,987.9 934.9,987.9 936.3,987.8C937.6,987.7 938.9,987.6 940.3,987.4C941.6,987.2 942.9,987.0 944.2,986.7C945.5,986.4 946.8,986.0 948.1,985.7C949.3,985.3 950.6,984.9 951.9,984.5C953.1,984.1 954.4,983.6 955.7,983.2C956.9,982.8 958.2,982.4 959.5,982.0C960.8,981.6 962.1,981.3 963.4,981.0C964.7,980.7 966.0,980.4 967.3,980.3C968.6,980.2 970.0,980.1 971.3,980.1C972.6,980.2 974.0,980.3 975.3,980.6C976.6,980.8 977.9,981.1 979.1,981.5C980.4,981.9 981.7,982.4 982.9,982.9C984.1,983.4 985.4,983.9 986.6,984.5C987.8,985.1 988.9,985.7 990.1,986.4C991.3,987.0 992.4,987.7 993.6,988.4C994.7,989.0 995.9,989.7 997.0,990.4C998.1,991.1 999.3,991.8 1000.4,992.5C1001.6,993.1 1002.7,993.8 1003.9,994.5C1005.1,995.1 1006.2,995.8 1007.4,996.4C1008.6,997.1 1009.7,997.7 1010.9,998.4C1012.0,999.1 1013.2,999.8 1014.3,1000.5C1015.4,1001.2 1016.5,1001.9 1017.6,1002.7C1018.7,1003.5 1019.7,1004.3 1020.7,1005.2C1021.8,1006.1 1022.7,1007.0 1023.7,1007.9C1024.7,1008.8 1025.6,1009.8 1026.5,1010.8C1027.4,1011.7 1028.3,1012.7 1029.1,1013.8C1030.0,1014.8 1030.8,1015.8 1031.7,1016.8C1032.5,1017.9 1033.3,1018.9 1034.2,1020.0C1035.0,1021.0 1035.8,1022.1 1036.6,1023.1C1037.4,1024.2 1038.3,1025.2 1039.1,1026.3C1039.9,1027.3 1040.7,1028.4 1041.5,1029.4C1042.4,1030.5 1043.2,1031.6 1044.0,1032.6C1044.8,1033.7 1045.6,1034.7 1046.5,1035.8C1047.3,1036.8 1048.1,1037.9 1048.9,1038.9C1049.7,1040.0 1050.5,1041.0 1051.4,1042.1C1052.2,1043.1 1053.0,1044.2 1053.8,1045.2C1054.6,1046.3 1055.5,1047.3 1056.3,1048.4C1057.1,1049.5 1057.9,1050.5 1058.7,1051.6C1059.5,1052.6 1060.4,1053.7 1061.2,1054.7C1062.0,1055.8 1062.8,1056.8 1063.6,1057.9C1064.4,1058.9 1065.3,1060.0 1066.1,1061.0C1066.9,1062.1 1067.7,1063.1 1068.5,1064.2C1069.4,1065.3 1070.2,1066.3 1071.0,1067.4C1071.8,1068.4 1072.6,1069.5 1073.4,1070.5C1074.3,1071.6 1075.1,1072.6 1075.9,1073.7C1076.7,1074.7 1077.5,1075.8 1078.4,1076.8C1079.2,1077.9 1080.0,1078.9 1080.8,1080.0C1081.6,1081.0 1082.5,1082.1 1083.3,1083.1C1084.1,1084.2 1084.9,1085.2 1085.7,1086.3C1086.6,1087.4 1087.4,1088.4 1088.2,1089.5C1089.0,1090.5 1089.8,1091.6 1090.7,1092.6C1091.5,1093.7 1092.3,1094.7 1093.1,1095.8C1094.0,1096.8 1094.8,1097.9 1095.6,1098.9C1096.4,1100.0 1097.2,1101.0 1098.1,1102.1C1098.9,1103.1 1099.7,1104.1 1100.5,1105.2C1101.4,1106.2 1102.2,1107.3 1103.0,1108.3C1103.8,1109.4 1104.7,1110.4 1105.5,1111.5C1106.3,1112.5 1107.1,1113.6 1108.0,1114.6C1108.8,1115.7 1109.6,1116.7 1110.5,1117.8C1111.3,1118.8 1112.1,1119.9 1112.9,1120.9C1113.8,1121.9 1114.6,1123.0 1115.4,1124.0C1116.3,1125.1 1117.1,1126.1 1117.9,1127.2C1118.8,1128.2 1119.6,1129.2 1120.4,1130.3C1121.2,1131.3 1122.1,1132.4 1122.9,1133.4C1123.7,1134.4 1124.6,1135.5 1125.4,1136.5C1126.3,1137.6 1127.1,1138.6 1127.9,1139.6C1128.8,1140.7 1129.6,1141.7 1130.4,1142.8C1131.3,1143.8 1132.1,1144.8 1132.9,1145.9C1133.8,1146.9 1134.6,1147.9 1135.5,1149.0C1136.3,1150.0 1137.1,1151.1 1138.0,1152.1C1138.8,1153.1 1139.7,1154.2 1140.5,1155.2C1141.4,1156.2 1142.2,1157.3 1143.0,1158.3C1143.9,1159.3 1144.7,1160.4 1145.6,1161.4C1146.4,1162.4 1147.3,1163.4 1148.1,1164.5C1149.0,1165.5 1149.8,1166.5 1150.7,1167.5C1151.5,1168.6 1152.4,1169.6 1153.2,1170.6C1154.1,1171.6 1155.0,1172.7 1155.8,1173.7C1156.7,1174.7 1157.5,1175.7 1158.4,1176.8C1159.2,1177.8 1160.1,1178.8 1161.0,1179.8C1161.8,1180.8 1162.7,1181.8 1163.6,1182.9C1164.4,1183.9 1165.3,1184.9 1166.2,1185.9C1167.0,1186.9 1167.9,1187.9 1168.8,1188.9C1169.7,1189.9 1170.5,1190.9 1171.4,1191.9C1172.3,1192.9 1173.2,1194.0 1174.0,1195.0C1174.9,1196.0 1175.8,1197.0 1176.7,1198.0C1177.6,1199.0 1178.5,1199.9 1179.3,1200.9C1180.2,1201.9 1181.1,1202.9 1182.0,1203.9C1182.9,1204.9 1183.8,1205.9 1184.7,1206.9C1185.6,1207.9 1186.5,1208.9 1187.4,1209.8C1188.3,1210.8 1189.2,1211.8 1190.1,1212.8C1191.0,1213.8 1191.9,1214.7 1192.8,1215.7C1193.8,1216.7 1194.7,1217.6 1195.6,1218.6C1196.5,1219.6 1197.4,1220.6 1198.3,1221.5C1199.3,1222.5 1200.2,1223.4 1201.1,1224.4C1202.0,1225.4 1203.0,1226.3 1203.9,1227.3C1204.8,1228.2 1205.8,1229.2 1206.7,1230.1C1207.7,1231.1 1208.6,1232.0 1209.5,1232.9C1210.5,1233.9 1211.4,1234.8 1212.4,1235.8C1213.3,1236.7 1214.3,1237.6 1215.2,1238.6C1216.2,1239.5 1217.2,1240.4 1218.1,1241.3C1219.1,1242.3 1220.1,1243.2 1221.0,1244.1C1222.0,1245.0 1223.0,1245.9 1223.9,1246.8C1224.9,1247.7 1225.9,1248.6 1226.9,1249.6C1227.9,1250.5 1228.8,1251.4 1229.8,1252.2C1230.8,1253.1 1231.8,1254.0 1232.8,1254.9C1233.8,1255.8 1234.8,1256.7 1235.8,1257.6C1236.8,1258.5 1237.8,1259.3 1238.8,1260.2C1239.8,1261.1 1240.8,1261.9 1241.8,1262.8C1242.9,1263.7 1243.9,1264.5 1244.9,1265.4C1245.9,1266.3 1247.0,1267.1 1248.0,1268.0C1249.0,1268.8 1250.0,1269.6 1251.1,1270.5C1252.1,1271.3 1253.2,1272.2 1254.2,1273.0C1255.2,1273.8 1256.3,1274.6 1257.3,1275.5C1258.4,1276.3 1259.4,1277.1 1260.5,1277.9C1261.6,1278.7 1262.6,1279.5 1263.7,1280.3C1264.8,1281.1 1265.8,1281.9 1266.9,1282.7C1268.0,1283.5 1269.1,1284.3 1270.1,1285.1C1271.2,1285.8 1272.3,1286.6 1273.4,1287.3C1274.5,1288.1 1275.6,1288.8 1276.8,1289.6C1277.9,1290.3 1279.0,1291.0 1280.1,1291.7C1281.3,1292.4 1282.4,1293.1 1283.6,1293.8C1284.7,1294.5 1285.9,1295.1 1287.0,1295.8C1288.2,1296.4 1289.4,1297.0 1290.6,1297.6C1291.8,1298.2 1293.0,1298.8 1294.2,1299.4C1295.4,1299.9 1296.6,1300.5 1297.8,1301.0C1299.0,1301.5 1300.3,1302.0 1301.5,1302.5C1302.8,1303.0 1304.0,1303.5 1305.3,1303.9C1306.5,1304.4 1307.8,1304.8 1309.1,1305.2C1310.3,1305.6 1311.6,1306.0 1312.9,1306.4C1314.1,1306.8 1315.4,1307.2 1316.7,1307.6C1318.0,1308.0 1319.3,1308.3 1320.5,1308.7C1321.8,1309.0 1323.1,1309.4 1324.4,1309.7C1325.7,1310.1 1327.0,1310.4 1328.3,1310.7C1329.6,1311.1 1330.9,1311.4 1332.2,1311.7C1333.4,1312.1 1334.7,1312.4 1336.0,1312.7C1337.3,1313.1 1338.6,1313.4 1339.9,1313.7C1341.2,1314.1 1342.5,1314.4 1343.8,1314.8C1345.1,1315.1 1346.3,1315.5 1347.6,1315.8C1348.9,1316.2 1350.2,1316.6 1351.5,1316.9C1352.8,1317.3 1354.0,1317.7 1355.3,1318.1C1356.6,1318.5 1357.9,1318.9 1359.1,1319.3C1360.4,1319.7 1361.7,1320.1 1362.9,1320.5C1364.2,1320.9 1365.5,1321.4 1366.7,1321.8C1368.0,1322.2 1369.2,1322.7 1370.5,1323.1C1371.7,1323.6 1373.0,1324.0 1374.2,1324.5C1375.5,1325.0 1376.7,1325.5 1378.0,1326.0C1379.2,1326.5 1380.4,1327.0 1381.7,1327.5C1382.9,1328.0 1384.1,1328.5 1385.4,1329.0C1386.6,1329.5 1387.8,1330.0 1389.1,1330.6C1390.3,1331.1 1391.5,1331.6 1392.7,1332.2C1393.9,1332.7 1395.2,1333.2 1396.4,1333.8C1397.6,1334.3 1398.8,1334.9 1400.0,1335.4C1401.3,1335.9 1402.5,1336.5 1403.7,1337.0C1404.9,1337.6 1406.1,1338.1 1407.4,1338.6C1408.6,1339.2 1409.8,1339.7 1411.0,1340.2C1412.3,1340.7 1413.5,1341.3 1414.7,1341.8C1416.0,1342.3 1417.2,1342.8 1418.4,1343.3C1419.7,1343.8 1420.9,1344.3 1422.2,1344.7C1423.4,1345.2 1424.6,1345.7 1425.9,1346.1C1427.2,1346.6 1428.4,1347.0 1429.7,1347.5C1430.9,1347.9 1432.2,1348.3 1433.5,1348.7C1434.7,1349.1 1436.0,1349.5 1437.3,1349.9C1438.6,1350.2 1439.9,1350.6 1441.2,1350.9C1442.5,1351.2 1443.8,1351.6 1445.1,1351.9C1446.3,1352.2 1447.7,1352.5 1449.0,1352.7C1450.3,1353.0 1451.6,1353.3 1452.9,1353.5C1454.2,1353.8 1455.5,1354.0 1456.8,1354.3C1458.1,1354.5 1459.4,1354.8 1460.7,1355.0C1462.1,1355.2 1463.4,1355.4 1464.7,1355.7C1466.0,1355.9 1467.3,1356.1 1468.6,1356.3C1469.9,1356.5 1471.3,1356.8 1472.6,1357.0C1473.9,1357.2 1475.2,1357.4 1476.5,1357.7C1477.8,1357.9 1479.1,1358.1 1480.5,1358.4C1481.8,1358.6 1483.1,1358.9 1484.4,1359.1C1485.7,1359.4 1487.0,1359.6 1488.3,1359.9C1489.6,1360.1 1490.9,1360.4 1492.2,1360.6C1493.6,1360.9 1494.9,1361.2 1496.2,1361.4C1497.5,1361.7 1498.8,1362.0 1500.1,1362.3C1501.4,1362.5 1502.7,1362.8 1504.0,1363.1C1505.3,1363.4 1506.6,1363.7 1507.9,1364.0C1509.2,1364.3 1510.5,1364.5 1511.8,1364.8C1513.1,1365.1 1514.4,1365.4 1515.7,1365.7C1517.0,1366.0 1518.3,1366.3 1519.6,1366.6C1520.9,1366.9 1522.2,1367.3 1523.5,1367.6C1524.8,1367.9 1526.1,1368.2 1527.4,1368.5C1528.7,1368.8 1530.0,1369.1 1531.3,1369.5C1532.6,1369.8 1533.9,1370.1 1535.2,1370.4C1536.4,1370.7 1537.7,1371.1 1539.0,1371.4C1540.3,1371.7 1541.6,1372.0 1542.9,1372.4C1544.2,1372.7 1545.5,1373.0 1546.8,1373.4C1548.1,1373.7 1549.4,1374.0 1550.7,1374.4C1552.0,1374.7 1553.2,1375.0 1554.5,1375.4C1555.8,1375.7 1557.1,1376.0 1558.4,1376.4C1559.7,1376.7 1561.0,1377.0 1562.3,1377.4C1563.6,1377.7 1564.9,1378.1 1566.1,1378.4C1567.4,1378.7 1568.7,1379.1 1570.0,1379.4C1571.3,1379.8 1572.6,1380.1 1573.9,1380.5C1575.2,1380.8 1576.5,1381.1 1577.7,1381.5C1579.0,1381.8 1580.3,1382.2 1581.6,1382.5C1582.9,1382.8 1584.2,1383.2 1585.5,1383.5C1586.8,1383.9 1588.1,1384.2 1589.3,1384.5C1590.6,1384.9 1591.9,1385.2 1593.2,1385.6C1594.5,1385.9 1595.8,1386.2 1597.1,1386.6C1598.4,1386.9 1599.7,1387.3 1601.0,1387.6C1602.2,1387.9 1603.5,1388.3 1604.8,1388.6C1606.1,1388.9 1607.4,1389.3 1608.7,1389.6C1610.0,1389.9 1611.3,1390.3 1612.6,1390.6C1613.9,1390.9 1615.2,1391.2 1616.5,1391.6C1617.8,1391.9 1619.0,1392.2 1620.3,1392.5C1621.6,1392.9 1622.9,1393.2 1624.2,1393.5C1625.5,1393.8 1626.8,1394.1 1628.1,1394.4C1629.4,1394.8 1630.7,1395.1 1632.0,1395.4C1633.3,1395.7 1634.6,1396.0 1635.9,1396.3C1637.2,1396.6 1638.5,1396.9 1639.8,1397.2C1641.1,1397.5 1642.4,1397.8 1643.7,1398.1C1645.0,1398.4 1646.3,1398.7 1647.6,1399.0C1648.9,1399.3 1650.2,1399.6 1651.5,1399.8C1652.8,1400.1 1654.1,1400.4 1655.4,1400.7C1656.7,1401.0 1658.0,1401.2 1659.3,1401.5C1660.6,1401.8 1661.9,1402.1 1663.2,1402.3C1664.5,1402.6 1665.9,1402.9 1667.2,1403.1C1668.5,1403.4 1669.8,1403.7 1671.1,1403.9C1672.4,1404.2 1673.7,1404.4 1675.0,1404.7C1676.3,1404.9 1677.6,1405.2 1678.9,1405.4C1680.3,1405.7 1681.6,1405.9 1682.9,1406.2C1684.2,1406.4 1685.5,1406.7 1686.8,1406.9C1688.1,1407.1 1689.4,1407.4 1690.7,1407.6C1692.1,1407.8 1693.4,1408.1 1694.7,1408.3C1696.0,1408.5 1697.3,1408.8 1698.6,1409.0C1699.9,1409.2 1701.3,1409.4 1702.6,1409.7C1703.9,1409.9 1705.2,1410.1 1706.5,1410.3C1707.8,1410.5 1709.1,1410.8 1710.5,1411.0C1711.8,1411.2 1713.1,1411.4 1714.4,1411.6C1715.7,1411.8 1717.0,1412.0 1718.4,1412.2C1719.7,1412.4 1721.0,1412.6 1722.3,1412.8C1723.6,1413.0 1725.0,1413.2 1726.3,1413.4C1727.6,1413.6 1728.9,1413.8 1730.2,1414.0C1731.6,1414.2 1732.9,1414.4 1734.2,1414.6C1735.5,1414.7 1736.8,1414.9 1738.2,1415.1C1739.5,1415.3 1740.8,1415.5 1742.1,1415.7C1743.4,1415.8 1744.8,1416.0 1746.1,1416.2C1747.4,1416.4 1748.7,1416.5 1750.1,1416.7C1751.4,1416.9 1752.7,1417.0 1754.0,1417.2C1755.3,1417.4 1756.7,1417.5 1758.0,1417.7C1759.3,1417.9 1760.6,1418.0 1762.0,1418.2C1763.3,1418.4 1764.6,1418.5 1765.9,1418.7C1767.3,1418.8 1768.6,1419.0 1769.9,1419.1C1771.2,1419.3 1772.6,1419.4 1773.9,1419.6C1775.2,1419.7 1776.5,1419.9 1777.9,1420.0C1779.2,1420.2 1780.5,1420.3 1781.8,1420.5C1783.2,1420.6 1784.5,1420.7 1785.8,1420.9C1787.1,1421.0 1788.5,1421.2 1789.8,1421.3C1791.1,1421.4 1792.5,1421.6 1793.8,1421.7C1795.1,1421.8 1796.4,1422.0 1797.8,1422.1C1799.1,1422.2 1800.4,1422.4 1801.7,1422.5C1803.1,1422.6 1804.4,1422.7 1805.7,1422.9C1807.1,1423.0 1808.4,1423.1 1809.7,1423.2C1811.0,1423.3 1812.4,1423.5 1813.7,1423.6C1815.0,1423.7 1816.3,1423.8 1817.7,1423.9C1819.0,1424.0 1820.3,1424.2 1821.7,1424.3C1823.0,1424.4 1824.3,1424.5 1825.7,1424.6C1827.0,1424.7 1828.3,1424.8 1829.6,1424.9C1831.0,1425.0 1832.3,1425.1 1833.6,1425.2C1835.0,1425.3 1836.3,1425.4 1837.6,1425.5C1838.9,1425.6 1840.3,1425.7 1841.6,1425.8C1842.9,1425.9 1844.3,1426.0 1845.6,1426.1C1846.9,1426.2 1848.3,1426.3 1849.6,1426.4C1850.9,1426.5 1852.2,1426.6 1853.6,1426.7C1854.9,1426.8 1856.2,1426.9 1857.6,1427.0C1858.9,1427.1 1860.2,1427.2 1861.6,1427.2C1862.9,1427.3 1864.2,1427.4 1865.6,1427.5C1866.9,1427.6 1868.2,1427.7 1869.5,1427.7C1870.9,1427.8 1872.2,1427.9 1873.5,1428.0C1874.9,1428.1 1876.2,1428.2 1877.5,1428.2C1878.9,1428.3 1880.2,1428.4 1881.5,1428.5C1882.9,1428.5 1884.2,1428.6 1885.5,1428.7C1886.9,1428.8 1888.2,1428.8 1889.5,1428.9C1890.8,1429.0 1892.2,1429.1 1893.5,1429.1C1894.8,1429.2 1896.2,1429.3 1897.5,1429.3C1898.8,1429.4 1900.2,1429.5 1901.5,1429.5C1902.8,1429.6 1904.2,1429.7 1905.5,1429.7C1906.8,1429.8 1908.2,1429.9 1909.5,1429.9C1910.8,1430.0 1912.2,1430.1 1913.5,1430.1C1914.8,1430.2 1916.2,1430.3 1917.5,1430.3C1918.8,1430.4 1920.1,1430.4 1921.5,1430.5C1922.8,1430.6 1924.1,1430.6 1925.5,1430.7C1926.8,1430.7 1928.1,1430.8 1929.5,1430.9C1930.8,1430.9 1932.1,1431.0 1933.5,1431.0C1934.8,1431.1 1936.1,1431.1 1937.5,1431.2C1938.8,1431.3 1940.1,1431.3 1941.5,1431.4C1942.8,1431.4 1944.1,1431.5 1945.5,1431.5C1946.8,1431.6 1948.1,1431.6 1949.5,1431.7C1950.8,1431.7 1952.1,1431.8 1953.5,1431.8C1954.8,1431.9 1956.1,1431.9 1957.5,1432.0C1958.8,1432.0 1960.1,1432.1 1961.5,1432.1C1962.8,1432.2 1964.1,1432.2 1965.5,1432.3C1966.8,1432.3 1968.1,1432.4 1969.5,1432.4C1970.8,1432.5 1972.1,1432.5 1973.4,1432.6C1974.8,1432.6 1976.1,1432.7 1977.4,1432.7C1978.8,1432.8 1980.1,1432.8 1981.4,1432.9C1982.8,1432.9 1984.1,1433.0 1985.4,1433.0C1986.8,1433.1 1988.1,1433.1 1989.4,1433.1C1990.8,1433.2 1992.1,1433.2 1993.4,1433.3C1994.8,1433.3 1996.1,1433.4 1997.4,1433.4C1998.8,1433.5 2000.1,1433.5 2001.4,1433.5C2002.8,1433.6 2004.1,1433.6 2005.4,1433.7C2006.8,1433.7 2008.1,1433.8 2009.4,1433.8C2010.8,1433.9 2012.1,1433.9 2013.4,1433.9C2014.8,1434.0 2016.1,1434.0 2017.4,1434.1C2018.8,1434.1 2020.1,1434.2 2021.4,1434.2C2022.8,1434.3 2024.1,1434.3 2025.4,1434.3C2026.8,1434.4 2028.1,1434.4 2029.4,1434.5C2030.8,1434.5 2032.1,1434.6 2033.4,1434.6" stroke="#179dbd"/>
<path d="M278.9,1435.8C280.2,1436.0 281.6,1436.1 282.9,1436.3C284.2,1436.4 285.5,1436.6 286.9,1436.7C288.2,1436.8 289.5,1436.9 290.8,1437.0C292.2,1437.1 293.5,1437.3 294.8,1437.3C296.2,1437.4 297.5,1437.5 298.8,1437.6C300.2,1437.7 301.5,1437.8 302.8,1437.8C304.1,1437.9 305.5,1438.0 306.8,1438.0C308.1,1438.1 309.5,1438.1 310.8,1438.2C312.1,1438.2 313.5,1438.2 314.8,1438.3C316.1,1438.3 317.5,1438.3 318.8,1438.3C320.1,1438.4 321.5,1438.4 322.8,1438.4C324.1,1438.4 325.5,1438.4 326.8,1438.4C328.1,1438.4 329.5,1438.4 330.8,1438.3C332.1,1438.3 333.5,1438.3 334.8,1438.3C336.1,1438.2 337.5,1438.2 338.8,1438.2C340.1,1438.1 341.5,1438.1 342.8,1438.0C344.1,1438.0 345.5,1437.9 346.8,1437.9C348.1,1437.8 349.5,1437.8 350.8,1437.7C352.1,1437.6 353.5,1437.6 354.8,1437.5C356.1,1437.4 357.5,1437.3 358.8,1437.3C360.1,1437.2 361.4,1437.1 362.8,1437.0C364.1,1436.9 365.4,1436.8 366.8,1436.7C368.1,1436.6 369.4,1436.5 370.8,1436.4C372.1,1436.3 373.4,1436.2 374.7,1436.1C376.1,1436.0 377.4,1435.9 378.7,1435.8C380.1,1435.6 381.4,1435.5 382.7,1435.4C384.0,1435.3 385.4,1435.2 386.7,1435.0C388.0,1434.9 389.4,1434.8 390.7,1434.6C392.0,1434.5 393.3,1434.4 394.7,1434.2C396.0,1434.1 397.3,1434.0 398.6,1433.8C400.0,1433.7 401.3,1433.6 402.6,1433.4C403.9,1433.3 405.3,1433.1 406.6,1433.0C407.9,1432.9 409.2,1432.7 410.6,1432.6C411.9,1432.4 413.2,1432.3 414.5,1432.1C415.9,1432.0 417.2,1431.8 418.5,1431.7C419.8,1431.5 421.2,1431.4 422.5,1431.2C423.8,1431.1 425.1,1430.9 426.5,1430.8C427.8,1430.6 429.1,1430.5 430.4,1430.3C431.8,1430.2 433.1,1430.0 434.4,1429.9C435.7,1429.7 437.1,1429.6 438.4,1429.4C439.7,1429.3 441.0,1429.1 442.4,1429.0C443.7,1428.8 445.0,1428.6 446.3,1428.5C447.7,1428.3 449.0,1428.1 450.3,1427.9C451.6,1427.7 452.9,1427.5 454.3,1427.3C455.6,1427.1 456.9,1426.9 458.2,1426.7C459.5,1426.5 460.8,1426.3 462.1,1426.0C463.5,1425.8 464.8,1425.5 466.1,1425.2C467.4,1425.0 468.7,1424.7 470.0,1424.4C471.3,1424.1 472.6,1423.8 473.9,1423.4C475.2,1423.1 476.4,1422.8 477.7,1422.4C479.0,1422.0 480.3,1421.7 481.6,1421.3C482.8,1420.9 484.1,1420.4 485.4,1420.0C486.6,1419.6 487.9,1419.1 489.1,1418.6C490.3,1418.1 491.6,1417.6 492.8,1417.1C494.0,1416.6 495.2,1416.0 496.5,1415.4C497.7,1414.9 498.9,1414.3 500.0,1413.7C501.2,1413.1 502.4,1412.4 503.6,1411.8C504.7,1411.2 505.9,1410.5 507.0,1409.8C508.2,1409.1 509.3,1408.4 510.5,1407.7C511.6,1407.0 512.7,1406.3 513.8,1405.5C514.9,1404.8 516.0,1404.0 517.1,1403.2C518.2,1402.5 519.2,1401.7 520.3,1400.9C521.4,1400.1 522.4,1399.2 523.5,1398.4C524.5,1397.6 525.5,1396.7 526.5,1395.9C527.6,1395.0 528.6,1394.1 529.6,1393.2C530.5,1392.3 531.5,1391.4 532.5,1390.5C533.5,1389.6 534.4,1388.7 535.4,1387.7C536.3,1386.8 537.3,1385.8 538.2,1384.9C539.1,1383.9 540.0,1383.0 540.9,1382.0C541.8,1381.0 542.7,1380.0 543.6,1379.0C544.5,1378.0 545.3,1377.0 546.2,1375.9C547.0,1374.9 547.9,1373.9 548.7,1372.8C549.5,1371.8 550.3,1370.7 551.1,1369.7C551.9,1368.6 552.7,1367.5 553.5,1366.4C554.3,1365.3 555.0,1364.2 555.8,1363.1C556.5,1362.0 557.3,1360.9 558.0,1359.8C558.7,1358.7 559.4,1357.6 560.1,1356.4C560.8,1355.3 561.5,1354.2 562.2,1353.0C562.9,1351.9 563.6,1350.7 564.2,1349.6C564.9,1348.4 565.5,1347.2 566.2,1346.1C566.8,1344.9 567.4,1343.7 568.0,1342.5C568.7,1341.3 569.3,1340.2 569.8,1339.0C570.4,1337.8 571.0,1336.6 571.6,1335.4C572.2,1334.2 572.7,1333.0 573.3,1331.7C573.8,1330.5 574.4,1329.3 574.9,1328.1C575.4,1326.9 576.0,1325.6 576.5,1324.4C577.0,1323.2 577.5,1321.9 578.0,1320.7C578.5,1319.5 579.0,1318.2 579.5,1317.0C579.9,1315.7 580.4,1314.5 580.9,1313.2C581.3,1312.0 581.8,1310.7 582.2,1309.5C582.7,1308.2 583.1,1307.0 583.6,1305.7C584.0,1304.4 584.4,1303.2 584.9,1301.9C585.3,1300.7 585.7,1299.4 586.1,1298.1C586.5,1296.8 586.9,1295.6 587.3,1294.3C587.7,1293.0 588.1,1291.8 588.5,1290.5C588.9,1289.2 589.2,1287.9 589.6,1286.6C590.0,1285.4 590.3,1284.1 590.7,1282.8C591.1,1281.5 591.4,1280.2 591.8,1278.9C592.1,1277.7 592.5,1276.4 592.8,1275.1C593.2,1273.8 593.5,1272.5 593.9,1271.2C594.2,1269.9 594.5,1268.6 594.9,1267.3C595.2,1266.1 595.5,1264.8 595.8,1263.5C596.2,1262.2 596.5,1260.9 596.8,1259.6C597.1,1258.3 597.4,1257.0 597.8,1255.7C598.1,1254.4 598.4,1253.1 598.7,1251.8C599.0,1250.5 599.3,1249.2 599.6,1247.9C599.9,1246.6 600.2,1245.3 600.5,1244.0C600.8,1242.7 601.1,1241.4 601.4,1240.1C601.7,1238.8 602.0,1237.5 602.3,1236.2C602.6,1234.9 602.9,1233.6 603.2,1232.3C603.5,1231.0 603.8,1229.7 604.1,1228.4C604.3,1227.1 604.6,1225.8 604.9,1224.5C605.2,1223.2 605.5,1221.9 605.8,1220.6C606.0,1219.3 606.3,1218.0 606.6,1216.7C606.9,1215.4 607.2,1214.1 607.4,1212.8C607.7,1211.5 608.0,1210.2 608.2,1208.9C608.5,1207.6 608.8,1206.2 609.1,1204.9C609.3,1203.6 609.6,1202.3 609.9,1201.0C610.1,1199.7 610.4,1198.4 610.6,1197.1C610.9,1195.8 611.2,1194.5 611.4,1193.2C611.7,1191.9 611.9,1190.6 612.2,1189.3C612.4,1187.9 612.7,1186.6 613.0,1185.3C613.2,1184.0 613.5,1182.7 613.7,1181.4C614.0,1180.1 614.2,1178.8 614.4,1177.5C614.7,1176.2 614.9,1174.8 615.2,1173.5C615.4,1172.2 615.7,1170.9 615.9,1169.6C616.1,1168.3 616.4,1167.0 616.6,1165.7C616.9,1164.4 617.1,1163.0 617.3,1161.7C617.6,1160.4 617.8,1159.1 618.0,1157.8C618.3,1156.5 618.5,1155.2 618.7,1153.8C619.0,1152.5 619.2,1151.2 619.4,1149.9C619.6,1148.6 619.9,1147.3 620.1,1146.0C620.3,1144.6 620.5,1143.3 620.8,1142.0C621.0,1140.7 621.2,1139.4 621.4,1138.1C621.6,1136.8 621.9,1135.4 622.1,1134.1C622.3,1132.8 622.5,1131.5 622.7,1130.2C622.9,1128.9 623.1,1127.5 623.4,1126.2C623.6,1124.9 623.8,1123.6 624.0,1122.3C624.2,1121.0 624.4,1119.6 624.6,1118.3C624.8,1117.0 625.0,1115.7 625.2,1114.4C625.4,1113.1 625.6,1111.7 625.8,1110.4C626.0,1109.1 626.2,1107.8 626.4,1106.5C626.7,1105.2 626.9,1103.8 627.0,1102.5C627.2,1101.2 627.4,1099.9 627.6,1098.6C627.8,1097.2 628.0,1095.9 628.2,1094.6C628.4,1093.3 628.6,1092.0 628.8,1090.6C629.0,1089.3 629.2,1088.0 629.4,1086.7C629.6,1085.4 629.8,1084.0 630.0,1082.7C630.1,1081.4 630.3,1080.1 630.5,1078.8C630.7,1077.4 630.9,1076.1 631.1,1074.8C631.3,1073.5 631.5,1072.2 631.6,1070.8C631.8,1069.5 632.0,1068.2 632.2,1066.9C632.4,1065.6 632.6,1064.2 632.7,1062.9C632.9,1061.6 633.1,1060.3 633.3,1059.0C633.5,1057.6 633.6,1056.3 633.8,1055.0C634.0,1053.7 634.2,1052.4 634.3,1051.0C634.5,1049.7 634.7,1048.4 634.9,1047.1C635.0,1045.7 635.2,1044.4 635.4,1043.1C635.6,1041.8 635.7,1040.5 635.9,1039.1C636.1,1037.8 636.3,1036.5 636.4,1035.2C636.6,1033.8 636.8,1032.5 636.9,1031.2C637.1,1029.9 637.3,1028.6 637.4,1027.2C637.6,1025.9 637.8,1024.6 637.9,1023.3C638.1,1021.9 638.3,1020.6 638.4,1019.3C638.6,1018.0 638.8,1016.6 638.9,1015.3C639.1,1014.0 639.3,1012.7 639.4,1011.4C639.6,1010.0 639.8,1008.7 639.9,1007.4C640.1,1006.1 640.3,1004.7 640.4,1003.4C640.6,1002.1 640.7,1000.8 640.9,999.4C641.1,998.1 641.2,996.8 641.4,995.5C641.6,994.1 641.7,992.8 641.9,991.5C642.0,990.2 642.2,988.9 642.4,987.5C642.5,986.2 642.7,984.9 642.8,983.6C643.0,982.2 643.2,980.9 643.3,979.6C643.5,978.3 643.6,976.9 643.8,975.6C644.0,974.3 644.1,973.0 644.3,971.6C644.4,970.3 644.6,969.0 644.7,967.7C644.9,966.3 645.1,965.0 645.2,963.7C645.4,962.4 645.5,961.1 645.7,959.7C645.8,958.4 646.0,957.1 646.2,955.8C646.3,954.4 646.5,953.1 646.6,951.8C646.8,950.5 646.9,949.1 647.1,947.8C647.3,946.5 647.4,945.2 647.6,943.8C647.7,942.5 647.9,941.2 648.0,939.9C648.2,938.5 648.3,937.2 648.5,935.9C648.7,934.6 648.8,933.2 649.0,931.9C649.1,930.6 649.3,929.3 649.4,927.9C649.6,926.6 649.7,925.3 649.9,924.0C650.1,922.6 650.2,921.3 650.4,920.0C650.5,918.7 650.7,917.4 650.8,916.0C651.0,914.7 651.1,913.4 651.3,912.1C651.5,910.7 651.6,909.4 651.8,908.1C651.9,906.8 652.1,905.4 652.2,904.1C652.4,902.8 652.5,901.5 652.7,900.1C652.8,898.8 653.0,897.5 653.2,896.2C653.3,894.8 653.5,893.5 653.6,892.2C653.8,890.9 653.9,889.5 654.1,888.2C654.2,886.9 654.4,885.6 654.5,884.2C654.7,882.9 654.8,881.6 655.0,880.3C655.2,878.9 655.3,877.6 655.5,876.3C655.6,875.0 655.8,873.6 655.9,872.3C656.1,871.0 656.2,869.7 656.4,868.3C656.5,867.0 656.7,865.7 656.8,864.4C657.0,863.0 657.1,861.7 657.3,860.4C657.4,859.1 657.6,857.8 657.8,856.4C657.9,855.1 658.1,853.8 658.2,852.5C658.4,851.1 658.5,849.8 658.7,848.5C658.8,847.2 659.0,845.8 659.1,844.5C659.3,843.2 659.4,841.9 659.6,840.5C659.7,839.2 659.9,837.9 660.0,836.6C660.2,835.2 660.3,833.9 660.5,832.6C660.6,831.3 660.8,829.9 660.9,828.6C661.1,827.3 661.2,826.0 661.4,824.6C661.5,823.3 661.7,822.0 661.8,820.7C662.0,819.3 662.1,818.0 662.3,816.7C662.4,815.4 662.6,814.0 662.7,812.7C662.9,811.4 663.0,810.1 663.2,808.7C663.3,807.4 663.5,806.1 663.6,804.8C663.8,803.4 663.9,802.1 664.1,800.8C664.2,799.5 664.4,798.1 664.5,796.8C664.7,795.5 664.8,794.2 665.0,792.8C665.1,791.5 665.3,790.2 665.4,788.9C665.6,787.5 665.7,786.2 665.9,784.9C666.0,783.6 666.2,782.2 666.3,780.9C666.5,779.6 666.6,778.3 666.8,776.9C666.9,775.6 667.1,774.3 667.2,773.0C667.4,771.6 667.5,770.3 667.7,769.0C667.8,767.7 668.0,766.3 668.1,765.0C668.2,763.7 668.4,762.4 668.5,761.0C668.7,759.7 668.8,758.4 669.0,757.1C669.1,755.7 669.3,754.4 669.4,753.1C669.6,751.8 669.7,750.4 669.9,749.1C670.0,747.8 670.2,746.5 670.3,745.1C670.4,743.8 670.6,742.5 670.7,741.2C670.9,739.8 671.0,738.5 671.2,737.2C671.3,735.8 671.5,734.5 671.6,733.2C671.8,731.9 671.9,730.5 672.0,729.2C672.2,727.9 672.3,726.6 672.5,725.2C672.6,723.9 672.8,722.6 672.9,721.3C673.1,719.9 673.2,718.6 673.4,717.3C673.5,716.0 673.6,714.6 673.8,713.3C673.9,712.0 674.1,710.7 674.2,709.3C674.4,708.0 674.5,706.7 674.6,705.4C674.8,704.0 674.9,702.7 675.1,701.4C675.2,700.1 675.4,698.7 675.5,697.4C675.7,696.1 675.8,694.8 675.9,693.4C676.1,692.1 676.2,690.8 676.4,689.5C676.5,688.1 676.7,686.8 676.8,685.5C676.9,684.1 677.1,682.8 677.2,681.5C677.4,680.2 677.5,678.8 677.6,677.5C677.8,676.2 677.9,674.9 678.1,673.5C678.2,672.2 678.4,670.9 678.5,669.6C678.6,668.2 678.8,666.9 678.9,665.6C679.1,664.3 679.2,662.9 679.3,661.6C679.5,660.3 679.6,659.0 679.8,657.6C679.9,656.3 680.0,655.0 680.2,653.7C680.3,652.3 680.5,651.0 680.6,649.7C680.7,648.3 680.9,647.0 681.0,645.7C681.2,644.4 681.3,643.0 681.4,641.7C681.6,640.4 681.7,639.1 681.9,637.7C682.0,636.4 682.1,635.1 682.3,633.8C682.4,632.4 682.5,631.1 682.7,629.8C682.8,628.5 683.0,627.1 683.1,625.8C683.2,624.5 683.4,623.2 683.5,621.8C683.7,620.5 683.8,619.2 683.9,617.8C684.1,616.5 684.2,615.2 684.3,613.9C684.5,612.5 684.6,611.2 684.8,609.9C684.9,608.6 685.0,607.2 685.2,605.9C685.3,604.6 685.4,603.3 685.6,601.9C685.7,600.6 685.9,599.3 686.0,598.0C686.1,596.6 686.3,595.3 686.4,594.0C686.5,592.6 686.7,591.3 686.8,590.0C687.0,588.7 687.1,587.3 687.2,586.0C687.4,584.7 687.5,583.4 687.6,582.0C687.8,580.7 687.9,579.4 688.0,578.1C688.2,576.7 688.3,575.4 688.5,574.1C688.6,572.8 688.7,571.4 688.9,570.1C689.0,568.8 689.1,567.4 689.3,566.1C689.4,564.8 689.6,563.5 689.7,562.1C689.8,560.8 690.0,559.5 690.1,558.2C690.2,556.8 690.4,555.5 690.5,554.2C690.7,552.9 690.8,551.5 690.9,550.2C691.1,548.9 691.2,547.6 691.3,546.2C691.5,544.9 691.6,543.6 691.8,542.2C691.9,540.9 692.0,539.6 692.2,538.3C692.3,536.9 692.5,535.6 692.6,534.3C692.7,533.0 692.9,531.6 693.0,530.3C693.1,529.0 693.3,527.7 693.4,526.3C693.6,525.0 693.7,523.7 693.8,522.4C694.0,521.0 694.1,519.7 694.3,518.4C694.4,517.1 694.5,515.7 694.7,514.4C694.8,513.1 695.0,511.7 695.1,510.4C695.2,509.1 695.4,507.8 695.5,506.4C695.7,505.1 695.8,503.8 695.9,502.5C696.1,501.1 696.2,499.8 696.4,498.5C696.5,497.2 696.6,495.8 696.8,494.5C696.9,493.2 697.1,491.9 697.2,490.5C697.4,489.2 697.5,487.9 697.6,486.6C697.8,485.2 697.9,483.9 698.1,482.6C698.2,481.3 698.4,479.9 698.5,478.6C698.6,477.3 698.8,476.0 698.9,474.6C699.1,473.3 699.2,472.0 699.4,470.6C699.5,469.3 699.6,468.0 699.8,466.7C699.9,465.3 700.1,464.0 700.2,462.7C700.4,461.4 700.5,460.0 700.7,458.7C700.8,457.4 701.0,456.1 701.1,454.7C701.2,453.4 701.4,452.1 701.5,450.8C701.7,449.4 701.8,448.1 702.0,446.8C702.1,445.5 702.3,444.1 702.4,442.8C702.6,441.5 702.7,440.2 702.9,438.8C703.0,437.5 703.2,436.2 703.3,434.9C703.5,433.5 703.6,432.2 703.8,430.9C703.9,429.6 704.1,428.2 704.2,426.9C704.4,425.6 704.5,424.3 704.7,422.9C704.8,421.6 705.0,420.3 705.1,419.0C705.3,417.6 705.4,416.3 705.6,415.0C705.7,413.7 705.9,412.3 706.0,411.0C706.2,409.7 706.4,408.4 706.5,407.0C706.7,405.7 706.8,404.4 707.0,403.1C707.1,401.7 707.3,400.4 707.4,399.1C707.6,397.8 707.7,396.5 707.9,395.1C708.1,393.8 708.2,392.5 708.4,391.2C708.5,389.8 708.7,388.5 708.9,387.2C709.0,385.9 709.2,384.5 709.3,383.2C709.5,381.9 709.6,380.6 709.8,379.2C710.0,377.9 710.1,376.6 710.3,375.3C710.4,373.9 710.6,372.6 710.8,371.3C710.9,370.0 711.1,368.7 711.3,367.3C711.4,366.0 711.6,364.7 711.8,363.4C711.9,362.0 712.1,360.7 712.2,359.4C712.4,358.1 712.6,356.7 712.7,355.4C712.9,354.1 713.1,352.8 713.2,351.5C713.4,350.1 713.6,348.8 713.7,347.5C713.9,346.2 714.1,344.8 714.2,343.5C714.4,342.2 714.6,340.9 714.8,339.5C714.9,338.2 715.1,336.9 715.3,335.6C715.4,334.3 715.6,332.9 715.8,331.6C716.0,330.3 716.1,329.0 716.3,327.6C716.5,326.3 716.7,325.0 716.8,323.7C717.0,322.4 717.2,321.0 717.4,319.7C717.6,318.4 717.7,317.1 717.9,315.8C718.1,314.4 718.3,313.1 718.5,311.8C718.6,310.5 718.8,309.1 719.0,307.8C719.2,306.5 719.4,305.2 719.6,303.9C719.8,302.5 720.0,301.2 720.1,299.9C720.3,298.6 720.5,297.3 720.7,296.0C720.9,294.6 721.1,293.3 721.3,292.0C721.5,290.7 721.7,289.4 721.9,288.0C722.1,286.7 722.3,285.4 722.5,284.1C722.7,282.8 722.9,281.5 723.1,280.1C723.3,278.8 723.5,277.5 723.8,276.2C724.0,274.9 724.2,273.5 724.4,272.2C724.6,270.9 724.8,269.6 725.0,268.3C725.3,267.0 725.5,265.7 725.7,264.3C725.9,263.0 726.2,261.7 726.4,260.4C726.6,259.1 726.8,257.8 727.1,256.5C727.3,255.1 727.5,253.8 727.8,252.5C728.0,251.2 728.2,249.9 728.5,248.6C728.7,247.3 729.0,246.0 729.2,244.6C729.5,243.3 729.7,242.0 730.0,240.7C730.2,239.4 730.5,238.1 730.7,236.8C731.0,235.5 731.2,234.2 731.5,232.9C731.7,231.6 732.0,230.3 732.3,228.9C732.5,227.6 732.8,226.3 733.1,225.0C733.3,223.7 733.6,222.4 733.9,221.1C734.2,219.8 734.4,218.5 734.7,217.2C735.0,215.9 735.3,214.6 735.6,213.3C735.9,212.0 736.2,210.7 736.5,209.4C736.8,208.1 737.0,206.8 737.3,205.5C737.6,204.2 737.9,202.9 738.3,201.6C738.6,200.3 738.9,199.0 739.2,197.7C739.5,196.4 739.8,195.1 740.2,193.8C740.6,192.5 740.9,191.3 741.4,190.0C741.8,188.7 742.2,187.5 742.7,186.2C743.2,185.0 743.7,183.8 744.3,182.6C744.9,181.4 745.5,180.2 746.2,179.0C746.9,177.9 747.6,176.7 748.4,175.7C749.3,174.7 750.1,173.5 751.3,173.0C752.3,172.5 754.0,172.4 755.0,172.8C756.2,173.2 757.1,174.5 757.9,175.5C758.8,176.5 759.4,177.7 760.1,178.8C760.8,180.0 761.4,181.2 762.0,182.3C762.6,183.5 763.2,184.7 763.8,185.9C764.3,187.2 764.9,188.4 765.4,189.6C765.9,190.8 766.4,192.1 766.8,193.3C767.3,194.6 767.8,195.8 768.2,197.1C768.6,198.4 769.0,199.6 769.5,200.9C769.9,202.2 770.3,203.4 770.7,204.7C771.1,206.0 771.4,207.3 771.8,208.5C772.2,209.8 772.6,211.1 772.9,212.4C773.3,213.7 773.6,215.0 774.0,216.2C774.3,217.5 774.6,218.8 775.0,220.1C775.3,221.4 775.6,222.7 776.0,224.0C776.3,225.3 776.6,226.6 776.9,227.9C777.2,229.2 777.5,230.5 777.8,231.8C778.1,233.1 778.4,234.4 778.7,235.7C779.0,237.0 779.3,238.3 779.6,239.6C779.9,240.9 780.1,242.2 780.4,243.5C780.7,244.8 781.0,246.1 781.3,247.4C781.5,248.7 781.8,250.0 782.1,251.3C782.4,252.6 782.6,253.9 782.9,255.2C783.2,256.5 783.5,257.8 783.7,259.1C784.0,260.4 784.3,261.8 784.5,263.1C784.8,264.4 785.1,265.7 785.3,267.0C785.6,268.3 785.9,269.6 786.1,270.9C786.4,272.2 786.6,273.5 786.9,274.8C787.1,276.1 787.4,277.4 787.7,278.8C787.9,280.1 788.2,281.4 788.4,282.7C788.7,284.0 788.9,285.3 789.1,286.6C789.4,287.9 789.6,289.2 789.9,290.5C790.1,291.9 790.3,293.2 790.6,294.5C790.8,295.8 791.0,297.1 791.3,298.4C791.5,299.7 791.7,301.0 792.0,302.4C792.2,303.7 792.4,305.0 792.6,306.3C792.8,307.6 793.1,308.9 793.3,310.3C793.5,311.6 793.7,312.9 793.9,314.2C794.1,315.5 794.3,316.8 794.5,318.2C794.7,319.5 794.9,320.8 795.1,322.1C795.3,323.4 795.5,324.7 795.7,326.1C795.9,327.4 796.1,328.7 796.3,330.0C796.5,331.3 796.7,332.7 796.9,334.0C797.1,335.3 797.3,336.6 797.5,337.9C797.6,339.3 797.8,340.6 798.0,341.9C798.2,343.2 798.4,344.5 798.5,345.9C798.7,347.2 798.9,348.5 799.1,349.8C799.3,351.2 799.4,352.5 799.6,353.8C799.8,355.1 799.9,356.4 800.1,357.8C800.3,359.1 800.5,360.4 800.6,361.7C800.8,363.1 801.0,364.4 801.1,365.7C801.3,367.0 801.5,368.3 801.6,369.7C801.8,371.0 801.9,372.3 802.1,373.6C802.3,375.0 802.4,376.3 802.6,377.6C802.7,378.9 802.9,380.3 803.1,381.6C803.2,382.9 803.4,384.2 803.5,385.6C803.7,386.9 803.9,388.2 804.0,389.5C804.2,390.9 804.3,392.2 804.5,393.5C804.6,394.8 804.8,396.1 804.9,397.5C805.1,398.8 805.3,400.1 805.4,401.4C805.6,402.8 805.7,404.1 805.9,405.4C806.0,406.7 806.2,408.1 806.3,409.4C806.5,410.7 806.6,412.0 806.8,413.4C806.9,414.7 807.1,416.0 807.3,417.3C807.4,418.7 807.6,420.0 807.7,421.3C807.9,422.6 808.0,424.0 808.2,425.3C808.3,426.6 808.5,427.9 808.6,429.3C808.8,430.6 809.0,431.9 809.1,433.2C809.3,434.6 809.4,435.9 809.6,437.2C809.7,438.5 809.9,439.9 810.1,441.2C810.2,442.5 810.4,443.8 810.5,445.1C810.7,446.5 810.9,447.8 811.0,449.1C811.2,450.4 811.4,451.8 811.5,453.1C811.7,454.4 811.9,455.7 812.0,457.1C812.2,458.4 812.4,459.7 812.5,461.0C812.7,462.3 812.9,463.7 813.0,465.0C813.2,466.3 813.4,467.6 813.6,469.0C813.7,470.3 813.9,471.6 814.1,472.9C814.2,474.2 814.4,475.6 814.6,476.9C814.8,478.2 815.0,479.5 815.1,480.9C815.3,482.2 815.5,483.5 815.7,484.8C815.8,486.1 816.0,487.5 816.2,488.8C816.4,490.1 816.6,491.4 816.7,492.7C816.9,494.1 817.1,495.4 817.3,496.7C817.5,498.0 817.7,499.3 817.9,500.7C818.0,502.0 818.2,503.3 818.4,504.6C818.6,506.0 818.8,507.3 819.0,508.6C819.2,509.9 819.3,511.2 819.5,512.6C819.7,513.9 819.9,515.2 820.1,516.5C820.3,517.8 820.5,519.1 820.7,520.5C820.9,521.8 821.1,523.1 821.3,524.4C821.4,525.7 821.6,527.1 821.8,528.4C822.0,529.7 822.2,531.0 822.4,532.3C822.6,533.7 822.8,535.0 823.0,536.3C823.2,537.6 823.4,538.9 823.6,540.3C823.8,541.6 824.0,542.9 824.2,544.2C824.4,545.5 824.6,546.8 824.8,548.2C825.0,549.5 825.2,550.8 825.4,552.1C825.6,553.4 825.8,554.8 826.0,556.1C826.2,557.4 826.4,558.7 826.6,560.0C826.8,561.3 827.0,562.7 827.2,564.0C827.4,565.3 827.6,566.6 827.8,567.9C828.0,569.3 828.2,570.6 828.4,571.9C828.6,573.2 828.8,574.5 829.0,575.8C829.2,577.2 829.4,578.5 829.6,579.8C829.8,581.1 830.1,582.4 830.3,583.8C830.5,585.1 830.7,586.4 830.9,587.7C831.1,589.0 831.3,590.3 831.5,591.7C831.7,593.0 831.9,594.3 832.1,595.6C832.3,596.9 832.5,598.2 832.7,599.6C832.9,600.9 833.2,602.2 833.4,603.5C833.6,604.8 833.8,606.1 834.0,607.5C834.2,608.8 834.4,610.1 834.6,611.4C834.8,612.7 835.0,614.0 835.2,615.4C835.4,616.7 835.6,618.0 835.9,619.3C836.1,620.6 836.3,621.9 836.5,623.3C836.7,624.6 836.9,625.9 837.1,627.2C837.3,628.5 837.5,629.9 837.7,631.2C837.9,632.5 838.2,633.8 838.4,635.1C838.6,636.4 838.8,637.8 839.0,639.1C839.2,640.4 839.4,641.7 839.6,643.0C839.8,644.3 840.0,645.7 840.2,647.0C840.4,648.3 840.7,649.6 840.9,650.9C841.1,652.2 841.3,653.6 841.5,654.9C841.7,656.2 841.9,657.5 842.1,658.8C842.3,660.1 842.5,661.5 842.7,662.8C842.9,664.1 843.1,665.4 843.4,666.7C843.6,668.0 843.8,669.4 844.0,670.7C844.2,672.0 844.4,673.3 844.6,674.6C844.8,675.9 845.0,677.3 845.2,678.6C845.4,679.9 845.6,681.2 845.8,682.5C846.0,683.9 846.2,685.2 846.4,686.5C846.6,687.8 846.8,689.1 847.0,690.4C847.3,691.8 847.5,693.1 847.7,694.4C847.9,695.7 848.1,697.0 848.3,698.3C848.5,699.7 848.7,701.0 848.9,702.3C849.1,703.6 849.3,704.9 849.5,706.3C849.7,707.6 849.9,708.9 850.1,710.2C850.3,711.5 850.5,712.8 850.7,714.2C850.9,715.5 851.1,716.8 851.3,718.1C851.5,719.4 851.7,720.8 851.9,722.1C852.1,723.4 852.3,724.7 852.5,726.0C852.7,727.4 852.8,728.7 853.0,730.0C853.2,731.3 853.4,732.6 853.6,733.9C853.8,735.3 854.0,736.6 854.2,737.9C854.4,739.2 854.6,740.5 854.8,741.9C855.0,743.2 855.2,744.5 855.4,745.8C855.5,747.1 855.7,748.5 855.9,749.8C856.1,751.1 856.3,752.4 856.5,753.7C856.7,755.1 856.9,756.4 857.1,757.7C857.3,759.0 857.4,760.3 857.6,761.7C857.8,763.0 858.0,764.3 858.2,765.6C858.4,766.9 858.6,768.3 858.8,769.6C859.0,770.9 859.2,772.2 859.4,773.5C859.6,774.8 859.8,776.2 860.0,777.5C860.2,778.8 860.5,780.1 860.7,781.4C860.9,782.7 861.1,784.1 861.3,785.4C861.6,786.7 861.8,788.0 862.1,789.3C862.3,790.6 862.5,791.9 862.8,793.2C863.0,794.6 863.3,795.9 863.6,797.2C863.8,798.5 864.1,799.8 864.4,801.1C864.7,802.4 865.0,803.7 865.3,805.0C865.6,806.3 865.9,807.6 866.2,808.9C866.5,810.2 866.8,811.5 867.2,812.8C867.5,814.0 867.9,815.3 868.2,816.6C868.6,817.9 868.9,819.2 869.3,820.5C869.7,821.7 870.1,823.0 870.5,824.3C870.9,825.6 871.3,826.8 871.7,828.1C872.2,829.3 872.6,830.6 873.1,831.9C873.5,833.1 874.0,834.4 874.5,835.6C875.0,836.8 875.5,838.1 876.0,839.3C876.5,840.5 877.0,841.8 877.5,843.0C878.1,844.2 878.6,845.4 879.2,846.6C879.8,847.8 880.4,849.0 881.0,850.2C881.6,851.4 882.2,852.6 882.8,853.8C883.5,854.9 884.1,856.1 884.8,857.3C885.4,858.4 886.1,859.6 886.8,860.7C887.5,861.8 888.2,863.0 889.0,864.1C889.7,865.2 890.4,866.3 891.2,867.4C892.0,868.5 892.8,869.6 893.6,870.6C894.4,871.7 895.2,872.7 896.0,873.8C896.9,874.8 897.7,875.8 898.6,876.8C899.5,877.8 900.4,878.8 901.4,879.7C902.3,880.7 903.3,881.6 904.3,882.5C905.3,883.3 906.3,884.2 907.4,885.0C908.5,885.8 909.6,886.5 910.7,887.2C911.8,887.9 913.0,888.5 914.2,889.1C915.5,889.6 916.7,890.1 918.0,890.5C919.3,890.8 920.6,891.1 921.9,891.3C923.2,891.5 924.5,891.6 925.9,891.6C927.2,891.6 928.5,891.4 929.9,891.2C931.2,891.0 932.5,890.7 933.8,890.3C935.0,890.0 936.3,889.5 937.6,889.1C938.8,888.6 940.0,888.1 941.3,887.6C942.5,887.2 943.8,886.6 945.0,886.2C946.2,885.7 947.5,885.2 948.7,884.7C950.0,884.2 951.2,883.8 952.5,883.4C953.8,883.0 955.1,882.6 956.4,882.3C957.7,882.1 959.0,881.8 960.3,881.7C961.6,881.6 963.0,881.5 964.3,881.5C965.6,881.6 967.0,881.7 968.3,881.8C969.6,882.0 970.9,882.2 972.3,882.4C973.6,882.6 974.9,882.9 976.2,883.3C977.4,883.6 978.7,884.0 980.0,884.4C981.3,884.8 982.5,885.3 983.8,885.7C985.0,886.2 986.2,886.8 987.4,887.3C988.6,887.9 989.8,888.5 991.0,889.1C992.2,889.8 993.3,890.4 994.5,891.1C995.6,891.8 996.7,892.5 997.9,893.2C999.0,894.0 1000.1,894.8 1001.1,895.5C1002.2,896.3 1003.3,897.1 1004.3,898.0C1005.4,898.8 1006.4,899.6 1007.4,900.5C1008.4,901.4 1009.4,902.3 1010.4,903.2C1011.4,904.1 1012.4,905.0 1013.3,905.9C1014.3,906.8 1015.2,907.7 1016.2,908.7C1017.1,909.6 1018.0,910.6 1019.0,911.6C1019.9,912.5 1020.8,913.5 1021.7,914.5C1022.6,915.5 1023.5,916.5 1024.3,917.5C1025.2,918.5 1026.1,919.5 1027.0,920.5C1027.8,921.5 1028.7,922.5 1029.5,923.6C1030.4,924.6 1031.2,925.6 1032.0,926.7C1032.9,927.7 1033.7,928.8 1034.5,929.8C1035.3,930.9 1036.1,932.0 1036.9,933.0C1037.7,934.1 1038.5,935.2 1039.3,936.2C1040.1,937.3 1040.9,938.4 1041.6,939.5C1042.4,940.6 1043.2,941.7 1043.9,942.8C1044.7,943.9 1045.4,945.0 1046.2,946.1C1046.9,947.2 1047.6,948.3 1048.4,949.4C1049.1,950.5 1049.8,951.7 1050.5,952.8C1051.3,953.9 1052.0,955.0 1052.7,956.2C1053.4,957.3 1054.1,958.4 1054.8,959.6C1055.5,960.7 1056.2,961.8 1056.9,963.0C1057.6,964.1 1058.2,965.3 1058.9,966.4C1059.6,967.6 1060.3,968.7 1060.9,969.9C1061.6,971.0 1062.3,972.2 1062.9,973.3C1063.6,974.5 1064.2,975.7 1064.9,976.8C1065.6,978.0 1066.2,979.1 1066.9,980.3C1067.5,981.5 1068.1,982.6 1068.8,983.8C1069.4,985.0 1070.1,986.1 1070.7,987.3C1071.3,988.5 1072.0,989.7 1072.6,990.8C1073.2,992.0 1073.9,993.2 1074.5,994.4C1075.1,995.5 1075.8,996.7 1076.4,997.9C1077.0,999.1 1077.7,1000.2 1078.3,1001.4C1078.9,1002.6 1079.5,1003.8 1080.2,1004.9C1080.8,1006.1 1081.4,1007.3 1082.0,1008.5C1082.7,1009.7 1083.3,1010.8 1083.9,1012.0C1084.5,1013.2 1085.2,1014.4 1085.8,1015.5C1086.4,1016.7 1087.0,1017.9 1087.7,1019.1C1088.3,1020.3 1088.9,1021.4 1089.5,1022.6C1090.2,1023.8 1090.8,1025.0 1091.4,1026.1C1092.1,1027.3 1092.7,1028.5 1093.4,1029.6C1094.0,1030.8 1094.6,1032.0 1095.3,1033.2C1095.9,1034.3 1096.6,1035.5 1097.2,1036.7C1097.9,1037.8 1098.5,1039.0 1099.2,1040.1C1099.8,1041.3 1100.5,1042.5 1101.1,1043.6C1101.8,1044.8 1102.5,1045.9 1103.1,1047.1C1103.8,1048.2 1104.5,1049.4 1105.2,1050.5C1105.8,1051.7 1106.5,1052.8 1107.2,1054.0C1107.9,1055.1 1108.6,1056.3 1109.3,1057.4C1110.0,1058.5 1110.7,1059.7 1111.4,1060.8C1112.1,1061.9 1112.8,1063.1 1113.5,1064.2C1114.2,1065.3 1114.9,1066.4 1115.6,1067.6C1116.4,1068.7 1117.1,1069.8 1117.8,1070.9C1118.5,1072.0 1119.3,1073.2 1120.0,1074.3C1120.7,1075.4 1121.5,1076.5 1122.2,1077.6C1123.0,1078.7 1123.7,1079.8 1124.5,1080.9C1125.2,1082.0 1126.0,1083.1 1126.7,1084.2C1127.5,1085.3 1128.2,1086.4 1129.0,1087.5C1129.7,1088.6 1130.5,1089.7 1131.3,1090.8C1132.0,1091.9 1132.8,1093.0 1133.6,1094.1C1134.4,1095.1 1135.1,1096.2 1135.9,1097.3C1136.7,1098.4 1137.5,1099.5 1138.3,1100.5C1139.1,1101.6 1139.8,1102.7 1140.6,1103.8C1141.4,1104.9 1142.2,1105.9 1143.0,1107.0C1143.8,1108.1 1144.6,1109.1 1145.4,1110.2C1146.2,1111.3 1147.0,1112.3 1147.8,1113.4C1148.6,1114.5 1149.4,1115.5 1150.2,1116.6C1151.0,1117.6 1151.8,1118.7 1152.7,1119.8C1153.5,1120.8 1154.3,1121.9 1155.1,1122.9C1155.9,1124.0 1156.7,1125.0 1157.5,1126.1C1158.4,1127.1 1159.2,1128.2 1160.0,1129.2C1160.8,1130.3 1161.7,1131.3 1162.5,1132.4C1163.3,1133.4 1164.1,1134.5 1165.0,1135.5C1165.8,1136.6 1166.6,1137.6 1167.5,1138.7C1168.3,1139.7 1169.1,1140.7 1170.0,1141.8C1170.8,1142.8 1171.6,1143.9 1172.5,1144.9C1173.3,1145.9 1174.1,1147.0 1175.0,1148.0C1175.8,1149.0 1176.7,1150.1 1177.5,1151.1C1178.3,1152.1 1179.2,1153.2 1180.0,1154.2C1180.9,1155.3 1181.7,1156.3 1182.5,1157.3C1183.4,1158.3 1184.2,1159.4 1185.1,1160.4C1185.9,1161.4 1186.8,1162.5 1187.6,1163.5C1188.5,1164.5 1189.3,1165.6 1190.2,1166.6C1191.0,1167.6 1191.8,1168.7 1192.7,1169.7C1193.5,1170.7 1194.4,1171.7 1195.2,1172.8C1196.1,1173.8 1196.9,1174.8 1197.8,1175.9C1198.6,1176.9 1199.5,1177.9 1200.3,1179.0C1201.2,1180.0 1202.0,1181.0 1202.9,1182.0C1203.7,1183.1 1204.6,1184.1 1205.4,1185.1C1206.3,1186.2 1207.1,1187.2 1207.9,1188.2C1208.8,1189.2 1209.6,1190.3 1210.5,1191.3C1211.3,1192.3 1212.2,1193.4 1213.0,1194.4C1213.9,1195.4 1214.7,1196.5 1215.6,1197.5C1216.4,1198.5 1217.2,1199.6 1218.1,1200.6C1218.9,1201.6 1219.8,1202.7 1220.6,1203.7C1221.5,1204.7 1222.3,1205.8 1223.1,1206.8C1224.0,1207.8 1224.8,1208.9 1225.7,1209.9C1226.5,1210.9 1227.4,1212.0 1228.2,1213.0C1229.1,1214.0 1229.9,1215.1 1230.8,1216.1C1231.6,1217.1 1232.5,1218.1 1233.3,1219.1C1234.2,1220.2 1235.0,1221.2 1235.9,1222.2C1236.8,1223.2 1237.6,1224.2 1238.5,1225.2C1239.4,1226.3 1240.2,1227.3 1241.1,1228.3C1242.0,1229.3 1242.9,1230.3 1243.8,1231.2C1244.7,1232.2 1245.6,1233.2 1246.5,1234.2C1247.4,1235.2 1248.3,1236.2 1249.2,1237.1C1250.1,1238.1 1251.0,1239.1 1252.0,1240.0C1252.9,1241.0 1253.8,1241.9 1254.8,1242.9C1255.7,1243.8 1256.7,1244.7 1257.7,1245.6C1258.6,1246.6 1259.6,1247.5 1260.6,1248.4C1261.6,1249.3 1262.5,1250.2 1263.5,1251.1C1264.5,1252.0 1265.5,1252.8 1266.6,1253.7C1267.6,1254.5 1268.6,1255.4 1269.6,1256.2C1270.7,1257.1 1271.7,1257.9 1272.8,1258.7C1273.8,1259.5 1274.9,1260.3 1276.0,1261.1C1277.1,1261.9 1278.2,1262.7 1279.3,1263.4C1280.4,1264.2 1281.5,1264.9 1282.6,1265.6C1283.7,1266.3 1284.8,1267.0 1286.0,1267.7C1287.1,1268.4 1288.3,1269.1 1289.4,1269.8C1290.6,1270.4 1291.8,1271.0 1293.0,1271.7C1294.1,1272.3 1295.3,1272.9 1296.5,1273.5C1297.7,1274.1 1298.9,1274.7 1300.1,1275.3C1301.3,1275.8 1302.5,1276.4 1303.7,1277.0C1304.9,1277.5 1306.2,1278.0 1307.4,1278.6C1308.6,1279.1 1309.8,1279.6 1311.1,1280.2C1312.3,1280.7 1313.5,1281.2 1314.7,1281.7C1316.0,1282.2 1317.2,1282.7 1318.5,1283.2C1319.7,1283.7 1320.9,1284.2 1322.2,1284.7C1323.4,1285.2 1324.7,1285.7 1325.9,1286.1C1327.1,1286.6 1328.4,1287.1 1329.6,1287.6C1330.9,1288.1 1332.1,1288.6 1333.4,1289.0C1334.6,1289.5 1335.8,1290.0 1337.1,1290.5C1338.3,1291.0 1339.6,1291.5 1340.8,1292.0C1342.0,1292.5 1343.3,1293.0 1344.5,1293.5C1345.7,1294.0 1347.0,1294.5 1348.2,1295.0C1349.4,1295.5 1350.7,1296.0 1351.9,1296.5C1353.1,1297.1 1354.3,1297.6 1355.6,1298.1C1356.8,1298.6 1358.0,1299.2 1359.2,1299.7C1360.5,1300.2 1361.7,1300.8 1362.9,1301.3C1364.1,1301.8 1365.4,1302.3 1366.6,1302.9C1367.8,1303.4 1369.0,1303.9 1370.3,1304.4C1371.5,1305.0 1372.7,1305.5 1374.0,1306.0C1375.2,1306.5 1376.4,1307.0 1377.7,1307.5C1378.9,1308.0 1380.1,1308.5 1381.4,1309.0C1382.6,1309.5 1383.9,1310.0 1385.1,1310.5C1386.3,1310.9 1387.6,1311.4 1388.8,1311.9C1390.1,1312.3 1391.3,1312.8 1392.6,1313.3C1393.8,1313.7 1395.1,1314.2 1396.4,1314.6C1397.6,1315.0 1398.9,1315.5 1400.1,1315.9C1401.4,1316.4 1402.7,1316.8 1403.9,1317.2C1405.2,1317.7 1406.4,1318.1 1407.7,1318.5C1409.0,1318.9 1410.2,1319.3 1411.5,1319.8C1412.8,1320.2 1414.0,1320.6 1415.3,1321.0C1416.6,1321.4 1417.9,1321.8 1419.1,1322.2C1420.4,1322.6 1421.7,1323.0 1422.9,1323.4C1424.2,1323.8 1425.5,1324.2 1426.8,1324.6C1428.0,1325.0 1429.3,1325.4 1430.6,1325.8C1431.9,1326.2 1433.1,1326.5 1434.4,1326.9C1435.7,1327.3 1437.0,1327.7 1438.2,1328.1C1439.5,1328.5 1440.8,1328.9 1442.1,1329.2C1443.3,1329.6 1444.6,1330.0 1445.9,1330.4C1447.2,1330.8 1448.4,1331.2 1449.7,1331.6C1451.0,1331.9 1452.3,1332.3 1453.6,1332.7C1454.8,1333.1 1456.1,1333.5 1457.4,1333.9C1458.7,1334.3 1459.9,1334.6 1461.2,1335.0C1462.5,1335.4 1463.8,1335.8 1465.0,1336.2C1466.3,1336.6 1467.6,1337.0 1468.9,1337.4C1470.1,1337.8 1471.4,1338.2 1472.7,1338.6C1473.9,1339.0 1475.2,1339.4 1476.5,1339.8C1477.8,1340.2 1479.0,1340.6 1480.3,1341.0C1481.6,1341.4 1482.8,1341.9 1484.1,1342.3C1485.4,1342.7 1486.6,1343.1 1487.9,1343.5C1489.2,1344.0 1490.4,1344.4 1491.7,1344.8C1492.9,1345.2 1494.2,1345.7 1495.5,1346.1C1496.7,1346.5 1498.0,1346.9 1499.3,1347.4C1500.5,1347.8 1501.8,1348.2 1503.0,1348.7C1504.3,1349.1 1505.6,1349.5 1506.8,1350.0C1508.1,1350.4 1509.3,1350.8 1510.6,1351.3C1511.9,1351.7 1513.1,1352.2 1514.4,1352.6C1515.6,1353.0 1516.9,1353.5 1518.2,1353.9C1519.4,1354.4 1520.7,1354.8 1521.9,1355.2C1523.2,1355.7 1524.5,1356.1 1525.7,1356.6C1527.0,1357.0 1528.2,1357.4 1529.5,1357.9C1530.7,1358.3 1532.0,1358.8 1533.3,1359.2C1534.5,1359.6 1535.8,1360.1 1537.0,1360.5C1538.3,1361.0 1539.6,1361.4 1540.8,1361.8C1542.1,1362.3 1543.3,1362.7 1544.6,1363.1C1545.9,1363.6 1547.1,1364.0 1548.4,1364.5C1549.6,1364.9 1550.9,1365.3 1552.2,1365.7C1553.4,1366.2 1554.7,1366.6 1556.0,1367.0C1557.2,1367.5 1558.5,1367.9 1559.7,1368.3C1561.0,1368.7 1562.3,1369.2 1563.5,1369.6C1564.8,1370.0 1566.1,1370.4 1567.3,1370.8C1568.6,1371.2 1569.9,1371.6 1571.1,1372.1C1572.4,1372.5 1573.7,1372.9 1575.0,1373.3C1576.2,1373.7 1577.5,1374.1 1578.8,1374.5C1580.0,1374.9 1581.3,1375.3 1582.6,1375.7C1583.9,1376.1 1585.1,1376.5 1586.4,1376.8C1587.7,1377.2 1589.0,1377.6 1590.2,1378.0C1591.5,1378.4 1592.8,1378.8 1594.1,1379.1C1595.4,1379.5 1596.6,1379.9 1597.9,1380.3C1599.2,1380.6 1600.5,1381.0 1601.8,1381.4C1603.0,1381.7 1604.3,1382.1 1605.6,1382.5C1606.9,1382.8 1608.2,1383.2 1609.5,1383.6C1610.7,1383.9 1612.0,1384.3 1613.3,1384.6C1614.6,1385.0 1615.9,1385.3 1617.2,1385.7C1618.5,1386.0 1619.7,1386.4 1621.0,1386.7C1622.3,1387.0 1623.6,1387.4 1624.9,1387.7C1626.2,1388.1 1627.5,1388.4 1628.8,1388.7C1630.1,1389.1 1631.4,1389.4 1632.7,1389.7C1633.9,1390.0 1635.2,1390.4 1636.5,1390.7C1637.8,1391.0 1639.1,1391.3 1640.4,1391.6C1641.7,1392.0 1643.0,1392.3 1644.3,1392.6C1645.6,1392.9 1646.9,1393.2 1648.2,1393.5C1649.5,1393.8 1650.8,1394.1 1652.1,1394.4C1653.4,1394.7 1654.7,1395.0 1656.0,1395.3C1657.3,1395.6 1658.6,1395.9 1659.9,1396.2C1661.2,1396.5 1662.5,1396.8 1663.8,1397.1C1665.1,1397.4 1666.4,1397.7 1667.7,1398.0C1669.0,1398.2 1670.3,1398.5 1671.6,1398.8C1672.9,1399.1 1674.2,1399.4 1675.5,1399.6C1676.8,1399.9 1678.1,1400.2 1679.4,1400.5C1680.7,1400.7 1682.0,1401.0 1683.3,1401.3C1684.7,1401.5 1686.0,1401.8 1687.3,1402.0C1688.6,1402.3 1689.9,1402.6 1691.2,1402.8C1692.5,1403.1 1693.8,1403.3 1695.1,1403.6C1696.4,1403.8 1697.7,1404.1 1699.0,1404.3C1700.4,1404.6 1701.7,1404.8 1703.0,1405.1C1704.3,1405.3 1705.6,1405.6 1706.9,1405.8C1708.2,1406.0 1709.5,1406.3 1710.9,1406.5C1712.2,1406.8 1713.5,1407.0 1714.8,1407.2C1716.1,1407.5 1717.4,1407.7 1718.7,1407.9C1720.0,1408.1 1721.4,1408.4 1722.7,1408.6C1724.0,1408.8 1725.3,1409.0 1726.6,1409.3C1727.9,1409.5 1729.2,1409.7 1730.6,1409.9C1731.9,1410.1 1733.2,1410.3 1734.5,1410.5C1735.8,1410.8 1737.1,1411.0 1738.5,1411.2C1739.8,1411.4 1741.1,1411.6 1742.4,1411.8C1743.7,1412.0 1745.1,1412.2 1746.4,1412.4C1747.7,1412.6 1749.0,1412.8 1750.3,1413.0C1751.6,1413.2 1753.0,1413.4 1754.3,1413.6C1755.6,1413.8 1756.9,1413.9 1758.2,1414.1C1759.6,1414.3 1760.9,1414.5 1762.2,1414.7C1763.5,1414.9 1764.8,1415.1 1766.2,1415.2C1767.5,1415.4 1768.8,1415.6 1770.1,1415.8C1771.5,1415.9 1772.8,1416.1 1774.1,1416.3C1775.4,1416.5 1776.7,1416.6 1778.1,1416.8C1779.4,1417.0 1780.7,1417.1 1782.0,1417.3C1783.4,1417.5 1784.7,1417.6 1786.0,1417.8C1787.3,1418.0 1788.6,1418.1 1790.0,1418.3C1791.3,1418.4 1792.6,1418.6 1793.9,1418.8C1795.3,1418.9 1796.6,1419.1 1797.9,1419.2C1799.2,1419.4 1800.6,1419.5 1801.9,1419.7C1803.2,1419.8 1804.5,1420.0 1805.9,1420.1C1807.2,1420.3 1808.5,1420.4 1809.8,1420.5C1811.2,1420.7 1812.5,1420.8 1813.8,1421.0C1815.1,1421.1 1816.5,1421.2 1817.8,1421.4C1819.1,1421.5 1820.5,1421.6 1821.8,1421.8C1823.1,1421.9 1824.4,1422.0 1825.8,1422.2C1827.1,1422.3 1828.4,1422.4 1829.7,1422.6C1831.1,1422.7 1832.4,1422.8 1833.7,1422.9C1835.1,1423.1 1836.4,1423.2 1837.7,1423.3C1839.0,1423.4 1840.4,1423.5 1841.7,1423.7C1843.0,1423.8 1844.4,1423.9 1845.7,1424.0C1847.0,1424.1 1848.3,1424.2 1849.7,1424.3C1851.0,1424.5 1852.3,1424.6 1853.7,1424.7C1855.0,1424.8 1856.3,1424.9 1857.6,1425.0C1859.0,1425.1 1860.3,1425.2 1861.6,1425.3C1863.0,1425.4 1864.3,1425.5 1865.6,1425.6C1866.9,1425.7 1868.3,1425.8 1869.6,1425.9C1870.9,1426.0 1872.3,1426.1 1873.6,1426.2C1874.9,1426.3 1876.3,1426.4 1877.6,1426.5C1878.9,1426.6 1880.2,1426.7 1881.6,1426.7C1882.9,1426.8 1884.2,1426.9 1885.6,1427.0C1886.9,1427.1 1888.2,1427.2 1889.6,1427.3C1890.9,1427.3 1892.2,1427.4 1893.6,1427.5C1894.9,1427.6 1896.2,1427.7 1897.5,1427.8C1898.9,1427.8 1900.2,1427.9 1901.5,1428.0C1902.9,1428.1 1904.2,1428.1 1905.5,1428.2C1906.9,1428.3 1908.2,1428.4 1909.5,1428.4C1910.9,1428.5 1912.2,1428.6 1913.5,1428.6C1914.9,1428.7 1916.2,1428.8 1917.5,1428.9C1918.8,1428.9 1920.2,1429.0 1921.5,1429.1C1922.8,1429.1 1924.2,1429.2 1925.5,1429.2C1926.8,1429.3 1928.2,1429.4 1929.5,1429.4C1930.8,1429.5 1932.2,1429.6 1933.5,1429.6C1934.8,1429.7 1936.2,1429.7 1937.5,1429.8C1938.8,1429.8 1940.2,1429.9 1941.5,1430.0C1942.8,1430.0 1944.2,1430.1 1945.5,1430.1C1946.8,1430.2 1948.2,1430.2 1949.5,1430.3C1950.8,1430.3 1952.2,1430.4 1953.5,1430.4C1954.8,1430.5 1956.1,1430.5 1957.5,1430.6C1958.8,1430.6 1960.1,1430.7 1961.5,1430.7C1962.8,1430.7 1964.1,1430.8 1965.5,1430.8C1966.8,1430.9 1968.1,1430.9 1969.5,1431.0C1970.8,1431.0 1972.1,1431.0 1973.5,1431.1C1974.8,1431.1 1976.1,1431.2 1977.5,1431.2C1978.8,1431.2 1980.1,1431.3 1981.5,1431.3C1982.8,1431.3 1984.1,1431.4 1985.5,1431.4C1986.8,1431.4 1988.1,1431.5 1989.5,1431.5C1990.8,1431.5 1992.1,1431.6 1993.5,1431.6C1994.8,1431.6 1996.1,1431.7 1997.5,1431.7C1998.8,1431.7 2000.1,1431.8 2001.5,1431.8C2002.8,1431.8 2004.1,1431.8 2005.5,1431.9C2006.8,1431.9 2008.1,1431.9 2009.5,1431.9C2010.8,1432.0 2012.1,1432.0 2013.5,1432.0C2014.8,1432.0 2016.1,1432.1 2017.5,1432.1C2018.8,1432.1 2020.1,1432.1 2021.5,1432.2C2022.8,1432.2 2024.1,1432.2 2025.5,1432.2C2026.8,1432.2 2028.1,1432.3 2029.5,1432.3C2030.8,1432.3 2032.1,1432.3 2033.5,1432.3" stroke="#cf3a35"/>
</g>
<g stroke="#000" stroke-width="5" fill="none">
<path d="M301,56H280.5V1442.5H2033.5" stroke-linejoin="miter"/>
<path d="M280.5,1211H301"/>
<path d="M280.5,980H301"/>
<path d="M280.5,749H301"/>
<path d="M280.5,518H301"/>
<path d="M280.5,287H301"/>
<path d="M718.3,1442.5V1422"/>
<path d="M1156.1,1442.5V1422"/>
<path d="M1593.9,1442.5V1422"/>
<path d="M2031.7,1442.5V1422"/>
</g>
<text transform="translate(194.27,1460.00) scale(1.0144,1)" font-size="55.00" fill="#000" stroke="#fff" stroke-width="0.89">0</text>
<text transform="translate(128.43,1229.00) scale(1.0604,1)" font-size="55.00" fill="#000" stroke="#fff" stroke-width="0.85">100</text>
<text transform="translate(129.93,998.00) scale(1.0436,1)" font-size="55.00" fill="#000" stroke="#fff" stroke-width="0.86">200</text>
<text transform="translate(130.52,767.00) scale(1.0370,1)" font-size="55.00" fill="#000" stroke="#fff" stroke-width="0.87">300</text>
<text transform="translate(131.39,536.00) scale(1.0273,1)" font-size="55.00" fill="#000" stroke="#fff" stroke-width="0.88">400</text>
<text transform="translate(130.52,305.00) scale(1.0370,1)" font-size="55.00" fill="#000" stroke="#fff" stroke-width="0.87">500</text>
<text transform="translate(129.93,74.00) scale(1.0436,1)" font-size="55.00" fill="#000" stroke="#fff" stroke-width="0.86">600</text>
<text transform="translate(233.23,1540.00) scale(1.0324,1)" font-size="55.00" fill="#000" stroke="#fff" stroke-width="0.87">375</text>
<text transform="translate(671.89,1540.00) scale(1.0227,1)" font-size="55.00" fill="#000" stroke="#fff" stroke-width="0.88">425</text>
<text transform="translate(1109.69,1540.00) scale(1.0081,1)" font-size="55.80" fill="#000" stroke="#fff" stroke-width="0.89">475</text>
<text transform="translate(1546.63,1540.00) scale(1.0324,1)" font-size="55.00" fill="#000" stroke="#fff" stroke-width="0.87">525</text>
<text transform="translate(1984.43,1540.00) scale(1.0177,1)" font-size="55.80" fill="#000" stroke="#fff" stroke-width="0.88">575</text>
<text transform="translate(95.00,1112.09) rotate(-90) scale(0.9738,1)" font-size="55.07" font-weight="bold">Fluorescence Intensity / a.u.</text>
<text font-family="'Liberation Serif', serif" transform="translate(1098.42,1607.50) scale(1.5406,1)" font-size="59.72" font-weight="bold" font-style="italic" fill="#000">λ</text>
<text transform="translate(1145,1614.9) skewX(-6)" font-size="70.7" font-weight="bold">/</text>
<text transform="translate(1179.75,1607.50) scale(1.0104,1)" font-size="55.56" font-weight="bold" fill="#000">nm</text>
<text transform="translate(952.04,132.30) scale(1.0376,1)" font-size="44.93" font-weight="bold" fill="#000">[TNT] / M</text>
<text transform="translate(951.12,192.30) scale(0.9986,1)" font-size="47.14" fill="#000" stroke="#fff" stroke-width="0.90">0.00</text>
<text transform="translate(951.18,254.65) scale(0.9847,1)" font-size="47.14" fill="#000" stroke="#fff" stroke-width="0.91">7.40<tspan fill="#4a4a4a">×</tspan>10</text>
<text transform="translate(1121.80,239.15) scale(0.9943,1)" font-size="28.99" fill="#000">-5</text>
<text transform="translate(949.99,317.00) scale(0.9917,1)" font-size="47.14" fill="#000" stroke="#fff" stroke-width="0.91">1.48<tspan fill="#4a4a4a">×</tspan>10</text>
<text transform="translate(1121.82,301.50) scale(0.9821,1)" font-size="28.99" fill="#000">-4</text>
<text transform="translate(951.18,379.35) scale(0.9847,1)" font-size="47.14" fill="#000" stroke="#fff" stroke-width="0.91">2.20<tspan fill="#4a4a4a">×</tspan>10</text>
<text transform="translate(1121.82,363.85) scale(0.9821,1)" font-size="28.99" fill="#000">-4</text>
<text transform="translate(951.18,441.70) scale(0.9847,1)" font-size="47.14" fill="#000" stroke="#fff" stroke-width="0.91">2.91<tspan fill="#4a4a4a">×</tspan>10</text>
<text transform="translate(1121.82,426.20) scale(0.9821,1)" font-size="28.99" fill="#000">-4</text>
<text transform="translate(951.65,504.05) scale(0.9820,1)" font-size="47.14" fill="#000" stroke="#fff" stroke-width="0.92">3.61<tspan fill="#4a4a4a">×</tspan>10</text>
<text transform="translate(1121.82,488.55) scale(0.9821,1)" font-size="28.99" fill="#000">-4</text>
<text transform="translate(952.35,566.40) scale(0.9778,1)" font-size="47.14" fill="#000" stroke="#fff" stroke-width="0.92">4.31<tspan fill="#4a4a4a">×</tspan>10</text>
<text transform="translate(1121.82,550.90) scale(0.9821,1)" font-size="28.99" fill="#000">-4</text>
<text transform="translate(951.65,628.75) scale(0.9820,1)" font-size="47.14" fill="#000" stroke="#fff" stroke-width="0.92">5.66<tspan fill="#4a4a4a">×</tspan>10</text>
<text transform="translate(1121.82,613.25) scale(0.9821,1)" font-size="28.99" fill="#000">-4</text>
<text transform="translate(951.41,691.10) scale(0.9833,1)" font-size="47.14" fill="#000" stroke="#fff" stroke-width="0.92">8.26<tspan fill="#4a4a4a">×</tspan>10</text>
<text transform="translate(1121.82,675.60) scale(0.9821,1)" font-size="28.99" fill="#000">-4</text>
<g stroke="#000" stroke-width="5.2" fill="none" stroke-linecap="butt">
<path d="M895.5,212.7L891.9,652"/>
<path d="M870,614L891.9,654L915,614" stroke-linejoin="miter"/>
</g>
<g stroke="#000" fill="none">
<rect x="1374.7" y="126.5" width="731.5" height="509.2" stroke-width="5.5"/>
<path d="M1374.7,296.2H1392" stroke-width="4"/>
<path d="M1374.7,465.9H1392" stroke-width="4"/>
</g>
<text transform="translate(1269.16,141.30) scale(0.9981,1)" font-size="46.86" fill="#000" stroke="#fff" stroke-width="0.90">2.0</text>
<text transform="translate(1267.91,311.00) scale(1.0217,1)" font-size="46.86" fill="#000" stroke="#fff" stroke-width="0.88">1.6</text>
<text transform="translate(1267.90,480.70) scale(1.0257,1)" font-size="46.86" fill="#000" stroke="#fff" stroke-width="0.88">1.2</text>
<text transform="translate(1269.64,650.50) scale(0.9905,1)" font-size="46.86" fill="#000" stroke="#fff" stroke-width="0.91">0.8</text>
<rect x="1363.9" y="540.2" width="21.6" height="21.6" rx="3" fill="#00008c"/>
<rect x="1419.9" y="522.6" width="21.6" height="21.6" rx="3" fill="#00008c"/>
<rect x="1472.4" y="492.7" width="21.6" height="21.6" rx="3" fill="#00008c"/>
<rect x="1525.6" y="455.3" width="21.6" height="21.6" rx="3" fill="#00008c"/>
<rect x="1578.7" y="431.6" width="21.6" height="21.6" rx="3" fill="#00008c"/>
<rect x="1628.5" y="389.2" width="21.6" height="21.6" rx="3" fill="#00008c"/>
<rect x="1678.8" y="348.7" width="21.6" height="21.6" rx="3" fill="#00008c"/>
<rect x="1779.1" y="302.3" width="21.6" height="21.6" rx="3" fill="#00008c"/>
<rect x="1969.8" y="160.1" width="21.6" height="21.6" rx="3" fill="#00008c"/>
<path d="M1377,566.2L1980.6,179.5" stroke="#000" stroke-width="4.2"/>
<text transform="translate(1425.48,212.00) scale(0.9719,1)" font-size="60.00" font-weight="bold" fill="#000">(a)</text>
<text transform="translate(1262.30,446.13) rotate(-90) scale(0.8209,1)" font-size="50.72" font-weight="bold" font-style="italic">F</text>
<text transform="translate(1273.80,422.43) rotate(-90) scale(1.0892,1)" font-size="32.86" font-weight="bold">0</text>
<text transform="translate(1262.30,398.61) rotate(-90) scale(1.0619,1)" font-size="50.72" font-weight="bold" font-style="italic">/F</text>
<text transform="translate(1657.78,521.00) scale(0.9684,1)" font-size="45.71" fill="#000" stroke="#fff" stroke-width="0.93">y = 1099.6x + 0.9631</text>
<text transform="translate(1750.70,580.50) scale(0.7860,1)" font-size="47.68" fill="#000" stroke="#fff" stroke-width="1.14">R</text>
<text transform="translate(1779.01,561.40) scale(0.9474,1)" font-size="27.14" fill="#000">2</text>
<text transform="translate(1804.63,580.50) scale(0.9647,1)" font-size="47.00" fill="#000" stroke="#fff" stroke-width="0.93">= 0.9947</text>
<g stroke="#000" fill="none">
<rect x="1378" y="674.3" width="731.6" height="509.3" stroke-width="5.5"/>
<path d="M1378,844.1H1392" stroke-width="4"/>
<path d="M1378,1013.9H1392" stroke-width="4"/>
<path d="M1743.3,1183.6V1169" stroke-width="4"/>
</g>
<text transform="translate(1269.16,689.80) scale(0.9981,1)" font-size="46.86" fill="#000" stroke="#fff" stroke-width="0.90">2.0</text>
<text transform="translate(1267.91,859.60) scale(1.0217,1)" font-size="46.86" fill="#000" stroke="#fff" stroke-width="0.88">1.6</text>
<text transform="translate(1267.90,1029.40) scale(1.0257,1)" font-size="46.86" fill="#000" stroke="#fff" stroke-width="0.88">1.2</text>
<text transform="translate(1269.64,1199.10) scale(0.9905,1)" font-size="46.86" fill="#000" stroke="#fff" stroke-width="0.91">0.8</text>
<rect x="1366.8" y="1090.9" width="21.6" height="21.6" rx="3" fill="#00008c"/>
<rect x="1419.3" y="1082.4" width="21.6" height="21.6" rx="3" fill="#00008c"/>
<rect x="1475.2" y="1067.7" width="21.6" height="21.6" rx="3" fill="#00008c"/>
<rect x="1528.8" y="1043.4" width="21.6" height="21.6" rx="3" fill="#00008c"/>
<rect x="1578.7" y="1037.7" width="21.6" height="21.6" rx="3" fill="#00008c"/>
<rect x="1631.8" y="1016.8" width="21.6" height="21.6" rx="3" fill="#00008c"/>
<rect x="1682.1" y="997.0" width="21.6" height="21.6" rx="3" fill="#00008c"/>
<rect x="1781.6" y="987.7" width="21.6" height="21.6" rx="3" fill="#00008c"/>
<rect x="1972.8" y="941.6" width="21.6" height="21.6" rx="3" fill="#00008c"/>
<path d="M1380,1099.5L1983.6,945.5" stroke="#000" stroke-width="4.2"/>
<text transform="translate(1413.03,762.00) scale(0.9887,1)" font-size="60.00" font-weight="bold" fill="#000">(b)</text>
<text transform="translate(1256.30,974.83) rotate(-90) scale(0.8209,1)" font-size="50.72" font-weight="bold" font-style="italic">F</text>
<text transform="translate(1267.80,951.13) rotate(-90) scale(1.0892,1)" font-size="32.86" font-weight="bold">0</text>
<text transform="translate(1256.30,927.36) rotate(-90) scale(1.0347,1)" font-size="50.72" font-weight="bold" font-style="italic">/F</text>
<text transform="translate(1693.28,1089.30) scale(0.9899,1)" font-size="44.43" fill="#000" stroke="#fff" stroke-width="0.91">y = 440.7x + 0.9995</text>
<text transform="translate(1771.39,1147.70) scale(0.8042,1)" font-size="46.81" fill="#000" stroke="#fff" stroke-width="1.12">R</text>
<text transform="translate(1799.13,1130.30) scale(0.9664,1)" font-size="28.43" fill="#000">2</text>
<text transform="translate(1824.30,1147.70) scale(0.9951,1)" font-size="46.14" fill="#000" stroke="#fff" stroke-width="0.90">= 0.9861</text>
<text transform="translate(1371.70,1252.00) scale(1.0093,1)" font-size="47.14" fill="#000" stroke="#fff" stroke-width="0.89">0</text>
<text transform="translate(1689.38,1252.00) scale(1.0166,1)" font-size="47.14" fill="#000" stroke="#fff" stroke-width="0.89">5×10</text>
<text transform="translate(1797.26,1239.60) scale(1.1465,1)" font-size="27.83" fill="#000">-4</text>
<text transform="translate(2037.57,1252.00) scale(1.0253,1)" font-size="47.14" fill="#000" stroke="#fff" stroke-width="0.88">1×10</text>
<text transform="translate(2146.88,1239.60) scale(1.1530,1)" font-size="27.43" fill="#000">-3</text>
<text transform="translate(1630.68,1324.40) scale(1.0811,1)" font-size="49.13" font-weight="bold" fill="#000">[TNT] / M</text>
</svg></body></html>
